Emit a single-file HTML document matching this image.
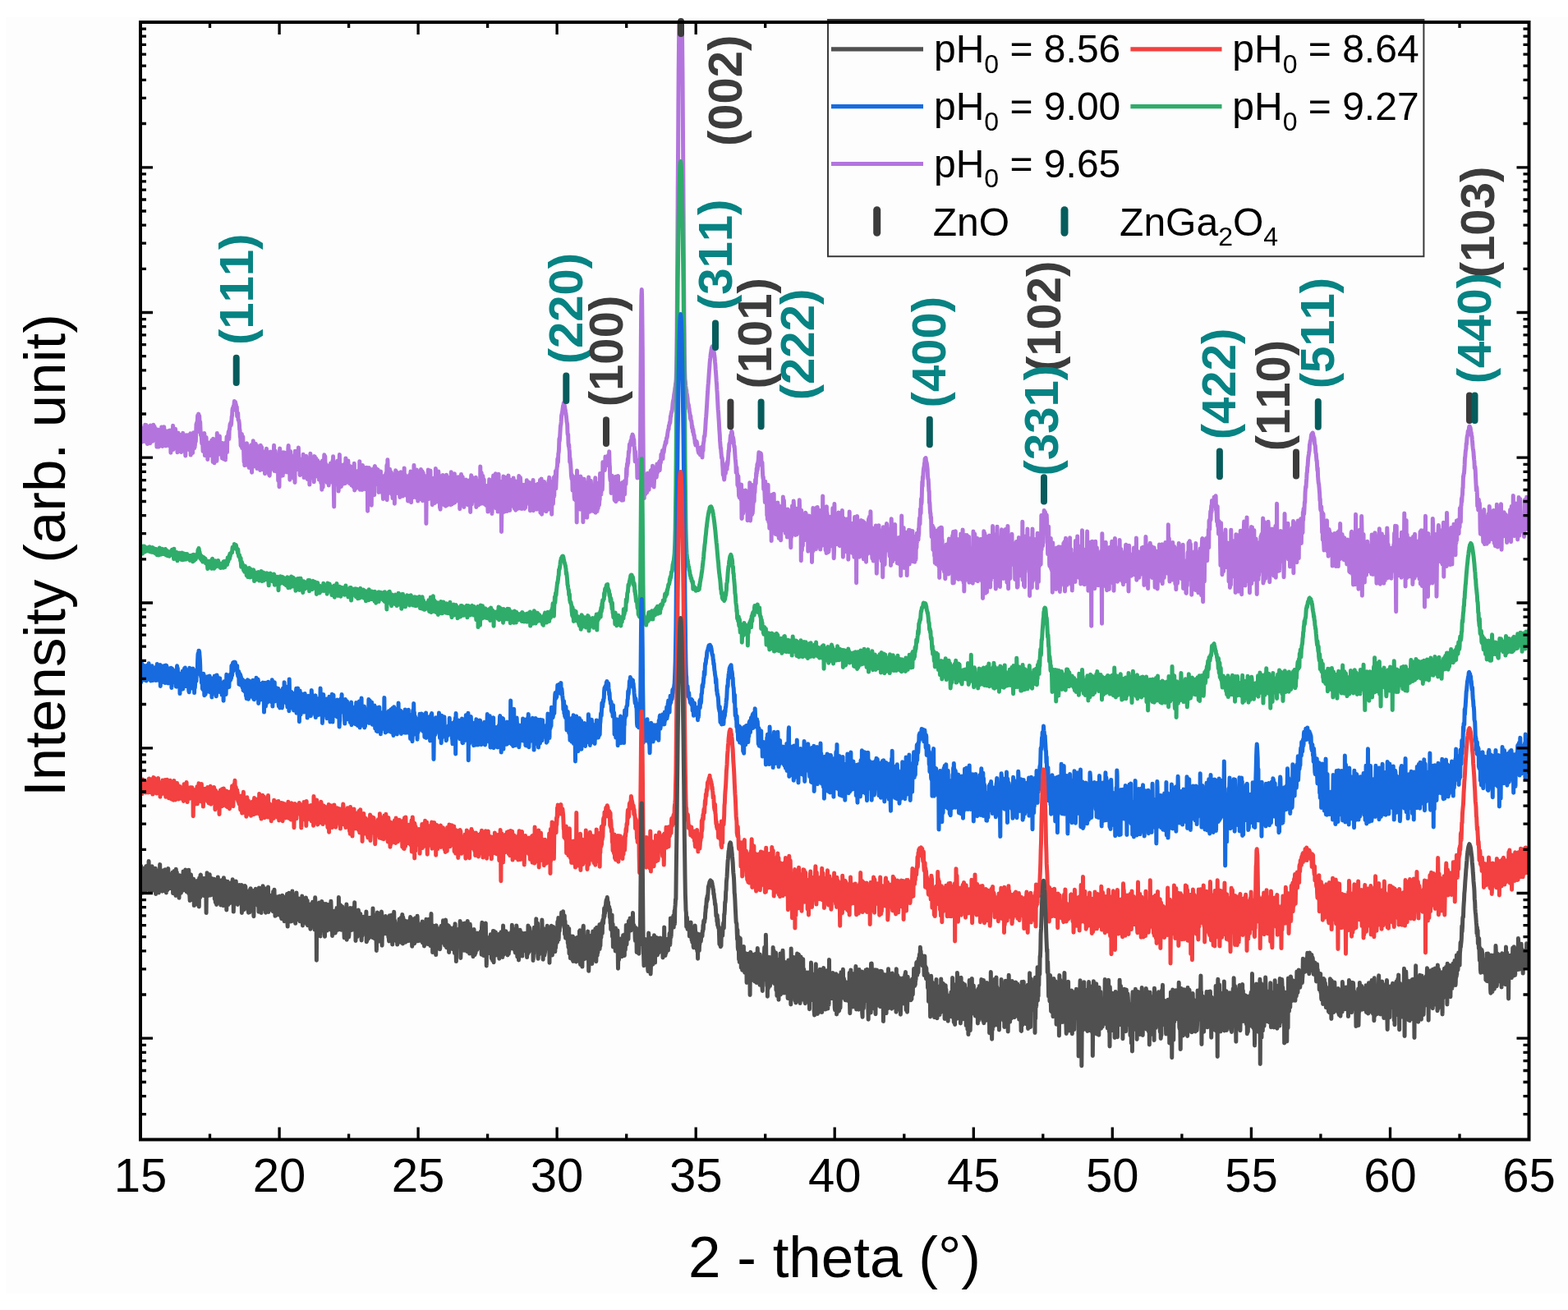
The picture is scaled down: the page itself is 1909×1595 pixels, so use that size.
<!DOCTYPE html><html><head><meta charset="utf-8"><title>XRD</title><style>html,body{margin:0;padding:0;background:#fff;width:1909px;height:1595px;overflow:hidden}svg{display:block}text{font-kerning:none}</style></head><body><svg xmlns="http://www.w3.org/2000/svg" width="1909" height="1595" viewBox="0 0 1909 1595"><rect width="1909" height="1595" fill="#fff"/><rect x="7" y="21" width="1902" height="1554" fill="#fdfdfd"/><defs><clipPath id="pc"><rect x="171.0" y="27.0" width="1690.5" height="1360.5"/></clipPath></defs><g clip-path="url(#pc)" fill="none" stroke-width="5" stroke-linejoin="round" stroke-linecap="round"><path stroke="#b375dd" d="M171.0 517.6l.3 21.9 .4 -16.8 .3 6.8 .4 4.7 .3 -1.7 .3 -6.6 .4 3.7 .3 3.4 .3 -5.8 .4 10.4 .3 -16.3 .4 11.9 .3 -4.6 .3 -.8 .4 5.2 .3 .5 .3 -16.3 .4 18.8 .3 -3 .4 -4.3 .3 -11.1 .3 21.1 .4 -5.3 .3 -10.2 .4 17.4 .3 -9.9 .3 .2 .4 3.2 .3 -14.7 .3 16.8 .4 -5.1 .3 -4.2 .4 1.5 .3 2.3 .3 9.1 .4 -21.7 .3 8 .3 7.8 .4 .4 .3 -15.7 .4 3.6 .3 2.3 .3 3.5 .4 9.2 .3 -11.5 .4 -1.8 .3 -6.6 .3 4.3 .4 13.8 .3 -2.9 .3 -13 .4 8.2 .3 -5.4 .4 -.4 .3 13.9 .3 -8.5 .4 9.3 .3 -10.4 .3 17.9 .4 -3.3 .3 -2.8 .4 -7.2 .3 -7.8 .3 10.5 .4 -2.2 .3 12.8 .4 -3.3 .3 -12.3 .3 7.3 .4 -1.5 .3 3 .3 -5.6 .4 -7.1 .3 2.9 .4 10.8 .3 -18.4 .3 .6 .4 2.1 .3 20.8 .3 -2.5 .4 -12.1 .3 9.2 .4 -2.2 .3 -2.7 .3 -13.4 .4 11.1 .3 8.3 .4 -4.2 .3 -9.9 .3 8.3 .4 9.6 .3 -4.8 .3 .3 .4 -13.4 .3 4.9 .4 -3.3 .3 4.1 .3 2.6 .4 7.1 .3 -5.3 .3 7.5 .4 -18 .3 7.3 .4 -4.6 .3 9.7 .3 -12.9 .4 19.6 .3 -18.8 .4 26.3 .3 -17.9 .3 -3 .4 -6.3 .3 7.5 .3 .2 .4 12.1 .3 -9.1 .4 -16.4 .3 29.1 .3 -14.3 .4 8 .3 -.4 .3 -6.7 .4 4.5 .3 -1.5 .4 .4 .3 -15.1 .3 13.5 .4 .3 .3 -2 .4 -6.1 .3 12.3 .3 1.4 .4 9.1 .3 -13 .3 9.7 .4 -20.5 .3 11.1 .4 1.2 .3 -2.4 .3 6.9 .4 1.5 .3 -1.6 .3 -9.5 .4 2.5 .3 -7.2 .4 20.9 .3 .1 .3 -21 .4 11.2 .3 -6.3 .4 7.9 .3 -6.3 .3 -8.7 .4 18.9 .3 -10.3 .3 -3.8 .4 .8 .3 8.2 .4 -7.2 .3 5.9 .3 4.6 .4 10.6 .3 -17.7 .3 -3.3 .4 -4.3 .3 6.9 .4 -.3 .3 -3 .3 8.8 .4 -5.5 .3 6.6 .4 2.5 .3 -10.5 .3 -5.6 .4 18.2 .3 -5.3 .3 -5.9 .4 2.6 .3 9.8 .4 -21.3 .3 26.4 .3 -9.7 .4 -8.7 .3 3.3 .3 -9.8 .4 7.9 .3 9 .4 5.3 .3 -15.5 .3 8.7 .4 -17.8 .3 2.9 .4 13.2 .3 2.8 .3 -9.9 .4 8.1 .3 -7.8 .3 -2.5 .4 4.1 .3 -8.1 .4 -13.2 .3 10 .3 -11.8 .4 .7 .3 -1.4 .3 -7.9 .4 4.3 .3 1.7 .4 -8.1 .3 8 .3 4 .4 -9.7 .3 6.7 .4 13.4 .3 -12.8 .3 8.1 .4 8.2 .3 -1.1 .3 .5 .4 4.5 .3 6.3 .4 -5.3 .3 -6.9 .3 11.9 .4 9.8 .3 -6.2 .3 3.1 .4 -2.5 .3 -11.5 .4 -4.8 .3 8 .3 19 .4 -7.1 .3 -5.5 .4 11.5 .3 -17.7 .3 -3.2 .4 15.6 .3 .5 .3 -1.5 .4 -8.7 .3 20.9 .4 -12.2 .3 7.7 .3 -9.8 .4 -4.1 .3 3.5 .3 .9 .4 -3.2 .3 .5 .4 11.7 .3 -15.9 .3 .2 .4 12.4 .3 2 .4 -3.9 .3 -13.3 .3 13.3 .4 -2.3 .3 -2.2 .3 17.7 .4 -28.2 .3 17 .4 .9 .3 -5.1 .3 16.8 .4 -11.7 .3 8.5 .3 -11.7 .4 5.9 .3 1.2 .4 -19.7 .3 2.3 .3 12.2 .4 10.4 .3 -33.7 .4 22.9 .3 3.3 .3 -20 .4 5.7 .3 8.8 .3 -13.5 .4 9.7 .3 2.3 .4 -15.6 .3 22 .3 -14.3 .4 6.9 .3 1.4 .3 -7 .4 -.9 .3 12.4 .4 -11.5 .3 17.9 .3 -6 .4 -12.5 .3 6.4 .4 .3 .3 9 .3 3.7 .4 -17.2 .3 2.1 .3 12.8 .4 -14.1 .3 7.6 .4 9.8 .3 -20.9 .3 3.9 .4 .9 .3 -4.2 .3 -7.7 .4 18.7 .3 -17.7 .4 3 .3 -4 .3 -2 .4 -4.1 .3 2.2 .4 6.5 .3 -11.7 .3 .4 .4 -5 .3 -2 .3 0 .4 -1.7 .3 3.3 .4 -1.6 .3 -4.6 .3 -4.4 .4 -1.1 .3 -6.3 .3 -2.5 .4 3 .3 -3 .4 -2.7 .3 -.4 .3 -.3 .4 -5.3 .3 .1 .4 2.2 .3 1.2 .3 -2.6 .4 4 .3 -1.2 .3 4.6 .4 -1.4 .3 .2 .4 11.1 .3 -2.7 .3 1.5 .4 -2.7 .3 7.8 .3 1 .4 -.1 .3 1.5 .4 3.4 .3 6.6 .3 -0 .4 9.3 .3 -2.1 .4 12.4 .3 -12.6 .3 7.4 .4 -5.7 .3 -3.2 .3 17 .4 -4.7 .3 -2.2 .4 -6.9 .3 14.8 .3 -6.8 .4 14.3 .3 8.6 .3 -17.8 .4 21.9 .3 -23 .4 21 .3 -14.8 .3 2.9 .4 -3.7 .3 6.1 .4 -10.5 .3 -5 .3 16.1 .4 10.5 .3 -19.4 .3 6.5 .4 8 .3 -0 .4 -6 .3 13.9 .3 -21.7 .4 -3.5 .3 14 .3 -7.3 .4 -.6 .3 4.2 .4 -12.6 .3 16.5 .3 5.7 .4 11.1 .3 -30.4 .4 23.4 .3 -10.2 .3 -15.2 .4 -6.1 .3 31.6 .3 -19 .4 -7.2 .3 22.3 .4 -11.4 .3 -10.9 .3 -1.3 .4 25 .3 -25.6 .3 26.2 .4 -5.2 .3 -13.4 .4 -5.4 .3 28.2 .3 -18.9 .4 7.1 .3 5.2 .4 -16.5 .3 -1.4 .3 -1.7 .4 19.5 .3 5.7 .3 -8.4 .4 -5.8 .3 17.1 .4 -10.2 .3 -20 .3 10.2 .4 14 .3 -6.2 .3 -15.8 .4 27.1 .3 -12 .4 3.6 .3 -6.6 .3 -7.1 .4 20.9 .3 1.6 .4 -3 .3 -14 .3 3.2 .4 18.6 .3 -2.7 .3 -11.7 .4 -9.8 .3 2.4 .4 10.9 .3 -19.6 .3 23.9 .4 -3.3 .3 4.5 .3 -5.5 .4 -12 .3 2 .4 3.7 .3 14.9 .3 2.7 .4 1.5 .3 .3 .4 -6.1 .3 -6.6 .3 -16.3 .4 19.8 .3 -19.1 .3 14.5 .4 4.9 .3 -18.3 .4 8.6 .3 .6 .3 1.6 .4 -9.3 .3 17.8 .3 -8.3 .4 -13 .3 -7.5 .4 31.2 .3 -24.1 .3 1.2 .4 5.2 .3 -6.8 .4 9.1 .3 3.3 .3 -8.5 .4 21.4 .3 -16.5 .3 11 .4 -5.9 .3 9.3 .4 -9 .3 21.9 .3 -.5 .4 -27.3 .3 4.9 .3 30.6 .4 -40.1 .3 -6.7 .4 31.8 .3 -19.8 .3 9.8 .4 -.3 .3 -3.9 .4 15.5 .3 .1 .3 -5.6 .4 -3.8 .3 -8.2 .3 17.3 .4 -28.2 .3 8.7 .4 15.3 .3 -19.3 .3 16.3 .4 -20.6 .3 18.3 .4 -4.3 .3 -10.3 .3 -2.5 .4 5 .3 15.9 .3 1.7 .4 -.8 .3 -2.2 .4 -6.9 .3 10 .3 -19 .4 -10.5 .3 -3.1 .3 14.6 .4 15.3 .3 -2.4 .4 -.7 .3 15 .3 -1.9 .4 -32.7 .3 6.7 .4 -2.7 .3 25.1 .3 -16.9 .4 -5 .3 2.5 .3 .6 .4 19.6 .3 -.2 .4 -20.7 .3 17.3 .3 5 .4 1.9 .3 -3.9 .3 -8.6 .4 17.2 .3 -38.3 .4 20.1 .3 -9 .3 8.8 .4 -.7 .3 3 .4 -9.7 .3 10.1 .3 -17.2 .4 9.4 .3 5.7 .3 -14.7 .4 -10 .3 20.4 .4 -6.4 .3 9.2 .3 -9.7 .4 20 .3 -4 .3 -3.2 .4 3.8 .3 -2.5 .4 .8 .3 -14.2 .3 11.5 .4 -9.5 .3 12.3 .4 -6.6 .3 11 .3 -24.6 .4 14.3 .3 3.7 .3 10.3 .4 -14 .3 1.3 .4 3.9 .3 -.2 .3 -5.3 .4 -11.7 .3 5.9 .3 -6.3 .4 24 .3 -16.2 .4 10.3 .3 10.1 .3 -19.2 .4 16.2 .3 -20.3 .4 .4 .3 16.2 .3 -6 .4 4 .3 15.4 .3 -16.5 .4 -0 .3 -21.3 .4 25.6 .3 -17.6 .3 15.3 .4 -8.7 .3 -1.8 .3 -0 .4 5.4 .3 8.3 .4 -20.3 .3 23.8 .3 -9.2 .4 6.6 .3 7.1 .4 -31.2 .3 20.1 .3 -19.8 .4 4.1 .3 3.7 .3 1.1 .4 11 .3 -17.2 .4 9.1 .3 12.3 .3 -.5 .4 -9.5 .3 -9.4 .3 18.7 .4 -9.9 .3 8.9 .4 -9 .3 14.8 .3 -4.2 .4 2.9 .3 -10.5 .4 -9 .3 4.9 .3 2.3 .4 17.4 .3 -13.7 .3 -3.9 .4 25.9 .3 -21.8 .4 -13.3 .3 17.7 .3 14.3 .4 -14.1 .3 -12.7 .3 2 .4 -7.4 .3 -7.1 .4 6.7 .3 10.5 .3 -15.4 .4 18.7 .3 -8 .4 -.9 .3 -.1 .3 7.6 .4 7.3 .3 7.4 .3 -5.9 .4 -1.1 .3 -6.7 .4 -6.5 .3 9.6 .3 14 .4 -16.8 .3 11.6 .3 -12 .4 6.5 .3 -9.6 .4 10 .3 -16.8 .3 14.4 .4 2.7 .3 2.7 .4 -14.8 .3 5.9 .3 12.6 .4 -26.6 .3 26 .3 -31 .4 16.4 .3 21.5 .4 23.2 .3 -53.7 .3 17.2 .4 -6.2 .3 2.5 .3 -2.9 .4 2.9 .3 -2.1 .4 9.6 .3 -11 .3 -4.2 .4 20.9 .3 -28.6 .4 17.5 .3 -6.5 .3 8.2 .4 17.6 .3 -3.4 .3 -24.1 .4 -7.7 .3 -9.3 .4 27.1 .3 -15.7 .3 8.1 .4 5 .3 6.8 .3 7.6 .4 -15.5 .3 -9.8 .4 9.3 .3 -10.2 .3 13.8 .4 -13.6 .3 12.4 .4 -10.4 .3 20.4 .3 -3.3 .4 -7.5 .3 -.1 .3 -13.2 .4 -.7 .3 24.4 .4 -30.6 .3 10 .3 14.2 .4 -.8 .3 .7 .3 -4 .4 1.8 .3 -2.3 .4 9.3 .3 -25.8 .3 10.7 .4 -.1 .3 8.3 .4 -6 .3 14.8 .3 .1 .4 -7 .3 -4.6 .3 -9.4 .4 15.7 .3 -5.3 .4 12.7 .3 -13.6 .3 -2.8 .4 6.3 .3 4.9 .3 2.4 .4 -13.4 .3 18.2 .4 -8.7 .3 3.2 .3 -23.1 .4 32.6 .3 -23 .4 9.5 .3 9.1 .3 -9.3 .4 6.1 .3 5.2 .3 -.6 .4 -19.8 .3 20 .4 -7.3 .3 3.1 .3 -6.1 .4 -7 .3 16.3 .3 -20 .4 13.5 .3 7 .4 -31.9 .3 29 .3 5.6 .4 -2.8 .3 -24.3 .4 23 .3 -6.2 .3 -1.7 .4 -1.7 .3 13.8 .3 -12.5 .4 -17.3 .3 8.1 .4 -1 .3 20.3 .3 -24.9 .4 14.3 .3 0 .3 -2.6 .4 -.4 .3 15.2 .4 -12.2 .3 -3.2 .3 6 .4 -5.8 .3 -5.2 .4 -5.9 .3 15 .3 -12.4 .4 50.4 .3 -49.9 .3 17 .4 15.8 .3 -22.3 .4 -13.5 .3 21.1 .3 -11.1 .4 12.3 .3 -6.8 .3 5.3 .4 1.2 .3 -16.8 .4 20.2 .3 20.4 .3 -26 .4 -1.6 .3 -16.2 .4 22.8 .3 -10.9 .3 -11 .4 .2 .3 10.8 .3 -10 .4 29.4 .3 -34 .4 -1.2 .3 7.8 .3 -3.2 .4 -2.3 .3 20 .3 -18.3 .4 12.6 .3 2.9 .4 -5.1 .3 -0 .3 -4.8 .4 -5.4 .3 19 .4 -15.9 .3 24.7 .3 -8.4 .4 3.4 .3 -14.2 .3 5.8 .4 5.9 .3 -13.3 .4 -4.8 .3 17.2 .3 -1.7 .4 -9.4 .3 5.2 .3 14.3 .4 -16.7 .3 18.1 .4 1 .3 5.6 .3 -26 .4 13.9 .3 -13.2 .4 -.4 .3 -2.5 .3 15.2 .4 3.6 .3 -15.2 .3 3.4 .4 -10 .3 15.5 .4 -6.7 .3 -18.5 .3 42.1 .4 -20.7 .3 -28.2 .3 10.1 .4 14.3 .3 5.7 .4 .5 .3 3.2 .3 6.6 .4 -15.4 .3 -13.5 .4 22.2 .3 4.1 .3 -3.6 .4 5.9 .3 -24.8 .3 7.2 .4 19.6 .3 -14.1 .4 4.5 .3 14.3 .3 -6.7 .4 -2.7 .3 -12.2 .3 7.3 .4 -11 .3 -3.9 .4 35.9 .3 -22.2 .3 -6.8 .4 11.2 .3 -22.8 .4 18 .3 3.9 .3 -1.6 .4 7.4 .3 -25.7 .3 24.5 .4 -5.8 .3 -11.2 .4 1.2 .3 -6.6 .3 15.7 .4 -7 .3 -5.3 .3 17 .4 8.2 .3 -13 .4 5.9 .3 -16.2 .3 -7.4 .4 20.6 .3 -9.7 .4 -8.2 .3 17.2 .3 -10.3 .4 18.7 .3 1 .3 -18.7 .4 -.1 .3 -2.2 .4 8 .3 -21.1 .3 23.1 .4 -15.5 .3 19.7 .3 -11.4 .4 2.3 .3 15 .4 -19.3 .3 12.7 .3 4.4 .4 -18.7 .3 -1.6 .4 -.6 .3 30 .3 -3.7 .4 -25.1 .3 -1.3 .3 5.5 .4 1.9 .3 13.4 .4 -1.4 .3 -21.9 .3 16.6 .4 -19.9 .3 9.4 .3 28.3 .4 -36.3 .3 10.6 .4 -8.3 .3 9.7 .3 -3.8 .4 6.1 .3 11.4 .4 -14.6 .3 18.9 .3 -39 .4 25.8 .3 -12.7 .3 17.6 .4 7.5 .3 -7 .4 1 .3 -4.2 .3 -15.8 .4 27.5 .3 -34.1 .3 25 .4 -.7 .3 -20.8 .4 34.5 .3 -7.6 .3 -19.1 .4 19.7 .3 -23 .4 24.5 .3 -15 .3 -15.1 .4 26.8 .3 6.2 .3 -10.2 .4 -25.7 .3 30.3 .4 -23.6 .3 23.5 .3 -3 .4 -25 .3 35.9 .3 -34.4 .4 .5 .3 6.3 .4 17.4 .3 -13 .3 6.9 .4 -1.7 .3 -1.9 .4 0 .3 -10 .3 29.7 .4 -26.7 .3 54.8 .3 -33.5 .4 -23.8 .3 10.4 .4 6.8 .3 -8.3 .3 16.9 .4 -34 .3 33.5 .3 1.9 .4 -3 .3 -12.5 .4 -2.3 .3 6.5 .3 -11.9 .4 -11.2 .3 26.4 .4 1.9 .3 .6 .3 -9.6 .4 -8.6 .3 15.4 .3 15.6 .4 -24.3 .3 10.2 .4 1.8 .3 -20.2 .3 6.8 .4 -7.2 .3 17.2 .3 1.6 .4 11.8 .3 -21.1 .4 12.6 .3 -33.5 .3 20.1 .4 5.7 .3 10.7 .4 -7.7 .3 -12.1 .3 17 .4 1.1 .3 3.8 .3 2 .4 -37 .3 5.5 .4 6.5 .3 7.8 .3 -15 .4 39.2 .3 -22.5 .3 24.6 .4 -26 .3 -7.7 .4 11.6 .3 -6.7 .3 1.7 .4 5.5 .3 -5.9 .4 17.2 .3 -31.3 .3 35.6 .4 -28.6 .3 18.7 .3 -14.3 .4 25 .3 -17.6 .4 -3.6 .3 -14 .3 16.2 .4 20.3 .3 -33.9 .3 20.6 .4 -24.7 .3 35.2 .4 -2 .3 3.4 .3 -10.7 .4 4.7 .3 -.4 .4 -5.1 .3 -7.6 .3 -14.3 .4 2 .3 14.4 .3 8.1 .4 7 .3 -14.4 .4 16.1 .3 -11.5 .3 -28.5 .4 26.8 .3 12.6 .3 -20.5 .4 5.2 .3 14.1 .4 -3.1 .3 -21.1 .3 7.7 .4 -3.7 .3 19.7 .4 -28.9 .3 -6.8 .3 35.2 .4 -10.2 .3 5.3 .3 -11.2 .4 -12.9 .3 26.9 .4 -23.7 .3 17.7 .3 -10.7 .4 7.6 .3 9.1 .3 -3.7 .4 -25.3 .3 9.1 .4 10.8 .3 6.2 .3 -21.4 .4 4.7 .3 29.6 .4 -21.2 .3 5.4 .3 5.5 .4 -7.1 .3 -24.8 .3 11.1 .4 -2.1 .3 20.7 .4 5.5 .3 -32.3 .3 33.6 .4 -15.9 .3 -3.6 .3 -9.9 .4 32.8 .3 -12.2 .4 4.2 .3 -.9 .3 -18.3 .4 2.4 .3 13.5 .4 -22.3 .3 22.1 .3 -19.9 .4 14.6 .3 -.9 .3 -5.6 .4 11.2 .3 9.3 .4 -13.8 .3 -.9 .3 9.1 .4 -24.1 .3 23 .3 -5.8 .4 -3.5 .3 5.4 .4 19.4 .3 -31 .3 4 .4 -17.7 .3 31 .4 4.2 .3 -33.2 .3 25.9 .4 -8.8 .3 -0 .3 -9 .4 -1 .3 -1.6 .4 19.6 .3 -1.3 .3 -7.2 .4 1.5 .3 3.8 .3 5.8 .4 2.5 .3 -29.8 .4 36.2 .3 -15.6 .3 -10.1 .4 -4.7 .3 -1.1 .4 17.8 .3 -13.2 .3 3.9 .4 20.7 .3 -11 .3 -13 .4 10.2 .3 -16.2 .4 28.6 .3 -.8 .3 -45 .4 41.4 .3 -16.8 .3 11.2 .4 -28.1 .3 12.6 .4 24.9 .3 -16.9 .3 -1.4 .4 -15.2 .3 3.7 .4 27.7 .3 -23.3 .3 -4 .4 25.2 .3 -8.8 .3 13.8 .4 -11.7 .3 1 .4 11.4 .3 -10.7 .3 11.5 .4 -13.1 .3 -9.2 .3 -1.5 .4 21.1 .3 -3.5 .4 13.9 .3 -18.8 .3 14.2 .4 -2.8 .3 -16.4 .4 -15.6 .3 23.7 .3 -15.7 .4 9.2 .3 5.4 .3 -3.6 .4 -6.7 .3 -10.9 .4 31.6 .3 -19.2 .3 27.9 .4 -9.3 .3 -23.9 .3 19.2 .4 -28.9 .3 -3.5 .4 26 .3 -2.3 .3 2.8 .4 11.2 .3 -4.3 .4 -11.3 .3 -9.1 .3 -15.2 .4 11.8 .3 30.5 .3 -13 .4 .9 .3 -8.6 .4 16.5 .3 -17 .3 25.2 .4 -21.1 .3 -.6 .3 -24.2 .4 30.4 .3 -15.2 .4 -1.1 .3 -3.3 .3 4 .4 -5.7 .3 1.5 .4 12.2 .3 13.7 .3 33.8 .4 -28.1 .3 -29.9 .3 16.9 .4 -20.2 .3 17.6 .4 20 .3 -43.7 .3 19.6 .4 -2.8 .3 -3 .3 -3 .4 32.1 .3 -34.5 .4 3.6 .3 21.9 .3 -5.8 .4 -12.5 .3 -7.8 .4 -7 .3 41.6 .3 -24.9 .4 -3.5 .3 13.3 .3 2.6 .4 -30.9 .3 21 .4 14.5 .3 -.1 .3 -18.2 .4 25.3 .3 -34.4 .3 29.7 .4 -32.7 .3 13.5 .4 16.2 .3 -17.6 .3 12.1 .4 -20 .3 27.7 .4 -9.2 .3 -6.1 .3 -3.4 .4 -15.4 .3 3.9 .3 21.3 .4 -11.8 .3 23.9 .4 -12.7 .3 -16.9 .3 -3.9 .4 35.4 .3 -21.2 .3 -7.7 .4 26.8 .3 -23.8 .4 12.9 .3 3.2 .3 8 .4 -33.5 .3 6.4 .4 11.6 .3 -7.8 .3 -16.5 .4 12.9 .3 -8.7 .3 29.3 .4 6 .3 -37.5 .4 6.7 .3 18.5 .3 .2 .4 -2.9 .3 15.5 .3 -15 .4 -9.2 .3 5.8 .4 14 .3 -23.1 .3 14.7 .4 -8.8 .3 -7.8 .4 10.8 .3 18.4 .3 -17 .4 -4.8 .3 20.5 .3 -16.3 .4 -6.7 .3 -4.3 .4 15.7 .3 -21.7 .3 4.7 .4 21.2 .3 -11 .3 6.7 .4 -3.6 .3 -16 .4 19.8 .3 -13.2 .3 -2 .4 23.3 .3 -24.6 .4 31.7 .3 -8.8 .3 -25 .4 26.8 .3 -.3 .3 -5.3 .4 5.9 .3 -3.4 .4 6.8 .3 -26.1 .3 1.6 .4 -9.5 .3 37.2 .3 -18.3 .4 -4.3 .3 13.4 .4 -16.5 .3 -5.9 .3 4.9 .4 -3.5 .3 21.7 .4 -15.5 .3 8.3 .3 4.1 .4 10.1 .3 -11.1 .3 -12.7 .4 -3.2 .3 -4 .4 15.9 .3 2.3 .3 .5 .4 -2.5 .3 6.4 .3 -20.7 .4 13.8 .3 -20.4 .4 39.8 .3 -13 .3 -14.9 .4 17.4 .3 -30.8 .4 43.2 .3 -27.1 .3 18 .4 5.6 .3 -35.6 .3 25.3 .4 -8.6 .3 4.7 .4 5.3 .3 -27.3 .3 28.1 .4 6.1 .3 -8.6 .3 -18.4 .4 -2.6 .3 1.1 .4 30.6 .3 -16.7 .3 .9 .4 12.6 .3 -30 .4 5.5 .3 -1.7 .3 27 .4 -17.1 .3 -18.2 .3 15.2 .4 -19 .3 13.6 .4 11.9 .3 2.5 .3 1.5 .4 .1 .3 -10.5 .3 7.8 .4 -5.5 .3 23.5 .4 -23.3 .3 .8 .3 -17.7 .4 19.9 .3 7.5 .4 -12.3 .3 -19.6 .3 12.3 .4 10.4 .3 -15.2 .3 -9.1 .4 4.5 .3 3.1 .4 -14 .3 21.3 .3 -7.5 .4 -7.2 .3 -8 .4 -3.6 .3 -.7 .3 -9.2 .4 4.9 .3 -1.7 .3 -9.5 .4 -1.6 .3 -3.7 .4 -12.8 .3 3.1 .3 -3.1 .4 -6.3 .3 -4.9 .3 -4.8 .4 -1.3 .3 -3.2 .4 -7.8 .3 -.9 .3 -1.8 .4 -1.8 .3 -2.2 .4 -3 .3 -2.4 .3 1.2 .4 -4.3 .3 2.1 .3 1.3 .4 -.6 .3 1.9 .4 2.9 .3 1 .3 2.1 .4 2.1 .3 3.2 .3 2.2 .4 4.6 .3 1.2 .4 2.4 .3 10.1 .3 2.1 .4 -.3 .3 10.8 .4 3.8 .3 -2.2 .3 5.1 .4 3.2 .3 13 .3 -5.1 .4 4 .3 3.4 .4 6.1 .3 7.1 .3 2.5 .4 2.6 .3 -5 .3 3.9 .4 15.1 .3 -8.4 .4 -.1 .3 5.1 .3 -13.5 .4 9.7 .3 14.1 .4 3.9 .3 -13.3 .3 11.5 .4 2.6 .3 -14.6 .3 7.2 .4 -13.7 .3 -6.3 .4 54.6 .3 -63.2 .3 32.4 .4 9 .3 4.6 .3 -22.4 .4 -6.4 .3 4.9 .4 -14.2 .3 29.9 .3 6.5 .4 -23.9 .3 27 .4 -24.7 .3 -15.5 .3 14.6 .4 -.4 .3 17 .3 -4.9 .4 -16.6 .3 4.8 .4 8.9 .3 -20.6 .3 52.9 .4 -19.3 .3 3.1 .3 -27.2 .4 -9.2 .3 10 .4 14.8 .3 -20 .3 7.5 .4 -3.5 .3 24.6 .4 -7.9 .3 10.7 .3 -31.9 .4 42.7 .3 -8 .3 -16.3 .4 -14.5 .3 7.4 .4 3.8 .3 -21.5 .3 26 .4 .5 .3 15.7 .3 -3.9 .4 -.9 .3 -22.7 .4 22.1 .3 -32.3 .3 10.5 .4 12.3 .3 13.6 .4 -6.4 .3 -19.7 .3 16.8 .4 5.7 .3 -24.4 .3 -1.7 .4 3.2 .3 27.3 .4 -18 .3 -9.5 .3 22 .4 -26.8 .3 -8.7 .3 42.4 .4 -18.2 .3 -9.3 .4 -3.7 .3 1.1 .3 13.7 .4 14.6 .3 -18.6 .4 .6 .3 14.3 .3 -8.1 .4 -22.5 .3 21.5 .3 5.3 .4 -6.8 .3 .2 .4 -31.9 .3 14.3 .3 8.4 .4 -13.2 .3 16 .3 -19.8 .4 7.9 .3 -10.7 .4 17.2 .3 -7.9 .3 -25.9 .4 8.3 .3 -2.4 .4 -1.7 .3 3.4 .3 -4.4 .4 -2.5 .3 9.2 .3 -2.9 .4 -13.7 .3 8 .4 0 .3 -2.4 .3 -4.5 .4 5.5 .3 -3.5 .3 3.6 .4 -4.3 .3 4.4 .4 -8.4 .3 .4 .3 12.2 .4 -2.9 .3 -14.4 .4 15.4 .3 2.8 .3 12.9 .4 4.1 .3 -6.7 .3 1 .4 21.3 .3 -17.1 .4 6 .3 -10.2 .3 3.4 .4 17.4 .3 -12 .3 8.7 .4 .4 .3 -3.6 .4 7.9 .3 -7.2 .3 14.3 .4 .8 .3 -5 .4 -23.8 .3 2.8 .3 27.4 .4 -1.3 .3 -15.5 .3 4.7 .4 -18.5 .3 15.8 .4 -.5 .3 -2.6 .3 -13.4 .4 28.5 .3 -13.6 .3 9.2 .4 -10.4 .3 13.2 .4 -9 .3 -1.7 .3 8.9 .4 -8.5 .3 .3 .4 -7.7 .3 5.6 .3 15.1 .4 -15.8 .3 5.8 .3 -11.8 .4 7.2 .3 14.4 .4 -16.8 .3 -.5 .3 -3.1 .4 3.6 .3 -6.5 .3 16.1 .4 -13.2 .3 -2.4 .4 2.3 .3 .9 .3 -8.1 .4 -11.2 .3 9.7 .4 -13.7 .3 -2 .3 3.3 .4 -9.1 .3 5.8 .3 -6.4 .4 -8.1 .3 1.5 .4 -2.8 .3 -7.3 .3 .4 .4 -1.2 .3 2.1 .3 -4.1 .4 -2.1 .3 1.1 .4 1.5 .3 -6.9 .3 -.8 .4 2.1 .3 -4.3 .4 9.3 .3 -7.6 .3 2.4 .4 6.2 .3 -4.2 .3 7.2 .4 3.6 .3 6.1 .4 10 .3 -12.3 .3 7 .4 5.3 .3 .8 .3 -2.8 .4 1.4 .3 .3 .4 20.3 .3 -17.3 .3 9.2 .4 -.8 .3 3.2 .4 3.9 .3 -3.8 .3 .2 .4 5.1 .3 -10 .3 -18.7 .4 -30.2 .3 -49.6 .4 -50 .3 -38.3 .3 -24.1 .4 -8.2 .3 8.1 .3 24.2 .4 39.2 .3 48.7 .4 54.6 .3 32.6 .3 39.2 .4 -17.8 .3 25.3 .4 -25.5 .3 11.9 .3 -5.1 .4 -8.7 .3 22.2 .3 -6.9 .4 4.4 .3 -1.9 .4 -2.1 .3 4.8 .3 -4.4 .4 -19 .3 12.5 .3 -1 .4 -4.9 .3 12.7 .4 .7 .3 -14.3 .3 -1.1 .4 1.7 .3 7 .4 -3 .3 -13.3 .3 3.7 .4 14 .3 -18.8 .3 10.4 .4 -1.1 .3 8.1 .4 -22.4 .3 6 .3 14 .4 -4.2 .3 -5.6 .3 15.6 .4 -7.4 .3 -13.5 .4 9.3 .3 -.7 .3 -5.9 .4 -5.9 .3 3.9 .4 8.4 .3 -.3 .3 -2.5 .4 -13.3 .3 2 .3 8.2 .4 -9.5 .3 7.3 .4 -8.4 .3 5.7 .3 -4.7 .4 -2.7 .3 -1.1 .3 10.8 .4 -6.7 .3 -5 .4 2.6 .3 -1.3 .3 -9 .4 4.1 .3 -2.3 .4 -1.1 .3 -3.3 .3 -2.3 .4 10.2 .3 -7.2 .3 -2.3 .4 1.9 .3 -1.9 .4 -3.7 .3 -1.5 .3 -1.5 .4 -.5 .3 -2 .3 -2.1 .4 -.1 .3 1.9 .4 -5.4 .3 -1.3 .3 .4 .4 -1.9 .3 -3.3 .4 -2.5 .3 -2 .3 -.8 .4 -.3 .3 -4.4 .3 -.4 .4 -1.3 .3 -2.3 .4 .8 .3 -3.7 .3 -4.5 .4 .3 .3 -3.2 .3 -1 .4 -2.4 .3 .4 .4 -2.6 .3 -3.8 .3 -3.6 .4 -2.6 .3 -1.2 .4 -1.2 .3 -3.7 .3 -2.1 .4 -2.4 .3 -1.7 .3 -3.3 .4 -1.7 .3 -3.4 .4 -2.2 .3 -4.5 .3 -10.6 .4 -19.7 .3 -35.3 .3 -49.6 .4 -56.4 .3 -56.8 .4 -53.7 .3 -49 .3 -43.6 .4 -38 .3 -32.3 .4 -26.4 .3 -20.5 .3 -14.7 .4 -8.8 .3 -2.9 .3 3 .4 8.8 .3 14.8 .4 20.6 .3 26.4 .3 32.3 .4 38.1 .3 43.7 .3 49 .4 53.8 .3 56.9 .4 56.5 .3 49.6 .3 35.7 .4 20.1 .3 9.7 .4 3.2 .3 4.5 .3 2.8 .4 2.2 .3 .8 .3 4.5 .4 .6 .3 2.2 .4 2.6 .3 4.8 .3 1.1 .4 1.7 .3 .5 .3 4.9 .4 -.3 .3 3.8 .4 1.4 .3 2.2 .3 4.7 .4 -3.3 .3 5.1 .4 .4 .3 .7 .3 2.5 .4 5.9 .3 -2.5 .3 2.8 .4 4.4 .3 -2.8 .4 2.5 .3 3.8 .3 1 .4 -.3 .3 4.1 .3 .5 .4 5 .3 -2.8 .4 5.3 .3 -5.2 .3 3.9 .4 -.3 .3 -2.6 .4 2.3 .3 2.3 .3 1 .4 1.9 .3 3.4 .3 .9 .4 1.9 .3 -5.1 .4 .1 .3 .4 .3 -1.2 .4 7.8 .3 -5.1 .3 -.1 .4 6 .3 -9.3 .4 4.9 .3 1 .3 -6.8 .4 12.8 .3 -9 .4 -3.5 .3 4.4 .3 -7.9 .4 -2.7 .3 -1.1 .3 -5.8 .4 .2 .3 -.4 .4 -5.7 .3 -2.8 .3 -5.8 .4 -6.8 .3 -2.5 .3 -4.1 .4 -6.5 .3 -4.7 .4 -7 .3 -5.1 .3 -3.8 .4 -7.1 .3 -2.7 .4 -5.4 .3 -4.6 .3 -4.6 .4 -4.6 .3 -4.9 .3 -3.5 .4 -2.9 .3 -3.5 .4 -2.6 .3 -2.1 .3 -2.3 .4 -1.8 .3 -.8 .3 -1 .4 .2 .3 -.2 .4 1.2 .3 1 .3 1.6 .4 3.1 .3 2.2 .4 2.5 .3 2.9 .3 4 .4 3.7 .3 5.3 .3 3.5 .4 5.6 .3 5.4 .4 4.2 .3 6.6 .3 3.4 .4 7.9 .3 6 .3 6.2 .4 3.7 .3 5.8 .4 5.6 .3 6 .3 5.1 .4 5.1 .3 7.2 .4 4.6 .3 4.6 .3 -.4 .4 5.6 .3 2.7 .3 3.9 .4 -.6 .3 1.6 .4 8.2 .3 3.9 .3 7.4 .4 -9.2 .3 6.7 .3 5.2 .4 3 .3 -2.6 .4 -9.4 .3 2.6 .3 -3.4 .4 5.4 .3 -7.2 .4 -3.6 .3 2.1 .3 -3.9 .4 7.4 .3 -9 .3 4.3 .4 -2.8 .3 -4.7 .4 -5.5 .3 -5.1 .3 1.4 .4 -8.7 .3 -1.5 .3 .3 .4 -1.5 .3 -4.6 .4 -3.8 .3 .6 .3 -.6 .4 -3.4 .3 -1.6 .4 .8 .3 1.4 .3 5.7 .4 .4 .3 -1.1 .3 1.8 .4 2.9 .3 3.8 .4 3.8 .3 -1.1 .3 4.5 .4 5.8 .3 4.4 .3 2.6 .4 4.6 .3 10 .4 -.5 .3 -5.9 .3 7.7 .4 -0 .3 13.9 .4 -7.1 .3 8.9 .3 -12.6 .4 15.3 .3 8.8 .3 0 .4 1.7 .3 -3 .4 3.3 .3 -1.3 .3 -4.6 .4 8.2 .3 -12.6 .3 -5.5 .4 41.3 .3 -.3 .4 -34.3 .3 4.6 .3 19.9 .4 3.8 .3 -4.3 .4 -13.3 .3 -5.6 .3 -2.1 .4 16.1 .3 5.7 .3 -16.1 .4 5.1 .3 -13.6 .4 2.3 .3 -1 .3 21 .4 2.2 .3 -1.8 .3 -20.2 .4 34.3 .3 -27.8 .4 13.7 .3 1 .3 -8.4 .4 -.1 .3 -3.1 .4 11.2 .3 -32.6 .3 32.5 .4 13.8 .3 -3.2 .3 -12.3 .4 -28 .3 10.4 .4 -10.7 .3 36.5 .3 -2 .4 .4 .3 -3.2 .3 -5.2 .4 -5.7 .3 -12.7 .4 -7.1 .3 19.3 .3 -17.5 .4 6.8 .3 -5.5 .4 -10.2 .3 -.3 .3 5.2 .4 -13.1 .3 3.9 .3 -9.5 .4 5.7 .3 -10.7 .4 6.7 .3 -3.7 .3 -6.1 .4 -2.1 .3 -5.5 .3 -3.9 .4 .2 .3 4.2 .4 -3.8 .3 7.1 .3 -6.3 .4 11 .3 -11.1 .4 2 .3 7.4 .3 5.4 .4 -.1 .3 -3.8 .3 8.7 .4 8.1 .3 2.9 .4 -1.6 .3 14.7 .3 -7.8 .4 .3 .3 4.6 .3 9.8 .4 9 .3 -25.4 .4 8.9 .3 16.6 .3 -14.7 .4 7.5 .3 -.6 .4 23.7 .3 -22.3 .3 27.1 .4 -9.8 .3 -32.4 .3 35.3 .4 10.2 .3 -25.9 .4 18.1 .3 15.4 .3 -23.2 .4 9.3 .3 9.2 .3 -8.3 .4 -3.2 .3 -8.4 .4 39.9 .3 -56.1 .3 19.8 .4 9.6 .3 -21.6 .4 34.1 .3 -27.5 .3 -9.6 .4 22.1 .3 -28.2 .3 30.2 .4 -20 .3 30 .4 -16.8 .3 7.5 .3 18.3 .4 -17.3 .3 -1.1 .3 -16.3 .4 13.9 .3 7 .4 -2.1 .3 13.1 .3 -35.5 .4 22.8 .3 17.7 .4 -34.5 .3 37.3 .3 -39.4 .4 19.3 .3 -18.8 .3 6.9 .4 10.7 .3 22.1 .4 1.6 .3 -27.1 .3 5.2 .4 10.5 .3 -11.3 .3 8.2 .4 -18.8 .3 12.3 .4 -31.8 .3 14.4 .3 -5.4 .4 -5 .3 7.3 .4 9.5 .3 19 .3 -4.8 .4 .5 .3 8.8 .3 -28.3 .4 14.6 .3 7 .4 -11.3 .3 16.7 .3 6.1 .4 -23.2 .3 -10.8 .3 22.9 .4 -20.4 .3 6.4 .4 -4.2 .3 -1.2 .3 27.8 .4 1.3 .3 -7.6 .4 -23.5 .3 28 .3 17.2 .4 -29.7 .3 17.2 .3 -24.6 .4 -.5 .3 -13.4 .4 -.1 .3 5.9 .3 7.4 .4 2.3 .3 -21.3 .3 5 .4 21.8 .3 -7.6 .4 8.4 .3 3.7 .3 10.2 .4 -25 .3 -7.5 .4 31.7 .3 -9.4 .3 9.7 .4 -1.4 .3 -15.7 .3 10.5 .4 3.5 .3 -5 .4 -14.4 .3 .1 .3 10.5 .4 -19.2 .3 -11.1 .3 11.1 .4 9.3 .3 -1.6 .4 5.7 .3 -6.1 .3 55.5 .4 -61.5 .3 37 .4 11.7 .3 -27.7 .3 -6.9 .4 29.3 .3 -38.3 .3 11.3 .4 -2.4 .3 9.7 .4 -16.7 .3 25.7 .3 .1 .4 3.4 .3 -24 .3 -9.2 .4 .9 .3 25.9 .4 4.7 .3 -17.3 .3 -1.9 .4 -0 .3 -.8 .4 -7.5 .3 43 .3 -21.7 .4 -14.3 .3 -2.2 .3 -4.9 .4 25.4 .3 -17 .4 26 .3 -12 .3 16.1 .4 -5.8 .3 -2.9 .3 -19.4 .4 -9.2 .3 55.1 .4 -20.2 .3 -14.9 .3 -7.2 .4 -23.5 .3 52.2 .4 -32.4 .3 -10.9 .3 -2.5 .4 38.5 .3 -33.4 .3 3.9 .4 -2.4 .3 15.6 .4 16.3 .3 4.9 .3 -9.2 .4 -41.3 .3 27.1 .3 11.7 .4 -39.1 .3 34.9 .4 5.2 .3 -13.8 .3 17.1 .4 -6.6 .3 -2.5 .4 -9 .3 -6.2 .3 -15.3 .4 47.7 .3 -24.1 .3 21 .4 -39.1 .3 27.1 .4 9.7 .3 .3 .3 -21.9 .4 10.3 .3 -48.4 .3 46.3 .4 -11.8 .3 16.3 .4 9.2 .3 -5.1 .3 -3.8 .4 -20.2 .3 -2.9 .4 -2.3 .3 40.3 .3 -51.4 .4 7.1 .3 47.8 .3 -56.7 .4 51.8 .3 -43.9 .4 27.1 .3 12.3 .3 8.4 .4 -24.3 .3 3.3 .3 19.9 .4 -22.7 .3 -2.4 .4 -17 .3 36.2 .3 -7.5 .4 -13.6 .3 2 .4 16.9 .3 -2.1 .3 -17.3 .4 3.3 .3 -8.4 .3 -2.6 .4 -17.5 .3 32.4 .4 11.9 .3 -6.6 .3 23.3 .4 -9.3 .3 -56.9 .4 24.3 .3 21.4 .3 -7.2 .4 6.6 .3 -24.9 .3 -4 .4 33 .3 -19.1 .4 11.1 .3 -1.1 .3 -11.7 .4 -.8 .3 3.3 .3 -2.4 .4 -18 .3 27.2 .4 .8 .3 12.2 .3 .4 .4 -18.7 .3 5 .4 -19.1 .3 25.6 .3 -11.3 .4 -7.1 .3 10.1 .3 -8.5 .4 -19.1 .3 37.7 .4 -6.1 .3 25.2 .3 -32.5 .4 -2.9 .3 -11.9 .3 6.9 .4 31.4 .3 -1.2 .4 -10.9 .3 -20.4 .3 25.8 .4 3.7 .3 5.5 .4 -10.8 .3 2.9 .3 -14.1 .4 -1.3 .3 -16.7 .3 24.2 .4 -19 .3 44.2 .4 -35.3 .3 13.7 .3 3.7 .4 -40.3 .3 39.9 .3 -26.8 .4 30.1 .3 -3.2 .4 4.3 .3 -14.9 .3 -2.3 .4 10.4 .3 -.2 .4 13 .3 -13 .3 6.7 .4 -15.8 .3 -14.2 .3 34 .4 2 .3 5.3 .4 -18.6 .3 -30.2 .3 42.9 .4 -24.4 .3 -.4 .3 22.6 .4 -39 .3 78.6 .4 -67.7 .3 14.3 .3 -27.9 .4 45 .3 -33.5 .4 23 .3 -3.9 .3 -4.3 .4 2.4 .3 -21.5 .3 42.6 .4 -28 .3 -8.9 .4 7.5 .3 19.2 .3 -3.1 .4 -31.6 .3 29.2 .3 -27.6 .4 16.5 .3 -11.8 .4 9.2 .3 19.4 .3 -33.8 .4 43.8 .3 2.4 .4 -31.9 .3 23.1 .3 -35.7 .4 23.8 .3 19.4 .3 -14.6 .4 5.1 .3 -19.9 .4 34.3 .3 -19.2 .3 3.9 .4 6.1 .3 -17.9 .3 -14.9 .4 26 .3 -26.7 .4 -1.4 .3 -8.2 .3 26.5 .4 8.5 .3 -37.7 .4 29.3 .3 .6 .3 14.2 .4 -50.6 .3 21 .3 1.9 .4 1.4 .3 6.6 .4 18.9 .3 7.2 .3 -5.9 .4 -27 .3 -3.6 .3 39.7 .4 -4.1 .3 -23.9 .4 -9.7 .3 8.1 .3 14.3 .4 -24.5 .3 9 .4 27.6 .3 -39.7 .3 15.4 .4 24.9 .3 17.9 .3 -17.1 .4 -13 .3 .4 .4 10.6 .3 -14.8 .3 -4.6 .4 -1.5 .3 -18.5 .3 28.4 .4 -4.6 .3 .6 .4 -14.1 .3 6.4 .3 -10.8 .4 33.6 .3 -13.9 .4 17.6 .3 -17.6 .3 -4.7 .4 22.4 .3 -13.7 .3 33.3 .4 -30.4 .3 -30.6 .4 6 .3 7.3 .3 29.5 .4 -12.7 .3 15.7 .3 -14.4 .4 -8.1 .3 -11.2 .4 12.6 .3 1.5 .3 -25.5 .4 -4.9 .3 2.5 .4 26.1 .3 -8.1 .3 12.3 .4 -25 .3 .5 .3 21.8 .4 -23.1 .3 13.5 .4 14.1 .3 4.9 .3 -28.9 .4 4.8 .3 -6.4 .3 42 .4 -44 .3 -12.8 .4 10.7 .3 26.8 .3 -5.5 .4 20.1 .3 -29.4 .4 5.1 .3 2.8 .3 -12.5 .4 16.6 .3 -19.9 .3 21.1 .4 5.5 .3 -34.6 .4 37.2 .3 -15.8 .3 -.2 .4 21.5 .3 -7.3 .3 1 .4 -18.2 .3 29 .4 -14 .3 -2.1 .3 -10.9 .4 -4 .3 23.2 .4 8.6 .3 -27.8 .3 -1.1 .4 -3.3 .3 1.5 .3 11 .4 -7.8 .3 41.9 .4 -48.5 .3 12.9 .3 -37.4 .4 39.5 .3 4.6 .3 -13 .4 -9.3 .3 -5.5 .4 14.5 .3 -16.3 .3 13.1 .4 36 .3 -30.8 .4 -0 .3 -3.3 .3 6 .4 -15.5 .3 33.8 .3 -18 .4 -7.1 .3 4.7 .4 39.3 .3 -17.6 .3 -29.7 .4 6.7 .3 8 .3 -9.1 .4 -4.6 .3 -9 .4 16.6 .3 25.1 .3 -39.5 .4 -1.9 .3 26.1 .4 .3 .3 -25.1 .3 8.6 .4 25.2 .3 -13 .3 3.4 .4 9.2 .3 -33.9 .4 37.3 .3 -16 .3 -1 .4 1.1 .3 -11 .3 -2.8 .4 -.5 .3 30.8 .4 -6.7 .3 -21.3 .3 20.1 .4 4.8 .3 -21.1 .4 7.5 .3 -1.7 .3 -16.7 .4 10.5 .3 -9.6 .3 1.4 .4 2.8 .3 2.8 .4 -13.3 .3 8.1 .3 -13.2 .4 -7.4 .3 -1.1 .3 7.8 .4 -18.1 .3 -.2 .4 5.2 .3 -17.3 .3 6.4 .4 -2.3 .3 -12.6 .4 -12.8 .3 5.8 .3 -11.7 .4 2.4 .3 -7.4 .3 -3.7 .4 -2.6 .3 -.6 .4 -4.6 .3 -.8 .3 -4.7 .4 2.6 .3 -1.5 .3 -2.1 .4 4.4 .3 .2 .4 2.1 .3 1.3 .3 3 .4 2.7 .3 8.4 .4 4.3 .3 -.5 .3 6.2 .4 8.7 .3 -.5 .3 14.7 .4 -.5 .3 6.9 .4 6.2 .3 -.3 .3 6.5 .4 -1.3 .3 15.1 .3 8.7 .4 -7 .3 7.1 .4 -13.9 .3 14.2 .3 15.4 .4 -6.1 .3 -20.9 .4 16.7 .3 -10.1 .3 27.8 .4 -1.2 .3 9.6 .3 -21.3 .4 13.3 .3 -11.1 .4 20.5 .3 -16 .3 -24.7 .4 2.5 .3 6.4 .3 14.1 .4 11.5 .3 -13.6 .4 14.2 .3 8.2 .3 -41.9 .4 -3.8 .3 59.9 .4 -31.8 .3 -14.2 .3 -5.4 .4 3.9 .3 -13.8 .3 50.3 .4 -23.9 .3 -26.4 .4 18.7 .3 -3.8 .3 14.5 .4 3.5 .3 -10.2 .3 20.6 .4 -11.3 .3 14.6 .4 7.2 .3 -16.7 .3 0 .4 13.6 .3 11.8 .4 -12.7 .3 -18.3 .3 6.5 .4 -17.1 .3 1.6 .3 16.1 .4 14.6 .3 -14.8 .4 5 .3 -10.8 .3 7.6 .4 16.7 .3 -39.5 .3 -3.7 .4 33.1 .3 -31.6 .4 35.7 .3 -33.7 .3 5 .4 13.5 .3 -.6 .4 -15.8 .3 11.7 .3 14.9 .4 -23.6 .3 -12.3 .3 57.7 .4 -59.2 .3 -3.1 .4 33.8 .3 28.4 .3 -29 .4 -21.2 .3 42.7 .3 -44.2 .4 46.3 .3 -57.7 .4 46.8 .3 .7 .3 -19.4 .4 -5.1 .3 -.6 .4 -12.8 .3 24.6 .3 -9.2 .4 10.5 .3 2.4 .3 20.9 .4 -38.2 .3 18.2 .4 -5.9 .3 15.8 .3 1.5 .4 3.9 .3 -3.5 .3 -47.2 .4 25 .3 15.2 .4 9.2 .3 -3.8 .3 10.1 .4 -47.8 .3 -13.1 .4 60.2 .3 -53 .3 57.4 .4 -44.6 .3 55.1 .3 -25 .4 2.6 .3 -9.2 .4 18.3 .3 -55.2 .3 13 .4 19.1 .3 -24.9 .3 37.2 .4 -44.3 .3 53.8 .4 -7.1 .3 -25.9 .3 14.1 .4 -7.4 .3 13.2 .4 -38.8 .3 55.7 .3 -42.5 .4 25.8 .3 1.5 .3 -1.4 .4 -12.5 .3 13.2 .4 -15.8 .3 24.5 .3 -21.5 .4 2.4 .3 -7.3 .3 -8.4 .4 43.1 .3 -37 .4 -26.2 .3 48.7 .3 -5.8 .4 -7 .3 18.1 .4 -51 .3 19.1 .3 20.3 .4 -8.6 .3 25.5 .3 -48.2 .4 33 .3 -5.3 .4 -19.3 .3 -11.3 .3 8.6 .4 43.8 .3 -37.6 .3 20.2 .4 -28.7 .3 1 .4 36.7 .3 -40.7 .3 16.1 .4 -11.5 .3 35 .4 -41.8 .3 3.4 .3 7.5 .4 -10.7 .3 5 .3 45.8 .4 -28.9 .3 -3 .4 53 .3 -72.4 .3 27.1 .4 26.5 .3 -62.9 .3 49 .4 3.6 .3 -50.2 .4 3.2 .3 40.3 .3 29.5 .4 -26.3 .3 12.4 .4 3 .3 -36.8 .3 46.5 .4 -40.7 .3 -26.7 .3 43.3 .4 -18 .3 9.5 .4 20.8 .3 -22.1 .3 -21 .4 -14.1 .3 9.7 .3 3.1 .4 50.1 .3 -32.9 .4 24.6 .3 -29.7 .3 14.2 .4 -25.3 .3 -7.4 .4 28.1 .3 -18.2 .3 -27.7 .4 28.4 .3 22 .3 -24.4 .4 36.2 .3 -38.8 .4 31.3 .3 -44.6 .3 10.6 .4 -5.1 .3 49.6 .3 11.1 .4 -17.8 .3 -26.9 .4 32.9 .3 -10 .3 -53.9 .4 28 .3 -7.7 .4 44.9 .3 -35.3 .3 26 .4 -30.8 .3 47.2 .3 -42.4 .4 1 .3 42.5 .4 -29.3 .3 -14 .3 32.5 .4 -27.7 .3 -19.8 .3 -11.6 .4 19.5 .3 25.5 .4 -36 .3 -7.9 .3 40.2 .4 18.5 .3 -34 .4 -22.1 .3 38.9 .3 -.4 .4 -27.6 .3 7.9 .3 19.8 .4 -42.6 .3 39.7 .4 -23.4 .3 27.1 .3 -34.9 .4 56.3 .3 -37 .3 -17.4 .4 -14.4 .3 14 .4 62.4 .3 -58.3 .3 47.8 .4 -45.2 .3 9.2 .4 18.9 .3 -29.1 .3 44.2 .4 -37.1 .3 -12.9 .3 5.2 .4 3.1 .3 17 .4 -29.3 .3 26.9 .3 8.9 .4 -19.4 .3 20.7 .3 -26.2 .4 8.7 .3 -4.7 .4 13.9 .3 -12.9 .3 9.8 .4 29.5 .3 -7.2 .4 -36.5 .3 33.9 .3 -20.8 .4 -15.4 .3 3.5 .3 32.4 .4 19.9 .3 -18.7 .4 17.8 .3 -30.7 .3 3.8 .4 -8.5 .3 -24.6 .3 20 .4 -3.2 .3 27.8 .4 1.8 .3 -19.3 .3 -22.6 .4 8.6 .3 5.8 .4 -6.8 .3 5.4 .3 2.8 .4 3.5 .3 -43 .3 71 .4 -24.1 .3 13.8 .4 -19.6 .3 37 .3 -6.4 .4 -18.6 .3 26.5 .3 -27.5 .4 -11.1 .3 -7.7 .4 6.1 .3 16.8 .3 -39 .4 36.7 .3 -27.5 .4 1 .3 -18.5 .3 29.1 .4 14.5 .3 -26.9 .3 22.1 .4 -.1 .3 14 .4 -1.7 .3 30.4 .3 -37.4 .4 12.8 .3 -14.3 .3 -31 .4 29.2 .3 27.7 .4 -8 .3 11 .3 -52.1 .4 -19.4 .3 63.8 .4 -32.7 .3 -15.1 .3 2.6 .4 42.4 .3 -32.4 .3 2.8 .4 -.9 .3 29.8 .4 -33.6 .3 -14.3 .3 40.5 .4 -9.5 .3 5.4 .3 13.2 .4 -38.3 .3 48.2 .4 -66.6 .3 24.5 .3 -4.2 .4 -10.5 .3 49.4 .4 -39 .3 -4.6 .3 -12.1 .4 35.9 .3 -7.7 .3 -13.6 .4 14.3 .3 5.4 .4 -26.5 .3 -33.2 .3 41.9 .4 -29.2 .3 -7 .3 20.5 .4 11 .3 -15 .4 -.2 .3 -4.6 .3 -16.4 .4 -7 .3 15.9 .4 -4.3 .3 2 .3 -11.5 .4 10.5 .3 4.2 .3 -3.3 .4 9.8 .3 -17.7 .4 7.8 .3 26.4 .3 -12.9 .4 26.4 .3 -21.7 .3 6.6 .4 -18.6 .3 20.8 .4 -2.1 .3 27.2 .3 2.3 .4 -14.3 .3 -6.5 .4 -11.1 .3 -1.9 .3 37.1 .4 -23.9 .3 11 .3 15.6 .4 -4.7 .3 30.8 .4 -60.6 .3 26 .3 30.3 .4 -8.6 .3 -27 .3 16.9 .4 -10.5 .3 8.2 .4 -3.9 .3 3 .3 -7.1 .4 -20.2 .3 49.6 .4 -40 .3 -10.5 .3 35.6 .4 -16 .3 .8 .3 15.8 .4 8.1 .3 -21.5 .4 .2 .3 -24.2 .3 29.6 .4 -16.1 .3 30.8 .3 10.4 .4 -35.1 .3 -19.3 .4 24.9 .3 -19.1 .3 29.8 .4 -15.8 .3 -4.2 .4 26.5 .3 -13.7 .3 -11.6 .4 -2.4 .3 22 .3 -41 .4 42.5 .3 8.9 .4 -53.1 .3 33.9 .3 26.3 .4 -14.2 .3 -8.6 .3 -41.8 .4 44.8 .3 -27.6 .4 -1.9 .3 17.6 .3 24 .4 -38.9 .3 12.1 .4 -3.9 .3 10.5 .3 -9.4 .4 -2.6 .3 -14.4 .3 9.2 .4 35.3 .3 -55.4 .4 50.3 .3 -23.7 .3 29.1 .4 -41.6 .3 43 .3 -10.1 .4 -3.1 .3 20.3 .4 -36.9 .3 15.4 .3 6.2 .4 -7.1 .3 -16 .4 26.2 .3 -13.2 .3 12.4 .4 -31.6 .3 .8 .3 33.4 .4 -49.9 .3 26.6 .4 -10.2 .3 -13 .3 40.6 .4 -33.9 .3 33.9 .3 -49.7 .4 26.5 .3 19 .4 -28.4 .3 6.4 .3 -4.1 .4 31.2 .3 -15.2 .4 15 .3 -24.5 .3 -10.2 .4 33 .3 9.5 .3 -46.4 .4 34.8 .3 8.6 .4 2.3 .3 -64.7 .3 32.7 .4 9.2 .3 11.4 .3 2.4 .4 -17.7 .3 24.7 .4 -29.8 .3 33.2 .3 -27.1 .4 -15.4 .3 25.9 .4 10.3 .3 -11.3 .3 -17 .4 8.6 .3 25.4 .3 -13.7 .4 -50.5 .3 43.4 .4 -21.6 .3 21.8 .3 28.6 .4 -14.4 .3 -9.9 .3 -1.6 .4 11.1 .3 -43.9 .4 55.7 .3 -16.3 .3 16.8 .4 -56.8 .3 21.8 .4 80.6 .3 -94.1 .3 21.2 .4 -10.8 .3 -19.4 .3 11.2 .4 20.8 .3 2 .4 -7.8 .3 -13.9 .3 -.8 .4 -6.6 .3 52.7 .3 -28.3 .4 25.2 .3 -54.4 .4 24.6 .3 6.7 .3 -3 .4 19.2 .3 -40 .4 36.8 .3 -29.7 .3 18.7 .4 -12.8 .3 32.9 .3 -25 .4 -3 .3 14 .4 5.1 .3 -26.3 .3 28.1 .4 -4.9 .3 -1.7 .3 -16.2 .4 -11.7 .3 42 .4 3.4 .3 42.7 .3 -109.5 .4 41.6 .3 19.8 .4 -49.4 .3 52 .3 -33.1 .4 25.4 .3 -.8 .3 4.3 .4 -46.2 .3 46.7 .4 -23.2 .3 -4.9 .3 -21.7 .4 44.2 .3 -11.9 .3 -4.3 .4 30.6 .3 -13.1 .4 -19.6 .3 -16.1 .3 45.6 .4 -37.1 .3 10.1 .4 -14.6 .3 43.6 .3 -51 .4 19.6 .3 -7.6 .3 .1 .4 9.3 .3 3.9 .4 5.1 .3 -16.4 .3 -10.4 .4 -10.9 .3 17.3 .4 15.1 .3 -7.5 .3 26.1 .4 -35.6 .3 13.6 .3 31 .4 -32.3 .3 6.7 .4 -33.6 .3 -4.7 .3 14.2 .4 2.1 .3 6.6 .3 18.9 .4 -19.4 .3 19.3 .4 -30 .3 39.1 .3 2 .4 -18.3 .3 -19 .4 28.8 .3 -16.3 .3 12.1 .4 10.7 .3 -23 .3 -25.6 .4 30.3 .3 17.8 .4 -30.3 .3 11.6 .3 -18.4 .4 3.9 .3 24.6 .3 .5 .4 -16.4 .3 26.7 .4 -31.8 .3 27.6 .3 8 .4 -33 .3 21.4 .4 -27.3 .3 28 .3 -1.1 .4 8.3 .3 -14.2 .3 -15.2 .4 -15.3 .3 -.1 .4 28.7 .3 1.2 .3 7.3 .4 -32.5 .3 14.6 .3 4.8 .4 -8.1 .3 21.5 .4 19.3 .3 -47.8 .3 -8 .4 26.8 .3 9.3 .4 .8 .3 -12.7 .3 -10.6 .4 19.9 .3 -20.9 .3 24.5 .4 -26 .3 3 .4 1.7 .3 7.3 .3 -7.3 .4 16 .3 -15.8 .3 4.3 .4 -17.4 .3 32.7 .4 -1.8 .3 -14.1 .3 13.5 .4 -14.1 .3 11.4 .4 -17.4 .3 7.9 .3 -30.2 .4 51.2 .3 -34 .3 23.6 .4 -16.1 .3 -7.3 .4 7.1 .3 20.5 .3 -28.3 .4 28.9 .3 2.6 .3 -27.9 .4 6.6 .3 -8.4 .4 24 .3 -22.2 .3 15.4 .4 -2.6 .3 -7.2 .4 11.7 .3 -25.6 .3 19.8 .4 -5.6 .3 18.4 .3 -33.4 .4 4.9 .3 12.4 .4 3.8 .3 25.2 .3 -34.9 .4 10.7 .3 1.1 .3 10.3 .4 -14.4 .3 -31.7 .4 24.6 .3 -8.4 .3 27.5 .4 -22.8 .3 14.4 .4 -24.6 .3 14.2 .3 38.1 .4 -28.5 .3 -9.4 .3 13 .4 -13.5 .3 15.4 .4 -26.6 .3 6.8 .3 -12.6 .4 15.2 .3 20.2 .3 -2.3 .4 1 .3 -13.5 .4 -16.4 .3 38.1 .3 -34.4 .4 9.7 .3 -3.4 .4 -4 .3 18.5 .3 -3.2 .4 -20 .3 27 .3 -.5 .4 22.1 .3 -18.8 .4 -2.9 .3 7.5 .3 -25.3 .4 -4.5 .3 7 .3 -2.5 .4 16 .3 25.1 .4 -17.5 .3 -20.6 .3 3.8 .4 23.3 .3 -33.6 .4 11.4 .3 -20.6 .3 32.9 .4 -18.3 .3 -4.6 .3 16.5 .4 15 .3 -26.3 .4 29.5 .3 -40.2 .3 21.7 .4 -26.6 .3 48 .3 -18.1 .4 8.2 .3 -13.9 .4 -.1 .3 11.1 .3 5.6 .4 -31.2 .3 15.9 .4 -20.9 .3 8.6 .3 -15.5 .4 26.5 .3 2.7 .3 2.5 .4 -1.5 .3 3.4 .4 3.3 .3 .7 .3 -23 .4 22.5 .3 -58.8 .3 30.7 .4 13.5 .3 -27.4 .4 44.1 .3 8.5 .3 -24.5 .4 9.2 .3 9.1 .4 -19.1 .3 -21.9 .3 26.1 .4 -24.5 .3 16.4 .3 6.4 .4 20.7 .3 -45.5 .4 9.5 .3 28.3 .3 -6.8 .4 -5 .3 10.9 .3 -31.9 .4 8.1 .3 -6.5 .4 44 .3 -28.1 .3 -10.2 .4 45 .3 -15.5 .4 -29.5 .3 38 .3 -28 .4 27.4 .3 -8 .3 -24.6 .4 6.5 .3 -14 .4 -8.7 .3 24.4 .3 .8 .4 9.3 .3 7.9 .3 -25.4 .4 4.4 .3 -14.2 .4 15.9 .3 10 .3 3.5 .4 7 .3 -32 .4 -2.3 .3 -.2 .3 -7.2 .4 53.1 .3 -24.7 .3 2 .4 2.1 .3 -3.7 .4 6.6 .3 -15.7 .3 9.1 .4 -6.9 .3 21.2 .3 15.6 .4 .3 .3 -32.3 .4 6.4 .3 16.5 .3 -25.6 .4 -14.5 .3 27.1 .4 -2.9 .3 -36.1 .3 17.9 .4 -18.2 .3 -.5 .3 -1.4 .4 8.4 .3 35.1 .4 -39.9 .3 43.5 .3 -12.1 .4 -16.4 .3 46.9 .3 -32.1 .4 16.5 .3 -32.6 .4 1.5 .3 34.9 .3 -18.6 .4 15.7 .3 -12.2 .4 8.3 .3 -33.8 .3 27.9 .4 -11.8 .3 18.4 .3 12.2 .4 -57 .3 42.6 .4 -9.5 .3 -3.5 .3 -19.4 .4 32.4 .3 12.4 .3 -19.7 .4 -9.9 .3 34.9 .4 -42.6 .3 37.6 .3 -44.4 .4 35.2 .3 -2 .4 -10.2 .3 -27.5 .3 10.7 .4 23 .3 -4.1 .3 27.2 .4 -52.8 .3 -7.8 .4 -8 .3 -.5 .3 55.9 .4 21.2 .3 -59.4 .3 35 .4 -19.7 .3 -24.1 .4 43.5 .3 -26.4 .3 -20.7 .4 21.8 .3 -25.7 .4 16.5 .3 -3 .3 -14.9 .4 5.9 .3 15.3 .3 5.9 .4 -14.7 .3 -.2 .4 -14.8 .3 4 .3 -12.3 .4 22 .3 -32.8 .3 4.4 .4 6.4 .3 -12.6 .4 -2.7 .3 -7 .3 10.6 .4 -11.7 .3 -5.6 .4 7.5 .3 -13.6 .3 3.2 .4 1.4 .3 .6 .3 -2.6 .4 -3.2 .3 2 .4 5.2 .3 -10.8 .3 -.2 .4 10.5 .3 -8.6 .3 -1.8 .4 1.3 .3 -2.8 .4 17.3 .3 -1 .3 6.2 .4 8.9 .3 -5.2 .4 -13.4 .3 23.2 .3 1.4 .4 -6.8 .3 15.8 .3 -6 .4 -9.7 .3 9.6 .4 -6.2 .3 7.2 .3 19.6 .4 23.7 .3 -10.5 .3 -41.1 .4 29.5 .3 5.7 .4 -5.4 .3 33.1 .3 -49 .4 30.3 .3 -20.8 .4 -4.9 .3 40.5 .3 -27.9 .4 1.5 .3 -19.8 .3 16 .4 5 .3 3.5 .4 -29 .3 36.3 .3 9.1 .4 -20.5 .3 -2.4 .3 8.5 .4 9.1 .3 -24.4 .4 22.6 .3 7.6 .3 -20.7 .4 2.7 .3 34.9 .4 -2.1 .3 -20.3 .3 -5.5 .4 35.5 .3 -21.7 .3 -8 .4 26.5 .3 -67.1 .4 28.2 .3 19.9 .3 -4.6 .4 -19 .3 4.9 .3 14.2 .4 -30.3 .3 43.3 .4 -4.6 .3 -17.5 .3 8.4 .4 -29.3 .3 6.2 .4 31.4 .3 -22 .3 47.1 .4 -25.4 .3 -45.3 .3 10.3 .4 10.4 .3 25.9 .4 -19.2 .3 -26.2 .3 5.5 .4 -3.1 .3 -2.7 .3 68.6 .4 -33.2 .3 17.4 .4 10.2 .3 -55.7 .3 35.6 .4 -.7 .3 -47.6 .4 29.1 .3 9.1 .3 7.3 .4 32 .3 -69.5 .3 2.2 .4 19.9 .3 -8.9 .4 -7.4 .3 -14.9 .3 33.4 .4 -35.4 .3 -8.1 .3 55.7 .4 -30.8 .3 35.2 .4 17.8 .3 -46.8 .3 12.9 .4 28.8 .3 -17.5 .4 9.8 .3 -70.3 .3 65.9 .4 -17.3 .3 -5 .3 26.2 .4 -21 .3 1.7 .4 -34.7 .3 21 .3 -9.5 .4 64.6 .3 -74.3 .3 24.2 .4 16.7 .3 4.8 .4 -21.1 .3 -30.6 .3 69 .4 -19.7 .3 -48.9 .4 15.7 .3 7.5 .3 41.2 .4 -48.7 .3 35.3 .3 -15.2 .4 -32.2 .3 41.8 .4 -27.1 .3 11.5 .3 -.9 .4 3.9 .3 11.5 .3 -30.2 .4 27.8 .3 13.7 .4 25.9 .3 -42.7 .3 16.7 .4 -36.7 .3 7.3 .4 37.6 .3 -21.6 .3 16.7 .4 -31.8 .3 -5.2 .3 14.2 .4 5.5 .3 12.2 .4 -18.8 .3 -23.6 .3 32.6 .4 -19.7 .3 -15.7 .3 17.1 .4 23.4 .3 -20.4 .4 -23.4 .3 -16.1 .3 79.1 .4 -51.3 .3 49.2 .4 -36.2 .3 -36.4 .3 11.3 .4 35.3 .3 -37.1 .3 59.5 .4 -52.8 .3 24.2 .4 -17 .3 38 .3 -47.8 .4 49.7 .3 -1.3 .3 -8.9 .4 -35.4 .3 -17.8 .4 8.3 .3 21.1 .3 30.8 .4 -47.8 .3 61 .4 -21.1 .3 -5 .3 -14.2 .4 -1.1 .3 8.7 .3 -14.4 .4 34.8 .3 -52.5 .4 4.9 .3 29.4 .3 9.8 .4 4 .3 -19.8 .3 23.6 .4 5.3 .3 -18.5 .4 -35.8 .3 19.9 .3 18.9 .4 -34.7 .3 -10.3 .4 62.7 .3 -56.7 .3 40 .4 -10.7 .3 -62.6 .3 49.6 .4 32.9 .3 -30.5 .4 12.3 .3 -2.2 .3 4.4 .4 12.5 .3 -19.3 .3 21.9 .4 -22.7 .3 -11.4 .4 9.5 .3 5.5 .3 -29.3 .4 33.5 .3 -13.7 .4 -2.9 .3 19.4 .3 -1.6 .4 -21.6 .3 10.8 .3 -23.2 .4 37.3 .3 -20.7 .4 38.9 .3 -13.1 .3 -28.8 .4 -35.2 .3 53.2 .3 -.5 .4 -31.3 .3 21.4 .4 .5 .3 -14.6 .3 .5 .4 17.6 .3 -13.5 .4 -6.2 .3 11.9 .3 -27.4 .4 43.7 .3 -34.6 .3 24.8 .4 1.4 .3 -16.8 .4 .2 .3 34.1 .3 -29.4 .4 3.1 .3 -7.3 .3 -1.2 .4 8.8 .3 24.7 .4 -6.8 .3 -39.1 .3 31.7 .4 -2 .3 -12.6 .4 -25.4 .3 63.3 .3 -62 .4 4.7 .3 1.8 .3 17.6 .4 -15.6 .3 34.7 .4 -13.6 .3 -21.6 .3 2 .4 36.5 .3 -11.9 .3 14.4 .4 -25 .3 3.6 .4 -25.9 .3 -3.6 .3 10.6 .4 26.9 .3 8.2 .4 -41.8 .3 10.4 .3 6.2 .4 5.2 .3 1.6 .3 -18.2 .4 -11.2 .3 8.4 .4 21.3 .3 -17.6 .3 5.2 .4 -17.4 .3 3.4 .3 13.7 .4 -25.3 .3 10 .4 -14.1 .3 5.6 .3 .9 .4 -6.8 .3 -8.1 .4 .6 .3 -11.5 .3 -4.3 .4 -4.1 .3 1.9 .3 -6.2 .4 -5.2 .3 -6.5 .4 -1 .3 -6.5 .3 -.4 .4 -6.6 .3 -4 .3 -1.8 .4 -2.6 .3 -2.5 .4 -1.7 .3 -7.5 .3 0 .4 -3.8 .3 -.7 .4 -1 .3 -3.4 .3 -2.6 .4 .4 .3 -1.8 .3 1 .4 -.8 .3 -1.4 .4 1 .3 3 .3 -.1 .4 2.5 .3 -.4 .3 1.8 .4 5.8 .3 1 .4 .8 .3 4.4 .3 4.7 .4 .8 .3 3.9 .4 5.2 .3 -.7 .3 6.4 .4 6.1 .3 -3.4 .3 10.3 .4 4.8 .3 3.1 .4 1.4 .3 3.4 .3 3.5 .4 5.1 .3 8.3 .3 -2.3 .4 12.1 .3 1.9 .4 -.4 .3 -4.3 .3 5.9 .4 13.7 .3 12.2 .4 -24.4 .3 33.1 .3 -4.1 .4 -27.3 .3 32.6 .3 3.7 .4 7.9 .3 -7 .4 -17.7 .3 -6 .3 23.4 .4 -16.9 .3 16.1 .3 -3.1 .4 -9 .3 5.1 .4 -21.2 .3 23.5 .3 13.9 .4 -2.6 .3 -12 .4 20.8 .3 -23.2 .3 -3.2 .4 -6.3 .3 4.3 .3 -1.9 .4 26.2 .3 -13.8 .4 12.7 .3 3.5 .3 -25.7 .4 24.3 .3 -20 .3 8.8 .4 -2.5 .3 28.6 .4 -15.9 .3 -12.9 .3 6 .4 -13 .3 4.6 .4 -.9 .3 -1.9 .3 -5.5 .4 22.2 .3 1 .3 8 .4 -12.6 .3 21.4 .4 -36.2 .3 26.7 .3 -.5 .4 -15.9 .3 21.6 .3 -37 .4 20.3 .3 21 .4 -17.9 .3 -13.7 .3 -11.4 .4 14.9 .3 .7 .4 18.5 .3 -43.2 .3 32.5 .4 -3.1 .3 7.9 .3 -23.9 .4 9.7 .3 4.1 .4 -14.3 .3 13.9 .3 4.2 .4 -14.8 .3 9.8 .3 16.4 .4 1.5 .3 -1 .4 -25.6 .3 14.7 .3 1.5 .4 -4.6 .3 -3.8 .4 17.3 .3 3.2 .3 -2.4 .4 -3.1 .3 9.3 .3 -14.6 .4 7.2 .3 -22.5 .4 .9 .3 28.1 .3 -26 .4 28 .3 -18.8 .3 26.8 .4 -34.8 .3 32.8 .4 3 .3 -31.2 .3 15.6 .4 -12.9 .3 -19.6 .4 -1.7 .3 19.6 .3 5.1 .4 27.4 .3 -43.4 .3 24.6 .4 31.5 .3 -21.5 .4 -31.2 .3 -8.9 .3 7 .4 11.5 .3 -15.7 .3 55 .4 3.4 .3 -85.4 .4 59.8 .3 -4.3 .3 11.9 .4 -2.2 .3 -15.9 .4 -28.6 .3 20.7 .3 26.6 .4 -12 .3 35 .3 -45.5 .4 1.3 .3 -25.2 .4 -2.6 .3 13.9 .3 31.5 .4 -13.7 .3 -28.7 .3 25.2 .4 -4.5 .3 -40.4 .4 17 .3 79.7 .3 -57.7 .4 34.2 .3 -4.3 .4 -26.1 .3 -20.8 .3 32.9 .4 -.3 .3 -4.7 .3 30.7 .4 -39.7 .3 22.6 .4 -23.1 .3 11.1 .3 -14.6 .4 34.9 .3 -13.7 .3 -15.4 .4 -5.2 .3 -6.7 .4 17 .3 -12.8 .3 5.7 .4 21.8 .3 -15.8 .4 20.4 .3 -8.6 .3 -.8 .4 -11.7 .3 -1.2 .3 16.3 .4 -20.6 .3 -3.1 .4 33.1 .3 -18.8 .3 -29.1 .4 19 .3 -15 .3 12.2 .4 32.2 .3 -10.7 .4 .7 .3 -13 .3 -22.7 .4 .3 .3 17.8 .4 -23.2 .3 19.8 .3 -13.5 .4 11.9 .3 32.2 .3 -11.2 .4 22.4 .3 -1.5 .4 -17.6 .3 -15.7 .3 -9.1 .4 12.6 .3 -26.4 .3 31 .4 -22.8 .3 -5.9 .4 -11.2 .3 39 .3 -27.9 .4 56.4 .3 -36.2 .4 10.2 .3 -30 .3 5.6 .4 25.6 .3 -36.5 .3 16.5 .4 17.1 .3 -21.1 .4 16.6 .3 14 .3 -31.4 .4 48.7 .3 -56.8 .3 38.5 .4 -25.9 .3 8.2 .4 32.1 .3 -49.9 .3 12.6 .4 -11.7 .3 7 .4 30.7 .3 -33.2 .3 -19 .4 9.8 .3 51 .3 -22.6 .4 -18.1 .3 16.5 .4 -5.5 .3 25.1 .3 -17.9 .4 1.9 .3 12.2 .4 -17.9 .3 -9.9 .3 35.9 .4 -8.5 .3 9.3 .3 -21.3 .4 -5.7 .3 -1 .4 -9.5 .3 16 .3 12.8 .4 -24.4 .3 -2.2 .3 -6.1 .4 11.2 .3 -24.8 .4 33.2 .3 -18 .3 -24.1 .4 50.8 .3 5 .4 48.6 .3 -71 .3 -33.1 .4 60.2 .3 -18.9 .3 -11.5 .4 11.5 .3 -6.3 .4 -2.9 .3 28 .3 -12.7 .4 6.8 .3 -34.5 .3 6.9 .4 25.9 .3 -36 .4 18 .3 23.7 .3 -22.1 .4 26.6 .3 -55.1 .4 34.9 .3 -32.6 .3 24.9 .4 -6 .3 6.4 .3 .5 .4 -17.3 .3 -8.4 .4 2.7 .3 -28.4 .3 65.4 .4 1 .3 -29.7 .3 52.3 .4 -67.2 .3 44 .4 -57.2 .3 70.4 .3 -47.9 .4 -5.1 .3 25.6 .4 -19.9 .3 13.3 .3 23.9 .4 -30.4 .3 12 .3 26.7 .4 -15.9 .3 -29.4 .4 -1 .3 11.4 .3 4 .4 3.1 .3 19.2 .3 -28.1 .4 29.8 .3 -31.5 .4 16.1 .3 6.4 .3 25.2 .4 -37.3 .3 -20.7 .4 40 .3 -35 .3 45.4 .4 .3 .3 -32.7 .3 -21.1 .4 40.3 .3 10.9 .4 -22.8 .3 18.2 .3 1.2 .4 -20.5 .3 10.1 .3 -19.9 .4 -1.5 .3 12.8 .4 -3.8 .3 4.4 .3 -21 .4 2.9 .3 17.1 .4 26.2 .3 -20.1 .3 -24.5 .4 -12.8 .3 63.5 .3 -51.5 .4 -.5 .3 -13.3 .4 9.6 .3 17.8 .3 40.3 .4 -54.6 .3 -10.3 .3 17.6 .4 34.6 .3 -19 .4 -32.9 .3 -3 .3 41.7 .4 51.6 .3 -36.7 .4 -14 .3 -60.1 .3 48.9 .4 9.7 .3 -8.9 .3 -1.4 .4 -4.3 .3 -10.8 .4 -7.1 .3 25.6 .3 46.6 .4 -77 .3 24.4 .3 37.8 .4 -38.5 .3 20.4 .4 -7.2 .3 -1.7 .3 -13.4 .4 -16.3 .3 6.8 .4 21.2 .3 15.8 .3 -23 .4 6.5 .3 -5.2 .3 32.8 .4 -78.6 .3 6.5 .4 39.6 .3 -5.3 .3 19 .4 -34 .3 34.7 .3 -16.5 .4 .3 .3 11.2 .4 -18.6 .3 -17.8 .3 15.9 .4 -5.3 .3 65.1 .4 -36.4 .3 -9.4 .3 -22.1 .4 19.4 .3 -.2 .3 -29.3 .4 -8.6 .3 44.2 .4 -20.9 .3 11.5 .3 -18.7 .4 22.6 .3 -20.7 .3 17.9 .4 -10.9 .3 -18.5 .4 28.6 .3 3.7 .3 6.9 .4 -4.1 .3 5.9 .4 -33.5 .3 3.9 .3 -13.8 .4 -7.5 .3 66.1 .3 -46.9 .4 31.3 .3 -40.3 .4 17.3 .3 -2 .3 -6.5 .4 -12.8 .3 12.7 .3 22.7 .4 11.7 .3 -65.1 .4 15.9 .3 31 .3 8.4 .4 -7.4 .3 -15.3 .4 16 .3 -15.7 .3 -1.3 .4 12.4 .3 11.4 .3 -9.1 .4 17.1 .3 -24.9 .4 16 .3 6.4 .3 -42.9 .4 15.5 .3 16.8 .3 12.4 .4 -42.6 .3 23.9 .4 5.2 .3 -6.6 .3 6.2 .4 -35 .3 15.2 .4 4 .3 7.2 .3 8.1 .4 -29.3 .3 32.4 .3 -25.5 .4 -4.2 .3 14.8 .4 -26.9 .3 23.8 .3 -15.2 .4 -5.5 .3 -.5 .3 8.7 .4 1.7 .3 -14.2 .4 17 .3 -17 .3 5.6 .4 3.3 .3 -23 .4 5.2 .3 -1.8 .3 13.6 .4 -20.4 .3 .2 .3 -8.4 .4 3.8 .3 -6.5 .4 -2.1 .3 -8 .3 -.2 .4 -14.4 .3 .6 .3 -3.2 .4 -.9 .3 -4 .4 -6.5 .3 -8.6 .3 -.2 .4 -5.8 .3 -3 .4 -1.5 .3 -7 .3 1.4 .4 -6.4 .3 -2.9 .3 -1.3 .4 -1.5 .3 -3.8 .4 -.3 .3 -.2 .3 -.7 .4 -4.2 .3 2 .3 -2.7 .4 .5 .3 .7 .4 1.3 .3 3.2 .3 1.9 .4 .2 .3 4.4 .4 -.1 .3 4.1 .3 2.5 .4 5.5 .3 2.9 .3 1.7 .4 2.8 .3 5.2 .4 3.9 .3 2.3 .3 8 .4 -2.3 .3 2.1 .3 4 .4 9.2 .3 6.3 .4 7.7 .3 -4.4 .3 1.8 .4 7.7 .3 14.1 .4 -3.5 .3 -3.6 .3 11.9 .4 -7.9 .3 -4.8 .3 11.7 .4 .2 .3 -7.7 .4 10.6 .3 20.8 .3 6.3 .4 -9.4 .3 -5.9 .3 5.9 .4 3.4 .3 -18 .4 10.6 .3 6.8 .3 -19.4 .4 27.1 .3 8.6 .4 -12.7 .3 -20.4 .3 -6.2 .4 17.2 .3 24.8 .3 -5.2 .4 -20.4 .3 -3.3 .4 26.5 .3 -26.4 .3 7.2 .4 6.8 .3 14.5 .3 -31.9 .4 8.5 .3 -9.2 .4 -1.4 .3 3.9 .3 -6.5 .4 34.3 .3 -24 .4 -19.4 .3 18.3 .3 -2.8 .4 -1.1 .3 13.2 .3 4 .4 -17.3 .3 1.4 .4 11.2 .3 -8.1 .3 21.4 .4 -22.2 .3 -4 .3 26.3 .4 -33.5 .3 -2 .4 19.5 .3 -3.3 .3 23.8 .4 -36 .3 24.3 .4 15.1 .3 -20.4 .3 -10.9 .4 21.7 .3 1.2 .3 -5.8 .4 -36.4 .3 35.9 .4 1.3 .3 14.7 .3 -33.5 .4 29 .3 -8.9 .3 -33.5 .4 34.1 .3 -12.8 .4 11 .3 -20.3 .3 -.7 .4 15.8 .3 -.6 .4 -32 .3 38.6 .3 17 .4 -23.8 .3 -17.8 .3 11.3 .4 2.6 .3 -12.4 .4 23.7 .3 -5.7 .3 -14 .4 -9.5 .3 7.4 .3 17.4 .4 -22.4 .3 18.5 .4 -12.6 .3 7.8 .3 -13.1 .4 7 .3 6.5 .4 20.4 .3 -30.6 .3 .1 .4 10.9 .3 .2 .3 16 .4 -9.6 .3 -16.7 .4 7.2 .3 5 .3 5.6 .4 -2.3 .3 -25.6 .3 5.7 .4 9.3 .3 23.9 .4 -28.4 .3 -14.9 .3 9.6 .4 -.3 .3 17.1 .4 -7.3 .3 8.3 .3 -40.4 .4 25.7 .3 4 .3 16.8 .4 2.6 .3 -12.1 .4 -9.5 .3 -18.2 .3 1.1 .4 25.9 .3 1 .3 -3.7 .4 -22 .3 19.2 .4 14.5 .3 -23.3 .3 31.6 .4 -10.2 .3 3 .4 -10.8 .3 -33.5 .3 19.6 .4 27.2 .3 -26.7 .3 10.5 .4 -28.5 .3 17.3 .4 19.9 .3 -.1 .3 -12.9 .4 -2.8 .3 6.3 .3 4.1 .4 -1.9 .3 -7 .4 8.8 .3 8.6 .3 -5.6 .4 -3.4 .3 14.6 .4 -8 .3 -22.3 .3 -14.6 .4 14 .3 19.3 .3 -18.2 .4 12.5 .3 -3.4 .4 -27.5 .3 22.6 .3 14.8 .4 -6.8 .3 8.4 .3 -35.5 .4 1.3 .3 15.2 .4 1.9 .3 -8.9"/><path stroke="#2fac6a" d="M171.0 663.9l.3 6.6 .4 -3.5 .3 -.3 .4 1 .3 .2 .3 1.5 .4 4.7 .3 -.6 .3 -4.2 .4 -4.3 .3 3.1 .4 1.2 .3 2.3 .3 -6.6 .4 7.1 .3 -5.2 .3 1 .4 1.9 .3 1.6 .4 -4.8 .3 4.1 .3 -3.8 .4 4 .3 -2.2 .4 1.9 .3 -3.8 .3 2.4 .4 .4 .3 -1.2 .3 1.9 .4 -2.4 .3 3.5 .4 -5.7 .3 4.1 .3 1.9 .4 -.6 .3 .9 .3 -1.7 .4 1.7 .3 .1 .4 -1.2 .3 -.6 .3 -2.8 .4 -.8 .3 5.9 .4 -4.5 .3 2.5 .3 -1.5 .4 3.6 .3 -.1 .3 -4.6 .4 1.3 .3 1.2 .4 3.4 .3 -4.5 .3 2.6 .4 -3.4 .3 5.1 .3 -2 .4 4.1 .3 -6.1 .4 2 .3 .5 .3 -2.9 .4 2.5 .3 4.1 .4 -5.7 .3 .1 .3 -3.2 .4 3.8 .3 .8 .3 1.5 .4 -4.2 .3 6.2 .4 -3.4 .3 1 .3 -2.8 .4 -1 .3 -.6 .3 6.1 .4 -4.7 .3 -.1 .4 2.9 .3 2 .3 -2.2 .4 -.2 .3 -.1 .4 -1.3 .3 .2 .3 -2.4 .4 1.2 .3 6.1 .3 -.8 .4 -2.2 .3 1.7 .4 -4.2 .3 6.3 .3 -5.5 .4 .3 .3 1.4 .3 .7 .4 1.4 .3 -.2 .4 2.5 .3 -1.7 .3 -.7 .4 -.6 .3 -2 .4 -1 .3 .2 .3 1.4 .4 2.5 .3 -5.5 .3 -.5 .4 5.7 .3 -1.5 .4 1.3 .3 -5.2 .3 3.3 .4 7.6 .3 -12.4 .3 4.8 .4 3.6 .3 .1 .4 -4.7 .3 4.6 .3 .1 .4 -4.1 .3 2.6 .4 .8 .3 -3.5 .3 2.8 .4 7.5 .3 -3.9 .3 -5 .4 2.2 .3 .9 .4 -.5 .3 -3.2 .3 .3 .4 -.2 .3 4.9 .3 -1.9 .4 -.7 .3 2.5 .4 -1.2 .3 4.4 .3 -5.2 .4 2.2 .3 -5.4 .4 4.4 .3 4.4 .3 -6.6 .4 -1 .3 .4 .3 5.1 .4 -5.8 .3 5.8 .4 .7 .3 .8 .3 -6.7 .4 .7 .3 .8 .3 -1.4 .4 6.3 .3 -.4 .4 -2.3 .3 -3.6 .3 4.7 .4 .3 .3 -1.9 .4 -1.2 .3 -.1 .3 3.3 .4 -2.8 .3 2.5 .3 .9 .4 2.1 .3 -5.8 .4 2.1 .3 -2.3 .3 1.2 .4 4.5 .3 -1.6 .3 .2 .4 -3.6 .3 3.5 .4 3.2 .3 -8.4 .3 2.1 .4 4.7 .3 -6.9 .4 3.5 .3 3.6 .3 -6.7 .4 2.6 .3 2.9 .3 -4.4 .4 4.1 .3 -1.6 .4 -.7 .3 -1.9 .3 1.7 .4 -3.8 .3 1.4 .3 .3 .4 -6.7 .3 4.2 .4 -2 .3 -4.2 .3 1.1 .4 5.9 .3 -2.8 .4 4.6 .3 3.3 .3 -4.4 .4 2.8 .3 -1.5 .3 5.1 .4 -4.8 .3 3.9 .4 -3.1 .3 4.9 .3 1.4 .4 -6.1 .3 5.5 .3 -1.9 .4 -1.6 .3 -1 .4 5.4 .3 -2.8 .3 2.7 .4 -.7 .3 -3.3 .4 5.6 .3 -1.8 .3 -1.2 .4 2.1 .3 1.1 .3 -2 .4 4.7 .3 3.8 .4 -4.5 .3 -2.8 .3 -.2 .4 -1.6 .3 2.5 .3 -1.5 .4 1.4 .3 -2.6 .4 2.9 .3 .5 .3 -.3 .4 1.7 .3 2.3 .4 1.9 .3 -2.5 .3 -8.4 .4 -1 .3 2.4 .3 3.6 .4 -.6 .3 3.4 .4 1.4 .3 1.8 .3 -3.8 .4 -.1 .3 2.6 .3 -2.3 .4 -5.9 .3 4.1 .4 3.2 .3 -4.3 .3 .2 .4 -2.2 .3 2.2 .4 -.4 .3 .6 .3 -.4 .4 -3.2 .3 4.9 .3 -1.3 .4 -.4 .3 1 .4 3.8 .3 -.4 .3 -4.2 .4 .9 .3 4.6 .3 -1.8 .4 -3 .3 2.2 .4 1.1 .3 -4.1 .3 2 .4 -1.3 .3 .4 .4 4.3 .3 -7.4 .3 -.2 .4 1.3 .3 .9 .3 .3 .4 4.3 .3 -5.5 .4 3.8 .3 -3.7 .3 -2 .4 1.4 .3 .6 .3 1.5 .4 .9 .3 -1.9 .4 -6.7 .3 5.2 .3 -.1 .4 -3.8 .3 -1 .4 -1.6 .3 -1.3 .3 4.1 .4 -6.2 .3 3.4 .3 -2.1 .4 -1.5 .3 0 .4 -1.4 .3 .1 .3 .4 .4 -.5 .3 -4.3 .3 -2.1 .4 1.5 .3 -1.4 .4 .8 .3 .8 .3 -.4 .4 -5 .3 5 .4 -.2 .3 -2.2 .3 .5 .4 -2.1 .3 -0 .3 1.2 .4 4 .3 -.6 .4 -.2 .3 .9 .3 4.2 .4 -4.2 .3 2.8 .3 3.6 .4 2.4 .3 -1 .4 -1.1 .3 1.5 .3 2 .4 1.4 .3 2.6 .4 -3.6 .3 7.1 .3 3.8 .4 -0 .3 -6.1 .3 1.7 .4 .7 .3 .7 .4 2.1 .3 -.7 .3 4.8 .4 1.3 .3 -3.4 .3 .6 .4 4.2 .3 -4 .4 -3 .3 2.6 .3 4 .4 -2.1 .3 1 .4 6 .3 -.3 .3 -8.6 .4 3.5 .3 3.2 .3 4.1 .4 -5.2 .3 -5.1 .4 5.5 .3 -1.2 .3 -5 .4 10.6 .3 -.3 .3 1 .4 -10.1 .3 9.5 .4 -5.6 .3 5.8 .3 -6 .4 -.8 .3 5.5 .4 -2.7 .3 3.2 .3 -3.7 .4 -.2 .3 -4.1 .3 6.5 .4 -4.6 .3 12 .4 -10.9 .3 6.3 .3 -4.8 .4 7 .3 -4.6 .3 -2.4 .4 6.2 .3 -7.1 .4 8.4 .3 -1.1 .3 -7.1 .4 .2 .3 7.2 .4 -3.8 .3 -4.5 .3 9 .4 -5.7 .3 7.2 .3 -6.6 .4 1.7 .3 -3.1 .4 -.8 .3 4 .3 2 .4 -8.9 .3 4.2 .3 6 .4 2 .3 -6.3 .4 -3.4 .3 -.7 .3 8.2 .4 -8.5 .3 10 .4 -3 .3 -2.7 .3 -.8 .4 1.1 .3 .2 .3 -1.5 .4 1.5 .3 3.8 .4 -5.3 .3 3.2 .3 -5.7 .4 2.1 .3 5.2 .3 -1.3 .4 1.4 .3 -5.3 .4 9.3 .3 3.7 .3 -8.6 .4 .5 .3 -6.2 .4 7.5 .3 -7.1 .3 -.9 .4 5.5 .3 -.7 .3 -2.5 .4 5 .3 .9 .4 .2 .3 -4.9 .3 6.4 .4 -3.9 .3 -.2 .3 -3 .4 6 .3 -7.7 .4 1.1 .3 12.1 .3 -9.6 .4 8.1 .3 -1.8 .4 -4.9 .3 3.1 .3 -2.2 .4 -2.1 .3 2.9 .3 -2.4 .4 2 .3 -3.2 .4 3.8 .3 -3.5 .3 16.3 .4 -13.9 .3 3.8 .3 -2.9 .4 -.9 .3 6 .4 -6.7 .3 -2.4 .3 2.8 .4 5.3 .3 -6.9 .4 1.5 .3 1.4 .3 -2.8 .4 -.6 .3 5.4 .3 -5.1 .4 2.1 .3 1 .4 4.3 .3 .6 .3 -6.4 .4 6.4 .3 -6.7 .4 7.2 .3 -.6 .3 1.3 .4 .4 .3 -6.5 .3 5 .4 -.4 .3 -3.8 .4 -3.9 .3 7 .3 4.7 .4 1.1 .3 -1.6 .3 -7.4 .4 -.2 .3 -1.1 .4 2.4 .3 -.1 .3 7.8 .4 -5.9 .3 -5.9 .4 .3 .3 -2 .3 9.7 .4 2 .3 -5.6 .3 -.9 .4 6.9 .3 -3.4 .4 -7.3 .3 .2 .3 4.4 .4 2.9 .3 -4.6 .3 .4 .4 .3 .3 -1.1 .4 5.4 .3 8.1 .3 -13.7 .4 -.2 .3 .8 .4 7 .3 -7.7 .3 .7 .4 -1.6 .3 7.4 .3 -.4 .4 -4.4 .3 9.4 .4 -5.4 .3 7.2 .3 -14.1 .4 10 .3 -3.2 .3 2.7 .4 -9.6 .3 3 .4 6.1 .3 -1.7 .3 .3 .4 2.6 .3 -4.2 .4 8.2 .3 3 .3 -7.8 .4 2.5 .3 -8.5 .3 1.3 .4 1.8 .3 -.8 .4 7.1 .3 -5.4 .3 3 .4 .4 .3 -6.1 .3 3.3 .4 -3.4 .3 3.5 .4 3.1 .3 .1 .3 -4.4 .4 1.9 .3 -6.7 .4 8.7 .3 -5.1 .3 -1.5 .4 11.3 .3 -13.2 .3 3.4 .4 .2 .3 -.7 .4 6.3 .3 -3.5 .3 1.5 .4 2.9 .3 -6.8 .3 7 .4 .6 .3 -9 .4 -1.1 .3 6.7 .3 1.5 .4 -2 .3 -3.5 .4 5.6 .3 -1.3 .3 -.8 .4 -5 .3 6 .3 -2.1 .4 -.5 .3 -2.2 .4 13.7 .3 -11.6 .3 -1.2 .4 7.4 .3 -8.7 .3 9.8 .4 -4.2 .3 5.3 .4 -4.9 .3 -1.3 .3 8 .4 -9.2 .3 8.8 .4 -3.2 .3 -2.9 .3 1.3 .4 -1.4 .3 .6 .3 3.4 .4 -5.6 .3 3.5 .4 .7 .3 -3.1 .3 1.3 .4 -.8 .3 -5.3 .3 9.3 .4 -6.3 .3 -.8 .4 4.5 .3 -3.2 .3 3.1 .4 1.1 .3 -4.7 .4 .7 .3 2.2 .3 -1.1 .4 -1.7 .3 9.9 .3 -1.9 .4 -11.2 .3 8.1 .4 -.5 .3 -1.1 .3 -.6 .4 -2 .3 5.4 .3 -8.4 .4 1.8 .3 1.3 .4 1.3 .3 4.9 .3 -6 .4 2.7 .3 2.3 .4 5.3 .3 -3.7 .3 -4.8 .4 -1.9 .3 8 .3 -7.1 .4 .6 .3 .9 .4 2.2 .3 -5.9 .3 14.4 .4 -11.4 .3 2.5 .3 -2.6 .4 -2.5 .3 2.9 .4 -2.8 .3 2.2 .3 -5.1 .4 10.7 .3 1.9 .4 -5.4 .3 6.9 .3 .7 .4 -9.2 .3 1.6 .3 -2.5 .4 .6 .3 -1.5 .4 2.8 .3 .3 .3 1.4 .4 7.4 .3 -8.7 .3 4.7 .4 -7 .3 8.1 .4 -5.8 .3 -.2 .3 1.8 .4 -3.4 .3 6.8 .4 -3.6 .3 -.8 .3 1.1 .4 -3 .3 8.1 .3 -5.1 .4 2.3 .3 -1.2 .4 -7.3 .3 2.5 .3 .1 .4 7.4 .3 .7 .3 -.1 .4 -2.5 .3 3.1 .4 -4.8 .3 7.5 .3 -3.4 .4 -4.6 .3 -.4 .4 4.5 .3 -4.2 .3 6.6 .4 -10 .3 4.9 .3 -.6 .4 -4.1 .3 15.5 .4 -4.3 .3 -3.7 .3 1.1 .4 .3 .3 -3.1 .3 -2.6 .4 5.2 .3 -5.3 .4 -1.4 .3 3.5 .3 0 .4 -1.8 .3 1.5 .4 4.3 .3 -8.1 .3 1.5 .4 8.5 .3 -5.5 .3 -1.7 .4 5.8 .3 -8.1 .4 4 .3 3.7 .3 3.9 .4 -6.6 .3 -.9 .3 -.4 .4 2.1 .3 3.1 .4 2.1 .3 -6.7 .3 -3.7 .4 -1.4 .3 6.9 .4 -3.6 .3 1.1 .3 6.5 .4 -4.9 .3 1.4 .3 1.6 .4 -2.4 .3 -3.7 .4 7 .3 -8.4 .3 6 .4 4.4 .3 -5.7 .3 -1.7 .4 3.7 .3 -4.3 .4 -.8 .3 5.7 .3 6.6 .4 -6.2 .3 1.6 .4 -6.1 .3 4.4 .3 -2.3 .4 6.5 .3 -1.5 .3 -2.6 .4 1.8 .3 3.3 .4 -13 .3 10.4 .3 -2.8 .4 2.1 .3 1 .3 -5.8 .4 .9 .3 6.1 .4 -8.2 .3 1.5 .3 -3 .4 2.3 .3 7.4 .4 -.8 .3 -4.4 .3 -.8 .4 2.2 .3 .5 .3 1.5 .4 1.5 .3 2.6 .4 -11.6 .3 6.5 .3 -1.8 .4 2.5 .3 6.7 .3 -4.8 .4 -1.3 .3 -5.5 .4 6.4 .3 -1.7 .3 -3.2 .4 2.6 .3 4.1 .4 -9.7 .3 11.5 .3 -11.9 .4 8.8 .3 -6.4 .3 -.1 .4 4.3 .3 .1 .4 -1 .3 -5.2 .3 8 .4 -1.8 .3 .8 .3 .8 .4 -6.6 .3 2.1 .4 2 .3 2.7 .3 1.7 .4 -5.1 .3 3.6 .4 -8.5 .3 11.6 .3 -11.8 .4 6 .3 .5 .3 -2.1 .4 5.4 .3 -3.9 .4 5.4 .3 9.9 .3 -16.9 .4 3.6 .3 -.5 .3 .5 .4 -6.7 .3 11.3 .4 -12.3 .3 1.4 .3 8.8 .4 -10.9 .3 1.9 .4 .5 .3 6.9 .3 5.3 .4 -8.7 .3 4.8 .3 6.8 .4 -14 .3 9.7 .4 -2.6 .3 -1.9 .3 5.9 .4 -.7 .3 -4 .3 -3.5 .4 1.2 .3 -.7 .4 8.1 .3 -3.6 .3 -.9 .4 -6.7 .3 12.1 .4 -9 .3 .5 .3 6.7 .4 3.2 .3 -.8 .3 -10.3 .4 5.2 .3 -7.6 .4 12.5 .3 -14.3 .3 4 .4 4.1 .3 -1.4 .3 5.1 .4 -.3 .3 2.3 .4 -3.4 .3 -1.1 .3 -4.6 .4 -3.2 .3 17.5 .4 -4.3 .3 2.5 .3 -6.3 .4 3 .3 -12.8 .3 12.3 .4 -5.4 .3 5.1 .4 -7.9 .3 8.9 .3 -2.3 .4 -2.6 .3 4.2 .3 3.2 .4 -7.5 .3 .3 .4 -3.3 .3 -2.1 .3 8.1 .4 -9.6 .3 9.5 .4 -6.3 .3 6.5 .3 -2.2 .4 1.4 .3 -2.7 .3 -1.1 .4 -4.3 .3 11.6 .4 -.8 .3 -6.6 .3 2.1 .4 -4.2 .3 -2.8 .3 2.8 .4 2.9 .3 -1.7 .4 3.9 .3 1.8 .3 -4.2 .4 5 .3 1.8 .4 -9.8 .3 -.1 .3 5.6 .4 -2.9 .3 -.2 .3 -2.9 .4 3.7 .3 7.2 .4 -.6 .3 -5.8 .3 5.5 .4 -9.5 .3 10.1 .3 -6.9 .4 .2 .3 .3 .4 -1.3 .3 3.8 .3 -3.7 .4 .5 .3 6.9 .4 -10.8 .3 4.2 .3 6.6 .4 3.3 .3 -1.4 .3 -8.5 .4 4.3 .3 -2.1 .4 8.2 .3 -5.5 .3 3 .4 -11.7 .3 5.6 .3 3.5 .4 1 .3 -5.8 .4 3.2 .3 7.9 .3 -5.1 .4 -3.3 .3 8.5 .4 -3.4 .3 1.1 .3 0 .4 -.5 .3 -.4 .3 -1.7 .4 3.5 .3 -1.2 .4 -4.6 .3 5.2 .3 -.9 .4 -7.1 .3 6.6 .3 -8.1 .4 5.1 .3 8.5 .4 -12.8 .3 4.6 .3 3.5 .4 .9 .3 -13.4 .4 17.1 .3 1.2 .3 -14.4 .4 .6 .3 9.9 .3 -3.2 .4 -6.4 .3 12.6 .4 -18.9 .3 14.9 .3 -6.7 .4 9.6 .3 -12.7 .3 9.9 .4 -5.6 .3 1.1 .4 -3.6 .3 3.4 .3 9.5 .4 -8.2 .3 2.1 .4 3.7 .3 .5 .3 -7.8 .4 5 .3 -7.1 .3 14.8 .4 -11 .3 -.9 .4 4.7 .3 -7.2 .3 10.6 .4 -10.3 .3 2 .3 2.2 .4 -2.5 .3 -3.7 .4 14.4 .3 -3.7 .3 -5.1 .4 -4.8 .3 13.5 .4 -5.6 .3 -5.3 .3 2.7 .4 -5.6 .3 9.9 .3 1.1 .4 -8.5 .3 6.2 .4 -2 .3 5.3 .3 -6.8 .4 -.1 .3 8.2 .3 -0 .4 -11.5 .3 6.9 .4 -.4 .3 3.3 .3 -4.7 .4 6.9 .3 -6.6 .4 -2.1 .3 -.2 .3 -2.2 .4 9.8 .3 -4.7 .3 4.8 .4 -12.3 .3 14 .4 -3.1 .3 4.3 .3 -10 .4 2.7 .3 10.6 .3 -7.5 .4 -.6 .3 2 .4 2.3 .3 -10.8 .3 -.2 .4 -.9 .3 13.1 .4 -7.2 .3 5.1 .3 -2.3 .4 -1.6 .3 -1.4 .3 -4.7 .4 -.3 .3 .8 .4 5.4 .3 -.2 .3 4.9 .4 -1.5 .3 6.7 .3 -11.8 .4 .2 .3 1.1 .4 -2.5 .3 4.1 .3 2.2 .4 5.1 .3 -11.4 .4 6.4 .3 4.2 .3 .2 .4 -13.1 .3 5.2 .3 -5.3 .4 .2 .3 6.6 .4 4.2 .3 -1.5 .3 -1 .4 -7.3 .3 10.6 .3 .1 .4 -2.3 .3 -1.2 .4 -0 .3 -3.4 .3 3.4 .4 2.4 .3 -8.7 .4 4.8 .3 -2.3 .3 -3.4 .4 -1.3 .3 11.2 .3 3.3 .4 -9.2 .3 3.9 .4 -.3 .3 -8.6 .3 9.7 .4 .6 .3 -3.9 .3 -.2 .4 5.2 .3 -5.9 .4 3.2 .3 -4 .3 -2.4 .4 1.2 .3 1.3 .4 -4.6 .3 -.3 .3 1.1 .4 7.3 .3 .9 .3 -3.9 .4 6.2 .3 -.5 .4 -10 .3 4.1 .3 3.6 .4 -5.3 .3 1.9 .3 -2.9 .4 1.7 .3 .2 .4 12.8 .3 -11.1 .3 -2 .4 .4 .3 6.5 .4 -2.9 .3 -7 .3 25 .4 -19.9 .3 -1.7 .3 9.6 .4 -.6 .3 -2.4 .4 -3.2 .3 15.7 .3 -12.3 .4 -11.8 .3 6.1 .3 9.3 .4 -8.3 .3 0 .4 4 .3 4.9 .3 -15.2 .4 7.3 .3 3.1 .4 -6.9 .3 10.7 .3 -5.4 .4 -2.2 .3 1.2 .3 .7 .4 5.2 .3 -10.7 .4 11.4 .3 -7.2 .3 5.9 .4 -8.5 .3 8 .3 -7.3 .4 7 .3 2.7 .4 -2.9 .3 -3 .3 -.8 .4 -3.1 .3 -1.3 .4 3 .3 2 .3 4 .4 4.7 .3 -9.7 .3 4 .4 -9.7 .3 8.1 .4 -1 .3 -4.8 .3 .7 .4 11.6 .3 -6.7 .3 -4.5 .4 2.2 .3 -.7 .4 17.3 .3 -13.6 .3 -3.3 .4 6.8 .3 -.4 .4 -3.5 .3 1.4 .3 -1.8 .4 -2.8 .3 6.3 .3 -2.3 .4 -1.1 .3 -2.3 .4 -.1 .3 3.6 .3 4.2 .4 -7.8 .3 -1.5 .3 -5 .4 15.8 .3 -7.2 .4 5.1 .3 -12.9 .3 13.5 .4 -2.2 .3 -.3 .4 2.8 .3 -7.1 .3 1.3 .4 -6.3 .3 3.5 .3 4 .4 -.8 .3 -0 .4 10 .3 -12.5 .3 -4.3 .4 13.4 .3 -9 .3 5.9 .4 .8 .3 -5.8 .4 5.7 .3 -9.4 .3 3.4 .4 -1.9 .3 7.6 .4 -1.1 .3 -6.6 .3 9.6 .4 -12.8 .3 10.3 .3 .2 .4 -1.9 .3 4 .4 -12.4 .3 4.5 .3 -3 .4 7 .3 -.9 .3 9.7 .4 -11.9 .3 -1.6 .4 3.3 .3 -3.7 .3 7.8 .4 -1.4 .3 4.6 .4 1.3 .3 -9.2 .3 0 .4 5.2 .3 -3 .3 8.2 .4 -6.3 .3 -8 .4 14 .3 -2.7 .3 -3 .4 -5.3 .3 3.7 .3 7.2 .4 -12.6 .3 7.1 .4 -.3 .3 -5 .3 2.8 .4 3.6 .3 1.6 .4 -3.7 .3 -3.4 .3 2 .4 -1.5 .3 4.5 .3 -5.3 .4 5.8 .3 .8 .4 -.1 .3 -1.9 .3 1.3 .4 -7.2 .3 10.1 .3 -1.6 .4 -9.5 .3 9.4 .4 -3.4 .3 -1.1 .3 3.5 .4 -5.7 .3 8.8 .4 -7.5 .3 .3 .3 -2 .4 9 .3 -.6 .3 -2.2 .4 1.1 .3 .8 .4 -4.5 .3 -2.3 .3 8.2 .4 -10.3 .3 3 .3 5.3 .4 -1 .3 -.8 .4 -6.8 .3 5.2 .3 -1 .4 2 .3 -2.1 .4 -5.8 .3 17.2 .3 -16.2 .4 9.4 .3 -2.1 .3 -3.4 .4 2.4 .3 2.8 .4 3 .3 1 .3 .2 .4 -4.4 .3 1.9 .3 -7.4 .4 -1.3 .3 -4.2 .4 4 .3 9.6 .3 -4.3 .4 .4 .3 5.6 .4 -3.4 .3 -9.7 .3 1.1 .4 -0 .3 8 .3 1.6 .4 -10.4 .3 4.6 .4 -1.6 .3 2.7 .3 -4.1 .4 7.4 .3 -4.3 .3 -2.2 .4 7.1 .3 -4.5 .4 -.2 .3 2.1 .3 1.5 .4 1.4 .3 -5.2 .4 1.9 .3 -.6 .3 .4 .4 7.5 .3 -5.6 .3 1 .4 5.7 .3 -11.1 .4 6.6 .3 -3.1 .3 -5.6 .4 5.2 .3 -7.2 .3 8.3 .4 -6.8 .3 1.7 .4 -.1 .3 5 .3 3.8 .4 -11.2 .3 .6 .4 6.6 .3 -8.8 .3 8.7 .4 1.9 .3 -2 .3 -7.1 .4 9.7 .3 -8.2 .4 -1 .3 2.1 .3 -.5 .4 3.4 .3 -7.4 .3 -1.3 .4 2.1 .3 -2.4 .4 4.6 .3 -7.5 .3 1.5 .4 -7 .3 6.8 .4 -3.9 .3 -1.8 .3 14.3 .4 -12.8 .3 -2.8 .3 -7.9 .4 7.1 .3 -3.2 .4 -8.4 .3 -.7 .3 3.1 .4 -6 .3 -2.6 .4 -3.5 .3 -3.2 .3 .8 .4 -3.1 .3 -1.7 .3 -3.6 .4 -1.2 .3 -6.4 .4 -1.2 .3 -.1 .3 -1.9 .4 -2.9 .3 -2.8 .3 -2.4 .4 -.4 .3 -2.6 .4 -.1 .3 .6 .3 -2 .4 -1 .3 -.2 .4 1.4 .3 -1.2 .3 1.3 .4 2 .3 1.1 .3 2.3 .4 .8 .3 1.3 .4 1.7 .3 .5 .3 2.1 .4 2.2 .3 6.2 .3 -2.3 .4 3 .3 3 .4 4.5 .3 5.3 .3 0 .4 3.3 .3 2 .4 .8 .3 6.1 .3 .2 .4 -1.3 .3 6.9 .3 1.6 .4 1.8 .3 .2 .4 -.4 .3 3 .3 -0 .4 8 .3 1.9 .3 3 .4 -9.8 .3 11.4 .4 -7.3 .3 3.6 .3 9.2 .4 -13.4 .3 10.2 .4 -5.3 .3 5.3 .3 .9 .4 -1.4 .3 -3.5 .3 -4.9 .4 11.4 .3 -4.6 .4 .5 .3 2.9 .3 -.8 .4 1 .3 -4.4 .3 5.4 .4 1.5 .3 .7 .4 2.3 .3 -5.6 .3 7.2 .4 -10.6 .3 6.3 .4 -3.2 .3 -1 .3 12.9 .4 -7.3 .3 -3.2 .3 -7.1 .4 15.1 .3 -1 .4 -12.3 .3 4.5 .3 7.4 .4 -1.2 .3 -4.5 .3 3.1 .4 -.6 .3 -3.4 .4 2.2 .3 -6.2 .3 7.1 .4 1.5 .3 3.5 .4 -9.1 .3 -1 .3 .4 .4 7.8 .3 -9.3 .3 6.1 .4 -9.2 .3 6 .4 -5.2 .3 2.1 .3 15.6 .4 -11.2 .3 -3.8 .3 10.6 .4 -3.8 .3 -1.4 .4 2.6 .3 .7 .3 -2.5 .4 -2.6 .3 3.4 .4 1.3 .3 -4.4 .3 -4.6 .4 2.5 .3 1.2 .3 3.8 .4 4.3 .3 -11.1 .4 2.1 .3 6.5 .3 -3.2 .4 1.4 .3 -2.6 .3 5.2 .4 -11.8 .3 6.8 .4 -9.5 .3 9.5 .3 9.6 .4 -13 .3 2.1 .4 -1.9 .3 -6.2 .3 4.4 .4 1.1 .3 -2.3 .3 -4.5 .4 .5 .3 3.9 .4 -3 .3 -3.9 .3 6.8 .4 -8.7 .3 -2.6 .3 5 .4 -2.6 .3 -7.4 .4 5.7 .3 -9.4 .3 .1 .4 .4 .3 -1.3 .4 -1.4 .3 .5 .3 -7.2 .4 3.2 .3 -4.3 .3 -3.7 .4 -1.2 .3 2 .4 -1.5 .3 .1 .3 -4.2 .4 2.1 .3 -2.9 .3 1.1 .4 -1.4 .3 6.9 .4 -2.1 .3 1.4 .3 .5 .4 1 .3 3.2 .4 3.2 .3 -2.4 .3 3 .4 5.9 .3 -4.3 .3 .8 .4 1.6 .3 5.1 .4 1.6 .3 4.4 .3 -7.6 .4 8.1 .3 4.8 .3 -1.3 .4 6.4 .3 -6.1 .4 6.4 .3 -4.2 .3 2 .4 .8 .3 9.2 .4 -13.8 .3 9.4 .3 -4.8 .4 -2 .3 10.3 .3 2.9 .4 -7.7 .3 3.9 .4 2.8 .3 -8.8 .3 .8 .4 -3.6 .3 7 .3 -1.9 .4 .5 .3 .3 .4 .6 .3 -2.2 .3 4.4 .4 -.5 .3 4.6 .4 -8.5 .3 -2 .3 2.7 .4 2.9 .3 -6.3 .3 2.6 .4 -.5 .3 -1.5 .4 1.6 .3 -11.3 .3 7.7 .4 -3.5 .3 1.4 .3 -3.4 .4 -1.4 .3 .3 .4 .6 .3 -5.9 .3 -7.6 .4 3.7 .3 -1.5 .4 -3.7 .3 -5.6 .3 -1.3 .4 -.6 .3 -4 .3 -4.7 .4 1.4 .3 -2.7 .4 .9 .3 -4.4 .3 .4 .4 -3.2 .3 .8 .3 -4.3 .4 1.4 .3 -2.4 .4 -.2 .3 .1 .3 3.7 .4 .8 .3 -2.5 .4 .9 .3 2.1 .3 4 .4 3.5 .3 -2.6 .3 .1 .4 3.3 .3 7.2 .4 -1.6 .3 4.5 .3 1.3 .4 3.8 .3 3.5 .3 -2.1 .4 3.1 .3 -1.7 .4 6.3 .3 2.8 .3 -4.8 .4 2.4 .3 10.2 .4 -4.5 .3 2.4 .3 4.1 .4 .6 .3 -3 .3 -14 .4 -25.5 .3 -40.3 .4 -42.9 .3 -35.8 .3 -22.9 .4 -7.9 .3 7.8 .3 23.1 .4 36.2 .3 43.5 .4 43 .3 26.5 .3 14.3 .4 -.8 .3 6.6 .4 -6.3 .3 5.4 .3 -5.9 .4 3.2 .3 -2.1 .3 1.9 .4 6.2 .3 -4.5 .4 1.6 .3 -6 .3 4.3 .4 -4.4 .3 -2 .3 6.2 .4 -4.6 .3 -5.9 .4 7.9 .3 -3.8 .3 1.6 .4 -6.3 .3 6.3 .4 2.6 .3 -5.9 .3 -1.4 .4 2 .3 3.4 .3 1.5 .4 -9.9 .3 5.1 .4 1.4 .3 3.8 .3 -5 .4 -3.3 .3 .6 .3 .7 .4 -.6 .3 -3.2 .4 4.1 .3 1.6 .3 -6.8 .4 5.3 .3 -.8 .4 -6.2 .3 6.7 .3 -3.4 .4 1.3 .3 .7 .3 -7.6 .4 9.1 .3 -7.7 .4 6 .3 .6 .3 -8 .4 -.1 .3 5.5 .3 -2.1 .4 4.8 .3 -5.3 .4 -4.6 .3 4.9 .3 -5.2 .4 1.8 .3 .4 .4 -1.5 .3 -1.9 .3 1.5 .4 -2.7 .3 -2.6 .3 1.5 .4 -2 .3 -.4 .4 -.4 .3 1.9 .3 -5.5 .4 -3 .3 2.5 .3 1 .4 -2.6 .3 -.2 .4 .3 .3 -3.9 .3 3 .4 -5.5 .3 .6 .4 -2.8 .3 -.3 .3 -3.1 .4 -.8 .3 .2 .3 -1.1 .4 -1.1 .3 -4.5 .4 1.3 .3 -3.8 .3 1.4 .4 -1.6 .3 -1.7 .3 -4 .4 -.3 .3 -.5 .4 -1.9 .3 -3.3 .3 -3.5 .4 -.5 .3 -2.7 .4 .3 .3 -3.9 .3 -2.5 .4 -3.6 .3 -6.9 .3 -8.8 .4 -15.7 .3 -23.7 .4 -29.7 .3 -35 .3 -37.7 .4 -38 .3 -37.1 .3 -35.3 .4 -32.9 .3 -30.4 .4 -27.7 .3 -24.9 .3 -21.9 .4 -19.1 .3 -16.1 .4 -13.3 .3 -10.2 .3 -7.4 .4 -4.4 .3 -1.4 .3 1.5 .4 4.5 .3 7.4 .4 10.3 .3 13.3 .3 16.2 .4 19.2 .3 22 .3 24.9 .4 27.7 .3 30.5 .4 33.1 .3 35.3 .3 37.1 .4 38.1 .3 37.6 .4 34.9 .3 30.1 .3 22.8 .4 15.7 .3 9.4 .3 5.6 .4 3.9 .3 3.3 .4 .7 .3 2.6 .3 2 .4 2.3 .3 1.3 .3 1 .4 3.3 .3 .4 .4 2.1 .3 2.8 .3 1.8 .4 -.3 .3 3.1 .4 -.4 .3 .3 .3 3.3 .4 .8 .3 -.7 .3 2.8 .4 -1.9 .3 9 .4 -4.3 .3 2.4 .3 .1 .4 -.8 .3 2.3 .3 -1 .4 -.2 .3 2 .4 -.9 .3 2.5 .3 -2.2 .4 1.6 .3 -.5 .4 -.5 .3 -1 .3 1.8 .4 -2 .3 1.1 .3 .8 .4 -2.8 .3 -.3 .4 2.3 .3 -5.9 .3 2.2 .4 -4.9 .3 -1.1 .3 -1.6 .4 -3 .3 -.3 .4 -3.2 .3 -2.4 .3 -1.3 .4 -3.3 .3 -3.1 .4 -3 .3 -3.1 .3 -2.4 .4 -4 .3 -4.5 .3 -2 .4 -4.4 .3 -3.2 .4 -2.3 .3 -3.7 .3 -3.6 .4 -2.8 .3 -3.2 .3 -3.8 .4 -2.5 .3 -3.2 .4 -2.9 .3 -2.4 .3 -2.4 .4 -2.1 .3 -2.3 .4 -1.8 .3 -2 .3 -1 .4 -1.5 .3 -1.3 .3 -.8 .4 -.5 .3 .1 .4 -.4 .3 .1 .3 .8 .4 .8 .3 .9 .3 1 .4 1.2 .3 2.3 .4 1.2 .3 2.6 .3 1.6 .4 3.1 .3 2.1 .4 3.2 .3 2.7 .3 2.9 .4 3 .3 3.6 .3 3.2 .4 4.2 .3 3.6 .4 2.4 .3 4.1 .3 3.5 .4 4.6 .3 3.7 .3 3.3 .4 2.6 .3 5.1 .4 4.1 .3 3.4 .3 1.3 .4 4 .3 1.5 .4 4.2 .3 3.7 .3 5.3 .4 -.1 .3 5.1 .3 .8 .4 -1.2 .3 5.8 .4 .1 .3 1.4 .3 -2.5 .4 1.5 .3 2 .3 -1 .4 2 .3 -2.9 .4 -1.9 .3 3 .3 -2.4 .4 -5.7 .3 3.3 .4 -4.6 .3 -1.5 .3 -7.9 .4 -1.5 .3 -1.1 .3 -3.8 .4 -6.4 .3 -3.3 .4 -3.7 .3 -1.5 .3 -1.8 .4 -4.8 .3 -.2 .3 -2.9 .4 -2.1 .3 -1 .4 .2 .3 -1.7 .3 1.4 .4 .2 .3 3.2 .4 .5 .3 2 .3 4.6 .4 3.5 .3 -.4 .3 7.6 .4 .5 .3 5 .4 4.4 .3 3.1 .3 3.7 .4 8 .3 .6 .3 3.4 .4 7.1 .3 2.3 .4 1.7 .3 7 .3 -1.9 .4 10.4 .3 0 .4 -2.3 .3 5.1 .3 -5.3 .4 .2 .3 9.2 .3 2 .4 -8.2 .3 1.8 .4 11 .3 3.4 .3 -3.5 .4 -6.1 .3 9.3 .3 -5 .4 -4.4 .3 21.8 .4 -8.8 .3 -3.8 .3 -1.6 .4 -1.7 .3 7.4 .4 -11.3 .3 8.2 .3 -12.2 .4 4.1 .3 -2.5 .3 11.7 .4 -11.1 .3 6.1 .4 1.2 .3 -6.5 .3 11.1 .4 -6.6 .3 5.7 .3 -8.9 .4 2 .3 21.3 .4 -17.5 .3 -2.4 .3 4.4 .4 -8.2 .3 -2.4 .4 -1.4 .3 4 .3 -5.3 .4 1.9 .3 -2.3 .3 -2.3 .4 9.3 .3 -5.2 .4 -8.4 .3 3.1 .3 2.8 .4 -9 .3 .5 .3 -2.1 .4 -.4 .3 2.6 .4 1.3 .3 -.1 .3 -9 .4 -2.5 .3 2.7 .4 .2 .3 -2 .3 2.5 .4 3 .3 -6 .3 3.8 .4 .4 .3 -1.2 .4 -4.8 .3 5.3 .3 4.2 .4 -4.6 .3 .1 .3 -0 .4 4.1 .3 -5.4 .4 6.7 .3 2.3 .3 1.4 .4 1.3 .3 -.4 .4 14.4 .3 -7.7 .3 -3.1 .4 6.1 .3 -2.6 .3 7.7 .4 .3 .3 -2.5 .4 7.2 .3 -.1 .3 1.6 .4 -.8 .3 -8 .3 6.7 .4 -2.6 .3 4 .4 1.5 .3 -7.7 .3 8.8 .4 10.9 .3 -5.3 .4 -6.2 .3 2.9 .3 7.2 .4 -10.8 .3 -1.3 .3 3.1 .4 -4 .3 16.7 .4 -6.1 .3 9.6 .3 -19.2 .4 8 .3 7 .3 -6.5 .4 1.4 .3 5.7 .4 -15.8 .3 8.7 .3 -9.3 .4 11 .3 8.1 .4 -7.6 .3 5.9 .3 -10.3 .4 1.3 .3 2.2 .3 11.6 .4 -.2 .3 -12.8 .4 5.5 .3 -13.4 .3 1.8 .4 18 .3 -3.7 .3 -16.1 .4 -.8 .3 8.6 .4 -1.7 .3 -3.4 .3 -1.8 .4 16.7 .3 -7.1 .4 1.9 .3 8 .3 -4 .4 -1.1 .3 -2.4 .3 1.2 .4 -2.8 .3 -6.1 .4 1.2 .3 -1.2 .3 13.8 .4 2.9 .3 1.2 .3 -11.7 .4 -.2 .3 8.2 .4 -13 .3 12.5 .3 -12.9 .4 12.9 .3 -16.2 .4 18.2 .3 -18.5 .3 15.7 .4 -.7 .3 -0 .3 3 .4 -7 .3 8.1 .4 -12.8 .3 6.7 .3 -8.3 .4 7.1 .3 3.5 .3 -10.7 .4 6.8 .3 7.5 .4 .2 .3 -10.8 .3 -2.5 .4 11.9 .3 -1.8 .4 -10.6 .3 11.6 .3 -4.9 .4 -6 .3 7.1 .3 -5.9 .4 16.3 .3 -17.5 .4 13.6 .3 -19.2 .3 5 .4 13.4 .3 -7.5 .3 -.2 .4 -2.5 .3 -1.4 .4 10.6 .3 .7 .3 -12.9 .4 6.6 .3 3 .4 -9.8 .3 11.6 .3 6.9 .4 -17.5 .3 1.6 .3 7.3 .4 2.1 .3 -3.2 .4 9.7 .3 -9.8 .3 11.3 .4 -9.7 .3 6.2 .3 -10.8 .4 7 .3 -1.9 .4 -6.2 .3 -4.8 .3 1.3 .4 12.3 .3 .8 .4 5.2 .3 -11.5 .3 3.1 .4 8.8 .3 -2.7 .3 -11.8 .4 2.5 .3 7.3 .4 -13.7 .3 14.6 .3 -5.3 .4 .1 .3 -3.6 .3 10 .4 -15.4 .3 12 .4 5.8 .3 -6.2 .3 6 .4 -.8 .3 -.4 .4 3.2 .3 -12.2 .3 1.9 .4 -5.1 .3 13 .3 -10.1 .4 8.4 .3 -13.9 .4 6.1 .3 -5.9 .3 16 .4 -16.9 .3 10.9 .3 -4.1 .4 8.2 .3 -11 .4 3.2 .3 5.2 .3 2.6 .4 -10.5 .3 2.6 .4 9.7 .3 -5.8 .3 -.8 .4 -5.5 .3 -2.5 .3 8.9 .4 1.9 .3 -11.2 .4 4.9 .3 -7.4 .3 16.1 .4 -2.8 .3 -.6 .3 -6.9 .4 .2 .3 11.1 .4 -7.2 .3 -1.1 .3 -2.3 .4 11.3 .3 -3 .4 4.3 .3 -4.6 .3 -6.9 .4 1 .3 10 .3 -3.9 .4 -2.8 .3 5.7 .4 -.1 .3 -1.5 .3 -11.1 .4 8 .3 6.8 .3 -.7 .4 -15.3 .3 .1 .4 28.4 .3 -19.7 .3 -.2 .4 9.2 .3 -2.2 .4 -3.5 .3 .6 .3 1.5 .4 -10.6 .3 13.7 .3 -10.4 .4 6.7 .3 4.9 .4 -7.6 .3 5.5 .3 -14.6 .4 12.1 .3 7.6 .3 -9.4 .4 -2.4 .3 -4.8 .4 9.7 .3 4.7 .3 -6.5 .4 -9.8 .3 7.2 .4 8.6 .3 -15.6 .3 -3.8 .4 9.7 .3 5.5 .3 -12.6 .4 5.4 .3 10.8 .4 4.1 .3 -15 .3 11.1 .4 -9 .3 .6 .4 2 .3 -3.9 .3 -2.6 .4 11.8 .3 -2.1 .3 -.5 .4 3.7 .3 -9 .4 3.1 .3 -5.6 .3 -5.8 .4 6.7 .3 1.1 .3 2 .4 -5.3 .3 12.5 .4 -1.4 .3 -5.6 .3 -6.5 .4 2.9 .3 3.7 .4 1.3 .3 -.5 .3 .1 .4 5.3 .3 -11.8 .3 12.1 .4 -8 .3 2.1 .4 -4.3 .3 19.3 .3 -12.2 .4 -8.8 .3 6 .3 7.4 .4 -4.5 .3 6.5 .4 -14.8 .3 6.8 .3 11.2 .4 -1.2 .3 -4.7 .4 -3 .3 -6.4 .3 -2.1 .4 5.8 .3 .4 .3 6 .4 -7.4 .3 -7.4 .4 11.6 .3 -9.3 .3 5.3 .4 6.5 .3 2.8 .3 -7 .4 -5.2 .3 8.1 .4 -1.1 .3 4.5 .3 -11.1 .4 9.7 .3 -2.1 .4 1.2 .3 -7.4 .3 3.8 .4 -2.9 .3 8.3 .3 -11.1 .4 16.5 .3 -.8 .4 -3.4 .3 4.6 .3 -5.5 .4 -2.1 .3 -10.2 .3 16.1 .4 -12.5 .3 .5 .4 12.9 .3 -4.4 .3 8.1 .4 -10.3 .3 -8 .4 -2.5 .3 18.8 .3 -7.9 .4 -2.9 .3 1.4 .3 -9 .4 6.1 .3 -1 .4 2.7 .3 7.4 .3 -17.3 .4 8.5 .3 8.5 .3 -1.2 .4 -3.2 .3 -3.1 .4 4.7 .3 2.1 .3 -2.2 .4 -1.2 .3 -6.9 .4 -.2 .3 -7.5 .3 3.7 .4 11.3 .3 -12.6 .3 15.7 .4 -8 .3 2.7 .4 4 .3 -4.7 .3 10 .4 -.8 .3 -13.5 .3 9.3 .4 1.5 .3 -18.1 .4 17 .3 10.3 .3 -20.3 .4 12.4 .3 -2.4 .4 -10.3 .3 -1.5 .3 5.4 .4 -5.2 .3 6.8 .3 .6 .4 5.5 .3 -13 .4 3.7 .3 -7 .3 8.3 .4 14.6 .3 -17.1 .3 9.6 .4 -2.8 .3 -1.2 .4 5.1 .3 -11.3 .3 4.9 .4 -6 .3 9.6 .4 8.9 .3 -12.2 .3 2.8 .4 2.3 .3 1.7 .3 -8.8 .4 12.7 .3 -9 .4 1.6 .3 -7.3 .3 14.4 .4 -13 .3 10.1 .3 -11.8 .4 3.8 .3 -6 .4 14.9 .3 -.6 .3 -3.3 .4 11.2 .3 -23.2 .4 -1.2 .3 17.5 .3 -5.7 .4 -4.9 .3 9.8 .3 -12.5 .4 -1.4 .3 1.6 .4 -1.8 .3 -1 .3 .7 .4 22.9 .3 -15.1 .3 5.9 .4 -13.6 .3 10 .4 -3.7 .3 -3.2 .3 17.4 .4 -11.3 .3 -2.2 .4 3.5 .3 1.1 .3 8.1 .4 -11.7 .3 4.9 .3 6.4 .4 -8.8 .3 3.1 .4 -9.8 .3 18.9 .3 -22.9 .4 17 .3 -8.6 .3 10.8 .4 .5 .3 -10.4 .4 4.7 .3 -8 .3 2.2 .4 8.7 .3 -1.1 .4 -14.7 .3 15.8 .3 -1.4 .4 4.2 .3 -15.4 .3 11.8 .4 -5.8 .3 4.4 .4 2.1 .3 -1 .3 -6.5 .4 10.6 .3 -10.6 .3 -5.5 .4 6 .3 3.6 .4 -8.6 .3 -3.2 .3 11.5 .4 -2.3 .3 2.3 .4 5.7 .3 -2.3 .3 -2.2 .4 -8.8 .3 9.7 .3 3.7 .4 1 .3 -10.4 .4 4.3 .3 1.5 .3 5.8 .4 -15.1 .3 6.6 .3 5.4 .4 -9.8 .3 3.9 .4 -3.9 .3 4.6 .3 6.1 .4 .7 .3 -11.3 .4 .8 .3 2.8 .3 6.9 .4 1.9 .3 -16.3 .3 5.8 .4 1.2 .3 3.2 .4 -5.6 .3 5.8 .3 -1.9 .4 5.7 .3 -4.3 .3 -6 .4 -3.3 .3 9 .4 -7.1 .3 -6.4 .3 10.3 .4 -3.8 .3 2 .4 3.9 .3 -4.8 .3 8.1 .4 -3.5 .3 -7.8 .3 -3 .4 -3.7 .3 17.7 .4 -19.1 .3 3.6 .3 -3.7 .4 1.9 .3 6.9 .3 -4.4 .4 2.5 .3 -1.6 .4 -10.2 .3 5.2 .3 -6.4 .4 3 .3 -3.7 .4 -7.6 .3 3.5 .3 -.7 .4 -2.1 .3 -3.5 .3 -2.9 .4 -5.3 .3 4.2 .4 -2.5 .3 -10.5 .3 .2 .4 -1.3 .3 -2.3 .3 -1.6 .4 .6 .3 -1.9 .4 -6.3 .3 -2.7 .3 .7 .4 -2.8 .3 -2 .4 -.3 .3 .3 .3 -1.1 .4 -1.7 .3 -2.3 .3 -.6 .4 2.4 .3 -1.8 .4 0 .3 1.6 .3 -1 .4 -.6 .3 3.2 .3 -2.5 .4 4.1 .3 -1.2 .4 4.1 .3 1.3 .3 .2 .4 2.7 .3 -.6 .4 3.7 .3 2.4 .3 4.4 .4 2.4 .3 -.6 .3 7.4 .4 1.6 .3 -1.6 .4 4.5 .3 -1.9 .3 7.3 .4 2.7 .3 -2.1 .3 1.2 .4 10.4 .3 3.3 .4 -4.6 .3 9.9 .3 -4 .4 1.2 .3 -.8 .4 6.2 .3 5.8 .3 -5.1 .4 1.5 .3 10.8 .3 -11.9 .4 4.5 .3 6.3 .4 -2.2 .3 -13.8 .3 10.7 .4 -4.9 .3 6.2 .3 2.1 .4 -12.4 .3 13 .4 5.9 .3 -5.3 .3 2.5 .4 -4.3 .3 1.2 .4 -.4 .3 12.6 .3 -14.6 .4 5.5 .3 3.5 .3 -9.3 .4 -2.3 .3 10.1 .4 12.2 .3 -4 .3 -8.3 .4 9.6 .3 -18.9 .3 16.8 .4 -.6 .3 -4.7 .4 -2.1 .3 7.7 .3 -6.5 .4 -1.6 .3 -5.7 .4 -6.8 .3 14 .3 -5.1 .4 16.9 .3 -5 .3 1.3 .4 -6.3 .3 -9.6 .4 -2.6 .3 11.9 .3 -2.5 .4 1.2 .3 -11.8 .3 20.2 .4 -6.8 .3 -5.8 .4 -4 .3 15.4 .3 14.7 .4 -7.4 .3 -4.8 .4 -14.7 .3 20.5 .3 -10.2 .4 -2.6 .3 1.1 .3 -8 .4 13.2 .3 -14.3 .4 1.9 .3 -2 .3 9.1 .4 1.8 .3 -13.1 .3 2.7 .4 15.3 .3 -14.9 .4 -7.2 .3 26.8 .3 -8.8 .4 8.6 .3 -9.2 .4 3.2 .3 -1.9 .3 1.7 .4 -6.7 .3 -3.2 .3 -6.7 .4 10.4 .3 4 .4 -13.4 .3 12.2 .3 7.7 .4 -2.8 .3 -1.4 .3 3.5 .4 2.6 .3 -7.8 .4 -4.7 .3 14.6 .3 -11 .4 2 .3 2.6 .4 -7.4 .3 -3.5 .3 6.1 .4 -2.1 .3 7 .3 -5.4 .4 -1.4 .3 1.8 .4 -6.8 .3 11.2 .3 -7.8 .4 2.1 .3 6.7 .3 -1.6 .4 -9.3 .3 11.4 .4 -12.6 .3 5.8 .3 -13.4 .4 16.2 .3 9.8 .4 -2.7 .3 .5 .3 -2.1 .4 -5.2 .3 3.5 .3 -7.4 .4 -10.6 .3 13.9 .4 -26 .3 23.6 .3 8.1 .4 -4.8 .3 -1.4 .3 -.6 .4 5.3 .3 2 .4 -.1 .3 -7.5 .3 14.9 .4 -19.1 .3 -5 .4 1.8 .3 9.5 .3 7.5 .4 -5.2 .3 -6.7 .3 3.7 .4 -3.3 .3 8.8 .4 -4.8 .3 6.8 .3 -10.1 .4 5.7 .3 11.6 .3 -14.4 .4 2.6 .3 -3 .4 -9.3 .3 13.2 .3 6.8 .4 -14.9 .3 7.9 .4 6.2 .3 -14.4 .3 5.7 .4 4.6 .3 -6.2 .3 -.4 .4 10.7 .3 -2.2 .4 -16.8 .3 6.1 .3 9.6 .4 -16.7 .3 7.2 .3 2.7 .4 11.4 .3 -7.2 .4 -5.3 .3 7.5 .3 2.8 .4 -4.1 .3 -8.7 .4 13.6 .3 1.7 .3 -22.7 .4 6.8 .3 -2.3 .3 -4.9 .4 20.5 .3 -6.6 .4 -2.1 .3 -15.5 .3 19.9 .4 8 .3 -21.8 .3 17 .4 -6 .3 -.7 .4 10.3 .3 -11.7 .3 9 .4 -12.4 .3 7.3 .4 -2.2 .3 -9.1 .3 -.9 .4 -2 .3 9.3 .3 15.7 .4 -30.3 .3 18.6 .4 12.3 .3 -26.4 .3 11.7 .4 -.1 .3 1.7 .3 12 .4 -14.8 .3 -6.8 .4 6.7 .3 5.6 .3 -1.5 .4 -8.9 .3 -3.6 .4 12.5 .3 10.7 .3 -13.2 .4 6.4 .3 12 .3 -8.8 .4 -9.4 .3 -10.5 .4 -2.4 .3 .3 .3 9.3 .4 -5 .3 12.3 .3 2.1 .4 2.2 .3 2 .4 -8.8 .3 -3.6 .3 15 .4 -23.2 .3 18 .4 5.5 .3 -17 .3 -5.6 .4 -4.7 .3 25 .3 .7 .4 -7.3 .3 -8.2 .4 1.8 .3 13.2 .3 -.1 .4 -14.4 .3 .7 .3 4.6 .4 8.8 .3 -15.9 .4 15.2 .3 -6.3 .3 -1.9 .4 5.9 .3 .3 .4 -16.7 .3 18.6 .3 .4 .4 -5.9 .3 -2.8 .3 5.2 .4 -8.7 .3 9.3 .4 -19 .3 4.9 .3 .1 .4 4.4 .3 5.3 .3 17.7 .4 -34.4 .3 18.8 .4 5.1 .3 -9.7 .3 11.2 .4 -9 .3 4.9 .4 4.7 .3 -14.8 .3 2.2 .4 9.9 .3 -32.4 .3 10.8 .4 24.5 .3 -17.4 .4 .9 .3 4.8 .3 -3.9 .4 5.7 .3 -14.9 .3 12.1 .4 -11.6 .3 6.8 .4 5 .3 10.1 .3 -17.4 .4 24.3 .3 -8.1 .4 -4.3 .3 12.3 .3 -16.6 .4 7.2 .3 1.1 .3 -23.2 .4 10.4 .3 9.2 .4 -6.6 .3 6.1 .3 -2.2 .4 -1.9 .3 15.1 .3 -24.8 .4 2.5 .3 19.8 .4 -7.2 .3 2.2 .3 -1.2 .4 1.5 .3 -5.9 .4 3.7 .3 8.6 .3 -9.3 .4 -8.3 .3 14.7 .3 -6.3 .4 -15 .3 4.4 .4 -8.4 .3 20 .3 -9.5 .4 14.4 .3 -16.2 .3 2.3 .4 1.6 .3 13.8 .4 .4 .3 -16.6 .3 17.4 .4 -10.9 .3 -6.3 .4 3.5 .3 1.1 .3 5.4 .4 -15.3 .3 1.6 .3 9 .4 5.2 .3 .9 .4 -.9 .3 -9.9 .3 3.1 .4 -10.5 .3 7.8 .3 6 .4 5.8 .3 -12.4 .4 5.1 .3 -16.9 .3 3 .4 -.9 .3 4.7 .4 -11.1 .3 15.3 .3 -10.8 .4 1.3 .3 -9.8 .3 -4.7 .4 -6.2 .3 1.6 .4 5.5 .3 -11.3 .3 -7.1 .4 -.3 .3 -4.7 .3 -6 .4 -5 .3 -3.9 .4 -6.4 .3 -.2 .3 -7.7 .4 .5 .3 -4.2 .4 -1 .3 2.3 .3 -2.2 .4 1.2 .3 3.6 .3 3.3 .4 4.8 .3 -1.1 .4 5.7 .3 4.3 .3 6.6 .4 7.2 .3 -3.2 .3 5.8 .4 8.8 .3 -.4 .4 11.4 .3 7 .3 -6.2 .4 4.8 .3 .9 .4 11.6 .3 -6.3 .3 7 .4 -3.3 .3 .7 .3 10.5 .4 17.4 .3 -18.1 .4 -2.7 .3 -2.3 .3 .2 .4 -4 .3 4.6 .3 5.8 .4 -1.2 .3 9.5 .4 -4.5 .3 -9.9 .3 -4.2 .4 4.9 .3 33.4 .4 -29.3 .3 6.6 .3 2.3 .4 -.1 .3 -17.4 .3 16.5 .4 -16.1 .3 4.8 .4 25.7 .3 -30.5 .3 5.7 .4 8 .3 .9 .3 -7.8 .4 10.4 .3 4.8 .4 -8.9 .3 -9.7 .3 8.9 .4 -11.2 .3 22 .4 -16.7 .3 -2.6 .3 7.8 .4 7.8 .3 -.7 .3 -12.9 .4 1.5 .3 10.7 .4 -1.5 .3 -7.5 .3 .8 .4 8.6 .3 5.4 .3 -5.3 .4 -4.2 .3 -7.7 .4 -8.1 .3 12.3 .3 6.7 .4 -19 .3 9.5 .4 -2.2 .3 -5.2 .3 10.6 .4 1.6 .3 6.6 .3 -16.8 .4 8.7 .3 5.3 .4 -1.1 .3 -6.4 .3 3.2 .4 1.2 .3 -5 .3 3.7 .4 1.3 .3 -7 .4 7.5 .3 4.9 .3 .2 .4 -10.2 .3 2 .4 10.1 .3 -11.9 .3 1.3 .4 13.9 .3 -6.2 .3 5.7 .4 -2.1 .3 -10 .4 14.3 .3 -7.4 .3 -1 .4 4.5 .3 2.9 .3 -7.6 .4 -1.4 .3 1 .4 5.2 .3 -.7 .3 8.4 .4 -26.1 .3 12.8 .4 -7.8 .3 -1 .3 5 .4 -5.9 .3 9 .3 7.4 .4 -1 .3 -18.6 .4 15.1 .3 -19.8 .3 7 .4 1.3 .3 8.3 .3 8.8 .4 3.5 .3 -14.5 .4 -1 .3 7.1 .3 -2.2 .4 -.3 .3 13.1 .4 -13.5 .3 -4.7 .3 8.7 .4 .2 .3 -.5 .3 -9.5 .4 -1.7 .3 -2.7 .4 12.9 .3 -12.4 .3 29.6 .4 -16.2 .3 2 .3 2.7 .4 1.4 .3 -13.9 .4 19.8 .3 -19.7 .3 -7.8 .4 14.5 .3 -3.4 .4 5.3 .3 5.1 .3 -18.4 .4 -1.2 .3 15.5 .3 -1 .4 8.1 .3 -22 .4 1 .3 18.9 .3 -3.6 .4 -10 .3 13.5 .3 -17.8 .4 14.3 .3 -8.7 .4 -.8 .3 -5.3 .3 -4.3 .4 7 .3 4.4 .4 -14.8 .3 19.1 .3 -10.2 .4 -3.9 .3 -1.9 .3 15.3 .4 5.6 .3 -17.9 .4 3.7 .3 -3.7 .3 -2 .4 13.4 .3 -8.6 .3 -4.8 .4 14.1 .3 1.6 .4 -5.4 .3 20.1 .3 -28 .4 16.1 .3 -7.4 .4 12.7 .3 .4 .3 -.1 .4 -4.5 .3 -5.4 .3 -3.1 .4 6.1 .3 1.8 .4 -11.5 .3 -4.2 .3 14.3 .4 4.3 .3 -15.4 .3 6.6 .4 6.6 .3 -7.5 .4 -3.8 .3 -7.6 .3 10.7 .4 2.2 .3 1.2 .4 -13.5 .3 5.5 .3 15.3 .4 -17.6 .3 18.9 .3 -6.4 .4 -10 .3 10.3 .4 5.1 .3 -2.7 .3 -12.7 .4 7 .3 -13.4 .4 21.1 .3 -10 .3 -6.3 .4 19.7 .3 -14.4 .3 6.9 .4 5.9 .3 -32.1 .4 12.1 .3 -1.6 .3 -1.1 .4 -.3 .3 26.7 .3 -4.3 .4 -16.1 .3 1.2 .4 -6.8 .3 18.4 .3 -16.1 .4 14.7 .3 6.6 .4 -10.2 .3 6.2 .3 -12.7 .4 14.5 .3 -2 .3 -12.9 .4 .4 .3 -7.1 .4 -2 .3 8.1 .3 11.6 .4 -10 .3 12.9 .3 8.8 .4 -25.8 .3 9.5 .4 5.7 .3 -5.1 .3 -3.1 .4 6.6 .3 1 .4 9.7 .3 -18.6 .3 -6 .4 14.3 .3 .2 .3 6.1 .4 -21.6 .3 25.8 .4 -14.5 .3 -8.8 .3 19.6 .4 -10 .3 -.8 .3 9 .4 -15.8 .3 9.2 .4 -19.3 .3 21.4 .3 -10.6 .4 7.8 .3 -14.6 .4 10.3 .3 -9 .3 3 .4 14.2 .3 -6 .3 11.7 .4 -3.2 .3 11.2 .4 -22.4 .3 7.7 .3 -10.6 .4 -13.1 .3 28.1 .3 -15.4 .4 7.5 .3 7.3 .4 -4.5 .3 -4.1 .3 -1.8 .4 -7.5 .3 -1.9 .4 16.2 .3 6.4 .3 -9.3 .4 -14.9 .3 24.8 .3 -26.3 .4 29 .3 -11.8 .4 -1.7 .3 -5.5 .3 9.2 .4 -15.5 .3 16.1 .3 -.8 .4 6.2 .3 -3.5 .4 .8 .3 -19.2 .3 12.4 .4 -12.8 .3 24.3 .4 -.7 .3 -16.1 .3 -.3 .4 2.3 .3 -10.1 .3 7 .4 -1.3 .3 4.8 .4 -1.6 .3 -6.2 .3 20 .4 -7.7 .3 -4.5 .3 9.3 .4 -13 .3 11 .4 -13.4 .3 -4.5 .3 30.8 .4 -5.4 .3 -1.3 .4 3.4 .3 -15.3 .3 28.8 .4 -22 .3 1.8 .3 3.2 .4 -4.3 .3 8.6 .4 -19 .3 -5.9 .3 .1 .4 20.2 .3 -2.1 .3 -.4 .4 -13.9 .3 -3.8 .4 4 .3 6.7 .3 16.3 .4 -27.4 .3 26.6 .4 -15.6 .3 -2 .3 5.3 .4 13.9 .3 -22.4 .3 14.7 .4 -10.2 .3 -4.8 .4 8.6 .3 7.8 .3 -23.5 .4 27.6 .3 -8.8 .3 3.4 .4 -13.9 .3 -6.2 .4 -4.5 .3 29.6 .3 -18.7 .4 9.2 .3 -7 .4 13.3 .3 -10 .3 -9.3 .4 15.7 .3 -3 .3 12.2 .4 -21.3 .3 18.4 .4 -8.9 .3 -4.1 .3 16.9 .4 -1.6 .3 -25.4 .3 21.2 .4 -16.1 .3 14.7 .4 -1.7 .3 2.3 .3 -13.6 .4 -5.1 .3 5.1 .4 10.9 .3 8.6 .3 -16.3 .4 -7.3 .3 6.9 .3 2.6 .4 7.8 .3 -19 .4 13.8 .3 -11.1 .3 4.7 .4 -1.9 .3 12.8 .3 12.3 .4 -37.3 .3 22.7 .4 -13.3 .3 12.3 .3 3.6 .4 5.2 .3 -3.7 .4 -23 .3 12 .3 12.8 .4 -12.5 .3 11.2 .3 -39.3 .4 22.3 .3 2.2 .4 3 .3 9.5 .3 -13 .4 11 .3 -4.3 .3 -19.4 .4 34.6 .3 5.4 .4 -26.9 .3 22.4 .3 -7.1 .4 -17.4 .3 39.8 .4 -32.5 .3 -11.2 .3 5.9 .4 7.6 .3 -9.5 .3 11.3 .4 11.1 .3 -8.9 .4 .6 .3 -7.6 .3 6.9 .4 -5.3 .3 3 .3 -4.4 .4 11.9 .3 -20.6 .4 -12.4 .3 7.9 .3 2.3 .4 6.4 .3 .4 .4 5.6 .3 -1.5 .3 3.2 .4 -3.9 .3 14.8 .3 -20.3 .4 10.1 .3 -9.2 .4 .3 .3 17.3 .3 -16.1 .4 -9.9 .3 17.6 .3 -9.1 .4 -6 .3 8.1 .4 16.9 .3 6.5 .3 -5.1 .4 -8.9 .3 2.5 .4 -10.8 .3 8.6 .3 -26.3 .4 20.5 .3 2.9 .3 6.3 .4 -15.8 .3 5.3 .4 10.1 .3 -7 .3 5 .4 -3.9 .3 1.8 .3 -3.5 .4 -17.6 .3 15.4 .4 -13.5 .3 11.2 .3 .6 .4 4 .3 -8.2 .4 -3.8 .3 9.5 .3 -12.8 .4 13.1 .3 5.4 .3 -14.6 .4 13.8 .3 -14.9 .4 11.5 .3 .7 .3 -16 .4 20 .3 -4.1 .3 -17.5 .4 14.3 .3 -10.3 .4 23.5 .3 -20.7 .3 -0 .4 -8.7 .3 30.8 .4 -8.4 .3 -6 .3 -3.5 .4 -3.5 .3 7.7 .3 -14.4 .4 17 .3 -20 .4 9.5 .3 10.5 .3 -12.7 .4 13.3 .3 4 .3 .1 .4 -5.8 .3 -12.4 .4 -6.6 .3 -4 .3 11 .4 -8 .3 10 .4 -14.9 .3 4.8 .3 1.4 .4 -3 .3 -8.1 .3 2.6 .4 9.9 .3 -15.2 .4 -4.1 .3 9.9 .3 .3 .4 -4.6 .3 -9.9 .3 4.4 .4 -1.3 .3 .6 .4 -3 .3 -3.4 .3 .7 .4 -.2 .3 -1.8 .4 -4.2 .3 -5.7 .3 1.8 .4 -0 .3 -2.4 .3 4 .4 -4.8 .3 4.4 .4 -5.6 .3 -.3 .3 4.6 .4 -1.6 .3 2.8 .3 .5 .4 2.6 .3 -.3 .4 3.7 .3 .4 .3 .1 .4 3.8 .3 1 .4 3.2 .3 -4 .3 4.9 .4 8.5 .3 -12.1 .3 5.7 .4 11.9 .3 -4.3 .4 -8.1 .3 17.7 .3 -11.1 .4 6.8 .3 -7.1 .3 14.1 .4 -.5 .3 -1.4 .4 4.7 .3 3.9 .3 3 .4 -14.3 .3 4.6 .4 -4.5 .3 12.2 .3 1.5 .4 -5.6 .3 -4 .3 -.7 .4 11.3 .3 -3.1 .4 -9.1 .3 8.3 .3 7.3 .4 1 .3 -16 .3 19.7 .4 -19.4 .3 5.1 .4 9.1 .3 -17.8 .3 25.9 .4 -23.3 .3 1.4 .4 17.7 .3 -18.7 .3 4.9 .4 14.9 .3 -4.8 .3 -.1 .4 -8.3 .3 4.1 .4 -.6 .3 -10.2 .3 14.2 .4 6 .3 -23.6 .3 1.6 .4 13.2 .3 7.3 .4 -10.1 .3 -2.7 .3 3.6 .4 .1 .3 -10.7 .4 29.8 .3 -16.8 .3 -14 .4 21.3 .3 -6.3 .3 -1.1 .4 4.9 .3 -9.9 .4 14.6 .3 -23.6 .3 3.2 .4 15 .3 -9.1 .3 9.9 .4 -11.5 .3 14.8 .4 -1.3 .3 -4.1 .3 5.9 .4 -12.4 .3 3.1 .4 10.2 .3 -15.4 .3 10.8 .4 -1.6 .3 -8.3 .3 4.8 .4 -15.2 .3 33.3 .4 -21.6 .3 2.8 .3 7.4 .4 3.6 .3 -3 .3 8.7 .4 -14.4 .3 -9.8 .4 16 .3 -2.9 .3 6.5 .4 -5.8 .3 1.5 .4 -3.6 .3 -4.1 .3 5.1 .4 -5.9 .3 -12.7 .3 26.1 .4 -17.9 .3 23.8 .4 -15.2 .3 -6.1 .3 14.7 .4 -.7 .3 4.3 .3 -8.4 .4 -6.3 .3 1.2 .4 -6.2 .3 8.1 .3 -16.5 .4 3.2 .3 17.6 .4 2.1 .3 -11.6 .3 .3 .4 4.4 .3 5.6 .3 5.5 .4 -9.2 .3 -0 .4 4.9 .3 -7.4 .3 -7.6 .4 8.1 .3 -1.7 .3 1.4 .4 1.3 .3 -1.6 .4 4.8 .3 -13.4 .3 8.8 .4 -4.4 .3 -12.6 .4 25.5 .3 -16.6 .3 9.5 .4 -9 .3 5.1 .3 6.5 .4 -24.7 .3 13.8 .4 -2 .3 1.1 .3 -.1 .4 5 .3 .5 .3 .2 .4 -15.4 .3 20.8 .4 -1.7 .3 -6.2 .3 21.1 .4 -21.1 .3 -10.7 .4 12.5 .3 7.2 .3 -16.9 .4 19.2 .3 -16.2 .3 -9.5 .4 23.4 .3 -15.5 .4 -14.7 .3 16.5 .3 -7.5 .4 10.1 .3 -7.3 .3 12.9 .4 -7.5 .3 11.2 .4 -2.5 .3 -19.4 .3 24.3 .4 -12.7 .3 -2.9 .4 -3.7 .3 11.8 .3 25.1 .4 -38.4 .3 2.8 .3 13.3 .4 -6.5 .3 7.6 .4 -15.1 .3 28.6 .3 -24.4 .4 -10.7 .3 12.4 .3 9.3 .4 2.4 .3 -11.8 .4 1.2 .3 -5.1 .3 .7 .4 1.2 .3 .7 .4 -4.6 .3 10.7 .3 -8 .4 9.1 .3 12.9 .3 -25.3 .4 16.5 .3 -20.5 .4 .1 .3 16.6 .3 -3.9 .4 2.8 .3 5.2 .3 -26 .4 12.4 .3 5.5 .4 2.9 .3 -4.8 .3 -.8 .4 -13.1 .3 22.4 .4 -7.6 .3 10.8 .3 1.1 .4 -14.4 .3 4.1 .3 19 .4 -10.1 .3 -16.7 .4 8.7 .3 4.2 .3 -6.4 .4 -.5 .3 -16 .3 12.1 .4 13.8 .3 -15.4 .4 5.5 .3 7.4 .3 -8.8 .4 .1 .3 3 .4 -10.6 .3 -1.1 .3 13.6 .4 -11.3 .3 -5.9 .3 23.1 .4 -24.3 .3 14.2 .4 1.1 .3 -6.1 .3 -6 .4 1.3 .3 17.1 .3 -.4 .4 -2.8 .3 -1.3 .4 -2.5 .3 -9.1 .3 1.4 .4 -.2 .3 -2.6 .4 -4.5 .3 5.2 .3 6.2 .4 -9 .3 9.7 .3 -14.1 .4 3.9 .3 18.4 .4 -22.5 .3 20.5 .3 -8.1 .4 -2.8 .3 .9 .3 -10.6 .4 1.6 .3 -5.6 .4 -5.1 .3 7.2 .3 -4.9 .4 5.6 .3 -11.2 .4 7.2 .3 2.3 .3 -16.1 .4 -1.1 .3 .7 .3 -4.8 .4 4 .3 4.9 .4 -8.8 .3 -1.7 .3 -3.7 .4 -1 .3 -2.3 .3 -5 .4 -2.2 .3 -5.6 .4 -.8 .3 -5.9 .3 -1.2 .4 -5.5 .3 4 .4 -3.3 .3 -3.9 .3 -.3 .4 -2.3 .3 -5.4 .3 -4.3 .4 -.3 .3 -2.6 .4 1.4 .3 -2.1 .3 -2.2 .4 -2.5 .3 .6 .3 -.9 .4 -1 .3 -2.3 .4 -.6 .3 -.3 .3 2.9 .4 1.5 .3 -2.6 .4 -.3 .3 1.9 .3 .6 .4 .7 .3 3.2 .3 -.5 .4 3.5 .3 2.9 .4 2.5 .3 1.3 .3 1.7 .4 4.4 .3 -1.5 .3 4.8 .4 .8 .3 5.4 .4 1.4 .3 3.2 .3 -.3 .4 6.1 .3 2.3 .4 5.8 .3 2.7 .3 3 .4 -4.7 .3 4 .3 4.4 .4 4.3 .3 -6.3 .4 12.6 .3 2.1 .3 2.6 .4 -8 .3 3.8 .3 14.7 .4 -9.6 .3 6.6 .4 3.5 .3 -11.3 .3 13.6 .4 -.3 .3 -6.1 .4 7.5 .3 -10.5 .3 16.7 .4 -.7 .3 5.5 .3 -11 .4 2.3 .3 -1.5 .4 6.1 .3 -7.4 .3 9.5 .4 4.7 .3 -4.5 .3 -10.5 .4 3.3 .3 9.5 .4 -.3 .3 -.7 .3 .6 .4 12 .3 -27.5 .4 16.6 .3 .6 .3 -2.7 .4 -9.3 .3 6.9 .3 6.6 .4 -10 .3 .6 .4 1.2 .3 -.4 .3 -10.2 .4 20.6 .3 5.1 .3 -26.3 .4 7 .3 -1.8 .4 3 .3 27.2 .3 -31.3 .4 .2 .3 13.7 .4 -.2 .3 -.5 .3 4 .4 6 .3 -20 .3 10.9 .4 .3 .3 4.6 .4 -14.2 .3 -1 .3 12.8 .4 16 .3 -20.3 .3 11 .4 -17.7 .3 -.8 .4 -5.2 .3 7.2 .3 1.3 .4 15.4 .3 -10.4 .4 10.7 .3 -10.2 .3 -13.3 .4 .5 .3 3.8 .3 11.6 .4 10.2 .3 -13 .4 11.6 .3 -16 .3 -16.6 .4 17.5 .3 -1.5 .3 -3 .4 11.3 .3 9.9 .4 -26.9 .3 12.8 .3 -4.7 .4 7.8 .3 3.6 .4 -17.1 .3 14.8 .3 -6.5 .4 7.8 .3 9.6 .3 2.1 .4 -7.5 .3 -9.9 .4 -1.3 .3 9.5 .3 -13.9 .4 11.2 .3 6.6 .3 2.6 .4 -15.7 .3 8.3 .4 -14.4 .3 15.6 .3 -22.3 .4 10.1 .3 15.2 .4 -16.5 .3 13.7 .3 2.9 .4 -20.1 .3 21.1 .3 -9.8 .4 10.9 .3 -24.6 .4 -1.1 .3 18.5 .3 -17.2 .4 -3.8 .3 6.3 .3 6 .4 -2.1 .3 -6.8 .4 -.3 .3 14.7 .3 9.6 .4 -9.4 .3 11.7 .4 -5.1 .3 -8 .3 12.1 .4 -17.6 .3 -6.1 .3 23.1 .4 -9.8 .3 -10.2 .4 6.4 .3 -10.4 .3 25.1 .4 -29.3 .3 7.2 .3 1.1 .4 -3.9 .3 19.4 .4 -14.5 .3 6.1 .3 -9.4 .4 12.5 .3 4.1 .4 -8.2 .3 -20.7 .3 27.2 .4 2.6 .3 -18.9 .3 19.2 .4 25.2 .3 -24.2 .4 -16.2 .3 13.9 .3 1.7 .4 -16.7 .3 -3.9 .3 -1.4 .4 .6 .3 16 .4 4.8 .3 -15.1 .3 22 .4 -21.7 .3 -5.8 .4 34.6 .3 -30.6 .3 -4 .4 -.8 .3 7.4 .3 13 .4 -15.8 .3 -3.4 .4 20.2 .3 3 .3 -6.7 .4 13.4 .3 -27.4 .3 15.5 .4 -15 .3 14.6 .4 -12.7 .3 -12.1 .3 10.3 .4 21 .3 -42.4 .4 10.3 .3 11.4 .3 -1.1 .4 -8.4 .3 29.2 .3 -19.2 .4 8.3 .3 -18.3 .4 19.8 .3 2.2 .3 -5.2 .4 .2 .3 -18.2 .3 -4.6 .4 32.8 .3 -15.7 .4 -18.7 .3 39.8 .3 -8.7 .4 -22 .3 18.6 .4 26.9 .3 -34 .3 7.1 .4 -4.1 .3 7.9 .3 -13.3 .4 -1.6 .3 1.7 .4 9.5 .3 1.4 .3 -.8 .4 -11.5 .3 -9.5 .3 17.4 .4 4.1 .3 -17.2 .4 20.6 .3 -18.9 .3 11.9 .4 7.1 .3 9.8 .4 -5.3 .3 -5.1 .3 -6.3 .4 -13.9 .3 .5 .3 -1.6 .4 21.8 .3 -22.2 .4 19.8 .3 -9.8 .3 8.6 .4 6.8 .3 -11 .4 -18.1 .3 21.8 .3 -19.3 .4 5 .3 19.2 .3 .2 .4 -11.9 .3 -6.8 .4 44.4 .3 -37.3 .3 .1 .4 14.8 .3 -25.8 .3 7.2 .4 -18.7 .3 21.5 .4 3.9 .3 10.3 .3 -.7 .4 -10.8 .3 -11.4 .4 4.9 .3 20.1 .3 -6.9 .4 -20.8 .3 5.9 .3 7.2 .4 9.4 .3 5 .4 -7.4 .3 -14 .3 1 .4 1.2 .3 4.7 .3 -4.3 .4 -5 .3 -2.4 .4 13.3 .3 -8.9 .3 -3.2 .4 5.7 .3 -10.7 .4 22.5 .3 -7.4 .3 -8.1 .4 19.4 .3 -8.5 .3 -7.6 .4 -11.2 .3 21.7 .4 -19.4 .3 15.3 .3 -8.2 .4 1 .3 18.9 .3 -17.5 .4 -11.9 .3 9 .4 10.4 .3 -14.7 .3 -.2 .4 25.4 .3 -25.9 .4 .6 .3 3.1 .3 13.1 .4 -.4 .3 -5.6 .3 -.8 .4 1.1 .3 -8.1 .4 12.9 .3 -15.3 .3 6.1 .4 -11.9 .3 -6.8 .3 3 .4 .7 .3 9.8 .4 -1.1 .3 5.6 .3 8 .4 -9.9 .3 8.5 .4 -22.1 .3 9 .3 -4.8 .4 16.5 .3 -2 .3 3.4 .4 -3.8 .3 -13.5 .4 7.5 .3 -15.7 .3 19 .4 -10.2 .3 14.4 .3 -13.7 .4 -1.4 .3 8.9 .4 3.1 .3 -17.7 .3 6.9 .4 2.6 .3 -6.5 .4 15.2 .3 -11 .3 -4.1 .4 4.3 .3 -2.1 .3 15.9 .4 -9.5 .3 -3.4 .4 -5 .3 -2.8 .3 19.6 .4 -3 .3 -4.4 .3 14.8 .4 -25.3 .3 4.9 .4 5.1 .3 -12.8 .3 9.6 .4 2.8 .3 6.2 .4 -6.3 .3 8 .3 1.7 .4 .8 .3 -16.3 .3 9.1 .4 -14.5 .3 -2.3 .4 19.7 .3 -11.5 .3 3.6 .4 -.1 .3 -2 .3 15.5 .4 -21.7 .3 6.8 .4 9.5 .3 -1.1 .3 -4.2 .4 -5.6 .3 -10.9 .4 8.4 .3 4.9 .3 -5.4 .4 -1.5 .3 3.2 .3 -6 .4 12.3 .3 -4 .4 9.3 .3 -7.6 .3 -6.7 .4 9.6 .3 -1.1 .3 .3 .4 -17.4 .3 18.7 .4 -16.9 .3 4.1 .3 11.4 .4 -4 .3 -4 .4 -7 .3 19.5 .3 -5.9 .4 -1.3 .3 10 .3 -9.1 .4 -4.6 .3 -4 .4 -6 .3 11.5 .3 2.6 .4 -.2 .3 -4.3 .3 -.8 .4 4.8 .3 -.6 .4 7.2 .3 5.8 .3 -7.6 .4 -4.8 .3 -1.3 .4 -4.2 .3 5.2 .3 -8.8 .4 -2.8 .3 8.3 .3 4.7 .4 -5 .3 -9.4 .4 5 .3 9.2 .3 -16.3 .4 4.8 .3 2.6 .3 -2.4 .4 -1.5 .3 -7.1 .4 6.3 .3 .7 .3 1.6 .4 -8.5 .3 20.2 .4 -6.5 .3 -1.9 .3 5.2 .4 -1 .3 -9 .3 -.9 .4 -1 .3 -3.9 .4 6.2 .3 -11.9 .3 4.9 .4 7 .3 -8 .3 10.6 .4 1.4 .3 -11.7 .4 5.2 .3 6.8 .3 -2.1 .4 -1.3 .3 -10.3 .4 2.8 .3 8.5 .3 -9.5 .4 2 .3 2.8 .3 -8.3 .4 12.2 .3 -8.2 .4 2.8 .3 -10.6 .3 6.5 .4 -4.3 .3 -1.6 .3 7.9 .4 -4.8 .3 -9.1 .4 1.8 .3 1.5 .3 5.1 .4 -3.8 .3 -8.3 .4 -3.3 .3 2.3 .3 2.2 .4 -1.8 .3 -2.6 .3 -6 .4 -.3 .3 -10 .4 -4 .3 2.3 .3 -6.1 .4 -5.1 .3 -1.6 .3 -6.1 .4 -.7 .3 -8.3 .4 -1 .3 -7.2 .3 -2.5 .4 -6.3 .3 -1.6 .4 -5.8 .3 -4.1 .3 -3.8 .4 -4.4 .3 -3.6 .3 -2.3 .4 -4.3 .3 -3.1 .4 -2.8 .3 -2.3 .3 -2.9 .4 -2.4 .3 -2.2 .3 -.8 .4 -2.4 .3 -.4 .4 -.7 .3 -1 .3 .5 .4 .5 .3 .4 .4 1.6 .3 1.2 .3 1.7 .4 3 .3 1.7 .3 2.1 .4 2.9 .3 2.7 .4 4.2 .3 2.5 .3 4.2 .4 4.7 .3 1.9 .3 7 .4 1.2 .3 6.7 .4 3.8 .3 2.6 .3 3.6 .4 3.1 .3 6.7 .4 1.3 .3 4.4 .3 8.3 .4 -0 .3 9.7 .3 1.5 .4 4.9 .3 -8.7 .4 11.5 .3 6.7 .3 -3.4 .4 4.6 .3 -1.6 .3 -2.8 .4 12.6 .3 1.7 .4 -8.1 .3 -.1 .3 4.7 .4 1.5 .3 5.5 .4 4.8 .3 -14.2 .3 8.2 .4 -3.3 .3 4.6 .3 -7.4 .4 12 .3 5.8 .4 -3 .3 -13.7 .3 9.5 .4 -6.1 .3 19.7 .3 -17.1 .4 0 .3 9.5 .4 -5.5 .3 .8 .3 -10.6 .4 17.6 .3 -13.2 .4 -.4 .3 1 .3 19.2 .4 -20.3 .3 8.5 .3 5.8 .4 -1.1 .3 7.1 .4 -14.4 .3 -2 .3 -15.2 .4 24.4 .3 -16.9 .3 5.9 .4 -3.5 .3 5.8 .4 -2.5 .3 3.5 .3 -1.7 .4 .8 .3 7.2 .4 .8 .3 -13.7 .3 -.7 .4 12.8 .3 -8.2 .3 3.8 .4 -6.7 .3 6.4 .4 -6.5 .3 7.8 .3 9 .4 -6.7 .3 7.5 .3 -15.9 .4 6.5 .3 -1.3 .4 -13.1 .3 8.5 .3 -5.8 .4 1.7 .3 6 .4 -10.2 .3 9.9 .3 -5.3 .4 3.3 .3 1.6 .3 4.9 .4 -9.1 .3 10.6 .4 -6.2 .3 -3.8 .3 -2.7 .4 6.5 .3 -3.1 .3 7.2 .4 -5.4 .3 6.1 .4 5.9 .3 -15.8 .3 -7.9 .4 21.1 .3 -15.8 .4 12.3 .3 -5 .3 5.8 .4 -15 .3 16.1 .3 -4.8 .4 -1.7 .3 -10 .4 6 .3 -.1 .3 2.7 .4 -6.5 .3 .3 .3 3.5 .4 -3.4 .3 8.5 .4 5.4 .3 -13.2 .3 1.6 .4 10.8 .3 .4 .4 -16.4 .3 2.5 .3 11 .4 1.7 .3 -8.2 .3 -8.7 .4 15 .3 -13.4 .4 .5 .3 4.4 .3 -1.9 .4 -1.9 .3 1.1 .3 10.6 .4 -13.9 .3 4.3 .4 7 .3 2.2 .3 -17.5 .4 12.3 .3 -1.3 .4 .6 .3 2.9 .3 -14.6 .4 6.9 .3 5.6 .3 -11.2 .4 10.1 .3 -12.9 .4 8.8 .3 -1.9 .3 6.7 .4 -10.8 .3 11.3 .3 9 .4 -6.9 .3 -12.3 .4 -2.4 .3 -.7 .3 3.6 .4 14.7 .3 -16.9 .4 2.4 .3 6.7 .3 1.9 .4 6.5 .3 -14.5 .3 .4 .4 -6.8 .3 4.2 .4 4.6 .3 -3.9 .3 1.4 .4 10.4 .3 -5.5 .3 -5.9 .4 5.5 .3 3.3 .4 -15 .3 1.6"/><path stroke="#176bdf" d="M171.0 818.0l.3 13.1 .4 -10.7 .3 9.8 .4 -3.9 .3 -18.6 .3 1.9 .4 6.5 .3 2.3 .3 4 .4 -11 .3 -1.3 .4 7.7 .3 -6.5 .3 14.1 .4 2.5 .3 -10.1 .3 -.1 .4 3.3 .3 5.7 .4 -8.3 .3 10.5 .3 -18.5 .4 11.6 .3 5.6 .4 -14.7 .3 4.5 .3 -2 .4 1.2 .3 3.6 .3 -12.4 .4 5.9 .3 10.1 .4 -3.1 .3 1.4 .3 -8.4 .4 1.6 .3 13.7 .3 -1.2 .4 -11.5 .3 -1.8 .4 -1.3 .3 -2.4 .3 5 .4 12.8 .3 -1.3 .4 -7.6 .3 3.8 .3 -5.8 .4 5.3 .3 -4.9 .3 -4.5 .4 11.3 .3 -8.6 .4 .2 .3 -0 .3 12.1 .4 -16.7 .3 8.5 .3 6 .4 -18 .3 1.4 .4 3.4 .3 5.5 .3 -.8 .4 3 .3 7.6 .4 -10.3 .3 -1.5 .3 11 .4 .5 .3 -18.8 .3 26.1 .4 -8.4 .3 -11.2 .4 4.7 .3 1.3 .3 1.1 .4 7.1 .3 -5.2 .3 -13.8 .4 2.5 .3 16.9 .4 -4.9 .3 -.5 .3 -5.5 .4 -7.2 .3 -1.8 .4 13.1 .3 7.9 .3 -2.8 .4 .6 .3 -19.3 .3 15 .4 -14.5 .3 12.8 .4 -4.8 .3 1.1 .3 3 .4 -5.9 .3 15.2 .3 -12.8 .4 5.1 .3 -10.4 .4 2.8 .3 8.3 .3 .1 .4 -8.2 .3 .8 .4 4.9 .3 -9.3 .3 1 .4 23.1 .3 -13.6 .3 -9.9 .4 2.1 .3 3.6 .4 -3.8 .3 13.1 .3 -6.1 .4 7.6 .3 -4.5 .3 -3.4 .4 7.7 .3 -6.8 .4 2.8 .3 -0 .3 1 .4 8.7 .3 -19.7 .4 20 .3 -22.4 .3 -3 .4 6.6 .3 -4 .3 7.2 .4 11.5 .3 -10.9 .4 14.3 .3 -11.2 .3 -.3 .4 3.3 .3 17.3 .3 -24 .4 7.4 .3 6.6 .4 -8.8 .3 5.8 .3 7.8 .4 -11.4 .3 3.4 .4 -14.1 .3 3.2 .3 18.5 .4 -10.8 .3 -11.4 .3 1 .4 2.6 .3 -6.2 .4 13.1 .3 5.7 .3 -19.9 .4 12.3 .3 7.9 .3 2.3 .4 -2.7 .3 -11.2 .4 12.3 .3 -.8 .3 -16.9 .4 9.4 .3 2.4 .4 7.2 .3 .4 .3 5.4 .4 1.7 .3 -5.8 .3 -23.8 .4 20.3 .3 -12.4 .4 -1.8 .3 9.4 .3 -7.5 .4 5.6 .3 11.1 .3 -10.8 .4 1.1 .3 8.2 .4 -4.8 .3 -17.6 .3 12.3 .4 7.2 .3 -13.7 .4 13.3 .3 10.5 .3 -15.6 .4 9.7 .3 -4.5 .3 -10.7 .4 5.3 .3 -11.5 .4 13 .3 -13.5 .3 .2 .4 4.7 .3 -5.4 .3 -10.9 .4 -8.4 .3 3.6 .4 -2.4 .3 -5 .3 .2 .4 1.5 .3 4 .4 5.1 .3 6.7 .3 12.2 .4 -3.1 .3 5.5 .3 -4.5 .4 11.6 .3 -8.5 .4 .5 .3 14.9 .3 .6 .4 .6 .3 -8.5 .3 -10.7 .4 1.8 .3 12.5 .4 12.1 .3 -5.7 .3 5.3 .4 -3.4 .3 2.5 .4 -19.3 .3 9 .3 -6.4 .4 .4 .3 -5.1 .3 1.8 .4 -0 .3 16.2 .4 -13.9 .3 2.7 .3 -7.2 .4 7.6 .3 9.9 .3 -2.3 .4 -15.8 .3 9.5 .4 -3.2 .3 13.8 .3 -3.9 .4 2.3 .3 -15.7 .4 2.8 .3 20.3 .3 -19.4 .4 1.2 .3 -4.7 .3 8.4 .4 9.4 .3 -15.4 .4 2.3 .3 -2.6 .3 6.7 .4 -11.9 .3 12 .3 8.3 .4 -18.6 .3 4.1 .4 17.4 .3 1.7 .3 -4.3 .4 -21.5 .3 5.8 .4 -3.7 .3 13.1 .3 -10.6 .4 16 .3 -4.6 .3 3.2 .4 -4.8 .3 -9.2 .4 15.3 .3 -16.7 .3 15.5 .4 -3.8 .3 -5 .3 -1.2 .4 6.9 .3 2.3 .4 5.6 .3 -13.3 .3 4.3 .4 7 .3 -.9 .4 -6.8 .3 16.9 .3 -21.2 .4 -2.3 .3 .2 .3 7.8 .4 5 .3 -6.4 .4 1.3 .3 3.3 .3 4.4 .4 -12.6 .3 -11.5 .3 6.5 .4 -5.1 .3 7.9 .4 .4 .3 1.3 .3 -.5 .4 4.9 .3 -6.2 .4 6 .3 -10.1 .3 3.3 .4 -1.8 .3 -.2 .3 -6.8 .4 6.7 .3 -6.9 .4 5.1 .3 -15.3 .3 6.1 .4 5.7 .3 -5.5 .3 -5.5 .4 -4.2 .3 10 .4 -3.1 .3 -7.7 .3 2.1 .4 -2.2 .3 4.9 .4 -2.4 .3 -2.5 .3 2.1 .4 4.4 .3 2.1 .3 -4.4 .4 3.1 .3 -1.7 .4 -1.2 .3 9.8 .3 -2.8 .4 5.3 .3 .9 .3 -.7 .4 -5.7 .3 15.9 .4 -12 .3 9.3 .3 -10.2 .4 6.5 .3 -5.4 .4 12.6 .3 -10.3 .3 6.4 .4 -2.9 .3 8.2 .3 -3.5 .4 5.1 .3 -9.7 .4 3.9 .3 9.1 .3 .4 .4 -2.5 .3 1.9 .3 -1.3 .4 -9.7 .3 13 .4 -2.9 .3 2.5 .3 -.9 .4 6.4 .3 -6.9 .4 10.2 .3 -3.3 .3 -2.2 .4 -3.6 .3 -13.7 .3 17.4 .4 2.6 .3 3.5 .4 -22.6 .3 7.9 .3 5.8 .4 -13.2 .3 10.5 .3 -5.7 .4 8.5 .3 -4.2 .4 1.1 .3 8.8 .3 -17.2 .4 5.2 .3 6.6 .4 -4 .3 5.9 .3 -16.4 .4 4.3 .3 17.1 .3 1.7 .4 -2.5 .3 2.8 .4 -3.8 .3 -10.8 .3 5.6 .4 2.7 .3 -13.1 .3 12.1 .4 -19.1 .3 23 .4 -9.3 .3 -5.2 .3 -2.5 .4 10.9 .3 -15.3 .4 1.9 .3 27.7 .3 -7.9 .4 -9 .3 -5 .3 5.2 .4 4.6 .3 -3.6 .4 6.2 .3 4.9 .3 -6.7 .4 -10.8 .3 -2.1 .3 3.2 .4 8 .3 5.7 .4 -1.3 .3 -17 .3 20.3 .4 -11 .3 -7.1 .4 34 .3 -11.1 .3 2.8 .4 -16.9 .3 -10.7 .3 19.6 .4 9.1 .3 -10.1 .4 -3.7 .3 3.6 .3 -6.7 .4 1.9 .3 10.6 .3 -16.6 .4 -3 .3 -5.7 .4 4.1 .3 19.7 .3 -19 .4 13.6 .3 -12.1 .4 4.4 .3 -6.8 .3 16.4 .4 -1.4 .3 -8.3 .3 -5.1 .4 19.3 .3 -16.9 .4 -10.3 .3 8.7 .3 23.6 .4 -17.4 .3 4.5 .3 4.4 .4 -2.7 .3 -10.9 .4 2.9 .3 -10.1 .3 23.2 .4 -9.2 .3 -8.1 .4 15.2 .3 -3.8 .3 -10.7 .4 6 .3 8 .3 -12.2 .4 13.3 .3 .3 .4 -6.7 .3 -7.9 .3 18.8 .4 2.8 .3 .6 .3 -14.7 .4 7.3 .3 9 .4 -20 .3 .5 .3 6.3 .4 -4 .3 10.4 .4 -9.5 .3 -5.3 .3 21.5 .4 -5.2 .3 -11.1 .3 -7.4 .4 4.6 .3 10.7 .4 -9.6 .3 10 .3 -23.1 .4 18 .3 4.8 .4 -6.9 .3 -7 .3 -3.9 .4 19.7 .3 -6.7 .3 7.7 .4 -10.7 .3 .5 .4 14.7 .3 -17.8 .3 9.3 .4 -5.3 .3 11 .3 -14.3 .4 21.8 .3 -38.8 .4 19.4 .3 13.2 .3 -11.3 .4 -3.6 .3 13 .4 4 .3 -16.6 .3 -2.6 .4 5.4 .3 13.6 .3 .7 .4 -6.9 .3 -.3 .4 2.7 .3 2.1 .3 5.2 .4 -10.4 .3 -6.4 .3 -1.3 .4 17.2 .3 -20.2 .4 19.2 .3 -13.6 .3 -5.2 .4 -5.9 .3 29.9 .4 -21.4 .3 15.2 .3 -17.3 .4 13.4 .3 -20 .3 19.1 .4 8.4 .3 -15.7 .4 -2.7 .3 31.6 .3 -19.2 .4 -18.7 .3 6.5 .3 3.3 .4 19.3 .3 -15.3 .4 3.5 .3 4.6 .3 4.7 .4 -22.4 .3 14.6 .4 -1.6 .3 .9 .3 6.6 .4 -5.2 .3 -7.9 .3 14.6 .4 -17.3 .3 10.5 .4 -15.9 .3 4.2 .3 10.9 .4 .9 .3 -1.8 .3 4 .4 2.8 .3 -4 .4 -5.7 .3 18.4 .3 -21.7 .4 -2.7 .3 19.4 .4 -21.8 .3 15.1 .3 1.4 .4 -12.5 .3 .2 .3 -3.2 .4 8.4 .3 13.7 .4 1.2 .3 -2.6 .3 -14.2 .4 -14.4 .3 6.6 .3 19.9 .4 -16 .3 -3.5 .4 12.7 .3 4.3 .3 .9 .4 -3.3 .3 -11.7 .4 7.4 .3 8.4 .3 1.7 .4 3.1 .3 -24.2 .3 26.9 .4 -21.4 .3 .6 .4 -2.5 .3 12.4 .3 -3.7 .4 3.7 .3 -.8 .3 8.7 .4 -0 .3 -5.8 .4 -2.9 .3 -2.1 .3 -5.2 .4 15.5 .3 -20.7 .4 7.8 .3 -19.1 .3 13.2 .4 -1.5 .3 6.7 .3 10.8 .4 -15.9 .3 .8 .4 28.2 .3 -17.4 .3 -2.9 .4 3.7 .3 -18.3 .3 18.8 .4 -4 .3 5.1 .4 -4.1 .3 9.3 .3 -10.1 .4 6.4 .3 -7.9 .4 -6.4 .3 2.1 .3 -3.8 .4 23.9 .3 -16.9 .3 -5.7 .4 13.3 .3 3.4 .4 1.4 .3 -9.2 .3 -1.3 .4 -3.8 .3 -7.7 .3 8.9 .4 4.9 .3 16.8 .4 -9.1 .3 -18.9 .3 2.3 .4 12 .3 0 .4 -.1 .3 -19.8 .3 20.5 .4 13.3 .3 -14.1 .3 -8.4 .4 -10.4 .3 19.2 .4 6.4 .3 -5.3 .3 -.4 .4 -1 .3 6.3 .3 -4.4 .4 -8.6 .3 11.8 .4 -11.9 .3 3.9 .3 -.8 .4 11.6 .3 -21 .4 19.2 .3 -14.6 .3 10.6 .4 -13.8 .3 18.9 .3 -12.6 .4 25.3 .3 -5.8 .4 -2.3 .3 -11.1 .3 3 .4 -17.7 .3 5.7 .3 -6.2 .4 7.1 .3 -12.2 .4 21.3 .3 -1.3 .3 -.4 .4 -3.6 .3 4 .4 -2.5 .3 -7.9 .3 4.4 .4 -6 .3 18.3 .3 9.3 .4 -27.1 .3 -2.4 .4 5.5 .3 5.1 .3 12.9 .4 -.3 .3 -14.6 .3 -6.5 .4 22 .3 -16.9 .4 0 .3 -.9 .3 6.4 .4 10.6 .3 -1.6 .4 .9 .3 -12.8 .3 9 .4 9.2 .3 -5.3 .3 -1.5 .4 -15 .3 -2.7 .4 27.6 .3 -5.7 .3 -11.6 .4 13.7 .3 -15.8 .3 11.8 .4 2.8 .3 -8.2 .4 9.8 .3 -15 .3 12 .4 -8.5 .3 7.7 .4 -15.3 .3 21.4 .3 -20.3 .4 13.5 .3 -19.6 .3 17.7 .4 6.4 .3 -16.7 .4 -2.5 .3 23.2 .3 -27.3 .4 1.6 .3 -1.1 .3 18.4 .4 1.4 .3 -22.4 .4 13.3 .3 18.6 .3 -15.6 .4 -1.3 .3 .1 .4 -13.2 .3 22.5 .3 -28.5 .4 33.2 .3 -21.9 .3 1.1 .4 5.6 .3 7.8 .4 -14.7 .3 22.2 .3 -17.4 .4 -4.6 .3 -1.2 .3 25.8 .4 -8.5 .3 7.1 .4 -13.2 .3 -8.1 .3 6.2 .4 -2.4 .3 -2.7 .4 6.9 .3 -2.6 .3 6.2 .4 -3.6 .3 6.6 .3 -12.9 .4 7.3 .3 -20.6 .4 28.9 .3 -20.1 .3 17.2 .4 -24.6 .3 14.6 .3 -5.4 .4 10.7 .3 4.8 .4 -16.2 .3 9 .3 -15.5 .4 26.6 .3 .6 .4 -6.2 .3 -7.3 .3 -2.4 .4 7.4 .3 -12.8 .3 19.3 .4 -14.4 .3 -6.7 .4 2.4 .3 25.5 .3 -25.3 .4 7 .3 -2.6 .3 12.3 .4 11.7 .3 -15.7 .4 -4.7 .3 21 .3 -9.9 .4 -19.3 .3 20.1 .4 6 .3 -7.6 .3 -11 .4 -8 .3 14.3 .3 5.1 .4 -2.3 .3 10.2 .4 5.5 .3 -22.7 .3 -3.6 .4 16.8 .3 -15.6 .3 18.9 .4 -18.9 .3 18.8 .4 -11.5 .3 5 .3 -12.6 .4 8.1 .3 .3 .4 -27.4 .3 32.8 .3 -16.3 .4 19.8 .3 6.3 .3 -11.9 .4 -4.8 .3 12.2 .4 3.5 .3 -6 .3 -6.1 .4 -.6 .3 3.2 .3 -13.5 .4 1.3 .3 8.3 .4 -11.8 .3 24.3 .3 -7.1 .4 -4.7 .3 6.5 .4 -13.6 .3 -2.2 .3 22.2 .4 -27.3 .3 18.6 .3 -19.1 .4 2.3 .3 -1.6 .4 13.9 .3 -15.7 .3 21 .4 10 .3 2.2 .3 -10.9 .4 -23.8 .3 2.2 .4 23.6 .3 -17 .3 15.5 .4 -8.8 .3 -6.6 .4 16.1 .3 1 .3 -22.3 .4 17.7 .3 11.8 .3 -25.7 .4 -5.4 .3 4.9 .4 21.2 .3 -33.1 .3 33.3 .4 -12.5 .3 -6 .3 .1 .4 9.9 .3 -3.8 .4 .9 .3 -12.6 .3 16 .4 12.2 .3 -17.1 .4 .1 .3 -9.4 .3 4 .4 18.4 .3 -11.4 .3 -1 .4 -6.2 .3 -1.4 .4 7.2 .3 12.2 .3 -21 .4 24.4 .3 -28.2 .3 9 .4 -.3 .3 5.5 .4 14 .3 -6 .3 1.2 .4 -13.4 .3 -2.3 .4 -4.6 .3 3.6 .3 -6.2 .4 -.2 .3 24.8 .3 -13.3 .4 8.3 .3 9 .4 -2.2 .3 -8.3 .3 16.9 .4 -5.7 .3 -18.3 .3 9.6 .4 -13.4 .3 -1.7 .4 17.5 .3 15.2 .3 -8.9 .4 -28.7 .3 17 .4 3.5 .3 -29.1 .3 16.9 .4 -6.1 .3 26.7 .3 -14.2 .4 -7.6 .3 9.9 .4 -7.2 .3 4.7 .3 -4.5 .4 11.3 .3 -8.2 .3 9.3 .4 12.7 .3 -23.6 .4 15.7 .3 -1.4 .3 -15.9 .4 7.6 .3 -3.7 .4 7.4 .3 -5.8 .3 -11.2 .4 19 .3 -5.6 .3 4.5 .4 -1.8 .3 -9.9 .4 -6.6 .3 14.7 .3 -14.4 .4 15.9 .3 -4.4 .3 9.6 .4 -12.7 .3 8.3 .4 -0 .3 -12.8 .3 7.4 .4 16.9 .3 -6.8 .4 .8 .3 -1.6 .3 -18.3 .4 -3.6 .3 30.5 .3 -5.8 .4 -12.5 .3 -1.5 .4 18.4 .3 -16 .3 -3.3 .4 18.7 .3 -6.8 .3 -12.2 .4 13.8 .3 -4.2 .4 5.1 .3 -19.5 .3 29.4 .4 -24.4 .3 10.1 .4 -8.5 .3 -9.2 .3 17.4 .4 -18.9 .3 8.6 .3 7.2 .4 -6.1 .3 4.7 .4 1.1 .3 10.4 .3 30.1 .4 -31.5 .3 -13.8 .3 16.7 .4 -12.5 .3 11.3 .4 -1.3 .3 -2.8 .3 -16.9 .4 8.3 .3 -6.3 .4 9.9 .3 5.7 .3 -12.9 .4 -2.5 .3 7 .3 3.7 .4 -1.9 .3 -3.4 .4 -13.3 .3 8.8 .3 4.1 .4 17.6 .3 -20.9 .3 10.5 .4 7.4 .3 -9.5 .4 18.7 .3 -8 .3 -25.4 .4 26.8 .3 -22.7 .4 8.3 .3 -10.1 .3 5.5 .4 5.8 .3 4.2 .3 -.6 .4 -15.8 .3 9.1 .4 14.6 .3 -4.5 .3 1.1 .4 -4.3 .3 4.3 .3 8.7 .4 -.9 .3 -5.6 .4 -1.4 .3 2.3 .3 -11.2 .4 8.9 .3 -3.8 .4 -6.3 .3 .7 .3 -.4 .4 9.1 .3 -18.9 .3 20.1 .4 -8.9 .3 3.7 .4 -7 .3 5.4 .3 4.2 .4 -11.4 .3 11.1 .3 7.4 .4 1.1 .3 5.9 .4 -16.7 .3 -4.6 .3 11.1 .4 -6.9 .3 -2.1 .4 -4.7 .3 -3.3 .3 18.3 .4 -13.5 .3 -9.4 .3 44.1 .4 -49.6 .3 22.3 .4 2.9 .3 -5.4 .3 -2 .4 -3.8 .3 3.7 .3 3 .4 2 .3 -6.8 .4 -7.4 .3 15.2 .3 -14.2 .4 5.4 .3 16.3 .4 -6.4 .3 -6.6 .3 -3.8 .4 0 .3 -3.3 .3 4.1 .4 3.3 .3 -12 .4 29 .3 .6 .3 -20.9 .4 20.7 .3 -28.4 .3 9 .4 -1.7 .3 3.6 .4 -2 .3 8.7 .3 7 .4 .6 .3 -9.5 .4 -20.9 .3 17.1 .3 9 .4 -19.7 .3 14.7 .3 -4.6 .4 10 .3 -13.1 .4 -15.9 .3 57.4 .3 -47 .4 19.8 .3 -15.1 .3 22.1 .4 -10.7 .3 3.2 .4 4.7 .3 -17.1 .3 -13.2 .4 10.5 .3 17.2 .4 -17.2 .3 5.5 .3 -2.7 .4 -3.1 .3 16.4 .3 -12.2 .4 1.1 .3 19.8 .4 -24.6 .3 8.4 .3 -11.6 .4 16.1 .3 6.8 .3 -22.5 .4 15.7 .3 11.1 .4 -31.4 .3 27 .3 -7.9 .4 7.3 .3 -11.9 .4 -5.7 .3 22.5 .3 -5.9 .4 -16.6 .3 2.7 .3 -9.7 .4 22.9 .3 -16.1 .4 -7.3 .3 15.8 .3 -15.2 .4 4.6 .3 -.1 .3 24.7 .4 -13.8 .3 11.2 .4 -2.6 .3 -7.1 .3 -10.2 .4 19.3 .3 -15.2 .4 10.1 .3 -4.7 .3 12.3 .4 -13.2 .3 -13.6 .3 8.1 .4 19.6 .3 -14.2 .4 .2 .3 6.7 .3 1.1 .4 -6.8 .3 -.5 .3 -9.4 .4 -14.6 .3 24.1 .4 -5.3 .3 -5.7 .3 12.7 .4 4.7 .3 3.2 .4 -1.6 .3 -7.2 .3 -22.6 .4 8.5 .3 29.7 .3 -23.3 .4 23.3 .3 -31.1 .4 1.2 .3 17.1 .3 3 .4 -16.6 .3 6.8 .3 -12.8 .4 7.7 .3 -11.6 .4 37 .3 -.6 .3 -20 .4 14.5 .3 -2.2 .4 -6.7 .3 -5.3 .3 6.6 .4 -7.5 .3 -4 .3 15.8 .4 4.7 .3 -16.8 .4 2.1 .3 18.6 .3 -18.1 .4 -4.5 .3 11.7 .3 -9 .4 -7 .3 23.1 .4 -23.5 .3 -9.8 .3 -1.2 .4 28.8 .3 -21.2 .4 6 .3 30.9 .3 -16.5 .4 6.8 .3 -22 .3 -4.8 .4 -5 .3 21 .4 -20.7 .3 37.2 .3 -22.8 .4 -6.2 .3 .6 .3 -.3 .4 23.3 .3 -19.2 .4 -3.8 .3 13.4 .3 1 .4 6.2 .3 -23.2 .4 25.1 .3 -27.3 .3 4.1 .4 3.9 .3 1.4 .3 10.4 .4 1.8 .3 1.4 .4 2.8 .3 -1.8 .3 -14.5 .4 -4.1 .3 -.7 .3 18 .4 -48.5 .3 23.6 .4 1 .3 13.6 .3 14.9 .4 -12.7 .3 -8.4 .4 20.4 .3 -4.9 .3 7.9 .4 -17.7 .3 5.4 .3 -33 .4 40.9 .3 -14.5 .4 -1.5 .3 7.8 .3 11.7 .4 -12.8 .3 2.3 .3 -13.4 .4 9.7 .3 -19.4 .4 7.5 .3 21.5 .3 -15.4 .4 11.9 .3 -14.9 .4 5.9 .3 8.9 .3 10.4 .4 -4.6 .3 -10.2 .3 -12 .4 18.7 .3 -3.5 .4 -11.1 .3 11.8 .3 2.1 .4 -6.2 .3 -4.9 .3 -3.7 .4 8 .3 7.7 .4 -26.8 .3 8.7 .3 6.3 .4 10.1 .3 -13.8 .4 -4.1 .3 2.7 .3 11.4 .4 6.9 .3 -8.2 .3 12.5 .4 -31.7 .3 26 .4 6.2 .3 -32.3 .3 8.6 .4 10.3 .3 -11.2 .3 -9.5 .4 11.9 .3 -16.4 .4 12.3 .3 28 .3 -18.3 .4 3.6 .3 5.9 .4 -5 .3 -9.3 .3 -3.1 .4 17.2 .3 1.3 .3 -24.8 .4 18.6 .3 -11.3 .4 .8 .3 -11.2 .3 15.3 .4 4.8 .3 -9.1 .3 -1.9 .4 29.8 .3 -26.7 .4 -7.4 .3 27.3 .3 -29.8 .4 14 .3 -16 .4 1 .3 7.5 .3 -2.3 .4 4.1 .3 14.8 .3 3.1 .4 -24.6 .3 11.7 .4 -13.5 .3 33.8 .3 -13.1 .4 -12.1 .3 5.2 .3 10.7 .4 3.5 .3 .7 .4 -28.8 .3 8.6 .3 -5 .4 -2.8 .3 22.2 .4 -19.6 .3 22.1 .3 -16 .4 -8.9 .3 21 .3 -2.9 .4 .6 .3 -9.5 .4 -.8 .3 -.7 .3 2.6 .4 6 .3 -1 .3 -.2 .4 -4.1 .3 3.4 .4 -7.1 .3 20.1 .3 -21.4 .4 7.2 .3 13 .4 -20.5 .3 -13.6 .3 26.9 .4 -15 .3 -2.4 .3 .2 .4 -3.7 .3 23.5 .4 -25.4 .3 6.3 .3 7.5 .4 -12.1 .3 4.6 .3 4.6 .4 -22.7 .3 9 .4 -2.9 .3 .5 .3 -4.9 .4 10.8 .3 -2 .4 -6.2 .3 -2.1 .3 3.2 .4 2.1 .3 -8.5 .3 -7.7 .4 -7 .3 -1.9 .4 .3 .3 6.4 .3 -5.8 .4 .2 .3 3.8 .4 -7.7 .3 2.1 .3 -8.7 .4 1.9 .3 3.8 .3 -.8 .4 -2.7 .3 .2 .4 -3.3 .3 3.3 .3 3.1 .4 -2.7 .3 .4 .3 7.1 .4 -13.1 .3 12.5 .4 -4.5 .3 -.8 .3 2.7 .4 5 .3 2.1 .4 4 .3 1.8 .3 9.6 .4 -7.4 .3 -2.6 .3 14.8 .4 -10 .3 13.4 .4 -8 .3 9.6 .3 -8.6 .4 -4.5 .3 11.2 .3 -6.4 .4 23.6 .3 -2.7 .4 -15.2 .3 2.4 .3 -6.8 .4 18.3 .3 -10.6 .4 8.4 .3 9.6 .3 -10.9 .4 -2.3 .3 13 .3 9.2 .4 -20.7 .3 3.1 .4 11.6 .3 -20.5 .3 .1 .4 28.3 .3 -.8 .3 -9.9 .4 -5.9 .3 -6.2 .4 14.5 .3 -24.2 .3 34.9 .4 -26 .3 24.7 .4 -5.9 .3 -4.2 .3 -2.6 .4 35.3 .3 -46.7 .3 7.1 .4 -3.4 .3 -11.8 .4 16.1 .3 17.9 .3 -23.3 .4 8.8 .3 -13 .3 36.1 .4 -8.9 .3 -10.2 .4 -9.5 .3 -5 .3 -6.5 .4 11.7 .3 -10 .4 19.3 .3 4 .3 -9 .4 -13.1 .3 34.8 .3 -16.9 .4 -11.1 .3 5.9 .4 -5.1 .3 11.4 .3 -8.3 .4 -.7 .3 -5.6 .3 12 .4 -1 .3 -12.4 .4 24.2 .3 1.7 .3 2.1 .4 -13.5 .3 1.4 .4 -1.6 .3 9.3 .3 -7.8 .4 2.5 .3 -14.1 .3 14.8 .4 -11 .3 5.2 .4 -24 .3 7 .3 25.4 .4 0 .3 -26.7 .3 9.1 .4 22.9 .3 -12.1 .4 -10.1 .3 19.4 .3 -9.7 .4 3.2 .3 -21.8 .4 18.3 .3 -2.6 .3 -10.6 .4 17.5 .3 -10.7 .3 3.3 .4 -2.8 .3 11.5 .4 -2.4 .3 -.1 .3 7.7 .4 -10.7 .3 -4 .3 7.4 .4 -11.4 .3 9.6 .4 -19.2 .3 5.9 .3 15.2 .4 -9.2 .3 -11.6 .4 12.1 .3 4.2 .3 4.2 .4 -14.1 .3 12.1 .3 -1.3 .4 -3.3 .3 3.1 .4 -13.3 .3 -1.8 .3 -4.7 .4 -6.2 .3 2.4 .3 .6 .4 -8.5 .3 -7 .4 4.2 .3 .5 .3 -2.6 .4 -5.5 .3 2 .4 -3.2 .3 -1.4 .3 -8.3 .4 -4.1 .3 2.1 .3 -1 .4 -3 .3 3.4 .4 -2.1 .3 -.6 .3 -5.5 .4 5 .3 -6.4 .3 6.5 .4 -3.9 .3 5.1 .4 -2.5 .3 -2.5 .3 5.6 .4 3.2 .3 4.9 .4 -2.3 .3 7 .3 1.9 .4 .8 .3 3.5 .3 .1 .4 -2.3 .3 10.5 .4 1.6 .3 -3.9 .3 -4.1 .4 7.2 .3 6.5 .3 -13.9 .4 13.8 .3 -3.3 .4 -1.5 .3 3 .3 23.7 .4 -7.1 .3 -10.7 .4 12.3 .3 5.7 .3 3.8 .4 -13.9 .3 11.8 .3 -2.5 .4 -17.7 .3 21.1 .4 -7 .3 17.8 .3 -10.8 .4 -8.8 .3 12.6 .3 -3.5 .4 -3.3 .3 -4.4 .4 -.4 .3 8 .3 -7.7 .4 -17.3 .3 32.6 .4 -27.7 .3 14.2 .3 6.4 .4 -23.1 .3 5.6 .3 -1.6 .4 6.1 .3 -1 .4 -7.9 .3 5.1 .3 23.8 .4 -29.9 .3 8.3 .3 -17.9 .4 9.1 .3 -6.2 .4 -4.1 .3 3.7 .3 3.6 .4 -10.3 .3 -1.1 .4 -.4 .3 -.7 .3 -6.6 .4 -1.1 .3 -9.4 .3 4.2 .4 -2.1 .3 -4.8 .4 -2 .3 -7.6 .3 7.2 .4 -5.2 .3 -6.7 .3 7.7 .4 -3.8 .3 -1.8 .4 1 .3 4.4 .3 -2.6 .4 -.4 .3 -1.2 .4 .3 .3 7.1 .3 -3.3 .4 5.4 .3 1.3 .3 5.3 .4 3.4 .3 4.1 .4 4.6 .3 -4 .3 -1.9 .4 2.3 .3 8.3 .3 -5.3 .4 11.6 .3 13.9 .4 3 .3 -15.3 .3 7.6 .4 7.6 .3 -.1 .4 1.9 .3 -5 .3 -3.5 .4 2.9 .3 2.1 .3 -1.2 .4 -20 .3 -33.2 .4 -38.2 .3 -31.9 .3 -21.6 .4 -6.5 .3 6.3 .3 22.6 .4 31 .3 41.3 .4 28.4 .3 45.1 .3 -14 .4 4.7 .3 -13.5 .4 -4 .3 2.8 .3 -2.2 .4 5.2 .3 10.9 .3 2.5 .4 -4 .3 9.2 .4 -3.5 .3 -2.3 .3 -20.4 .4 13.5 .3 5.5 .3 -6 .4 5.4 .3 1.5 .4 -9.3 .3 19.3 .3 -1.8 .4 13 .3 -14 .4 -14.3 .3 4.5 .3 7.3 .4 -20 .3 8.5 .3 11.2 .4 -9.1 .3 2.3 .4 5.2 .3 -13 .3 17.6 .4 -4 .3 -3.9 .3 -7.9 .4 -4.5 .3 2.2 .4 3.9 .3 -5.2 .3 2.4 .4 8.1 .3 -3.7 .4 7.5 .3 -4.9 .3 6.3 .4 -16.8 .3 6.4 .3 2.1 .4 6.3 .3 -10.9 .4 10.8 .3 4 .3 -24 .4 5.5 .3 1.6 .3 -11.9 .4 -1.4 .3 16.3 .4 -2.5 .3 -12.2 .3 .8 .4 5.8 .3 -4.5 .4 -.9 .3 -2.3 .3 4.8 .4 -6.5 .3 11.1 .3 -1.1 .4 -2 .3 4.2 .4 -9.6 .3 9.3 .3 -14.6 .4 10.1 .3 -3.8 .3 -4.5 .4 5.2 .3 -7.1 .4 2.3 .3 -8.4 .3 13.8 .4 -3.6 .3 .4 .4 -14.7 .3 .1 .3 -3.8 .4 7.2 .3 2.1 .3 -9.4 .4 14.3 .3 -14.8 .4 5.5 .3 -10.7 .3 5.6 .4 2.4 .3 -4 .3 -3.3 .4 1.1 .3 2.1 .4 -3.3 .3 -7.9 .3 4.4 .4 -4.5 .3 -1.4 .4 -.8 .3 1.2 .3 -4.3 .4 -2.4 .3 -7.1 .3 -7.4 .4 -12.1 .3 -17.4 .4 -24.3 .3 -31.1 .3 -35.1 .4 -36 .3 -35.9 .3 -34.6 .4 -32.6 .3 -30.1 .4 -27.6 .3 -24.7 .3 -21.9 .4 -19 .3 -16.2 .4 -13.2 .3 -10.2 .3 -7.4 .4 -4.4 .3 -1.4 .3 1.5 .4 4.4 .3 7.4 .4 10.4 .3 13.2 .3 16.2 .4 19.1 .3 22 .3 24.8 .4 27.5 .3 30.2 .4 32.6 .3 34.7 .3 36 .4 36.1 .3 34.3 .4 30.9 .3 26 .3 17.9 .4 14.1 .3 2.2 .3 9.3 .4 1.9 .3 2 .4 -1.5 .3 5 .3 6.9 .4 -1.2 .3 1.9 .3 -4.8 .4 4.8 .3 2.2 .4 1.3 .3 1.3 .3 2.4 .4 -1.8 .3 -2.6 .4 3.4 .3 3.4 .3 -6.3 .4 1.4 .3 -.6 .3 12.7 .4 -1.8 .3 -2.7 .4 6.2 .3 4.5 .3 -7.5 .4 1.1 .3 -8.8 .3 7.5 .4 4.5 .3 -3.7 .4 1.3 .3 3.7 .3 -5.1 .4 6.4 .3 -6.5 .4 .5 .3 -1.3 .3 5.2 .4 8.1 .3 -6.8 .3 -8.8 .4 11.6 .3 -9.2 .4 -3.6 .3 1.8 .3 -8.5 .4 8.6 .3 -10 .3 3.2 .4 1 .3 -1.8 .4 -9.2 .3 -.2 .3 -1.2 .4 -8.9 .3 -.8 .4 2.6 .3 -4.9 .3 .4 .4 -7 .3 .1 .3 -7.1 .4 -.6 .3 3.9 .4 -10.8 .3 -2.9 .3 1.3 .4 -2.5 .3 -4.7 .3 .5 .4 -2.9 .3 -4.8 .4 -1.8 .3 -.7 .3 .2 .4 -3.2 .3 -.2 .4 -2.1 .3 -.8 .3 1.3 .4 -.9 .3 .8 .3 -1.9 .4 1.3 .3 .1 .4 .3 .3 1.7 .3 1.8 .4 1.8 .3 3.5 .3 1 .4 1.6 .3 -1 .4 6.2 .3 -.2 .3 5.6 .4 -1.3 .3 4.3 .4 4.5 .3 1 .3 3.6 .4 2.4 .3 1.3 .3 6.9 .4 -4.9 .3 6.4 .4 8.4 .3 -1.8 .3 6 .4 -.6 .3 2.9 .3 .1 .4 5.6 .3 5.7 .4 3.8 .3 .2 .3 2.6 .4 -5.6 .3 9.6 .4 9.4 .3 -13 .3 13.3 .4 -9.4 .3 5.1 .3 6.5 .4 -1.3 .3 -.6 .4 -11.1 .3 7.9 .3 4.5 .4 -8.2 .3 8.3 .3 -10.9 .4 3.7 .3 -8.4 .4 5.9 .3 -5.5 .3 .9 .4 -6.4 .3 .3 .4 -5 .3 -5.2 .3 .9 .4 -9 .3 -6.3 .3 -2 .4 1.6 .3 -8.8 .4 -.8 .3 -5.1 .3 -1.7 .4 -2.7 .3 -2.5 .3 -1.4 .4 -.4 .3 -1.4 .4 .4 .3 -1.2 .3 -.6 .4 4.8 .3 1.6 .4 1.9 .3 2.5 .3 5.8 .4 -1 .3 8.4 .3 1.9 .4 2 .3 6.2 .4 11 .3 -1.2 .3 -7.8 .4 18 .3 7.6 .3 -8.8 .4 6.6 .3 6.8 .4 -1.7 .3 10.9 .3 -13.2 .4 13.4 .3 6.1 .4 -2.5 .3 11.6 .3 -16.7 .4 16.6 .3 -9 .3 -7.5 .4 17.3 .3 2.6 .4 -15.4 .3 5.4 .3 -8.5 .4 13.2 .3 -3.1 .3 -5.2 .4 -1.5 .3 16.7 .4 -8.2 .3 -1.5 .3 -8.8 .4 27.7 .3 -12.4 .4 1.5 .3 13.3 .3 -19.9 .4 -12.2 .3 11.6 .3 -8.8 .4 .3 .3 18.6 .4 -8.4 .3 -6.3 .3 -8.5 .4 1.7 .3 17.9 .3 -8.7 .4 6.4 .3 -1 .4 3.7 .3 -5.2 .3 -15 .4 13.1 .3 -17 .4 4.8 .3 -6.4 .3 10 .4 3.8 .3 -5.8 .3 -6.5 .4 -5.5 .3 5.4 .4 -.8 .3 5.6 .3 -12.5 .4 11.9 .3 -14 .3 17 .4 -17 .3 7.3 .4 -8.9 .3 7.7 .3 -1.7 .4 -.2 .3 -11 .4 9.2 .3 11.3 .3 1.9 .4 -4 .3 2.1 .3 -4.4 .4 -3 .3 9.7 .4 -7.3 .3 6.3 .3 6 .4 15.4 .3 -4.6 .3 -14.9 .4 21.8 .3 -18.9 .4 19 .3 -4.7 .3 -4 .4 6.9 .3 -14.2 .4 -2.4 .3 19.9 .3 -7.8 .4 2 .3 6.1 .3 11 .4 -7.9 .3 -8.5 .4 10.8 .3 -12 .3 3.9 .4 3.3 .3 2.8 .3 -3.9 .4 .9 .3 7 .4 -3.3 .3 16.8 .3 -17.5 .4 -9 .3 19 .4 -25.5 .3 22.3 .3 -26 .4 14.1 .3 -6.1 .3 15.9 .4 -18 .3 10.6 .4 19.8 .3 -2.2 .3 -43.4 .4 12.2 .3 5.4 .3 19.1 .4 6.2 .3 -28.2 .4 8.5 .3 1.9 .3 -7.9 .4 21.8 .3 -9 .4 -8.4 .3 28 .3 -18.9 .4 6.5 .3 -18.4 .3 -12.6 .4 24.6 .3 -6.3 .4 3 .3 17.1 .3 -7.9 .4 -9.9 .3 1.2 .3 -12.6 .4 16.1 .3 -7.5 .4 -10.6 .3 23.4 .3 -30.5 .4 12.7 .3 12.8 .4 16.8 .3 -21.4 .3 18.6 .4 -.2 .3 -10.1 .3 -18.9 .4 27.1 .3 -10.1 .4 -1 .3 -2 .3 .3 .4 3.8 .3 -2.5 .3 .6 .4 8 .3 -2.1 .4 -14.7 .3 14.7 .3 6.6 .4 -8.6 .3 -9.1 .4 19.7 .3 -19.5 .3 17.9 .4 -11.6 .3 16.2 .3 -23.3 .4 15.2 .3 -4.2 .4 -17.6 .3 33.2 .3 -28.6 .4 25.1 .3 -19.8 .3 5.3 .4 -12.9 .3 -16.9 .4 -5.1 .3 59.7 .3 -12.8 .4 4 .3 -14.5 .4 -12.8 .3 24.6 .3 -11.6 .4 16.9 .3 -28.8 .3 6.2 .4 15.3 .3 -22.8 .4 34.8 .3 -34.6 .3 21.1 .4 6 .3 13.9 .3 -4.8 .4 -37.4 .3 39.1 .4 -18.3 .3 -4.5 .3 14.7 .4 3.5 .3 -15.5 .4 .6 .3 10.2 .3 -6.6 .4 -30.3 .3 19.7 .3 -4.6 .4 24.2 .3 -20.4 .4 33.1 .3 -20.7 .3 -11.8 .4 -5.1 .3 24 .3 -.8 .4 -12.9 .3 3.7 .4 -18 .3 22.6 .3 -4.9 .4 13.5 .3 -19.1 .4 -3.3 .3 .1 .3 14.8 .4 -14.3 .3 22.7 .3 -19.2 .4 9.2 .3 -14.6 .4 -16.5 .3 37.9 .3 11.1 .4 -11.5 .3 -3.8 .3 -12.2 .4 -7.6 .3 22 .4 -8.5 .3 1.3 .3 -17.6 .4 23.1 .3 -2.5 .4 -9.6 .3 -18.8 .3 10.5 .4 7.5 .3 -8.6 .3 12.4 .4 10 .3 8.1 .4 -2.2 .3 -12.6 .3 12 .4 -19.6 .3 29 .3 -25.9 .4 -5.2 .3 -10.5 .4 42.4 .3 -18.9 .3 7.1 .4 -26.7 .3 14.6 .4 22 .3 -42.9 .3 55.3 .4 -18.9 .3 -16.1 .3 11.9 .4 -15.3 .3 -6 .4 22.3 .3 -10.4 .3 23.1 .4 -36.8 .3 12.8 .3 -20.6 .4 45.3 .3 -27.8 .4 25.9 .3 -39.2 .3 24.9 .4 -11.6 .3 -4.3 .4 8.4 .3 9.2 .3 6.4 .4 -16.4 .3 -25.3 .3 26.9 .4 -15 .3 3.4 .4 34 .3 -1.8 .3 -.9 .4 -6.8 .3 -11.8 .3 10 .4 15.3 .3 -16.7 .4 -2.9 .3 33.5 .3 -31.6 .4 .8 .3 -20.1 .4 30.9 .3 -6.6 .3 9.5 .4 -19.3 .3 4.6 .3 7.3 .4 10.7 .3 -40.4 .4 1.7 .3 34.5 .3 9.3 .4 -44.5 .3 2.4 .3 27.5 .4 8 .3 -1.8 .4 -23 .3 32.9 .3 -3.5 .4 -19.4 .3 -22.5 .4 2.3 .3 4 .3 15.3 .4 -5.3 .3 11.1 .3 10.2 .4 -7.8 .3 3.1 .4 -21.6 .3 39.3 .3 -46.5 .4 0 .3 14.5 .4 18.5 .3 -6.1 .3 0 .4 -18.5 .3 -2.4 .3 -14.1 .4 27.2 .3 -9.7 .4 -26.7 .3 53.8 .3 -24.7 .4 5.8 .3 -9.6 .3 -3.5 .4 .1 .3 18.9 .4 15.1 .3 -41.8 .3 47.4 .4 .2 .3 -6.8 .4 -15.8 .3 -5.8 .3 -4.6 .4 28.9 .3 -8.6 .3 -26.8 .4 40.7 .3 -30.4 .4 -17.5 .3 29.1 .3 -13.9 .4 8.2 .3 -15 .3 26 .4 11.1 .3 -19.8 .4 27.1 .3 -23.1 .3 5 .4 -7.1 .3 5.1 .4 -12.5 .3 18 .3 -26.6 .4 24.1 .3 -39 .3 16.1 .4 8.9 .3 3.5 .4 19.2 .3 -24.4 .3 -4.7 .4 13.4 .3 .9 .3 12.8 .4 -19.6 .3 15.7 .4 -44 .3 45.3 .3 -34.2 .4 15.4 .3 -4.4 .4 23.3 .3 -22.9 .3 -.8 .4 5.4 .3 -15.9 .3 12.8 .4 10.2 .3 -16.5 .4 23.5 .3 -1.3 .3 .9 .4 -15 .3 20.1 .3 -26.1 .4 32.9 .3 -27.3 .4 10.7 .3 -20.7 .3 31.8 .4 14.2 .3 -39.9 .4 14.5 .3 -17.4 .3 25.1 .4 -29 .3 24.7 .3 -19.2 .4 28.7 .3 -28.5 .4 33.7 .3 -20.7 .3 -23.5 .4 27.8 .3 3.9 .3 -11.7 .4 -32.1 .3 51.4 .4 -.3 .3 -29.1 .3 -16.5 .4 11.6 .3 14.8 .4 12.9 .3 -26.2 .3 .2 .4 -16.7 .3 34.5 .3 -6.9 .4 22.8 .3 -15.2 .4 -7.3 .3 9.9 .3 -.7 .4 21.8 .3 -16.8 .3 -27.9 .4 31.1 .3 -44.9 .4 25.4 .3 -16.5 .3 2.3 .4 7.2 .3 19.2 .4 -25.9 .3 18.6 .3 -18.9 .4 10.8 .3 -2.7 .3 20.5 .4 -5.4 .3 23.5 .4 -38.2 .3 24.5 .3 -2.5 .4 -26 .3 15.9 .3 -17.6 .4 -2.5 .3 31.5 .4 8.7 .3 -1.4 .3 -5.6 .4 -31.7 .3 24.5 .4 -12.1 .3 -15.7 .3 20.8 .4 -23.6 .3 26 .3 -22.5 .4 30.8 .3 -33 .4 10.6 .3 9 .3 8.3 .4 -3 .3 19.1 .3 -39.9 .4 29.5 .3 4.1 .4 -31.5 .3 19.9 .3 -16.7 .4 37.3 .3 -5.2 .4 -19.4 .3 2 .3 13.5 .4 -28 .3 -7.6 .3 33.8 .4 -4.7 .3 9.9 .4 -39.9 .3 27.2 .3 3.7 .4 19.4 .3 -35.5 .3 12.6 .4 -21.3 .3 12.5 .4 4.9 .3 -20.6 .3 27 .4 -13.6 .3 -.9 .4 12.7 .3 -23.5 .3 40.2 .4 -4.9 .3 -11.4 .3 -9.4 .4 28.5 .3 -43.2 .4 23.5 .3 15.4 .3 -16.3 .4 -19 .3 45.1 .3 8.5 .4 -26.8 .3 7.4 .4 -44.3 .3 12 .3 -21.4 .4 38.2 .3 -9.8 .4 .7 .3 15.1 .3 6.7 .4 -17.2 .3 8.1 .3 -12.2 .4 -9.3 .3 37 .4 -7.3 .3 -11.4 .3 15.8 .4 -35.9 .3 6.7 .3 33.1 .4 -7.7 .3 -34.1 .4 16 .3 -4.1 .3 11.3 .4 -15.5 .3 3.3 .4 23.1 .3 .3 .3 13.1 .4 -10.1 .3 -13.8 .3 -13.3 .4 20.5 .3 11 .4 -7 .3 -7.6 .3 .3 .4 -8.8 .3 -3.6 .3 -18 .4 25.1 .3 -3.4 .4 -5.3 .3 27.2 .3 -17.9 .4 15.3 .3 -8.9 .4 3.1 .3 9.7 .3 -17.4 .4 -5.2 .3 5.7 .3 -33.7 .4 38.5 .3 3.6 .4 2.9 .3 -12.7 .3 -2.9 .4 -2.7 .3 -20.2 .3 25.5 .4 -9.2 .3 21.4 .4 -47.2 .3 25.2 .3 23.6 .4 -30.3 .3 36.9 .4 -12.9 .3 -22.8 .3 17.9 .4 -4 .3 -22.7 .3 10.3 .4 24 .3 -15.1 .4 -8.8 .3 -.8 .3 -1.1 .4 1.2 .3 -24 .3 6.9 .4 23.8 .3 -9.5 .4 -4.9 .3 11.4 .3 -22.6 .4 9 .3 -1.7 .4 2.2 .3 -15.3 .3 -7.9 .4 18.6 .3 -18.2 .3 -1.8 .4 10.8 .3 -4.5 .4 -8.6 .3 .6 .3 -9.2 .4 6.5 .3 -8.5 .3 4.3 .4 -2.4 .3 4.3 .4 -6.7 .3 6.9 .3 -8.1 .4 -3.5 .3 9.1 .4 -5.1 .3 -2.7 .3 9.9 .4 .2 .3 -10.7 .3 9.2 .4 5.3 .3 -12.5 .4 7.4 .3 -8.8 .3 3 .4 8.1 .3 2.7 .3 7.7 .4 -15.3 .3 2.1 .4 22.2 .3 -6 .3 .4 .4 -4.7 .3 7.1 .4 -2.9 .3 -5.3 .3 10.5 .4 -.7 .3 13 .3 -15.6 .4 24.5 .3 -2.4 .4 2.2 .3 -14.6 .3 7.6 .4 14.4 .3 2.1 .3 -16.2 .4 -8.2 .3 44.7 .4 -2.3 .3 -6.3 .3 6.1 .4 -29.2 .3 -26.1 .4 39.2 .3 18.6 .3 -31.6 .4 22.5 .3 -25.4 .3 24.9 .4 -24 .3 12.7 .4 -12.7 .3 28 .3 3.4 .4 -20.6 .3 13.7 .3 -17.9 .4 19.8 .3 6.5 .4 -6.8 .3 -18.6 .3 66.9 .4 -26.5 .3 -28.6 .4 17.9 .3 1.7 .3 -36.1 .4 11 .3 15.2 .3 4.6 .4 1.9 .3 -5.7 .4 35.2 .3 -20.5 .3 -18.2 .4 -8 .3 35.8 .3 -35.7 .4 -7.9 .3 -10.8 .4 42.1 .3 -2 .3 -43.1 .4 48.4 .3 1.7 .4 -21.2 .3 -20.5 .3 -10.1 .4 23.4 .3 24.6 .3 -27.8 .4 -.1 .3 29.9 .4 3.6 .3 -46 .3 26.5 .4 6.5 .3 -15.3 .3 -2.2 .4 -1.6 .3 38.6 .4 -9.8 .3 -15.1 .3 26.8 .4 -14.9 .3 4.8 .4 -26.5 .3 -5.9 .3 16.6 .4 17.1 .3 -9.1 .3 -31.8 .4 15.9 .3 -24 .4 31.4 .3 -36.9 .3 11.1 .4 31.6 .3 -35 .3 43.3 .4 2.8 .3 -44.5 .4 10.5 .3 11.9 .3 8.1 .4 -26.3 .3 .9 .4 9.6 .3 23.7 .3 -29.6 .4 7.7 .3 -12.1 .3 21.2 .4 25.4 .3 -28.4 .4 16.4 .3 -10.1 .3 3.9 .4 -25.8 .3 28.5 .3 11.6 .4 5.1 .3 -20.8 .4 -2.6 .3 -22.5 .3 29.6 .4 -22.9 .3 22 .4 22.6 .3 -23.2 .3 15.2 .4 -42.8 .3 8.6 .3 28.3 .4 -46.1 .3 39.1 .4 -19 .3 28.8 .3 -20.8 .4 5.5 .3 15.3 .3 -50.2 .4 10.9 .3 6.2 .4 -1 .3 24.9 .3 9.4 .4 -13 .3 -22.9 .4 7.3 .3 24 .3 -48.9 .4 27.2 .3 -18.2 .3 31.4 .4 13.1 .3 -25.9 .4 3.1 .3 16.9 .3 -17.3 .4 6.7 .3 15.4 .3 -.6 .4 -27.2 .3 -13.7 .4 18.7 .3 38.6 .3 -41.4 .4 10.8 .3 -20.9 .4 .6 .3 20.2 .3 -14.9 .4 25.1 .3 -37 .3 19 .4 .5 .3 3.4 .4 13.4 .3 14.8 .3 -5.8 .4 -6.7 .3 2.9 .3 -33.5 .4 40.1 .3 -23.7 .4 11 .3 -3.1 .3 5.4 .4 -36.7 .3 8.4 .4 40.5 .3 -8.2 .3 -38.9 .4 -9.6 .3 32.6 .3 13.3 .4 -11.6 .3 -21.4 .4 37.9 .3 -45.7 .3 52.6 .4 -45.9 .3 11.4 .3 16.5 .4 -20.5 .3 28.3 .4 -2.6 .3 .1 .3 1.7 .4 1.3 .3 -2.6 .4 17.9 .3 -14 .3 14.2 .4 -7.9 .3 -9.7 .3 -16.8 .4 30.2 .3 -24 .4 8.7 .3 -22.7 .3 21 .4 -5.5 .3 4.3 .3 -22.1 .4 15.3 .3 16.5 .4 -15.7 .3 -19.3 .3 25.4 .4 -13.3 .3 .4 .4 3.2 .3 23.3 .3 -31.8 .4 1.8 .3 13.6 .3 14.3 .4 -23.7 .3 14 .4 4.5 .3 5.5 .3 -4 .4 -4.5 .3 11.2 .3 3.3 .4 -35.2 .3 -4.8 .4 -2.2 .3 -5.2 .3 18.3 .4 16.1 .3 -7.8 .4 -2.4 .3 -12 .3 32.7 .4 -21.9 .3 7.1 .3 -13.2 .4 12 .3 12.9 .4 29.4 .3 -52.6 .3 -1.5 .4 -13 .3 -9.8 .3 3.8 .4 23.3 .3 3.4 .4 -14.9 .3 12.7 .3 4.9 .4 -6.5 .3 14.9 .4 -3.1 .3 -32 .3 36.7 .4 -24.5 .3 7.1 .3 3.6 .4 -10 .3 -.7 .4 17.7 .3 .9 .3 -39 .4 47.6 .3 -.6 .3 14.6 .4 -53.3 .3 34.6 .4 -11.4 .3 -1.3 .3 -16.9 .4 13.9 .3 -.5 .4 10.9 .3 -1.8 .3 -9.6 .4 -9 .3 26.6 .3 -1 .4 -5.2 .3 -3.5 .4 -11.5 .3 23.3 .3 -2.5 .4 12.9 .3 -38 .3 -12 .4 27.4 .3 3.6 .4 -27.2 .3 29.7 .3 -8.4 .4 -15.1 .3 11 .4 10.3 .3 1.1 .3 15 .4 -8.8 .3 -23.3 .3 34.1 .4 -31 .3 7.1 .4 -3 .3 -7.3 .3 -22.2 .4 8.7 .3 30.1 .3 -5.4 .4 -2.7 .3 17.5 .4 -33 .3 17.9 .3 -9.1 .4 4.9 .3 -19.5 .4 21 .3 9.3 .3 -15.5 .4 -.9 .3 -5 .3 40.6 .4 -25.7 .3 23.6 .4 -46.7 .3 31 .3 9.8 .4 -31.6 .3 32.5 .3 -23.7 .4 19.7 .3 -9.7 .4 -15.9 .3 26.8 .3 -24.4 .4 .6 .3 -7.8 .4 -3.8 .3 26.2 .3 -6.5 .4 9.4 .3 -10 .3 -8.4 .4 -16.6 .3 46.3 .4 -13.7 .3 -22.5 .3 22.2 .4 -31.4 .3 38.5 .3 -31.2 .4 10.4 .3 -19.4 .4 32.9 .3 3.2 .3 -13.7 .4 41.1 .3 -34.8 .4 -6 .3 -14.2 .3 6 .4 29.1 .3 -27.3 .3 19.2 .4 -32.2 .3 10.8 .4 -13.2 .3 26.1 .3 -18.9 .4 21.6 .3 -12.2 .3 -25.1 .4 21.9 .3 -19 .4 36.1 .3 -29.1 .3 9.6 .4 -4.6 .3 10.2 .4 -17.2 .3 14.8 .3 -18.3 .4 -8.9 .3 -2.1 .3 3.8 .4 -13.1 .3 -11.6 .4 1.5 .3 -.7 .3 -5.3 .4 -8.8 .3 7.1 .3 -13.2 .4 .8 .3 2.4 .4 -4.1 .3 -6.7 .3 5.4 .4 1.6 .3 4.8 .4 -.1 .3 -.1 .3 6.8 .4 5.7 .3 5.8 .3 .3 .4 14.3 .3 -7.2 .4 16.2 .3 8.5 .3 -5.9 .4 8.5 .3 -14.3 .3 12.5 .4 28 .3 -17.1 .4 5.8 .3 -10.5 .3 1.3 .4 19.7 .3 -20.3 .4 26.2 .3 -21.4 .3 32.6 .4 -19.9 .3 1.6 .3 17.7 .4 -46.8 .3 45.2 .4 -36.4 .3 14.1 .3 11.8 .4 -16.1 .3 17.2 .3 -32.5 .4 42.7 .3 -10.1 .4 -12.2 .3 32.6 .3 -17.1 .4 2.4 .3 -37.7 .4 17.9 .3 -1.7 .3 -17.3 .4 6.9 .3 60.2 .3 -33.4 .4 11.7 .3 -25.3 .4 -7.3 .3 -13.9 .3 35 .4 -22.3 .3 2.5 .3 6.8 .4 8.3 .3 13.2 .4 -33.6 .3 8.4 .3 -33.5 .4 20.7 .3 38.7 .4 1 .3 -8.4 .3 -5.3 .4 -12.1 .3 23.5 .3 -33 .4 -22.8 .3 39 .4 19.6 .3 -5 .3 -19.6 .4 6.3 .3 -15.1 .3 18.3 .4 8.7 .3 -31.2 .4 16.5 .3 -25.5 .3 42.8 .4 -3.1 .3 30.6 .4 -48.4 .3 10.2 .3 -17.5 .4 25.4 .3 2.3 .3 -11.2 .4 -21.5 .3 -11.7 .4 15.6 .3 29.2 .3 -24.9 .4 14.2 .3 8.5 .3 -27.1 .4 43.8 .3 -37.9 .4 -4.8 .3 33.9 .3 -42.5 .4 39.5 .3 -17.4 .4 -6.5 .3 1.1 .3 -28.5 .4 59.7 .3 -49 .3 12 .4 40.9 .3 -11.9 .4 -19.4 .3 6.1 .3 5.3 .4 -3.7 .3 -4.4 .3 -2.9 .4 -30.7 .3 41.9 .4 1.8 .3 -19.6 .3 23.9 .4 1.6 .3 -27.9 .4 -6.1 .3 9 .3 11 .4 -39.2 .3 69.6 .3 -12.5 .4 -35.2 .3 28 .4 -21.3 .3 41.2 .3 -55.1 .4 41.4 .3 15.2 .3 -25.3 .4 23.6 .3 -17.9 .4 -26.2 .3 2.6 .3 23.9 .4 11.5 .3 -20.9 .4 -.5 .3 -26.3 .3 38.5 .4 -12 .3 14.1 .3 -1.5 .4 10.8 .3 -41.8 .4 -4.7 .3 11.7 .3 9.6 .4 20.6 .3 -1.7 .3 -39 .4 38.7 .3 -30.6 .4 -24.9 .3 3.1 .3 7.4 .4 13.2 .3 -11.6 .4 42.7 .3 -12.5 .3 -6.5 .4 .1 .3 4 .3 -2.8 .4 -22.4 .3 8.6 .4 -10.3 .3 8.9 .3 6.1 .4 -16.2 .3 26.2 .3 -7.4 .4 4 .3 -4.1 .4 14.2 .3 -6.2 .3 -12.4 .4 27.8 .3 -21.7 .4 -.5 .3 -19.2 .3 36.5 .4 -14.2 .3 20 .3 -4.9 .4 .5 .3 -27.2 .4 -19.3 .3 17.5 .3 -8 .4 18.8 .3 .9 .3 -21.1 .4 12.8 .3 15.7 .4 24.7 .3 -45.5 .3 -3.1 .4 1.5 .3 -5.8 .4 12.3 .3 -5.9 .3 -2.6 .4 42.5 .3 -45.2 .3 31.3 .4 -17.3 .3 7.1 .4 -17.3 .3 -17.1 .3 33.9 .4 24 .3 -51.6 .3 23.6 .4 -15.9 .3 24.2 .4 17.1 .3 -14.3 .3 -9.4 .4 9 .3 -6.1 .4 8.3 .3 -13.8 .3 23.8 .4 13.4 .3 -33.8 .3 -21.9 .4 58.3 .3 -33.2 .4 -27 .3 9.1 .3 12.5 .4 7.1 .3 12.2 .4 14.2 .3 -28.7 .3 24.8 .4 -6.8 .3 -24.4 .3 11.3 .4 8 .3 -23.3 .4 4 .3 15.4 .3 33 .4 -43.7 .3 30.4 .3 -26.7 .4 -18.9 .3 39.5 .4 -60.3 .3 6.6 .3 43 .4 7.4 .3 -21.5 .4 27.4 .3 -22.8 .3 20.8 .4 17.8 .3 -27.4 .3 5.2 .4 3.4 .3 -20.2 .4 38.5 .3 -46.9 .3 -7.8 .4 21 .3 -12.9 .3 25 .4 -4.9 .3 -17.3 .4 18.5 .3 -29.8 .3 35.3 .4 -25.9 .3 -1.4 .4 27.9 .3 -6.2 .3 -27.2 .4 26.8 .3 -26.3 .3 -7.8 .4 26.5 .3 10.9 .4 -19 .3 10.7 .3 31.1 .4 -54.6 .3 25.5 .3 5.5 .4 -4.7 .3 2.9 .4 5.2 .3 1.1 .3 -12.8 .4 -29.5 .3 35.5 .4 -34.8 .3 3.9 .3 11.2 .4 -17 .3 48.8 .3 -23.7 .4 19.7 .3 -22 .4 1.1 .3 38.4 .3 -33.4 .4 22.6 .3 -4.9 .3 -15.6 .4 33.9 .3 -41.4 .4 17.2 .3 -19.2 .3 30.9 .4 -55.8 .3 51 .4 -36.1 .3 33.3 .3 -32.8 .4 51.1 .3 -17.3 .3 -20.1 .4 11.9 .3 -3.9 .4 9.9 .3 -14.5 .3 29.5 .4 -52 .3 34.2 .3 -32 .4 38.1 .3 14.9 .4 -21.8 .3 -7.2 .3 15.8 .4 2.6 .3 7.2 .4 -52.3 .3 43.4 .3 -22.7 .4 -2.3 .3 13.3 .3 -36 .4 46.5 .3 10 .4 -1.5 .3 .8 .3 6.5 .4 -38.8 .3 23.1 .3 -10.3 .4 -10.2 .3 -19.2 .4 24.7 .3 -6.4 .3 3.5 .4 -14.5 .3 1.3 .4 19.3 .3 6.3 .3 -10.8 .4 -23.9 .3 52.6 .3 -48.8 .4 21 .3 13.2 .4 6.2 .3 -25.1 .3 4.5 .4 12.4 .3 -2.4 .3 15.5 .4 -35.5 .3 37.8 .4 -45.7 .3 21.7 .3 -35.3 .4 24.7 .3 15.2 .4 1.1 .3 -10.7 .3 3.3 .4 -8.7 .3 22.3 .3 -18.6 .4 11.8 .3 13.1 .4 -34.4 .3 20 .3 -8.9 .4 42.4 .3 -47.4 .3 28.7 .4 -56.7 .3 8.2 .4 31.8 .3 -3 .3 -6.6 .4 -13 .3 29.2 .4 -13.4 .3 -.1 .3 -1.1 .4 16.9 .3 5.1 .3 -37.1 .4 0 .3 39.4 .4 -14.5 .3 -.2 .3 -20.6 .4 20.1 .3 -6.8 .3 -10 .4 34.5 .3 -19.5 .4 -18.7 .3 4.8 .3 1.1 .4 -11.9 .3 40.9 .4 1.3 .3 2.6 .3 -44.5 .4 5.5 .3 30.4 .3 -49.7 .4 64.3 .3 -21.9 .4 -29.8 .3 38.2 .3 -7 .4 23.7 .3 -8.6 .3 -29.3 .4 4.6 .3 -20 .4 41.8 .3 -21.8 .3 -5.3 .4 -11.4 .3 -3.2 .4 15.8 .3 18.8 .3 4.7 .4 -51.3 .3 51.9 .3 -14 .4 -16 .3 32.2 .4 -17.9 .3 -26 .3 -1.4 .4 16.1 .3 9.1 .3 18.8 .4 -18.3 .3 -10.8 .4 -3.9 .3 -14.5 .3 -2.3 .4 54.4 .3 -22.8 .4 -.8 .3 3.9 .3 -29 .4 18.9 .3 -20.1 .3 -17.2 .4 18.1 .3 9.6 .4 16.3 .3 -6.5 .3 13.4 .4 6 .3 -35.7 .3 11.8 .4 15 .3 -15.6 .4 -14.2 .3 34.7 .3 4 .4 -22.7 .3 13.4 .4 11.3 .3 -23.9 .3 1.1 .4 -13.6 .3 -6.6 .3 14.7 .4 14.7 .3 8.4 .4 -5.4 .3 -4.9 .3 -2.7 .4 14.5 .3 -2.4 .3 -5.8 .4 -14.2 .3 -5 .4 -27.2 .3 21.8 .3 41 .4 -40.6 .3 -2.9 .4 18.7 .3 5.7 .3 -8.1 .4 -32.7 .3 52.1 .3 -30.6 .4 -.8 .3 8.1 .4 32.9 .3 -48.2 .3 15.8 .4 9.8 .3 -11.9 .3 14 .4 -25 .3 31.7 .4 -17.8 .3 -21.7 .3 2.7 .4 20.8 .3 8.4 .4 -5.4 .3 -20.1 .3 21.9 .4 13.3 .3 -8 .3 -30 .4 3.5 .3 -7.1 .4 37.1 .3 -7.5 .3 16.9 .4 -19 .3 4.5 .3 5.3 .4 -11.8 .3 -10.7 .4 -2.4 .3 10.3 .3 6.6 .4 -28.3 .3 33.1 .4 -20.5 .3 -29 .3 38.7 .4 -3.4 .3 -20.5 .3 5.8 .4 45 .3 -32.9 .4 2.1 .3 -19.9 .3 18.7 .4 8.3 .3 9.3 .3 -5.8 .4 -14.5 .3 -5.5 .4 14.3 .3 -3 .3 31.7 .4 -6.6 .3 -15.3 .4 6 .3 -3.7 .3 -9.4 .4 -27.9 .3 23.7 .3 .8 .4 33.4 .3 -7.8 .4 -30.1 .3 4.7 .3 -4.4 .4 -24.7 .3 2.5 .3 47.9 .4 15.7 .3 -62.3 .4 14.1 .3 6.2 .3 -29.3 .4 41.5 .3 -26 .4 38.7 .3 -9.8 .3 -23.4 .4 45 .3 -12.1 .3 -47.5 .4 63.4 .3 -19.5 .4 -13.4 .3 -19.4 .3 15.9 .4 -28 .3 15.5 .3 -11.5 .4 -3.2 .3 55.9 .4 5.7 .3 -17.6 .3 -35.4 .4 10.1 .3 4.8 .4 14.7 .3 7.6 .3 -4.5 .4 9.4 .3 -30.4 .3 9.4 .4 -31.5 .3 50.8 .4 -25 .3 1.8 .3 21.2 .4 -9.8 .3 -13 .3 7.8 .4 -15.4 .3 -15.9 .4 43.8 .3 -3.7 .3 -18.1 .4 -14.2 .3 11.3 .4 .1 .3 -4.6 .3 -1.5 .4 -36.7 .3 40.9 .3 -2.4 .4 7.8 .3 80.9 .4 -54.3 .3 -25 .3 27.1 .4 10.3 .3 -39.4 .3 52.2 .4 -50.9 .3 2.9 .4 30 .3 -25.5 .3 15 .4 -36.3 .3 9.3 .4 14.5 .3 -25.7 .3 -11.4 .4 16 .3 45.9 .3 -3.9 .4 -21.4 .3 24.4 .4 -6.8 .3 -44.8 .3 4.9 .4 20.7 .3 7.4 .3 -20.7 .4 17 .3 -12.2 .4 4.5 .3 -29.1 .3 27.1 .4 -20 .3 56.3 .4 -63 .3 14.9 .3 24.8 .4 -1.1 .3 -12.4 .3 3.7 .4 12.2 .3 -27.9 .4 -.9 .3 5.6 .3 29.7 .4 6.9 .3 -26.2 .3 1.7 .4 1.5 .3 -14.5 .4 -20.4 .3 65.3 .3 -52.8 .4 29.5 .3 -25.4 .4 44.7 .3 -29.2 .3 1.5 .4 -33.3 .3 52.1 .3 -47.9 .4 66.2 .3 -30.5 .4 -14.8 .3 44 .3 -57.3 .4 16.7 .3 -9.6 .3 -5 .4 26.8 .3 -21.4 .4 2.4 .3 2.6 .3 24.6 .4 -10.3 .3 -30.3 .4 43.5 .3 -8.2 .3 -36.5 .4 34.3 .3 -12.2 .3 -.1 .4 34.4 .3 -43.3 .4 40.9 .3 -40.3 .3 5.3 .4 27.2 .3 -13.6 .3 -19.5 .4 8.7 .3 2.4 .4 14 .3 -19.6 .3 19.5 .4 -.1 .3 -.8 .4 10.4 .3 -49 .3 8.7 .4 28 .3 -28.4 .3 45.4 .4 -51.3 .3 9.5 .4 21.4 .3 21.4 .3 -48.1 .4 16.4 .3 -28.1 .3 -10.2 .4 -17.1 .3 -8 .4 -6.4 .3 4.2 .3 4.9 .4 8.4 .3 40.4 .4 -27.6 .3 62.8 .3 -22 .4 -.3 .3 17.4 .3 -30.9 .4 3.6 .3 9.4 .4 -2.8 .3 24.9 .3 -30.4 .4 7.2 .3 43 .3 -66 .4 39.1 .3 -10.3 .4 12.7 .3 -2.9 .3 -19.8 .4 4.5 .3 -11.5 .4 14.6 .3 -17.2 .3 1.1 .4 12.1 .3 29.2 .3 -41.3 .4 43.4 .3 -51.6 .4 1.9 .3 24.5 .3 15.4 .4 -20.7 .3 7.9 .3 -.4 .4 -2.2 .3 -4.5 .4 7.3 .3 -30.1 .3 31.6 .4 19.7 .3 -32.6 .4 22.2 .3 -34.3 .3 29.5 .4 5.1 .3 7.2 .3 -34.3 .4 -15.2 .3 15 .4 10 .3 11.5 .3 0 .4 -41.1 .3 29.4 .3 -28.2 .4 43.4 .3 1.8 .4 -4.4 .3 -27.3 .3 -8.8 .4 20.5 .3 6.4 .4 -3.5 .3 10.7 .3 -19.3 .4 21.1 .3 14.5 .3 -43.4 .4 24.8 .3 -25.6 .4 41.7 .3 -35.6 .3 6 .4 41.8 .3 -20.3 .3 19.4 .4 -45.5 .3 -13.6 .4 -7.7 .3 2.5 .3 29.3 .4 -7.7 .3 -.4 .4 -1 .3 14.8 .3 18.7 .4 -2.2 .3 -26.7 .3 28.1 .4 -20.8 .3 -13 .4 -1.9 .3 21 .3 -27.9 .4 24 .3 -23.4 .3 17 .4 3 .3 -3.1 .4 8.4 .3 .7 .3 -28.6 .4 2 .3 6.4 .4 -29.5 .3 9.6 .3 29.4 .4 .9 .3 -28.3 .3 38 .4 -28.4 .3 11.3 .4 12.9 .3 -22.4 .3 31.7 .4 -37.8 .3 -3.2 .3 23.8 .4 1.7 .3 -10 .4 18.8 .3 -1.1 .3 -7.4 .4 -44.4 .3 14.6 .4 16.9 .3 -11.3 .3 -4.7 .4 22 .3 -5.2 .3 5.8 .4 -17.2 .3 1.7 .4 -3.5 .3 -7 .3 -2.4 .4 18.8 .3 -3.8 .3 -24.4 .4 15.5 .3 -.8 .4 -14.2 .3 -10.8 .3 29.1 .4 -8.1 .3 -6.7 .4 1.3 .3 -.1 .3 -2.1 .4 -10.1 .3 7.9 .3 -14.2 .4 -7.1 .3 6.1 .4 3.2 .3 -16.4 .3 6.7 .4 5.1 .3 -.6 .3 -4.4 .4 -9.9 .3 .7 .4 6.2 .3 -13.1 .3 -3.1 .4 4.7 .3 2.9 .4 -5.3 .3 -1.9 .3 1.1 .4 -5.5 .3 11.4 .3 -8.8 .4 10.6 .3 -11.6 .4 2.9 .3 -5.7 .3 2.5 .4 11.4 .3 -5.2 .3 1.3 .4 -.8 .3 1.9 .4 -6.6 .3 5.8 .3 1.5 .4 -4.9 .3 11.7 .4 -9.3 .3 2.3 .3 10.1 .4 4.7 .3 -.6 .3 2.2 .4 -7.5 .3 7.8 .4 5.9 .3 -5.5 .3 12.8 .4 -16 .3 5.6 .3 1.8 .4 14.6 .3 6.6 .4 2.6 .3 -11.1 .3 -3.9 .4 9.3 .3 5.5 .4 -11.7 .3 -7 .3 19.4 .4 10.7 .3 -12.9 .3 9.2 .4 -9.4 .3 -.1 .4 12.1 .3 -24 .3 2.1 .4 34.7 .3 -29.3 .3 35.3 .4 -9.4 .3 .1 .4 -26.4 .3 47.6 .3 -27.6 .4 -5.8 .3 -20 .4 4.9 .3 15.9 .3 29.8 .4 -31.6 .3 -12.8 .3 1.9 .4 5.5 .3 43.5 .4 -4.7 .3 -25.6 .3 4.1 .4 3.2 .3 -40.2 .3 67.8 .4 -6.3 .3 -32.7 .4 39.5 .3 -20.8 .3 -29 .4 28.3 .3 10.2 .4 -16.1 .3 2.4 .3 -3.3 .4 7.8 .3 3.2 .3 16.6 .4 -5.3 .3 -16.9 .4 4.2 .3 7.8 .3 -7.8 .4 -9.6 .3 17.3 .3 -16.7 .4 12.4 .3 -1.2 .4 22.3 .3 -34.3 .3 -20.3 .4 44.8 .3 -33.8 .4 22.7 .3 6.5 .3 -37.5 .4 -1.2 .3 9.3 .3 49.3 .4 -24.4 .3 -1.5 .4 -6.8 .3 -32.5 .3 37.5 .4 4 .3 4.3 .3 -24.3 .4 40.5 .3 -17.8 .4 -44.7 .3 34.1 .3 2.2 .4 -.8 .3 -27.1 .4 23.9 .3 -6.1 .3 -25.2 .4 47 .3 5.9 .3 -27.5 .4 -10.2 .3 -15.5 .4 47.8 .3 -5.1 .3 17.7 .4 -9.7 .3 -47.1 .3 51.5 .4 -20 .3 4.7 .4 -23.8 .3 27.8 .3 -62.4 .4 81.1 .3 -61.4 .4 -8.8 .3 23.9 .3 -2.4 .4 21 .3 -34.2 .3 18.2 .4 -10.5 .3 .8 .4 8.7 .3 -15.8 .3 15.2 .4 48.2 .3 -43 .3 -25.9 .4 34.5 .3 13.5 .4 -12.1 .3 26.3 .3 -42.6 .4 -3.8 .3 5.1 .4 12.5 .3 -22.4 .3 16.7 .4 21.2 .3 -29.9 .3 29.4 .4 -9.2 .3 4.5 .4 -14 .3 42.9 .3 -69.5 .4 33.3 .3 -22.2 .3 34.5 .4 -31.8 .3 46.5 .4 -47.9 .3 19.2 .3 -27.4 .4 1.1 .3 24.7 .4 -16.9 .3 8.1 .3 31.5 .4 1.5 .3 5.7 .3 -21.6 .4 2 .3 -15.6 .4 16.8 .3 14.6 .3 -28.4 .4 -20.1 .3 -.1 .3 17.7 .4 -1.9 .3 10 .4 -0 .3 -10.3 .3 -3.8 .4 2.3 .3 16.7 .4 -2.1 .3 -32.8 .3 15.2 .4 35.4 .3 -42.8 .3 9.3 .4 -13.2 .3 53.2 .4 -39.1 .3 -2.7 .3 -24.5 .4 49.1 .3 21.5 .3 -56.9 .4 31.8 .3 -25.1 .4 1.4 .3 -42.4 .3 37.1 .4 33.8 .3 -15.7 .4 33.7 .3 -22.7 .3 -39.4 .4 27.8 .3 14.6 .3 -48.4 .4 23.4 .3 16.7 .4 -9 .3 35.9 .3 -3.2 .4 -12.2 .3 -9.5 .3 .7 .4 6.3 .3 -27.8 .4 27.6 .3 -16.4 .3 16.3 .4 -33 .3 19.3 .4 -15.2 .3 42 .3 -28.4 .4 -33.8 .3 29.3 .3 2.7 .4 22.7 .3 -18.8 .4 -5.1 .3 9.5 .3 -19.3 .4 36.2 .3 -47.6 .3 32.2 .4 -38.7 .3 62.4 .4 -39.6 .3 -23.2 .3 17.5 .4 1.7 .3 -2 .4 41.8 .3 .2 .3 -30.7 .4 2.7 .3 4.4 .3 -7.5 .4 -32.7 .3 39.3 .4 8.5 .3 -6.6 .3 -31.2 .4 6 .3 45.3 .3 -30.1 .4 9.7 .3 -23.2 .4 12.5 .3 17 .3 14.7 .4 -8.2 .3 -44 .4 22.2 .3 18.1 .3 2 .4 -54.8 .3 45.6 .3 -10.4 .4 8.2 .3 -13.5 .4 33.7 .3 -52.4 .3 24.2 .4 -33 .3 53.4 .4 -13 .3 -2.5 .3 -3.5 .4 -22.7 .3 13.6 .3 10.9 .4 -13.5 .3 -14.1 .4 2.6 .3 19.3 .3 23.5 .4 -51 .3 16.2 .3 24.2 .4 24.8 .3 -53.1 .4 25 .3 -12.4 .3 -19.4 .4 2.3 .3 23.6 .4 25.3 .3 -44.8 .3 12.7 .4 -4.4 .3 31.1 .3 -29 .4 .3 .3 7.7 .4 -17.1 .3 9.5 .3 15.1 .4 -.8 .3 -20.2 .3 21.5 .4 28.8 .3 -5.2 .4 -16.6 .3 -31 .3 -12.6 .4 28.8 .3 -30.8 .4 2.1 .3 35.8 .3 -6.3 .4 -8.6 .3 -18.9 .3 38.5 .4 -26 .3 17.8 .4 -4.2 .3 21.6 .3 -49.1 .4 27.5 .3 -15.7 .3 -23.5 .4 56.2 .3 -21.2 .4 30.4 .3 -3.2 .3 -34.7 .4 17.8 .3 1.7 .4 5.7 .3 20.5 .3 -46.7 .4 9.1 .3 -16.2 .3 19.5 .4 -3.6 .3 22.1 .4 -26.3 .3 18.5 .3 -13.9 .4 -17.3 .3 35.1 .3 -37.6 .4 27.4 .3 18.2 .4 -29.8 .3 35.5 .3 -10.1 .4 -36 .3 16 .4 -18.9 .3 56.3 .3 -58 .4 8.8 .3 6.6 .3 -2.9 .4 25.7 .3 -21 .4 -11.1 .3 37.5 .3 -34.6 .4 -3 .3 37.9 .3 -50.4 .4 1.3 .3 9.1 .4 13.5 .3 12.5 .3 -28 .4 -11.2 .3 37.7 .4 9.4 .3 -14.3 .3 20.9 .4 -56 .3 14.9 .3 2.7 .4 26.3 .3 -34.1 .4 31.2 .3 -13.6 .3 -3.5 .4 8.4 .3 17.5 .3 -16.3 .4 -3.5 .3 2.3 .4 1.1 .3 -37 .3 48.4 .4 13.7 .3 -45 .4 -11.7 .3 25 .3 21.1 .4 -12.2 .3 6.8 .3 -2.7 .4 -28.2 .3 29.2 .4 -8.9 .3 14.6 .3 -25.8 .4 -.9 .3 18.3 .3 -.6 .4 -3.7 .3 1.2 .4 -7 .3 -39.3 .3 60.6 .4 8.6 .3 -19.6 .4 -13.3 .3 0 .3 7.9 .4 3.6 .3 -10.4 .3 -7.9 .4 29.6 .3 -38 .4 -5.9 .3 74.9 .3 -64.2 .4 -3.6 .3 45.9 .3 -40.9 .4 -12.6 .3 9.7 .4 5.4 .3 25.4 .3 -11.1 .4 7 .3 6.3 .4 -18 .3 -7.6 .3 12.4 .4 4.8 .3 -6.5 .3 -30.2 .4 21.6 .3 -2.6 .4 11.2 .3 -14.5 .3 2.6 .4 -4.3 .3 16.8 .3 -4.7 .4 -3.5 .3 13.9 .4 -11.3 .3 .4 .3 -3.6 .4 -27.1 .3 22.8 .4 4.2 .3 -12.9 .3 33.4 .4 1 .3 -12.2 .3 -20.5 .4 24 .3 8.2 .4 -13.8 .3 -21.3 .3 -10.2 .4 11.2 .3 -13.1 .3 26.4 .4 -2.4 .3 -1.7 .4 -16.9 .3 30.2 .3 -9.9 .4 6.3 .3 13 .4 -14.9 .3 -22.2 .3 33.3 .4 -18.3 .3 -11.9 .3 3.8 .4 -7.9 .3 13.9 .4 2.3 .3 -5.6 .3 -2.9 .4 1.1 .3 -13.8 .3 33.6 .4 -11.5 .3 -8.3 .4 22.8 .3 5.6 .3 -26.9 .4 1.4 .3 15.8 .4 -9.4 .3 -10 .3 -10.9 .4 18.1 .3 -23.3 .3 10.1 .4 -22 .3 30.5 .4 6.7 .3 -22.9 .3 -.9 .4 -.2 .3 6 .3 -7 .4 25.3 .3 -24.2 .4 30.2 .3 -17.5 .3 10.9 .4 -14 .3 -15.2 .4 26.5 .3 -33.1 .3 13.8 .4 -3.1 .3 6.1 .3 -11.7 .4 -16.7 .3 16.1 .4 -11.6 .3 2.7 .3 -8.8 .4 -15 .3 5.5 .3 -9.4 .4 -.2 .3 1.5 .4 -18.7 .3 6.4 .3 -7.1 .4 -3.5 .3 -5 .4 -6.2 .3 -6 .3 -1.1 .4 -4.9 .3 -3 .3 -3.7 .4 -1.2 .3 -2.3 .4 -2.3 .3 -.1 .3 -4.4 .4 -.9 .3 3.9 .3 -1.1 .4 -.9 .3 1.9 .4 .9 .3 .8 .3 4.6 .4 1 .3 4.8 .4 4.9 .3 .5 .3 -2.5 .4 10.2 .3 4.3 .3 1.5 .4 6.9 .3 .4 .4 5.6 .3 9.8 .3 1.5 .4 1.6 .3 7.2 .3 10.4 .4 6.9 .3 -4.9 .4 14.9 .3 -8.6 .3 12.8 .4 -14.1 .3 15 .4 -7.4 .3 -1.4 .3 8.1 .4 -6.4 .3 22 .3 .7 .4 1.7 .3 -10.2 .4 -8.6 .3 -.6 .3 34 .4 -25.6 .3 16.7 .3 14.4 .4 -13.7 .3 -13.8 .4 17 .3 -3.9 .3 -25.8 .4 23.1 .3 21 .4 -24.8 .3 17 .3 -7.7 .4 -17.1 .3 .8 .3 -.3 .4 -6.4 .3 .6 .4 .9 .3 18.5 .3 -7.1 .4 14.6 .3 -10.3 .3 13.3 .4 -3.2 .3 13.1 .4 -17.3 .3 18.1 .3 -47.1 .4 3.2 .3 -5.3 .4 11 .3 -2 .3 2.6 .4 18.8 .3 12.5 .3 2.5 .4 -25.3 .3 -14.1 .4 2 .3 4.5 .3 27.3 .4 4.6 .3 13.1 .3 -30.6 .4 -19.6 .3 12.1 .4 7.8 .3 14.4 .3 -5.2 .4 -4.6 .3 -6.3 .4 -9.9 .3 -5.5 .3 -10 .4 39.5 .3 -21.3 .3 24.6 .4 .2 .3 -5.5 .4 5.4 .3 -9.5 .3 10.8 .4 -15 .3 -23 .3 18.8 .4 8.3 .3 35.4 .4 -59.2 .3 11.3 .3 11.8 .4 -8.8 .3 35 .4 -34.4 .3 -4.6 .3 .9 .4 18.8 .3 -28.6 .3 -14.8 .4 12.8 .3 12 .4 17 .3 -36.9 .3 39.3 .4 -33.7 .3 -6.5 .3 18.7 .4 -6.8 .3 23.6 .4 3.7 .3 -14 .3 -0 .4 -11 .3 -8.5 .4 21.8 .3 15.3 .3 -38.3 .4 31.1 .3 -5.4 .3 -23.1 .4 -3.5 .3 30.2 .4 4.9 .3 -2.3 .3 -27.1 .4 10.5 .3 -18.6 .3 19.2 .4 -5.3 .3 0 .4 -15 .3 3.9 .3 19 .4 .5 .3 5.7 .4 -18 .3 1.1 .3 -2.4 .4 41.9 .3 -45.7 .3 3 .4 -3.8 .3 9 .4 13.7 .3 -2.2 .3 18.1 .4 -27.3 .3 -8.1 .3 -1.6 .4 12 .3 -14.1 .4 -2 .3 4.2 .3 -12.7 .4 29.8 .3 -30.9 .4 11.3 .3 13.8 .3 -27.2 .4 16.7 .3 22.8 .3 -26.9 .4 -19 .3 8.7 .4 2.4 .3 18.6 .3 -12.6 .4 26.6 .3 -1.1 .3 -19.1 .4 .8 .3 8.9 .4 -.5 .3 -1.2 .3 -3 .4 2.4 .3 -6.7 .4 -15.5 .3 25.6 .3 -27.8 .4 42 .3 -52.7 .3 41.6 .4 -26.2 .3 -6.9 .4 22.2 .3 2.8 .3 -3.6 .4 -22.1 .3 30.5 .3 -14.6 .4 -7.1 .3 21.4 .4 8.1 .3 -39.3"/><path stroke="#f34040" d="M171.0 952.3l.3 .1 .4 .4 .3 1.9 .4 .5 .3 5.3 .3 6.1 .4 -5.3 .3 -12.2 .3 4.7 .4 4 .3 5 .4 -2.5 .3 1.3 .3 -4.8 .4 4.5 .3 -9.7 .3 3.9 .4 4.8 .3 4.8 .4 -7.8 .3 -4.7 .3 3.6 .4 -.6 .3 -.7 .4 6.2 .3 -6.1 .3 2.1 .4 7.9 .3 -2.6 .3 -13.9 .4 11.8 .3 -12.4 .4 14.2 .3 -1.8 .3 3.9 .4 .3 .3 -7.9 .3 7.7 .4 -5.5 .3 -1.6 .4 -1.2 .3 3.9 .3 4.1 .4 3.1 .3 -19 .4 7.7 .3 -9.2 .3 14.1 .4 -4.3 .3 -9.1 .3 12.1 .4 -10.6 .3 7.4 .4 4.2 .3 -8.3 .3 -.4 .4 -.3 .3 14.7 .3 -5.8 .4 -4.5 .3 8.9 .4 -16.5 .3 7.5 .3 -8.3 .4 11.6 .3 2.4 .4 -2.5 .3 5.2 .3 -11.6 .4 1.9 .3 15.9 .3 -14.1 .4 -3.3 .3 8 .4 5.7 .3 -3.7 .3 -5 .4 -2.3 .3 10.8 .3 -16.3 .4 13.1 .3 -.3 .4 -7.8 .3 -.2 .3 1.2 .4 5.6 .3 1.8 .4 -.3 .3 -13.7 .3 16.5 .4 4.3 .3 -6.7 .3 -7.7 .4 11.7 .3 -7.5 .4 -10.9 .3 11.2 .3 8.1 .4 -12.8 .3 .4 .3 12.6 .4 3 .3 -15.4 .4 7.4 .3 -1.8 .3 -4.2 .4 -7.5 .3 3.3 .4 5.5 .3 3.5 .3 10.4 .4 -12.5 .3 5.1 .3 4.8 .4 -9.9 .3 -3.7 .4 4.8 .3 -9.9 .3 22.7 .4 -17.1 .3 -6.8 .3 13 .4 -10.4 .3 14.4 .4 -11.2 .3 17.7 .3 -2.1 .4 -16.1 .3 4.5 .4 2.2 .3 6.8 .3 -15.6 .4 8.5 .3 7.6 .3 .9 .4 -1.6 .3 4.1 .4 -16.1 .3 7.2 .3 1.9 .4 -8.9 .3 14.7 .3 -9.8 .4 -1.6 .3 -.3 .4 12 .3 -12.1 .3 10.8 .4 -4.9 .3 5.2 .4 -12.4 .3 8.6 .3 3.6 .4 -10.3 .3 14.7 .3 -12.8 .4 -7.8 .3 6.1 .4 2 .3 -.8 .3 6.4 .4 -5.2 .3 -1.8 .3 4.2 .4 -7.9 .3 -5.2 .4 14.7 .3 4.8 .3 4.5 .4 -16.3 .3 9.3 .4 2.2 .3 -10 .3 3 .4 5.7 .3 -.4 .3 2.1 .4 -.8 .3 -12.7 .4 9.4 .3 2.2 .3 -11.6 .4 6.9 .3 3.2 .3 3.5 .4 -13.6 .3 13.1 .4 -5.1 .3 -4.4 .3 31.4 .4 -24.3 .3 6 .4 -13.8 .3 4.6 .3 3.6 .4 1.3 .3 -9.6 .3 13.1 .4 -10.9 .3 15.3 .4 -8.8 .3 -2.4 .3 -3 .4 -7.1 .3 21.1 .3 -4.9 .4 -12.3 .3 10.2 .4 3.7 .3 -21.7 .3 11.3 .4 1.2 .3 5.5 .4 3.3 .3 -5.8 .3 1.7 .4 -12.3 .3 -1.4 .3 18.7 .4 -21.5 .3 21.4 .4 -16.3 .3 17.3 .3 -.2 .4 -11.9 .3 17.3 .3 -17.1 .4 2.4 .3 -6.8 .4 5.5 .3 7 .3 -12.9 .4 6.1 .3 4.6 .4 -.4 .3 3.3 .3 -4.9 .4 1.3 .3 -5.5 .3 -4.2 .4 15.2 .3 -17.2 .4 13.7 .3 -.4 .3 -9.2 .4 15.3 .3 -4.7 .3 -12 .4 1.3 .3 10.6 .4 -3.5 .3 -12.4 .3 12 .4 10 .3 -5 .4 -13 .3 9.2 .3 5.2 .4 -3.7 .3 -9 .3 8.5 .4 1.1 .3 .6 .4 -6.4 .3 -8.1 .3 6.8 .4 -4.3 .3 3.4 .3 21.3 .4 -22.6 .3 -.6 .4 4.1 .3 4.6 .3 6.9 .4 -.4 .3 -4.8 .4 -2.3 .3 -5.8 .3 13.9 .4 .5 .3 -5.3 .3 2.7 .4 1.7 .3 13.1 .4 -16.5 .3 -0 .3 7.3 .4 -20.2 .3 8.4 .3 3.7 .4 4.4 .3 2.8 .4 .3 .3 -20.9 .3 10.5 .4 9.8 .3 -7.4 .4 -2.3 .3 -0 .3 -11.4 .4 17.2 .3 -14.3 .3 2.7 .4 5.4 .3 8.9 .4 -4.2 .3 -3.6 .3 7.3 .4 2.2 .3 -18.5 .3 18.3 .4 1 .3 -3.2 .4 -9.1 .3 -5.5 .3 14.9 .4 -11.3 .3 -2.7 .4 5.1 .3 12.8 .3 1.3 .4 -20.7 .3 9.1 .3 2.2 .4 -4.5 .3 8.7 .4 -11.2 .3 9.1 .3 -.1 .4 -20.4 .3 5.8 .3 3.5 .4 .4 .3 15.2 .4 -18.9 .3 -3.2 .3 5.9 .4 -11.6 .3 4 .4 -7.7 .3 12.4 .3 -5.4 .4 6.4 .3 -5.1 .3 13.7 .4 -2.5 .3 -6.3 .4 -1.6 .3 11.4 .3 -8.4 .4 10.5 .3 -2.4 .3 -3 .4 6.1 .3 2.7 .4 -7.2 .3 7.5 .3 .6 .4 -2.9 .3 9.1 .4 -15.9 .3 -.8 .3 5.3 .4 .4 .3 11.8 .3 3.4 .4 -12.3 .3 3.2 .4 5.8 .3 -7.8 .3 -14.7 .4 24.9 .3 -12.2 .3 -2.6 .4 -1.7 .3 10.4 .4 .8 .3 4.2 .3 -15.1 .4 4.3 .3 16.9 .4 -2.1 .3 -3.5 .3 -17.8 .4 7.5 .3 7.1 .3 -1.7 .4 7.6 .3 -16.2 .4 9.1 .3 -2.7 .3 3.9 .4 -1.5 .3 .6 .3 -.9 .4 -3.2 .3 5.2 .4 7.7 .3 -12.1 .3 -1.4 .4 -2.1 .3 7.9 .4 -9.7 .3 .3 .3 5.3 .4 -4 .3 -1.2 .3 15.4 .4 -11.5 .3 -8.7 .4 17.6 .3 -6.6 .3 2.8 .4 5.5 .3 -7.1 .3 -2.1 .4 -5.6 .3 4.1 .4 -1.2 .3 7.4 .3 -13.3 .4 6.4 .3 5.4 .4 -1.7 .3 2.5 .3 -5.7 .4 11.3 .3 -24.8 .3 19.7 .4 -3.5 .3 9.3 .4 -4.1 .3 7 .3 -4.9 .4 7.2 .3 -18.5 .3 -1.4 .4 12.7 .3 -6.5 .4 -15.2 .3 10.5 .3 .4 .4 8.3 .3 -.8 .4 -16.6 .3 25.8 .3 -4.4 .4 -13.6 .3 1.3 .3 10.9 .4 -15.3 .3 16.2 .4 1.3 .3 -10.1 .3 5 .4 -13.5 .3 11.1 .3 10.3 .4 -1.8 .3 -24.6 .4 15.2 .3 -5.2 .3 8.6 .4 2.3 .3 1.1 .4 -11.9 .3 7.8 .3 9.4 .4 -8.3 .3 1.7 .3 10.5 .4 -10.6 .3 7 .4 -4 .3 -2.2 .3 -6.7 .4 -.4 .3 3.9 .3 8.1 .4 1.5 .3 -22.1 .4 11.8 .3 5.4 .3 -9.7 .4 -6.2 .3 10.8 .4 7.5 .3 -5.8 .3 -8 .4 9 .3 -4.2 .3 -3.5 .4 11.5 .3 2.4 .4 -16.3 .3 8.6 .3 -12 .4 5.2 .3 18.1 .3 -18.4 .4 4 .3 3.1 .4 -7.2 .3 7.4 .3 -4.5 .4 2.7 .3 -2.7 .4 -5.8 .3 3.2 .3 14.2 .4 -6.5 .3 11.4 .3 -10.1 .4 -11.7 .3 8.7 .4 -5.8 .3 13.1 .3 -15.2 .4 5.4 .3 11.6 .4 -13 .3 13.1 .3 -9.1 .4 4.6 .3 -10.4 .3 10.6 .4 -8.6 .3 -2.1 .4 8 .3 4.3 .3 -13.5 .4 -3.5 .3 18 .3 2.1 .4 -.7 .3 -15.6 .4 3.3 .3 11 .3 -14.3 .4 3.9 .3 9.3 .4 4.9 .3 -15.1 .3 -5.2 .4 5.7 .3 -1.3 .3 -1.1 .4 14.9 .3 -2 .4 -4 .3 -5.4 .3 3.7 .4 19.4 .3 -21.4 .3 .3 .4 -8.2 .3 10.4 .4 -.6 .3 -4 .3 1.7 .4 -5.4 .3 16.2 .4 -16.6 .3 6 .3 5.4 .4 -6.6 .3 -3.3 .3 9.7 .4 -.9 .3 -7.8 .4 .3 .3 -5.4 .3 12.1 .4 -6.2 .3 -3 .3 2.3 .4 5.7 .3 -4.3 .4 23.8 .3 -10.4 .3 -14 .4 2.9 .3 -6.7 .4 10.3 .3 -3.1 .3 -6 .4 3.7 .3 -1.7 .3 -6.4 .4 6.1 .3 -.7 .4 -2.5 .3 18.7 .3 -12.1 .4 13.3 .3 -16.1 .3 22.3 .4 -29.9 .3 19.6 .4 -4 .3 4 .3 -9.9 .4 -1.5 .3 7.2 .4 -4.3 .3 4.2 .3 6.4 .4 -12.8 .3 7.8 .3 -11.4 .4 8.3 .3 -7.8 .4 12.7 .3 -13.7 .3 8 .4 11.4 .3 -19.4 .3 6.4 .4 9.7 .3 3.4 .4 -12.6 .3 11.9 .3 6.1 .4 -35.7 .3 19.4 .4 2.8 .3 -5.7 .3 -.5 .4 10 .3 -11.4 .3 11.7 .4 -1.5 .3 6.2 .4 -7.4 .3 -19.2 .3 17.1 .4 10.2 .3 2.8 .3 -3.5 .4 -6.5 .3 .2 .4 -7.9 .3 3.1 .3 12.5 .4 -5.7 .3 -15.7 .4 1.6 .3 1 .3 -.4 .4 -6.6 .3 1 .3 12.6 .4 7.4 .3 -17.2 .4 14.1 .3 -3.1 .3 12.6 .4 -3 .3 -17.8 .3 -1.8 .4 6.8 .3 -.1 .4 -.6 .3 1.8 .3 -6.6 .4 6 .3 9.4 .4 1.5 .3 .5 .3 -15 .4 10.4 .3 8.1 .3 -12 .4 16.2 .3 -9.1 .4 -2.9 .3 -8.9 .3 -7 .4 33.8 .3 -28.6 .3 16.8 .4 -1.4 .3 -19.5 .4 10 .3 3.5 .3 -.5 .4 -9.9 .3 -.3 .4 9.9 .3 14.3 .3 -23.8 .4 12.4 .3 -12.9 .3 11 .4 -1.6 .3 -12.4 .4 21.4 .3 -21.7 .3 13.3 .4 -9.8 .3 1.9 .3 1.3 .4 20.5 .3 -1.4 .4 -2.6 .3 -.6 .3 -11 .4 -.9 .3 -7 .4 17.1 .3 -4.7 .3 4.5 .4 -16.1 .3 4.3 .3 -2.1 .4 8.6 .3 -3.3 .4 5.4 .3 -12.5 .3 24.2 .4 -10.7 .3 -8.7 .3 14.7 .4 -1.9 .3 -14.2 .4 .4 .3 11.8 .3 -10.6 .4 -5.4 .3 -5.5 .4 5.4 .3 4.5 .3 7.4 .4 7.9 .3 -17.2 .3 15.3 .4 -4.8 .3 4.2 .4 5.9 .3 -15.6 .3 11.2 .4 -5.6 .3 7.4 .3 -10 .4 -4.1 .3 -7.1 .4 20.1 .3 -1.4 .3 -11 .4 -.7 .3 6.2 .4 7.2 .3 7.9 .3 -2.6 .4 5.8 .3 -32.7 .3 12.2 .4 4.4 .3 -2.2 .4 -5 .3 -1.4 .3 11.8 .4 15.7 .3 -20.8 .3 10.2 .4 -5.8 .3 6.3 .4 -16 .3 -7.1 .3 13.3 .4 -1.4 .3 -5.8 .4 17.9 .3 -18.9 .3 4.8 .4 8.5 .3 1.3 .3 -8 .4 2.7 .3 -5.2 .4 -2.7 .3 2.6 .3 -4.3 .4 6.1 .3 14.6 .3 .2 .4 -23.2 .3 20.9 .4 5.5 .3 -3.2 .3 -14.8 .4 -10 .3 13.6 .4 -.5 .3 13 .3 -8.5 .4 11.8 .3 -19.3 .3 28.6 .4 -27.7 .3 -2.6 .4 5.5 .3 -6.6 .3 -2.7 .4 7.9 .3 -2.1 .3 1.1 .4 -1.6 .3 16.6 .4 -14.2 .3 16.9 .3 -18.8 .4 13.6 .3 -1.3 .4 6.6 .3 -9.5 .3 -3.5 .4 16 .3 1.8 .3 -18.2 .4 10.2 .3 -3.6 .4 7.3 .3 -5.1 .3 -5.9 .4 5.7 .3 -18.4 .3 31.7 .4 -5.8 .3 -7 .4 -1.2 .3 -14.3 .3 -.8 .4 12.2 .3 -2 .4 7.3 .3 -1.3 .3 2.9 .4 -18 .3 .4 .3 2.3 .4 15.9 .3 -7.8 .4 -3.1 .3 24.5 .3 -11.1 .4 1.2 .3 -11 .3 7.3 .4 -10.5 .3 12.3 .4 -8.9 .3 5.8 .3 .3 .4 -8.7 .3 -6.7 .4 11 .3 -8.1 .3 -2.6 .4 7.3 .3 14.8 .3 -29.5 .4 14.7 .3 9.8 .4 -7.6 .3 -9.9 .3 20.2 .4 -6.2 .3 9.3 .3 -24.6 .4 20.9 .3 1.5 .4 -3.2 .3 -20.3 .3 14.5 .4 12 .3 -11.4 .4 -17.5 .3 16.4 .3 -9.6 .4 -2.2 .3 8.2 .3 -9 .4 -5.5 .3 26.3 .4 -9.9 .3 -6.2 .3 15.9 .4 1 .3 -1.2 .3 7.9 .4 -7.3 .3 -22.2 .4 22.5 .3 -9.9 .3 -3.5 .4 4.3 .3 -3.5 .4 25.9 .3 -16.3 .3 -14.1 .4 26.8 .3 -14.7 .3 7.2 .4 -.9 .3 -17 .4 5.9 .3 8.7 .3 5.7 .4 -8.2 .3 -5 .3 -5.4 .4 21.4 .3 -21.5 .4 -4.9 .3 16.4 .3 .6 .4 -1.8 .3 12.2 .4 -30.4 .3 3 .3 20.4 .4 -1.7 .3 3.5 .3 -1.7 .4 -3.7 .3 9 .4 -13.6 .3 10 .3 -10 .4 -7.8 .3 -5.2 .3 2.1 .4 -.7 .3 8.9 .4 13.9 .3 -14.6 .3 -5.8 .4 4.5 .3 14.8 .4 -7.6 .3 3.9 .3 13.5 .4 -31.7 .3 19.3 .3 9.2 .4 -19.2 .3 24.4 .4 -4.6 .3 5.1 .3 -37.8 .4 7.3 .3 7.6 .3 19.9 .4 -35.7 .3 9.8 .4 14.6 .3 6.7 .3 -7 .4 -6.3 .3 -2.8 .4 16.8 .3 -13.6 .3 11.9 .4 -15.2 .3 5.1 .3 -9.9 .4 13.5 .3 -14.4 .4 5 .3 14.6 .3 4.7 .4 -21.4 .3 -2.5 .3 6.2 .4 -11.6 .3 38 .4 -14.7 .3 -15.7 .3 -11.8 .4 8.2 .3 8.8 .4 -1.7 .3 3.2 .3 -6 .4 -5.5 .3 43.1 .3 -42 .4 22.3 .3 10.8 .4 -29.4 .3 5.9 .3 15.9 .4 -7.1 .3 -3.4 .3 10.9 .4 -14.6 .3 -.7 .4 -2.6 .3 3.8 .3 8 .4 -2.8 .3 -10.5 .4 11.9 .3 -3.9 .3 21.8 .4 -15.4 .3 -9.5 .3 9.7 .4 -14.9 .3 12.5 .4 -6.4 .3 10.1 .3 -21.8 .4 29 .3 -21.7 .3 7.1 .4 12.6 .3 -27.6 .4 25.9 .3 1.5 .3 -10.7 .4 5.7 .3 -.4 .4 -25.7 .3 25.6 .3 -13.7 .4 -4 .3 -1.9 .3 14 .4 -18.4 .3 24.8 .4 14.6 .3 -34.1 .3 14.4 .4 -3.7 .3 -1.1 .3 2.3 .4 1.2 .3 -11 .4 10 .3 -12.8 .3 11.1 .4 12.8 .3 -7.1 .4 7.3 .3 -.8 .3 -.8 .4 -27.1 .3 32.4 .3 -24.6 .4 .2 .3 1.5 .4 13.1 .3 5.4 .3 -1.8 .4 -13.6 .3 -12.1 .3 12.2 .4 -3.5 .3 .5 .4 3.3 .3 -3.3 .3 30.7 .4 -24 .3 -8 .4 -4.9 .3 10.5 .3 15.9 .4 2.8 .3 -22.2 .3 11 .4 -4.8 .3 6.5 .4 6 .3 -9.6 .3 -.8 .4 -2.4 .3 -9.6 .3 18.3 .4 -20.9 .3 26.3 .4 -23.9 .3 .1 .3 22.9 .4 -20 .3 -.5 .4 18.2 .3 -.2 .3 -20.2 .4 18.2 .3 .2 .3 -9.4 .4 3.6 .3 13.8 .4 -10.2 .3 2.6 .3 10.9 .4 -10.6 .3 7 .3 -13.7 .4 15.3 .3 -6 .4 6.8 .3 -28.8 .3 12.7 .4 -0 .3 11.2 .4 -7.4 .3 1.1 .3 -13.7 .4 -7.4 .3 11 .3 -7.5 .4 23.2 .3 -2.1 .4 -9 .3 4.6 .3 -1.2 .4 -2.6 .3 -15.7 .3 13.1 .4 4.9 .3 -6.7 .4 -3.1 .3 -.4 .3 13.5 .4 -6.8 .3 -13.3 .4 30.8 .3 -6.2 .3 3.4 .4 -12.8 .3 -3.6 .3 21.6 .4 -11.9 .3 -16.5 .4 22.3 .3 -16.8 .3 14.9 .4 -4.9 .3 -9.5 .3 3.7 .4 24 .3 -23.1 .4 12.1 .3 -21.9 .3 14.9 .4 2.2 .3 -5 .4 -13.1 .3 21.4 .3 -19.9 .4 7.3 .3 11 .3 9 .4 -5.6 .3 -8.9 .4 2.2 .3 -7.9 .3 17.9 .4 -16.7 .3 16.7 .3 .6 .4 -8.6 .3 -7.6 .4 7.9 .3 6.5 .3 -19.9 .4 4.6 .3 24.7 .4 -18 .3 4.2 .3 -1 .4 -19.5 .3 17.4 .3 5.1 .4 -8.4 .3 -11.3 .4 4.9 .3 -3.6 .3 8.8 .4 11.1 .3 4.9 .3 5 .4 -27.7 .3 -4.4 .4 18 .3 -4.1 .3 -4.4 .4 10.9 .3 -23.6 .4 13.1 .3 .3 .3 -11 .4 2.7 .3 17.2 .3 -8.6 .4 5.8 .3 -0 .4 -4.1 .3 -3.7 .3 14.5 .4 -17.3 .3 5.4 .3 17.8 .4 -25.7 .3 -1.9 .4 4.9 .3 13 .3 -5.5 .4 10.5 .3 -14.5 .4 6 .3 -12.1 .3 22.3 .4 4.4 .3 -9.9 .3 1.2 .4 -16.3 .3 .4 .4 10.9 .3 9.8 .3 -5.3 .4 -19 .3 13.6 .3 .2 .4 1 .3 -18.3 .4 3.4 .3 13 .3 -11.2 .4 27.5 .3 -3.2 .4 -18.1 .3 -2.3 .3 17.2 .4 -7.7 .3 -11.9 .3 12.2 .4 -9 .3 15.5 .4 -24.9 .3 11.7 .3 18.9 .4 -16.4 .3 19.2 .3 -15.6 .4 -9.4 .3 20.8 .4 -13.7 .3 -15.4 .3 14.9 .4 9.3 .3 -13.1 .4 -5.2 .3 4.7 .3 13.1 .4 .2 .3 -6.1 .3 -5.7 .4 -4.9 .3 14.5 .4 12.2 .3 -20.9 .3 -5.6 .4 9.1 .3 6.8 .3 1.7 .4 2.1 .3 -8.5 .4 2.2 .3 1 .3 -2.9 .4 .8 .3 -17.7 .4 24.9 .3 -6.7 .3 -15.9 .4 .6 .3 -.3 .3 23.2 .4 -1.9 .3 -14.8 .4 12.9 .3 -1.8 .3 -3.1 .4 -14.4 .3 1.9 .3 6.2 .4 2.6 .3 20.5 .4 -29.8 .3 26.3 .3 -11.2 .4 -22.6 .3 10.2 .4 52.1 .3 -42.9 .3 .9 .4 -7.5 .3 -8 .3 4.2 .4 2.6 .3 -1.6 .4 29.4 .3 -32 .3 14.2 .4 -.9 .3 -10.9 .3 5.1 .4 12.7 .3 -2.2 .4 -12.5 .3 9.7 .3 -17 .4 1.4 .3 1.9 .4 17.3 .3 -23.4 .3 23.3 .4 -11.1 .3 -9.4 .3 1.8 .4 -5.3 .3 27 .4 -2.3 .3 -14.4 .3 -10.4 .4 29.3 .3 -15.2 .3 13.8 .4 -28.9 .3 18.4 .4 -9.7 .3 7 .3 4.2 .4 -.5 .3 -18.6 .4 34.8 .3 -9.4 .3 -10 .4 -11.1 .3 22.4 .3 -6.2 .4 -2.5 .3 -13.1 .4 21 .3 -10.3 .3 -9.1 .4 12.2 .3 -4.5 .3 18.2 .4 -18.5 .3 15.7 .4 -10.6 .3 2.3 .3 .5 .4 -12.7 .3 25.6 .4 -10.1 .3 -20 .3 .3 .4 -5.5 .3 2.1 .3 16.5 .4 16.3 .3 -19.6 .4 -11.3 .3 26.3 .3 -13.5 .4 1.9 .3 3.5 .3 -21.3 .4 29.4 .3 -19.4 .4 18.6 .3 5.2 .3 -15.6 .4 -4.7 .3 12.5 .4 14.3 .3 -18.4 .3 -3.8 .4 8.4 .3 -21.5 .3 8.2 .4 -3.7 .3 2.8 .4 10.9 .3 -8.3 .3 8.6 .4 -3.1 .3 3.2 .3 -1.4 .4 -11 .3 11.9 .4 3.8 .3 -19.4 .3 18.7 .4 -10.6 .3 10 .4 8.1 .3 -11.5 .3 -9.3 .4 18.1 .3 -12.2 .3 7.3 .4 -15.4 .3 -5.4 .4 32.3 .3 -32.7 .3 20.9 .4 3.8 .3 -23.8 .3 -1.7 .4 13.6 .3 13.4 .4 7.4 .3 -44.2 .3 23 .4 5.1 .3 10.3 .4 3.7 .3 -36.6 .3 17.7 .4 2.3 .3 -15.1 .3 22.5 .4 -21.7 .3 6.2 .4 .3 .3 2.2 .3 -15.8 .4 45.1 .3 -30.9 .3 2.1 .4 8.9 .3 12 .4 -21.6 .3 -12.6 .3 .1 .4 10.9 .3 0 .4 -3.7 .3 2.1 .3 11.5 .4 11.9 .3 -10.7 .3 -6.8 .4 8.6 .3 -.6 .4 16.5 .3 -20.3 .3 1.4 .4 9 .3 -21.6 .3 1.1 .4 3.5 .3 1.6 .4 22.8 .3 -10.4 .3 3.5 .4 1.3 .3 -9.7 .4 -3.1 .3 .4 .3 -6.1 .4 14.3 .3 8.6 .3 -21.1 .4 -14.1 .3 29.4 .4 -7.1 .3 -6.9 .3 33.1 .4 -54 .3 38.9 .3 -34.9 .4 19.9 .3 -17.8 .4 -14.4 .3 39.6 .3 -22.4 .4 5.9 .3 1.1 .4 -18.4 .3 19 .3 19.7 .4 -32.4 .3 -4.6 .3 1.8 .4 -2.1 .3 -2.5 .4 -4.3 .3 7.1 .3 5.2 .4 -18 .3 8.5 .4 -8.2 .3 -12.5 .3 11.1 .4 -14.7 .3 6.7 .3 -3.1 .4 -.5 .3 .8 .4 1.1 .3 1.7 .3 -2.4 .4 -.6 .3 1.5 .3 5.8 .4 -11.4 .3 4.9 .4 2.4 .3 -2.3 .3 1.6 .4 5.2 .3 -6.4 .4 4.1 .3 2.6 .3 6.8 .4 11.2 .3 -1 .3 11 .4 -4.4 .3 -3.2 .4 -1.1 .3 3.6 .3 7.3 .4 -2.1 .3 -13.8 .3 32.7 .4 -28.3 .3 13.4 .4 3.1 .3 11.2 .3 -12.7 .4 -9.4 .3 25.6 .4 -3.7 .3 -8.8 .3 2.7 .4 -23 .3 26.5 .3 -4.9 .4 14.1 .3 -16 .4 -.1 .3 6.5 .3 15.5 .4 -14 .3 5.6 .3 -9.9 .4 4.6 .3 2.7 .4 -7.5 .3 -7.9 .3 27 .4 -10.4 .3 -10.5 .4 10.7 .3 4.9 .3 -18.3 .4 28.7 .3 -26 .3 9.2 .4 -6.7 .3 -43 .4 57 .3 -22.8 .3 -7.4 .4 33.1 .3 -.2 .3 -18.9 .4 9.1 .3 -11.2 .4 14.3 .3 12 .3 -32.4 .4 3.6 .3 14 .4 -24.6 .3 44.3 .3 -23.2 .4 13.7 .3 -7.7 .3 -17.6 .4 -2.1 .3 -.6 .4 29.7 .3 .7 .3 -6.6 .4 1 .3 .4 .3 -5.4 .4 -5.8 .3 13.7 .4 -5.9 .3 -1.4 .3 -8.2 .4 8.1 .3 -31.3 .4 31.6 .3 -2.7 .3 8.8 .4 -2.7 .3 12.5 .3 -42.4 .4 16.5 .3 -4.7 .4 25.6 .3 -12.5 .3 11.1 .4 -26.8 .3 -9.5 .3 23.4 .4 -25.9 .3 12.1 .4 3.6 .3 -2.6 .3 -1 .4 8.7 .3 7.8 .4 -24.5 .3 18 .3 12.1 .4 -24.1 .3 19.8 .3 -2.2 .4 -14.7 .3 24.5 .4 -20.4 .3 1.5 .3 3.1 .4 -17.3 .3 35.5 .3 -16.2 .4 -19 .3 29.5 .4 -37.6 .3 19 .3 20 .4 -15.3 .3 -11.7 .4 11.4 .3 6 .3 1.3 .4 -10.8 .3 -10.6 .3 -4.8 .4 4.7 .3 36.1 .4 -30.9 .3 13.9 .3 -17 .4 4.5 .3 4.9 .3 -23.6 .4 21.2 .3 -22.3 .4 16.2 .3 -9.5 .3 6.5 .4 -14.3 .3 -7.6 .4 -1.7 .3 8.9 .3 -.9 .4 -14.6 .3 5.7 .3 -4.9 .4 -1.7 .3 3.2 .4 -7.2 .3 -.8 .3 3.4 .4 7.2 .3 -9.2 .3 -3.9 .4 2.1 .3 -.1 .4 9.2 .3 -1.5 .3 .4 .4 -1.6 .3 -1.8 .4 8.2 .3 -6.8 .3 16.5 .4 -15.6 .3 17.5 .3 -9 .4 5.8 .3 8.7 .4 -.9 .3 -2.2 .3 16.2 .4 -2.4 .3 12.4 .3 -19 .4 13.2 .3 5.7 .4 3.2 .3 -5.7 .3 -17.1 .4 28.7 .3 -8.3 .4 -9.6 .3 19.7 .3 -11 .4 11.5 .3 -14.5 .3 -5.3 .4 -2.7 .3 12.2 .4 -12.6 .3 -6.6 .3 13.7 .4 18 .3 -23.6 .3 5.1 .4 12.6 .3 -14.5 .4 -11.2 .3 18.1 .3 -17.8 .4 10.2 .3 -2 .4 1.7 .3 -2.8 .3 14.5 .4 -13.3 .3 14.8 .3 4.5 .4 -10.3 .3 2.9 .4 1.9 .3 -13.7 .3 .4 .4 -1.1 .3 -7.1 .3 16.4 .4 -7.9 .3 -11.7 .4 2.6 .3 -8.7 .3 4.2 .4 -2.7 .3 -7.8 .4 1.3 .3 -1.3 .3 -10.6 .4 -6.1 .3 9.6 .3 -6.2 .4 -1.5 .3 6 .4 -10.3 .3 -5.6 .3 6.7 .4 -6.5 .3 2.6 .3 -5.5 .4 .1 .3 -6.3 .4 3.1 .3 1.5 .3 1.6 .4 1.2 .3 2.6 .4 .7 .3 2.1 .3 -1.6 .4 3.5 .3 7.2 .3 -5.8 .4 6.8 .3 -.8 .4 4.7 .3 12.5 .3 -1.4 .4 -10 .3 5.9 .3 -3.9 .4 13.1 .3 8.5 .4 -5.8 .3 10.3 .3 -12 .4 -5.6 .3 17.6 .4 -10.1 .3 2.3 .3 26.7 .4 18.5 .3 -50.2 .3 14.9 .4 -31.5 .3 -30.5 .4 -36.6 .3 -33.4 .3 -22.4 .4 -6.8 .3 7.7 .3 20.9 .4 34.1 .3 38.2 .4 40.3 .3 24.2 .3 -6.9 .4 24.6 .3 -20.2 .4 1.2 .3 -2.9 .3 10.2 .4 -16.4 .3 4.7 .3 28 .4 2.1 .3 -36.6 .4 19.5 .3 -5.9 .3 -2.7 .4 14.8 .3 -20.3 .3 2.9 .4 24.9 .3 -21 .4 12.7 .3 -16.3 .3 .7 .4 28.4 .3 -20.2 .4 -25.1 .3 13.7 .3 35.5 .4 -29.5 .3 -4 .3 16.8 .4 -2.9 .3 -16.9 .4 30.7 .3 -27.5 .3 23.5 .4 -25.7 .3 21.2 .3 8 .4 -13.9 .3 -6.6 .4 11.8 .3 -1.4 .3 -6.5 .4 9.3 .3 -30.2 .4 31.5 .3 -18.1 .3 -.6 .4 -11.8 .3 15.1 .3 -7.1 .4 4.3 .3 16.8 .4 -17.2 .3 1.1 .3 -3 .4 -14.9 .3 21.5 .3 -6 .4 1.2 .3 -5.3 .4 8.4 .3 -6.8 .3 -3.9 .4 9.5 .3 4.3 .4 -13.4 .3 10.2 .3 9.4 .4 -12.9 .3 -3.6 .3 -9.5 .4 22 .3 14.6 .4 -26.8 .3 -11.4 .3 12.8 .4 -.7 .3 5.3 .3 -16.5 .4 8.7 .3 -17.3 .4 24.9 .3 -19.6 .3 -.4 .4 -4.1 .3 -.1 .4 .8 .3 .8 .3 1.5 .4 19.7 .3 -24 .3 .3 .4 11.2 .3 -.4 .4 -10.3 .3 8 .3 -7.4 .4 3.8 .3 2.2 .3 -14.2 .4 -3.5 .3 2.8 .4 6.2 .3 -8.8 .3 .9 .4 -2.3 .3 -1.4 .4 -1.9 .3 5.5 .3 5 .4 -18.6 .3 -3.6 .3 -2.2 .4 -5 .3 -16.2 .4 -16.4 .3 -26.6 .3 -31.5 .4 -33.6 .3 -34.2 .3 -33.3 .4 -32 .3 -29.7 .4 -27.2 .3 -24.5 .3 -21.8 .4 -18.9 .3 -16.1 .4 -13.2 .3 -10.2 .3 -7.3 .4 -4.4 .3 -1.4 .3 1.5 .4 4.5 .3 7.3 .4 10.4 .3 13.2 .3 16.1 .4 19 .3 21.9 .3 24.6 .4 27.3 .3 29.8 .4 31.8 .3 33.8 .3 34.1 .4 33.8 .3 29.9 .4 28.5 .3 14.9 .3 16.4 .4 12.7 .3 -2.2 .3 13.1 .4 -1 .3 2.4 .4 -6.7 .3 .5 .3 4.9 .4 5.3 .3 6 .3 -3.8 .4 3.7 .3 -2.2 .4 1.5 .3 2 .3 -2.4 .4 9.9 .3 -3.1 .4 -3.3 .3 -3.5 .3 9.8 .4 -2.6 .3 -2.9 .3 1.1 .4 6.6 .3 -6.6 .4 .4 .3 6.9 .3 -5.2 .4 4.4 .3 5.2 .3 -12.1 .4 16.6 .3 2.3 .4 -16.1 .3 5.1 .3 8.4 .4 -11.2 .3 -.5 .4 -6.3 .3 18.4 .3 -10.4 .4 1.7 .3 16.8 .3 -14.2 .4 2.5 .3 8.3 .4 -16.4 .3 3 .3 12.9 .4 -4.8 .3 -6.1 .3 1.9 .4 -8.6 .3 -1.2 .4 5.3 .3 -20.2 .3 12.7 .4 -3.5 .3 -11.7 .4 -2.2 .3 -2.9 .3 5.7 .4 -8.4 .3 -3.8 .3 2.9 .4 1.2 .3 -7.1 .4 -7.5 .3 5 .3 -5.1 .4 -7.6 .3 2.4 .3 -.2 .4 -8 .3 1.6 .4 -2.1 .3 -7.4 .3 -1 .4 -.5 .3 -.8 .4 -.6 .3 -2.9 .3 3.4 .4 -.5 .3 -6.1 .3 7.6 .4 -3.1 .3 0 .4 2.8 .3 -.1 .3 2.5 .4 .8 .3 5.7 .3 -2.4 .4 4.2 .3 2.2 .4 7.1 .3 -.7 .3 -1.8 .4 8.9 .3 4.9 .4 2.4 .3 1.6 .3 -7.7 .4 10.9 .3 1 .3 6.4 .4 5.8 .3 -3.2 .4 6.7 .3 1.1 .3 1.3 .4 -1.2 .3 -3.6 .3 4.7 .4 10.8 .3 -2.9 .4 -2.5 .3 -1.7 .3 -2 .4 4.6 .3 -1.9 .4 8.2 .3 -5.3 .3 -6.6 .4 19.8 .3 -29.5 .3 31.6 .4 -15.9 .3 2.1 .4 8.4 .3 -22.3 .3 -.5 .4 .7 .3 -.2 .3 -4.5 .4 -6.9 .3 -12.2 .4 -2.7 .3 -9 .3 -5 .4 -4.1 .3 -5 .4 -8.5 .3 -7.3 .3 -3 .4 -5.1 .3 -8.4 .3 -4.9 .4 -3.9 .3 -5.8 .4 -3.2 .3 -5.4 .3 -2.6 .4 -3.6 .3 -2.6 .3 -.1 .4 -1.9 .3 .1 .4 .2 .3 1.5 .3 2.1 .4 2 .3 2.9 .4 2.6 .3 5 .3 3.7 .4 4.2 .3 6.7 .3 7.2 .4 5 .3 5.1 .4 7.4 .3 7.6 .3 6.3 .4 8.3 .3 4 .3 5.7 .4 9.9 .3 7.9 .4 3.7 .3 2.6 .3 14.3 .4 1.8 .3 2 .4 -11.6 .3 10.6 .3 0 .4 12.9 .3 3.6 .3 -1.9 .4 -3 .3 1.1 .4 1.8 .3 -6.1 .3 4.8 .4 24.7 .3 -24 .3 16.5 .4 1.6 .3 -14 .4 32 .3 -33.2 .3 -.4 .4 -7.9 .3 12.4 .4 1 .3 -.5 .3 -13.8 .4 -2.1 .3 23.6 .3 -3.9 .4 12.3 .3 -16.3 .4 15.5 .3 -17.8 .3 22.8 .4 7.8 .3 -15.1 .3 19.4 .4 -31.4 .3 18.6 .4 15.9 .3 -31.5 .3 20.6 .4 7.3 .3 4.5 .4 -27.5 .3 18.3 .3 -21.5 .4 -4.5 .3 26.7 .3 -30 .4 11.2 .3 -12.4 .4 -13.4 .3 19.1 .3 39.5 .4 -30.8 .3 11.2 .3 -20.3 .4 17.2 .3 9.9 .4 -37.7 .3 48.5 .3 -27.9 .4 23.1 .3 -34.3 .4 .6 .3 38.9 .3 1.9 .4 4.2 .3 -45 .3 23.5 .4 -18.5 .3 2 .4 1.4 .3 10.2 .3 .9 .4 20 .3 -39.4 .3 5.4 .4 13.7 .3 23 .4 -33.7 .3 35.4 .3 -8.9 .4 -26.4 .3 -11.5 .4 5.6 .3 2.9 .3 25 .4 -16.1 .3 23.2 .3 -39.9 .4 9.2 .3 -2.1 .4 26.7 .3 -.6 .3 -20.5 .4 12.6 .3 5.4 .3 -11.2 .4 29.2 .3 -16.9 .4 -26.4 .3 42.8 .3 -53.7 .4 38.5 .3 6.2 .4 -32.9 .3 35.5 .3 -21.4 .4 -5.8 .3 -4.7 .3 33.3 .4 -5.3 .3 -26.4 .4 25.1 .3 -34.9 .3 24.3 .4 -14.4 .3 25.2 .3 -13.4 .4 7.8 .3 -1.3 .4 13.7 .3 -34.6 .3 -15.1 .4 43.1 .3 -31.1 .4 -1.3 .3 -6.8 .3 37.4 .4 -26.6 .3 44.8 .3 -29.2 .4 20.7 .3 -25 .4 7.6 .3 11.9 .3 9.2 .4 -11.7 .3 -12.8 .3 4.9 .4 -14.7 .3 .7 .4 -10 .3 21 .3 -24.7 .4 28.6 .3 14.2 .4 -37.3 .3 44.9 .3 -19.8 .4 16.6 .3 -25.2 .3 30.7 .4 -41.3 .3 18.2 .4 4.6 .3 13.7 .3 3.4 .4 -25 .3 3.3 .3 -16 .4 29.2 .3 8.9 .4 -27 .3 10.1 .3 -22.6 .4 1.8 .3 5.4 .4 9.8 .3 16.3 .3 -35 .4 39.5 .3 -44.5 .3 36.4 .4 -1.5 .3 8.8 .4 -16.6 .3 -6.1 .3 11.5 .4 -29.4 .3 28.7 .3 31.5 .4 -15.7 .3 -40.3 .4 5.5 .3 -15.1 .3 55.9 .4 -4.3 .3 -1.4 .4 -44.7 .3 15.1 .3 36.5 .4 -33.7 .3 9.4 .3 .5 .4 1.1 .3 41.1 .4 -39.2 .3 -2.6 .3 14.8 .4 -11.3 .3 -13.3 .3 21.2 .4 -9.3 .3 -.2 .4 -19.2 .3 71.4 .3 -45.2 .4 -13.5 .3 43.3 .4 -20.1 .3 -18.5 .3 -4.5 .4 3.5 .3 -11.2 .3 18 .4 -12.3 .3 1.5 .4 34.8 .3 -42 .3 -7.6 .4 36.3 .3 -13.2 .3 -10.8 .4 -4.3 .3 3.3 .4 -.6 .3 26.2 .3 3 .4 11 .3 2.1 .4 -20.8 .3 -15.8 .3 .1 .4 -3 .3 13.1 .3 -24.1 .4 15.4 .3 15.4 .4 -30.2 .3 39 .3 -32 .4 19.4 .3 -11.7 .3 -11.8 .4 34.6 .3 -.3 .4 -4.7 .3 -15.5 .3 1.1 .4 -6.2 .3 35.7 .4 -27.1 .3 -5.9 .3 .4 .4 39.8 .3 -32.1 .3 2.4 .4 -8.3 .3 2 .4 -4.8 .3 -9.4 .3 -3 .4 41.7 .3 -34 .3 5.9 .4 15.6 .3 14.4 .4 -35.8 .3 14.2 .3 12.5 .4 -26.8 .3 20.4 .4 -15.8 .3 14.1 .3 -4.6 .4 11.6 .3 -12 .3 2.5 .4 -23.7 .3 -6.4 .4 38.1 .3 4.1 .3 4.2 .4 -38.9 .3 8.7 .3 24.3 .4 -25.1 .3 20.8 .4 -12.4 .3 -8.7 .3 24.2 .4 -.1 .3 -5.2 .4 6 .3 -23.9 .3 5.8 .4 6.6 .3 -1.8 .3 -13.7 .4 6.1 .3 16.4 .4 .9 .3 -33.8 .3 38.5 .4 -22.2 .3 -2.3 .3 -8.3 .4 25.4 .3 -11.2 .4 -4.4 .3 32.7 .3 -36.3 .4 23.7 .3 -14.9 .4 5.2 .3 -1.3 .3 -5 .4 5.5 .3 3.2 .3 -10.5 .4 22.5 .3 -11.5 .4 -26.4 .3 27.9 .3 -4.7 .4 19.1 .3 -17.8 .3 -3.3 .4 4 .3 -18.2 .4 6.5 .3 15.3 .3 10 .4 -16.2 .3 7.1 .4 17.9 .3 -2.7 .3 -30.7 .4 23.1 .3 -11.9 .3 -14.1 .4 25.4 .3 -11 .4 -5.5 .3 -2.9 .3 -.8 .4 -13.1 .3 26.6 .4 .1 .3 -17.6 .3 11.2 .4 3.8 .3 13.6 .3 -12.5 .4 1.8 .3 14.3 .4 -36.1 .3 27.9 .3 -1.1 .4 3.1 .3 -25.7 .3 12.9 .4 -.9 .3 5.1 .4 4.2 .3 -1.5 .3 4.3 .4 30.7 .3 -34 .4 -18.7 .3 3 .3 26 .4 2 .3 -14 .3 1.4 .4 18.8 .3 -45.5 .4 20.4 .3 4.7 .3 -6.8 .4 -4.8 .3 8.3 .3 18.2 .4 -26.8 .3 .1 .4 -7.4 .3 21.7 .3 6.4 .4 -26.5 .3 12.4 .4 10.1 .3 -7.5 .3 -2.1 .4 21.2 .3 -22.5 .3 8.9 .4 -8.4 .3 3.3 .4 20.6 .3 -10.3 .3 -12.5 .4 27 .3 -38.1 .3 12.1 .4 10.7 .3 -30.7 .4 19.8 .3 -3.4 .3 -.8 .4 16.6 .3 -4.3 .4 -7.8 .3 -5.4 .3 3 .4 1.7 .3 6.9 .3 -8.2 .4 -9.4 .3 7 .4 11.2 .3 -16.2 .3 21.6 .4 -24.3 .3 5.1 .3 2.1 .4 10.9 .3 19.7 .4 -9.7 .3 -14.8 .3 17.6 .4 -19 .3 23 .4 -23.6 .3 6.3 .3 18.4 .4 -6.9 .3 -22.9 .3 -5.2 .4 21.8 .3 -23.7 .4 23.5 .3 -36.1 .3 23.2 .4 18.2 .3 -15.3 .3 1.7 .4 -6.1 .3 -11.6 .4 38 .3 -23.3 .3 16 .4 -29.2 .3 14 .4 6.7 .3 6.5 .3 -1.6 .4 2 .3 -15.1 .3 10.3 .4 11.9 .3 -11.1 .4 11.3 .3 -19 .3 -15.1 .4 35.6 .3 -26.5 .3 15.3 .4 -7.4 .3 8.7 .4 -20.5 .3 8.7 .3 .6 .4 -8.8 .3 21.2 .4 -15.2 .3 38.8 .3 -27.8 .4 -1.2 .3 -22.1 .3 34.4 .4 -33.4 .3 30.2 .4 -11 .3 -6.4 .3 9.8 .4 -.8 .3 -.6 .3 -17.4 .4 -11.2 .3 11.7 .4 1.4 .3 30.2 .3 -40.5 .4 26.2 .3 -10.6 .4 14.4 .3 -8.2 .3 -6.4 .4 -3.5 .3 6.8 .3 .1 .4 -13.4 .3 -.3 .4 13 .3 5.7 .3 -7.6 .4 -8 .3 5.4 .3 16.8 .4 13.1 .3 -32.1 .4 11.1 .3 -25.1 .3 34.3 .4 -5.9 .3 16.2 .4 -25.9 .3 22.8 .3 -14.5 .4 8.6 .3 -14.9 .3 -10.1 .4 21.4 .3 -18.1 .4 -.4 .3 11.3 .3 .6 .4 -6.8 .3 6.4 .3 .4 .4 9.6 .3 -31.2 .4 -3 .3 21.2 .3 .7 .4 -15.4 .3 20.8 .4 2.2 .3 -24.4 .3 45.9 .4 -7.6 .3 -20.1 .3 -6.3 .4 6.2 .3 -11.1 .4 -1.7 .3 11.5 .3 13.1 .4 -26.9 .3 4.2 .3 -2.4 .4 1.2 .3 4 .4 20 .3 -11.5 .3 -10.4 .4 26.6 .3 -7 .4 -34.4 .3 41.8 .3 -18.8 .4 -7.5 .3 -13.4 .3 24.5 .4 -12.4 .3 19.5 .4 -20.7 .3 2.1 .3 30.6 .4 -23.8 .3 -13.9 .3 -.8 .4 7.5 .3 .4 .4 -10.5 .3 19.6 .3 -7.3 .4 26.7 .3 -23.3 .4 10.7 .3 -15 .3 20.9 .4 -7.2 .3 -19.6 .3 1.4 .4 6.8 .3 -4 .4 .7 .3 -10.2 .3 17.8 .4 -10.9 .3 18.6 .3 -2 .4 9.1 .3 -32.2 .4 14.1 .3 32.8 .3 -34.8 .4 10.9 .3 3.9 .4 -9.4 .3 7.3 .3 -4.8 .4 -12.5 .3 2.3 .3 -.8 .4 27.6 .3 -37.5 .4 20.2 .3 -3.3 .3 3.9 .4 -20.8 .3 6.2 .3 12.4 .4 3.1 .3 -20.1 .4 14.1 .3 6 .3 -.9 .4 7.1 .3 -1.9 .4 -17.6 .3 -1.8 .3 11.8 .4 -.2 .3 2.3 .3 -10.9 .4 -14 .3 -9.6 .4 13.9 .3 5.2 .3 14.6 .4 -24.8 .3 5.6 .3 2.5 .4 -6.2 .3 8 .4 -16.2 .3 11.3 .3 -12.6 .4 .7 .3 6 .4 -.9 .3 -5.2 .3 -3.6 .4 -2.2 .3 -10.3 .3 12.1 .4 -7.1 .3 -10.4 .4 3.1 .3 -6.7 .3 .7 .4 4.5 .3 -6.9 .3 1.2 .4 4.2 .3 -5.5 .4 -.3 .3 -.5 .3 10.2 .4 -8.6 .3 -.1 .4 .1 .3 5.4 .3 5.2 .4 4.8 .3 -2.8 .3 -9 .4 18.2 .3 4.7 .4 -4.1 .3 2 .3 -7.2 .4 29.7 .3 -23.3 .3 2.6 .4 1.1 .3 5.3 .4 1.2 .3 1.1 .3 4.7 .4 8.9 .3 -5.8 .4 -1.7 .3 13.2 .3 1.7 .4 -18.3 .3 .7 .3 15.4 .4 -15.1 .3 10 .4 6.4 .3 -1.4 .3 8.1 .4 -13.3 .3 -15.6 .3 2.6 .4 1.8 .3 34.7 .4 -14.5 .3 -8.5 .3 15.8 .4 6.9 .3 -6.8 .4 -4.7 .3 20.5 .3 -30 .4 11.9 .3 19.7 .3 -32.2 .4 2.1 .3 4.8 .4 -11.1 .3 13.3 .3 -12.3 .4 3.6 .3 16.8 .3 -3 .4 -36.1 .3 12.3 .4 -4 .3 25 .3 -16.1 .4 -5.8 .3 22.1 .4 5.5 .3 7.1 .3 -18.7 .4 12.9 .3 13.2 .3 -12.4 .4 -14.8 .3 -9 .4 44 .3 -33.8 .3 14.4 .4 1.6 .3 -7.4 .3 11.9 .4 -2 .3 -10.1 .4 -1 .3 -15.3 .3 5.2 .4 7.1 .3 -1.9 .4 -8.4 .3 17.2 .3 -22 .4 12.3 .3 -3.7 .3 9.1 .4 19.8 .3 -7.6 .4 -2 .3 -14 .3 2.2 .4 -18.7 .3 13.1 .3 -9.8 .4 36.4 .3 -15.2 .4 -10.5 .3 -14.5 .3 21.1 .4 -10.5 .3 23 .4 7 .3 -21.8 .3 11.5 .4 -10.9 .3 -15 .3 14.5 .4 -8.3 .3 1.8 .4 18.7 .3 -8.5 .3 14.5 .4 -20.7 .3 -15.8 .3 70.3 .4 -60.4 .3 18.7 .4 9.5 .3 -56.2 .3 32.1 .4 -5.1 .3 -18.6 .4 24.7 .3 -4.6 .3 17.9 .4 18.1 .3 -25.3 .3 5.6 .4 -.6 .3 -20.9 .4 23.8 .3 -17.7 .3 10.7 .4 -5.4 .3 -10.7 .3 9.7 .4 7.8 .3 15.1 .4 -30.2 .3 23.3 .3 -27.5 .4 28.2 .3 -30.6 .4 15.8 .3 .6 .3 -12.2 .4 -7.3 .3 28.4 .3 -13.6 .4 -3.2 .3 .5 .4 -3.8 .3 34.5 .3 -23.2 .4 -16.3 .3 31.4 .3 -6.5 .4 -9.5 .3 .2 .4 -10.4 .3 29.1 .3 -2.9 .4 -15.1 .3 15.9 .4 1.9 .3 -29 .3 17.1 .4 -17.5 .3 13.5 .3 -7.3 .4 21.2 .3 -10.8 .4 5.8 .3 1.3 .3 -34.9 .4 34.2 .3 18.3 .3 -14.1 .4 -33.3 .3 34.3 .4 -14.7 .3 16.1 .3 -17.6 .4 -14 .3 8.1 .4 18.5 .3 -42 .3 16.6 .4 2.7 .3 18.2 .3 -1.5 .4 9.5 .3 3.5 .4 -12 .3 -25.5 .3 8.8 .4 -1 .3 7.3 .3 13.8 .4 -18.1 .3 12.7 .4 3.7 .3 1.8 .3 -18.7 .4 11.9 .3 24.1 .4 -43.9 .3 25.8 .3 14.2 .4 -33 .3 -3.6 .3 9.4 .4 4.1 .3 -17.2 .4 20.2 .3 -1.9 .3 19.4 .4 .8 .3 -1.5 .3 -8.3 .4 16.4 .3 -29.4 .4 1.4 .3 3.8 .3 -12.3 .4 -4.7 .3 8.8 .4 24.8 .3 2 .3 -24.2 .4 26.9 .3 -30.5 .3 -6.3 .4 7.2 .3 14.6 .4 -11.6 .3 -2.2 .3 13.3 .4 -2.6 .3 11.1 .3 13.5 .4 -8.8 .3 -19.5 .4 10 .3 -16.5 .3 -9.9 .4 6.3 .3 12.4 .4 3.7 .3 -.3 .3 -25.3 .4 21.5 .3 -6.8 .3 4.5 .4 -11.3 .3 2.6 .4 16.1 .3 10.8 .3 -23.9 .4 6.1 .3 .3 .3 4.1 .4 -6.6 .3 12.4 .4 -0 .3 6.9 .3 -22.7 .4 -.7 .3 -.4 .4 22 .3 7.4 .3 -24.8 .4 -9 .3 10.6 .3 18.1 .4 -10 .3 4.9 .4 -7.8 .3 -4.6 .3 -6.3 .4 -11.6 .3 21 .3 2 .4 14.2 .3 -24.5 .4 7.4 .3 -6.4 .3 1.3 .4 11.1 .3 2.1 .4 -18.2 .3 44.4 .3 -55.3 .4 45.7 .3 -3.8 .3 -16.6 .4 -12 .3 8.3 .4 -3.1 .3 2.3 .3 7.9 .4 -2.5 .3 14.6 .3 -37.3 .4 20.2 .3 -11.2 .4 24 .3 -38.1 .3 12.6 .4 -6.7 .3 23.6 .4 1.5 .3 -8.4 .3 2.8 .4 9.9 .3 -16 .3 -9.1 .4 27 .3 -7.7 .4 16.5 .3 -1.6 .3 -18.8 .4 14.3 .3 -11.4 .3 -6.9 .4 6.5 .3 -11.3 .4 -1.5 .3 13.1 .3 -19.3 .4 1.1 .3 15.2 .4 4.4 .3 -22.5 .3 23.2 .4 6.1 .3 -24.7 .3 6.2 .4 -0 .3 15.6 .4 5.9 .3 -12.4 .3 7.4 .4 2.3 .3 -28 .3 12.3 .4 20.5 .3 -24.7 .4 2.6 .3 6.5 .3 -1.6 .4 -5 .3 13.6 .4 -19.6 .3 14.1 .3 -5.8 .4 13.5 .3 -12.6 .3 5.5 .4 -6.2 .3 13.3 .4 2.2 .3 -9.5 .3 23.9 .4 -13 .3 -24 .3 10.6 .4 11 .3 -13.6 .4 9.6 .3 .6 .3 -18.9 .4 -6.8 .3 13.9 .4 -4.4 .3 12.7 .3 27.3 .4 -37.5 .3 -4.4 .3 3.5 .4 8.1 .3 7.2 .4 -21.9 .3 5.5 .3 -3.9 .4 -3.6 .3 22.7 .3 -24.1 .4 35.7 .3 -24.9 .4 6.5 .3 -13.3 .3 6.2 .4 -4.2 .3 15.3 .4 9.1 .3 -13.5 .3 -6.6 .4 7 .3 6.8 .3 -10.7 .4 -1.9 .3 22.2 .4 -11.2 .3 -23.7 .3 42.1 .4 -51.2 .3 26.8 .3 -18.3 .4 -8.2 .3 16.5 .4 6.8 .3 -19 .3 -1.3 .4 7 .3 -6.8 .4 3.1 .3 -3.3 .3 10.4 .4 -15.8 .3 -7.6 .3 -6.1 .4 -12.3 .3 -13.1 .4 -10.2 .3 -15.6 .3 -16 .4 -11.6 .3 -13.3 .3 -9.5 .4 -10.1 .3 -7 .4 -4 .3 -1.5 .3 1.6 .4 3.9 .3 6.8 .4 9.3 .3 11.5 .3 13.4 .4 11.8 .3 15.1 .3 16.4 .4 11 .3 13.7 .4 6.9 .3 6 .3 9.4 .4 17 .3 3.3 .3 -15 .4 18.3 .3 13 .4 11.8 .3 -41.5 .3 28.1 .4 -25.4 .3 7.3 .4 -2.2 .3 8.5 .3 8.9 .4 10.3 .3 -28.5 .3 27.8 .4 -32.2 .3 31.3 .4 -26.9 .3 18.6 .3 -4.9 .4 -.8 .3 -10 .3 15.3 .4 -23.6 .3 17.6 .4 15.8 .3 -10.9 .3 5.2 .4 -10.5 .3 1.3 .4 -2.7 .3 -2.6 .3 -3.2 .4 13.5 .3 4.1 .3 19.9 .4 -41.8 .3 17.6 .4 -2.6 .3 -1.1 .3 -11.9 .4 13.4 .3 -13.4 .3 7.7 .4 5 .3 9.1 .4 2 .3 -9.5 .3 13.5 .4 -9 .3 -8.7 .4 14.4 .3 -.1 .3 -.9 .4 .3 .3 7.4 .3 1.5 .4 -18.3 .3 -15 .4 11.6 .3 -1.7 .3 11.5 .4 -27.8 .3 21.4 .3 -.8 .4 16.6 .3 1.8 .4 -21.8 .3 15.3 .3 4.5 .4 -9.2 .3 2.7 .4 -8.6 .3 13.8 .3 .1 .4 -10.5 .3 1 .3 -7.5 .4 7.1 .3 -1.4 .4 -5 .3 5.6 .3 -18.7 .4 -.4 .3 25.9 .3 -4.7 .4 -11 .3 13.8 .4 -10.3 .3 19.3 .3 -19.1 .4 4.7 .3 27.8 .4 -14.3 .3 .9 .3 -10 .4 -28.6 .3 16.9 .3 16.1 .4 -18.4 .3 5.1 .4 3.1 .3 21.2 .3 -33.1 .4 21.4 .3 10.2 .3 -5.1 .4 -26.5 .3 3.7 .4 .6 .3 -6 .3 35.9 .4 -32.5 .3 37.2 .4 -20.9 .3 9.2 .3 -4.1 .4 -27.1 .3 22.5 .3 -35.3 .4 21.1 .3 15.6 .4 8 .3 -26.6 .3 19.5 .4 -15.5 .3 -32 .3 48.1 .4 -3 .3 -5.3 .4 -18.4 .3 31.3 .3 -24.9 .4 -10.1 .3 38.3 .4 -7.9 .3 -8.3 .3 23.9 .4 -2.4 .3 -35.9 .3 19.1 .4 1.1 .3 -7.4 .4 5.5 .3 -10.4 .3 25.2 .4 .9 .3 -4.6 .3 -16.6 .4 -6.7 .3 -12.1 .4 17.6 .3 13.8 .3 -18.9 .4 -1.9 .3 25.7 .4 -6 .3 7.9 .3 11.3 .4 -9.2 .3 -33 .3 26.8 .4 13.5 .3 -30.8 .4 28.5 .3 -25.3 .3 -.7 .4 14.1 .3 5.7 .3 -40 .4 8.4 .3 33.7 .4 -32.2 .3 5.3 .3 -8.2 .4 29.7 .3 8.1 .4 -9 .3 -24.4 .3 -8.8 .4 11.6 .3 13.8 .3 -20.6 .4 1.7 .3 32.3 .4 -18 .3 16.1 .3 -10 .4 7.3 .3 .8 .3 -9 .4 3.2 .3 -38.5 .4 29.4 .3 23.4 .3 -17.3 .4 6 .3 -34.2 .4 3.6 .3 21 .3 10.5 .4 -8.8 .3 10.8 .3 -3.2 .4 10.8 .3 4.4 .4 -9.9 .3 -3.2 .3 -31.2 .4 42.6 .3 -34.4 .3 22.8 .4 -8.1 .3 14.5 .4 -27.1 .3 32.3 .3 -11.3 .4 -7.9 .3 -31.2 .4 31.2 .3 6.7 .3 -18.1 .4 -12 .3 13.1 .3 35.3 .4 -41.4 .3 4 .4 -4.6 .3 63.9 .3 -53.8 .4 24 .3 -29.7 .4 -2.8 .3 -7.2 .3 5.6 .4 -13 .3 38.4 .3 -17.3 .4 6.7 .3 -20.8 .4 12.4 .3 52.4 .3 -42.9 .4 -17.2 .3 29.3 .3 -.6 .4 -28.9 .3 35.6 .4 -32.3 .3 14.3 .3 -30.5 .4 33.3 .3 20.2 .4 .1 .3 -23.4 .3 -18.5 .4 2.8 .3 3.3 .3 12.9 .4 2.6 .3 19.5 .4 -13.1 .3 13.1 .3 -41.3 .4 22.2 .3 1 .3 -7.4 .4 11.3 .3 18.8 .4 -8.8 .3 -23.4 .3 -32.8 .4 8.4 .3 -.8 .4 9.7 .3 3.7 .3 29.5 .4 -18.9 .3 31.8 .3 -23.2 .4 3.2 .3 -28.9 .4 32.3 .3 7.6 .3 -24.4 .4 25.3 .3 -41 .3 46.8 .4 -44.4 .3 44.1 .4 .7 .3 -21.4 .3 -10.2 .4 -11.1 .3 33.3 .4 -30.2 .3 -9.3 .3 5.4 .4 32.2 .3 -12.1 .3 17.7 .4 -31 .3 -15.7 .4 23.4 .3 4.8 .3 -17.4 .4 23 .3 -5.3 .3 -14.7 .4 -7.1 .3 12.6 .4 21.6 .3 -11.1 .3 -1.8 .4 12.4 .3 -1.4 .4 -5.4 .3 5.7 .3 -17.2 .4 -1.4 .3 1.6 .3 20.8 .4 7.7 .3 -19 .4 -42.6 .3 58.8 .3 -33.1 .4 13.6 .3 -9.4 .3 17.9 .4 8.4 .3 -41.7 .4 28.4 .3 -6.8 .3 -10.1 .4 41.1 .3 -39.9 .4 -9.2 .3 40 .3 -19.6 .4 -1 .3 19.6 .3 -2.3 .4 12.2 .3 -35 .4 5.8 .3 10.3 .3 -3.3 .4 9.4 .3 -3 .3 -9.7 .4 23.9 .3 -54.1 .4 35 .3 -13.2 .3 14.6 .4 -9.9 .3 1.8 .4 -15.3 .3 19.4 .3 -4.9 .4 13.1 .3 9.4 .3 -10.3 .4 -7.8 .3 -14.5 .4 5.7 .3 -4.8 .3 -31.8 .4 53.3 .3 -10.6 .3 -7.6 .4 9.9 .3 -24.9 .4 7.8 .3 24.5 .3 -20 .4 25.5 .3 -13.2 .4 7.2 .3 12.5 .3 -9.8 .4 3.9 .3 9 .3 -48 .4 45.4 .3 -20.3 .4 5.8 .3 -32.1 .3 52.6 .4 -11 .3 16.8 .3 -48.3 .4 7.9 .3 9.6 .4 -32.3 .3 23.8 .3 24.7 .4 -30.4 .3 32.4 .4 -35.3 .3 36.3 .3 -8.6 .4 -33.6 .3 18.5 .3 41.4 .4 -44.6 .3 -11.1 .4 33.6 .3 -25 .3 -2.2 .4 12.1 .3 -5.3 .3 14.4 .4 3.9 .3 -27.2 .4 26.1 .3 -2.7 .3 -4.4 .4 19.4 .3 -29 .4 -4.5 .3 -1.7 .3 23.2 .4 -18 .3 -6.7 .3 29.1 .4 -2.3 .3 -4.8 .4 -2.8 .3 14.5 .3 -57.7 .4 18.9 .3 4.6 .3 27.3 .4 -3.1 .3 -14.5 .4 4.5 .3 4.2 .3 -27.5 .4 23.1 .3 54.5 .4 -41.2 .3 -16.9 .3 -8.2 .4 13 .3 2.9 .3 -.5 .4 5.6 .3 -16.9 .4 8.2 .3 -8.9 .3 7.6 .4 16.2 .3 -55.8 .3 59.3 .4 -16.9 .3 -15 .4 37 .3 -.1 .3 -6.7 .4 -54 .3 44.4 .4 3.4 .3 -29 .3 -13.1 .4 28.1 .3 4.4 .3 -32.8 .4 39.9 .3 24.5 .4 -14.8 .3 -44.9 .3 41.5 .4 -25.6 .3 -7.5 .3 32 .4 -44.3 .3 18.1 .4 14.7 .3 -31.2 .3 30.1 .4 24.2 .3 -8.3 .4 6.7 .3 -46.5 .3 31.5 .4 -1.9 .3 12 .3 -36.5 .4 42.7 .3 -34.4 .4 12.7 .3 -12.1 .3 -2.9 .4 -28.7 .3 11.5 .3 1.2 .4 27.1 .3 -38.7 .4 12.5 .3 5.8 .3 -14 .4 61.9 .3 -3.8 .4 -5.2 .3 -2.6 .3 -26.1 .4 14.1 .3 -21.9 .3 3.4 .4 -9.2 .3 35.1 .4 -35.1 .3 67.4 .3 -72.1 .4 10.3 .3 9 .3 -19.6 .4 79.8 .3 -48.9 .4 -10.5 .3 -26.3 .3 16.2 .4 21.2 .3 -8.7 .4 -10 .3 -12.4 .3 39.6 .4 -25 .3 -7.9 .3 -3.2 .4 3.5 .3 -3.2 .4 44.1 .3 -27.4 .3 -9.5 .4 -6.5 .3 22.9 .3 -25.3 .4 45.2 .3 7.3 .4 -60.9 .3 32.7 .3 12.5 .4 -24.6 .3 -2.5 .4 18.5 .3 -9.1 .3 -15.4 .4 -12.5 .3 37.2 .3 -17.8 .4 10.3 .3 -26.7 .4 38.1 .3 -7.1 .3 -31 .4 7.6 .3 11.6 .3 -26.9 .4 23.8 .3 25.6 .4 -32.8 .3 52.5 .3 -39.2 .4 -.7 .3 15.6 .4 -.2 .3 -31.1 .3 -6.2 .4 3 .3 6.4 .3 38.8 .4 -22.2 .3 5.4 .4 8.7 .3 -18 .3 -17.3 .4 46 .3 -29.3 .3 6.7 .4 25.3 .3 -49.7 .4 -15.5 .3 16.8 .3 11.9 .4 42.5 .3 -22 .4 -33.2 .3 37.3 .3 -29 .4 5.2 .3 17.5 .3 -.8 .4 31.2 .3 -20.8 .4 -4.6 .3 -21.4 .3 -4.1 .4 51.9 .3 -67.5 .3 54.3 .4 -41.1 .3 35.5 .4 2.7 .3 -24.8 .3 -3.5 .4 -10.7 .3 43.8 .4 -68.9 .3 40.2 .3 -29.5 .4 28.7 .3 -16.2 .3 22 .4 -26.9 .3 24.4 .4 37.6 .3 -15.7 .3 -52.2 .4 19.1 .3 -18.2 .3 48.4 .4 .2 .3 -16.7 .4 24.3 .3 -44 .3 -12.1 .4 30.3 .3 -23.9 .4 38.5 .3 -25.1 .3 -1.7 .4 34.1 .3 -41.1 .3 -21.3 .4 54.4 .3 -.1 .4 -38.1 .3 16.4 .3 -2.7 .4 -2.7 .3 41.3 .3 -54.7 .4 46.2 .3 .8 .4 -23.5 .3 25.5 .3 -17.4 .4 -27 .3 36.5 .4 -28.7 .3 44.3 .3 -38.3 .4 21.2 .3 11.3 .3 19.1 .4 -30.1 .3 -8 .4 -39.4 .3 9.7 .3 41 .4 -13.4 .3 -35.2 .3 51.4 .4 -37.9 .3 15.3 .4 3.9 .3 -8.4 .3 12.4 .4 -14.8 .3 5.3 .4 39.8 .3 -59.9 .3 50.2 .4 -33.2 .3 24.7 .3 -38.2 .4 12.4 .3 2.4 .4 41.9 .3 -52.3 .3 -6.3 .4 32.3 .3 -29.2 .3 12.1 .4 39.6 .3 -18 .4 -7.4 .3 -29.8 .3 .6 .4 -3.7 .3 26.3 .4 -1 .3 -8.1 .3 20.5 .4 -17.9 .3 -4.2 .3 9 .4 -14.1 .3 39.4 .4 -5.9 .3 -12.1 .3 -26.3 .4 31.1 .3 -5.2 .3 13.4 .4 -31.3 .3 -9.5 .4 18.4 .3 11.1 .3 -33 .4 9.8 .3 26 .4 -5.2 .3 37.8 .3 -40.7 .4 15.9 .3 -35.7 .3 25.8 .4 20 .3 -23.5 .4 15.5 .3 -17.1 .3 1.5 .4 17.2 .3 -28 .3 7.9 .4 -23.1 .3 19.3 .4 -26.6 .3 12.9 .3 31.5 .4 -26.9 .3 1.7 .4 3.9 .3 9.1 .3 -22.2 .4 13.5 .3 8.1 .3 .7 .4 -16.3 .3 37 .4 1.5 .3 -26.3 .3 15.9 .4 -35.8 .3 -22.2 .3 -17.1 .4 -4 .3 -15.6 .4 -1.6 .3 5.1 .3 2.3 .4 22.6 .3 22.3 .4 36 .3 -30.6 .3 8.8 .4 11.5 .3 7.8 .3 -10.8 .4 -13.6 .3 59.5 .4 -53 .3 16.4 .3 11.7 .4 -12 .3 -23.2 .3 17.7 .4 -9 .3 7.6 .4 16.3 .3 -35 .3 26.8 .4 16.3 .3 -48.3 .4 50.8 .3 -23.5 .3 6 .4 -17.8 .3 -4.2 .3 -3.5 .4 23.3 .3 -13.3 .4 -1.9 .3 -19.2 .3 40.6 .4 -9.2 .3 9.6 .3 12 .4 -8.8 .3 -31.9 .4 11.7 .3 -14.4 .3 33.8 .4 1.9 .3 -5.3 .4 -23.7 .3 9.4 .3 37.2 .4 -46.8 .3 -14.8 .3 38.5 .4 5.7 .3 17.3 .4 7.3 .3 -24.4 .3 -17.4 .4 14.3 .3 -31.5 .3 6.2 .4 2.3 .3 14 .4 -17.2 .3 -7.2 .3 8.3 .4 -.9 .3 14.9 .4 -22.1 .3 4.4 .3 31 .4 -13.3 .3 2.8 .3 -28.6 .4 48.9 .3 -26.9 .4 -8.3 .3 22.5 .3 8.2 .4 -21.4 .3 21 .3 -7.1 .4 -16.9 .3 .3 .4 23.2 .3 -11.8 .3 -16.1 .4 1.2 .3 48.4 .4 -35.4 .3 -16.4 .3 29.3 .4 -12.8 .3 -13.4 .3 -15 .4 10.9 .3 9.9 .4 -16.2 .3 9.4 .3 12.2 .4 -6.2 .3 -1.5 .3 14.9 .4 -20.4 .3 -23.6 .4 17.2 .3 26.2 .3 -29.1 .4 23.1 .3 -16.4 .4 6 .3 -19.8 .3 7.5 .4 14.3 .3 .5 .3 26.7 .4 -15.9 .3 -8.5 .4 4.7 .3 -17.7 .3 13.8 .4 -20 .3 19.1 .3 9.4 .4 -42.9 .3 18.8 .4 -8.8 .3 -10.6 .3 1.9 .4 -4.8 .3 34.7 .4 -11.6 .3 -2.9 .3 7.4 .4 -32.4 .3 24.8 .3 -21.9 .4 -8.5 .3 16.1 .4 19.5 .3 -15.5 .3 -8.6 .4 3.3 .3 -6.5 .3 -3.7 .4 -7.1 .3 18.9 .4 -11.2 .3 -5.5 .3 -.5 .4 8.5 .3 -4.5 .4 6.8 .3 -20 .3 -1.7 .4 8.3 .3 -6.4 .3 -7.2 .4 .1 .3 1.1 .4 4.6 .3 -10 .3 1.8 .4 -3.3 .3 0 .3 -2.5 .4 10.2 .3 -11 .4 1 .3 2.8 .3 5.1 .4 -6.6 .3 -1.1 .4 -1.1 .3 -5 .3 9.2 .4 -4.7 .3 -2.5 .3 1.2 .4 -4.9 .3 15.6 .4 -13.3 .3 9 .3 -1.2 .4 -4.5 .3 2.5 .3 -4 .4 6.1 .3 -7.2 .4 7 .3 -5.7 .3 8 .4 -4.8 .3 .7 .4 5.7 .3 -5.1 .3 2.8 .4 -1.9 .3 13.7 .3 -15.7 .4 4.2 .3 10.3 .4 -13.1 .3 13.4 .3 -1.5 .4 2.6 .3 5.6 .3 3.6 .4 -10 .3 17.1 .4 -.7 .3 -2.3 .3 -.8 .4 -1.5 .3 11.2 .4 2.3 .3 -6.3 .3 12.7 .4 6.7 .3 -9.4 .3 1.5 .4 -14.1 .3 2.9 .4 21.2 .3 -29.6 .3 44.1 .4 -35.7 .3 19.9 .3 -3.4 .4 -3.2 .3 -12 .4 -1.8 .3 34.6 .3 -30.8 .4 0 .3 25.9 .4 -20.1 .3 37.1 .3 -41.5 .4 38.5 .3 -13.5 .3 -6.9 .4 7.3 .3 13.3 .4 -22.8 .3 6.5 .3 -7.8 .4 23.1 .3 -32.7 .3 10.8 .4 -17.9 .3 32.2 .4 -17.8 .3 4.8 .3 -2.8 .4 -8.4 .3 4.4 .4 31.2 .3 -1.9 .3 5.3 .4 -.6 .3 -48.5 .3 48.3 .4 -36 .3 13 .4 -6.9 .3 13.2 .3 -15.8 .4 19.3 .3 21.9 .3 -26.6 .4 -11.4 .3 26.3 .4 -50.7 .3 13.9 .3 32.7 .4 1.4 .3 -5.7 .4 -1.2 .3 -32.2 .3 23.9 .4 15.2 .3 -6.1 .3 -29.5 .4 -10.7 .3 53.9 .4 -25.3 .3 -4.3 .3 -20.5 .4 41.2 .3 10.1 .3 -15 .4 44.5 .3 -46.9 .4 9 .3 9.3 .3 -19.1 .4 -31.8 .3 20 .4 33.4 .3 -22.9 .3 5.1 .4 7.4 .3 -8.6 .3 19.3 .4 -16.4 .3 -21 .4 -3.7 .3 5.9 .3 34.7 .4 -9 .3 7.8 .3 -26.7 .4 18.7 .3 -6.9 .4 -18 .3 12 .3 -17.7 .4 33.1 .3 -19 .4 57.7 .3 -29.7 .3 -2.5 .4 -13.5 .3 -19.7 .3 -2.1 .4 1 .3 -5 .4 43 .3 -32.4 .3 -14.4 .4 44.7 .3 -58.1 .3 8.1 .4 13.4 .3 25.1 .4 -30.7 .3 20.3 .3 .3 .4 -21.2 .3 18.2 .4 34.2 .3 -5.7 .3 -37.8 .4 -7.8 .3 46.4 .3 -47.6 .4 11.8 .3 21.8 .4 10 .3 -40.2 .3 -14.4 .4 24.6 .3 -3 .3 16.8 .4 -33.6 .3 4.5 .4 43.5 .3 -27.3 .3 3.9 .4 -16.7 .3 9.1 .4 -5.5 .3 -16.2 .3 10 .4 -13.9 .3 41.8 .3 -18.2 .4 18.3 .3 1.3 .4 3.6 .3 -5.6 .3 -23.3 .4 14 .3 7.5 .3 5.2 .4 -12.8 .3 -21.1 .4 43.8 .3 -36.4 .3 9.6 .4 .5 .3 23.3 .4 -24.4 .3 42 .3 -25 .4 21.1 .3 -19.1 .3 -29.6 .4 -11.8 .3 26.5 .4 3 .3 3.7 .3 -11.6 .4 35 .3 -34.3 .3 17.8 .4 4.8 .3 -24.3 .4 29.3 .3 -45.6 .3 26.1 .4 -18.6 .3 31.1 .4 -18.2 .3 15 .3 -18 .4 -12.3 .3 31.4 .3 -25.8 .4 -14.1 .3 59.4 .4 -40.1 .3 -11.5 .3 10.9 .4 -13.8 .3 33.2 .3 -35.2 .4 16.5 .3 -6.6 .4 20 .3 -10.8 .3 40.3 .4 -30.1 .3 7 .4 -23.1 .3 15 .3 -42.9 .4 47.9 .3 18.5 .3 -38.9 .4 39 .3 -52.2 .4 40.9 .3 -33.6 .3 5.7 .4 4.8 .3 -20.5 .3 48 .4 -50.7 .3 24.8 .4 7.2 .3 -.6 .3 -.6 .4 3.5 .3 1 .4 -26.3 .3 40.4 .3 -34.4 .4 40.6 .3 -47.3 .3 5.4 .4 26.1 .3 -11.9 .4 2.8 .3 20.4 .3 -4.5 .4 -31.1 .3 -.7 .3 -17.4 .4 32.5 .3 16.3 .4 -16.6 .3 -17.8 .3 3.1 .4 21.7 .3 .1 .4 -7.3 .3 -13 .3 17.5 .4 19.6 .3 -33.1 .3 -6.4 .4 32.1 .3 8.6 .4 -34.1 .3 -1.3 .3 4.4 .4 -20.7 .3 17.1 .4 22.3 .3 -8.1 .3 -31.2 .4 16.9 .3 4.8 .3 22.1 .4 -17.3 .3 -4.7 .4 -12.9 .3 19.3 .3 -26.3 .4 37.4 .3 -35.6 .3 41.8 .4 4.4 .3 -41 .4 -5.5 .3 16.5 .3 1.2 .4 17.8 .3 -19.3 .4 9.5 .3 -6.6 .3 -8.3 .4 -8.7 .3 4 .3 -1.1 .4 21.4 .3 1.2 .4 -4.8 .3 -3.4 .3 24.4 .4 -15.4 .3 -27.9 .3 37.5 .4 4.4 .3 -23.5 .4 -8.7 .3 13.5 .3 -3.6 .4 8.5 .3 -2.2 .4 17.8 .3 -5.8 .3 -26.8 .4 1 .3 -4.2 .3 -3.8 .4 7.8 .3 26.6 .4 4.4 .3 -27.9 .3 7.7 .4 21.8 .3 -26.6 .3 -29 .4 33.4 .3 13.2 .4 4.7 .3 -32.4 .3 18.4 .4 13.9 .3 -34.1 .4 -14.1 .3 -.7 .3 36.8 .4 -31.2 .3 28.1 .3 -21.5 .4 21.4 .3 .5 .4 -37.4 .3 43.7 .3 -30.1 .4 34.3 .3 -10.6 .3 -14.1 .4 -14.2 .3 35.8 .4 -24.1 .3 15.7 .3 -28.4 .4 35.2 .3 -28.8 .4 -4.5 .3 -10.5 .3 49.1 .4 -10.3 .3 -1 .3 -27.2 .4 27.8 .3 -14.8 .4 14.4 .3 -33.7 .3 15.9 .4 -5.4 .3 -23.2 .3 20.8 .4 4.8 .3 16.1 .4 -29.7 .3 8.3 .3 36.3 .4 -38 .3 -2 .4 2.8 .3 8.6 .3 14.7 .4 -10.1 .3 2.4 .3 -12.1 .4 9.9 .3 -1.6 .4 3.7 .3 12.3 .3 -6.7 .4 -3.1 .3 11.3 .3 -24.8 .4 6.9 .3 -9.1 .4 13.8 .3 8.6 .3 -26.9 .4 -6.7 .3 32.1 .4 -24.3 .3 80.2 .3 -55.7 .4 -18.4 .3 30.8 .3 -27.2 .4 -16.8 .3 10.9 .4 -8 .3 20.2 .3 25.1 .4 -13.5 .3 -22.7 .3 15.3 .4 17.5 .3 -18.7 .4 -10.1 .3 -23 .3 43.5 .4 .4 .3 -10.9 .4 5 .3 -41.5 .3 31.3 .4 -12.7 .3 -5.5 .3 -.7 .4 24 .3 -22.2 .4 15.2 .3 1.2 .3 -29.2 .4 31.3 .3 2.1 .3 -22.5 .4 13.1 .3 18.8 .4 -22.3 .3 1.9 .3 8.5 .4 .6 .3 -27.4 .4 15.4 .3 15 .3 -16.8 .4 -5.3 .3 -31.5 .3 17.6 .4 51.7 .3 -2.8 .4 -47.2 .3 42.7 .3 -7.4 .4 -18.2 .3 -12 .3 17.7 .4 -4 .3 -12.9 .4 .6 .3 38.6 .3 -28.4 .4 23.2 .3 -19.2 .4 -3.8 .3 18.9 .3 6.4 .4 -17.1 .3 -.4 .3 -21.7 .4 36.9 .3 10.2 .4 -21.3 .3 -17.1 .3 10.2 .4 1 .3 -27.9 .3 -7.7 .4 13.6 .3 9 .4 8.5 .3 -8.2 .3 -15.1 .4 31 .3 -26.4 .4 4.6 .3 6.4 .3 -9.3 .4 19.8 .3 -5.9 .3 5.4 .4 -21.7 .3 16.4 .4 8.8 .3 -2.5 .3 -1.5 .4 5.5 .3 -14.5 .3 .2 .4 10.8 .3 -10.1 .4 2.2 .3 -28.4 .3 17.3 .4 4.6 .3 -21.6 .4 35.3 .3 -28.3 .3 40.9 .4 -30.9 .3 -1.5 .3 -16.4 .4 9.3 .3 10.4 .4 -27.6 .3 20.1 .3 -6.7 .4 13.8 .3 -12.8 .3 4.1 .4 -17.2 .3 15.8 .4 -15.4 .3 .5 .3 -10.3 .4 7.2 .3 -10.1 .4 4.7 .3 -5.9 .3 -13.7 .4 -1.7 .3 9.3 .3 -8.8 .4 -12.7 .3 .5 .4 -11.7 .3 -3.8 .3 -3.4 .4 -4 .3 -7 .3 -7.5 .4 -6.1 .3 -6.6 .4 -4.3 .3 -5 .3 -7.1 .4 -6.3 .3 -4.2 .4 -5.8 .3 -4.9 .3 -3.7 .4 -4.7 .3 -3.3 .3 -3.7 .4 -2.8 .3 -2.5 .4 -2.3 .3 -2.1 .3 -1 .4 -.8 .3 -.7 .3 .4 .4 .7 .3 1.4 .4 1.6 .3 1.7 .3 3 .4 3.1 .3 2.9 .4 3.5 .3 4.7 .3 4.5 .4 3.9 .3 3.9 .3 7.5 .4 4.2 .3 4.7 .4 5.5 .3 5.6 .3 6.4 .4 6.4 .3 7.2 .3 6.3 .4 3.2 .3 3.7 .4 11 .3 1.8 .3 7.4 .4 7.3 .3 -3.1 .4 7.9 .3 4.9 .3 8.3 .4 -3.6 .3 4.6 .3 5.2 .4 13 .3 -10 .4 -1.7 .3 4.4 .3 12.2 .4 -8.4 .3 2.4 .3 8.1 .4 -5.1 .3 11.2 .4 -16.2 .3 4.3 .3 10.5 .4 -2.3 .3 5.2 .4 .3 .3 18.3 .3 -11.1 .4 -9.7 .3 -8.3 .3 22.8 .4 -6 .3 -10.5 .4 5.7 .3 14.4 .3 -14.2 .4 -11.5 .3 3.6 .3 -3.1 .4 23.5 .3 -8.9 .4 -15.2 .3 22 .3 -15.2 .4 -14.9 .3 8.3 .4 -.9 .3 20.9 .3 7.4 .4 1.8 .3 -9.2 .3 -4.2 .4 -5.3 .3 14.5 .4 -11.6 .3 22.8 .3 -12.1 .4 -17.7 .3 -7.7 .3 22.2 .4 -15.8 .3 -1.5 .4 15 .3 7.2 .3 -7.8 .4 -10.6 .3 15.6 .4 -16.8 .3 9.2 .3 -4 .4 -12.3 .3 29.4 .3 -14.6 .4 -20.7 .3 11.2 .4 17.7 .3 -4.1 .3 -9.1 .4 -1 .3 17 .3 5.2 .4 -25.1 .3 32.7 .4 -40.8 .3 27.6 .3 -22.4 .4 -6.1 .3 8.9 .4 5.3 .3 -1.3 .3 17.9 .4 -10.5 .3 -20.3 .3 18.1 .4 -20.4 .3 12 .4 16 .3 -29.7 .3 20.5 .4 -12.9 .3 21.7 .3 3.4 .4 -26 .3 13.3 .4 -10.2 .3 -2.9 .3 23 .4 -21.3 .3 20.2 .4 -5 .3 -20.5 .3 18.3 .4 -11.3 .3 6.2 .3 11 .4 -24.5 .3 -9.8 .4 15.1 .3 -.1 .3 -17.4 .4 40.2 .3 -30.5 .3 4.6 .4 24 .3 -5.1 .4 -27.4 .3 10.8 .3 31.7 .4 -20.7 .3 -10.9 .4 -.4 .3 -9.1 .3 15.5 .4 -2.2 .3 1.7 .3 -3 .4 4.1 .3 14.2 .4 -27.4 .3 -7.4 .3 11.7 .4 6.5 .3 6.5 .3 -10.6 .4 13.2 .3 -21.1 .4 27.7 .3 -21.6 .3 16.8 .4 4.1 .3 -22.2 .4 -11 .3 6 .3 5.4 .4 -3 .3 7.9 .3 2.8 .4 10.9 .3 -19.9 .4 -14.6 .3 23.2 .3 8.1 .4 -21 .3 -4.9 .3 -2.2 .4 4.3 .3 -6.7 .4 33.8 .3 -22.4 .3 -6.6 .4 25.2 .3 -7.4 .4 -6.5 .3 -3.4 .3 -5 .4 -9.1 .3 30.5 .3 -31.2 .4 .5 .3 14.4 .4 10.2 .3 2 .3 -11.8 .4 -5 .3 14.4 .3 .9 .4 5.3 .3 -4 .4 -16.9 .3 -1.2"/><path stroke="#505050" d="M171.0 1070.2l.3 -8.6 .4 -7.1 .3 2.5 .4 16.1 .3 -9.2 .3 9.8 .4 6.4 .3 7 .3 -27.1 .4 11.4 .3 -7.7 .4 -6.3 .3 14.2 .3 -13.7 .4 19.2 .3 3.2 .3 5.9 .4 -17.6 .3 -11.7 .4 -2.1 .3 9.6 .3 -6.2 .4 24.4 .3 -28.3 .4 8.5 .3 17.3 .3 -4.8 .4 -1.3 .3 -.5 .3 -24.9 .4 24.3 .3 11.9 .4 -11.6 .3 -6.2 .3 10.4 .4 -8.9 .3 8.2 .3 3.8 .4 1.1 .3 -23.3 .4 26.4 .3 -29.9 .3 18.6 .4 -12.5 .3 10.7 .4 5.4 .3 -12.4 .3 -1.6 .4 14.2 .3 2.4 .3 -14 .4 1.5 .3 5.2 .4 -15 .3 31.3 .3 -17.7 .4 6 .3 -16.5 .3 20.3 .4 -16.6 .3 19.4 .4 -7.3 .3 -16 .3 20.6 .4 -9.4 .3 15.6 .4 -26.6 .3 17.9 .3 -7.8 .4 -18.1 .3 22.2 .3 -6 .4 13.4 .3 -4.8 .4 -3.3 .3 -4.3 .3 -1.6 .4 -4.7 .3 21.9 .3 -13.1 .4 -3.3 .3 5.1 .4 -14.1 .3 12.8 .3 12 .4 -3.5 .3 -15 .4 13.9 .3 -21.2 .3 9.9 .4 14.2 .3 -10.6 .3 14.6 .4 -15.7 .3 -5.7 .4 -1.2 .3 15.4 .3 3.7 .4 -16.1 .3 -9.7 .3 18.9 .4 -11.4 .3 15.8 .4 -12.2 .3 -5 .3 7.9 .4 10 .3 -10.6 .4 8.4 .3 .6 .3 -6.2 .4 4.5 .3 -2.1 .3 -3.5 .4 .9 .3 -11.5 .4 25.5 .3 -6.6 .3 -.8 .4 5.6 .3 -8.8 .3 -16.6 .4 .9 .3 14.6 .4 -8.8 .3 6.9 .3 16.4 .4 -32.1 .3 16.7 .4 4.2 .3 -17.3 .3 27.2 .4 -12.3 .3 -5.5 .3 15.4 .4 1 .3 -20.2 .4 .8 .3 25 .3 -9.5 .4 -18.1 .3 11.9 .3 6.4 .4 -6.4 .3 -3.5 .4 13.1 .3 -12 .3 -6.5 .4 6.7 .3 4.2 .4 -3.9 .3 3.7 .3 2.8 .4 -21.2 .3 23 .3 -12.2 .4 6.2 .3 -6.9 .4 5.8 .3 -10.6 .3 4.2 .4 -11.4 .3 11.6 .3 -3.6 .4 7.4 .3 11.3 .4 -12.5 .3 -4.7 .3 16.9 .4 -1.4 .3 -18 .4 13.9 .3 7.7 .3 -28.5 .4 17.1 .3 -5.8 .3 18.8 .4 7.2 .3 -20.9 .4 14 .3 -14.5 .3 -10 .4 5.1 .3 14.6 .3 -5.5 .4 7.4 .3 -2.5 .4 7.2 .3 -6.7 .3 10.9 .4 -25.4 .3 5.8 .4 26.6 .3 -28.3 .3 15.6 .4 -12.7 .3 -4.8 .3 12.1 .4 5.4 .3 -1.2 .4 12.2 .3 -27.4 .3 3.8 .4 12 .3 6.4 .3 -15.1 .4 -6.3 .3 -2.6 .4 1 .3 13.8 .3 17.5 .4 -35 .3 2.6 .4 10.5 .3 10.7 .3 -27.2 .4 -.5 .3 10.6 .3 -5.1 .4 13 .3 2.7 .4 -.8 .3 -1.6 .3 -14.7 .4 8.3 .3 1.5 .3 -1.1 .4 12.7 .3 -8.3 .4 -6.4 .3 9.3 .3 2.4 .4 -18.4 .3 5.6 .4 2 .3 -2.4 .3 37.2 .4 -35.1 .3 6.6 .3 -20.4 .4 14.7 .3 1.6 .4 9 .3 -4.8 .3 7.2 .4 -6.5 .3 -16.3 .3 12.2 .4 -15.1 .3 4.6 .4 16.7 .3 4.1 .3 -.1 .4 -1.5 .3 -2.5 .4 -8.9 .3 -7.7 .3 19.8 .4 -6.2 .3 5.9 .3 -13.4 .4 7.5 .3 .3 .4 1 .3 -14.1 .3 6.7 .4 17.7 .3 -8.9 .3 -11.4 .4 24.3 .3 -21.1 .4 2.6 .3 -2.7 .3 24.1 .4 -23.7 .3 1.1 .4 12.3 .3 8 .3 -31.3 .4 6.6 .3 -2.1 .3 10.9 .4 10.4 .3 -5.1 .4 6.3 .3 -14 .3 9 .4 -5.6 .3 17.7 .3 -9.3 .4 -5.2 .3 -15.8 .4 14 .3 6.4 .3 -2.6 .4 -.4 .3 2.4 .4 11.2 .3 -5.4 .3 -28.6 .4 9.6 .3 3.8 .3 12 .4 -22.2 .3 22.1 .4 5.9 .3 -6.1 .3 -7.2 .4 -8.3 .3 29.7 .3 -32.5 .4 12.8 .3 11.1 .4 -26.2 .3 19.3 .3 9.1 .4 -10 .3 -10.3 .4 1.2 .3 -5.9 .3 1.9 .4 11.4 .3 9.5 .3 -21.2 .4 13.8 .3 -12.2 .4 12.7 .3 -17.9 .3 19 .4 -16.1 .3 5.1 .3 -11.8 .4 11.5 .3 -8.9 .4 36.7 .3 -11.1 .3 -22 .4 8.1 .3 -.1 .4 .7 .3 -1.1 .3 7.9 .4 -14.2 .3 -5.2 .3 19.2 .4 -3.4 .3 8.8 .4 -5 .3 -7 .3 15.7 .4 -21.5 .3 17.7 .3 -17.6 .4 10.7 .3 4.5 .4 -17.6 .3 1.8 .3 12.4 .4 5.3 .3 2.1 .4 -13.6 .3 7 .3 -2.2 .4 -12.9 .3 34 .3 -16.3 .4 -13.9 .3 22.9 .4 2.7 .3 -7 .3 -17.8 .4 14.1 .3 -14.5 .3 25.7 .4 -13 .3 -15.8 .4 3.1 .3 -2.5 .3 5.7 .4 12.2 .3 -9.5 .4 .6 .3 -1.5 .3 2.1 .4 10.2 .3 -5.3 .3 -.2 .4 13.3 .3 4.4 .4 -26.3 .3 18.9 .3 -6 .4 13 .3 -20.8 .3 -7 .4 22.3 .3 -23.6 .4 25.1 .3 -22.6 .3 6 .4 -2.3 .3 -3.7 .4 18.7 .3 -11.6 .3 -6.1 .4 -.3 .3 15.9 .3 15 .4 -26.4 .3 3 .4 -.6 .3 -7.1 .3 9.8 .4 -1.2 .3 -11.1 .3 19.1 .4 -12.6 .3 9.3 .4 -6 .3 -5.6 .3 9.1 .4 -3 .3 10.2 .4 -3.5 .3 -16.6 .3 27.6 .4 -29.1 .3 11.7 .3 -5.1 .4 6.5 .3 13.8 .4 -23.3 .3 16.9 .3 -6 .4 15.8 .3 -28.7 .3 23.7 .4 -6.5 .3 -19.4 .4 14.5 .3 -16.3 .3 18.2 .4 5.8 .3 -16.2 .4 20.5 .3 -9.1 .3 -16.3 .4 15.2 .3 10.6 .3 -10.5 .4 14.3 .3 -20.6 .4 17.8 .3 -25.4 .3 25 .4 -9.2 .3 -1.3 .3 8.3 .4 1.5 .3 -27.4 .4 30.6 .3 -18.1 .3 3.2 .4 5.6 .3 -2.9 .4 -5.9 .3 11.6 .3 3.6 .4 -17.3 .3 10.4 .3 -6.9 .4 .5 .3 -3.7 .4 .6 .3 15.8 .3 -15.4 .4 18.1 .3 -24.2 .3 21.6 .4 -19 .3 1.7 .4 -6.6 .3 19.1 .3 -.3 .4 13.3 .3 -13.2 .4 12.8 .3 -2.2 .3 -13.6 .4 -7.2 .3 8.1 .3 -3 .4 5.7 .3 -8.3 .4 13.3 .3 -1.1 .3 -0 .4 -15.2 .3 16.8 .3 5.9 .4 -21.7 .3 -1.3 .4 15.4 .3 .7 .3 -5.6 .4 14.9 .3 -.7 .4 2.8 .3 -15.4 .3 -7.1 .4 -5.8 .3 13.6 .3 3 .4 -.8 .3 -13.9 .4 10.1 .3 -4.2 .3 23.7 .4 -27.8 .3 5.5 .4 10.3 .3 -5.9 .3 -12 .4 20.4 .3 -11.9 .3 4 .4 -2.4 .3 -13.4 .4 35 .3 4.5 .3 -28.9 .4 -6.1 .3 27.2 .3 -19 .4 -14.1 .3 33.8 .4 -26 .3 20.9 .3 4.1 .4 -3.7 .3 5.8 .4 -27.7 .3 20.9 .3 -12.3 .4 -3.4 .3 21.9 .3 -36.5 .4 19.6 .3 -14.4 .4 27.7 .3 -9.6 .3 -10.6 .4 -4.4 .3 16.3 .3 1 .4 .3 .3 1.4 .4 12 .3 -9.5 .3 4.2 .4 -24.5 .3 -7.4 .4 31.7 .3 -6.5 .3 -9.4 .4 -8.3 .3 24.8 .3 -.3 .4 -25.4 .3 13.6 .4 -2 .3 5.2 .3 9.2 .4 2 .3 -26.2 .3 6.8 .4 -2.8 .3 20.3 .4 -11.2 .3 -13.6 .3 10 .4 -14 .3 11.2 .4 24.7 .3 -11 .3 -15.8 .4 15.1 .3 -19.8 .3 23 .4 -4.4 .3 8.8 .4 -3.4 .3 -1.9 .3 -7.7 .4 -9.8 .3 -6.9 .3 19.2 .4 7.2 .3 5.6 .4 -27.2 .3 -1.5 .3 30.3 .4 -12.7 .3 6.6 .4 -8.1 .3 -3 .3 -6.2 .4 13.9 .3 -7 .3 17 .4 -.4 .3 4.4 .4 -6.9 .3 -23.6 .3 24.9 .4 -1.1 .3 -5.1 .3 -4.3 .4 8.3 .3 -25.1 .4 14.5 .3 -9.4 .3 4.2 .4 20 .3 -.2 .4 -26.3 .3 30.9 .3 -7.3 .4 -31.9 .3 9 .3 22.8 .4 -6.3 .3 -18.6 .4 69.5 .3 -50.3 .3 -16.9 .4 6.5 .3 21.7 .3 -12.1 .4 -11.8 .3 -0 .4 24.1 .3 -13.4 .3 -17.9 .4 23.2 .3 -4.3 .4 -6.5 .3 28.4 .3 -31.6 .4 -5.3 .3 8.4 .3 -5.7 .4 -8.3 .3 26.3 .4 6.8 .3 -21.1 .3 18.7 .4 -19.5 .3 24.4 .3 -11.5 .4 -21.1 .3 20 .4 14.4 .3 5.5 .3 -18.7 .4 -4.3 .3 -6.7 .4 -10.2 .3 25.4 .3 -13.6 .4 -.9 .3 21.8 .3 -28.2 .4 -1.8 .3 16.2 .4 8.7 .3 -21.2 .3 13.9 .4 -4.5 .3 -15 .3 5.7 .4 21.5 .3 .4 .4 1.6 .3 1.8 .3 -35 .4 11.5 .3 7.7 .4 1.4 .3 -6.2 .3 27.8 .4 -14.2 .3 1.6 .3 -.4 .4 -14 .3 10.5 .4 -5.6 .3 -8 .3 26.7 .4 -18.8 .3 -3.8 .3 22.5 .4 -4.5 .3 .1 .4 -16 .3 -1.7 .3 -8.3 .4 18.6 .3 8.3 .4 -9.5 .3 6.1 .3 -15.4 .4 18.3 .3 -39.3 .3 19.7 .4 5.6 .3 1 .4 -.4 .3 -3.2 .3 -13.5 .4 27.6 .3 -16 .3 18.9 .4 -.9 .3 -22.4 .4 8.9 .3 -14.2 .3 15.9 .4 5.1 .3 -16.7 .4 11.5 .3 13 .3 -1 .4 10.3 .3 -32 .3 19.5 .4 -12.6 .3 -4.8 .4 27.2 .3 -13.9 .3 -1.2 .4 -23 .3 43.3 .3 -21.2 .4 13.4 .3 -26.8 .4 14.6 .3 -4.7 .3 10.2 .4 11.1 .3 -2.6 .4 -17.2 .3 -6.1 .3 14.5 .4 1.2 .3 -25.2 .3 17.8 .4 -10.6 .3 19.9 .4 -8.2 .3 -1.8 .3 -9 .4 16.7 .3 1.7 .3 -26.6 .4 6 .3 15.8 .4 -13 .3 -8 .3 13.9 .4 -21.4 .3 25.5 .4 3.6 .3 -12.9 .3 30.5 .4 -20 .3 -8.4 .3 8.5 .4 .4 .3 -5.2 .4 19.7 .3 -24.5 .3 6.7 .4 -8.4 .3 -6.1 .3 4 .4 5.9 .3 -.7 .4 9.2 .3 -2.4 .3 -10.3 .4 -1.2 .3 7.9 .4 8.6 .3 5.5 .3 10.4 .4 -12.6 .3 -3.9 .3 10.8 .4 -21.3 .3 5.3 .4 -.2 .3 -6.9 .3 5.7 .4 -3.5 .3 9.6 .3 -2.3 .4 -4.8 .3 -1.2 .4 7.4 .3 -9.8 .3 5.5 .4 -12.7 .3 36.6 .4 -.7 .3 -22.4 .3 13.3 .4 -18.6 .3 5.1 .3 19.8 .4 -11.6 .3 10.6 .4 -13.9 .3 -10.8 .3 6.8 .4 -3.6 .3 .7 .3 -2.3 .4 4.1 .3 -3.1 .4 7.7 .3 -10.9 .3 14 .4 6.7 .3 3.8 .4 -9.3 .3 -26.1 .3 11.1 .4 6.2 .3 -9.6 .3 20.1 .4 8 .3 -3.3 .4 4.4 .3 -27.1 .3 24.7 .4 -12.7 .3 8.5 .3 3.6 .4 17.5 .3 -15.9 .4 3.4 .3 -33.8 .3 33.8 .4 -27.1 .3 -6.1 .4 8.3 .3 4.2 .3 7.9 .4 14 .3 -8 .3 -7.7 .4 -8.1 .3 8.4 .4 -12.7 .3 27.7 .3 -27.9 .4 -7.7 .3 3.7 .3 37.4 .4 -20.4 .3 -2.1 .4 -10.4 .3 19.3 .3 -6 .4 -0 .3 3.5 .4 -18.1 .3 5.8 .3 9.7 .4 -11 .3 -2.6 .3 -3.4 .4 17.3 .3 -10 .4 14.3 .3 -11.4 .3 3.9 .4 5 .3 -2.1 .3 -2.5 .4 -4.5 .3 15.7 .4 .3 .3 4.4 .3 -5.6 .4 -25.6 .3 8.7 .4 19.6 .3 -23.5 .3 21.3 .4 1.9 .3 -22.4 .3 19.7 .4 -2.9 .3 -23 .4 35.9 .3 -5.4 .3 -3.9 .4 -4 .3 -22.4 .3 14.5 .4 -18.5 .3 11 .4 15.6 .3 -16 .3 6.5 .4 4.5 .3 2 .4 3 .3 7.3 .3 1.8 .4 -12.8 .3 1.4 .3 15.5 .4 -8.3 .3 -13.5 .4 -.3 .3 -3.6 .3 16.7 .4 -7 .3 -15.1 .3 14.2 .4 -7.1 .3 7.7 .4 13.5 .3 -25.4 .3 -4.4 .4 14.2 .3 -8 .4 .4 .3 -5.1 .3 -5.6 .4 11.8 .3 23.9 .3 -32.2 .4 9.2 .3 18.7 .4 -16.2 .3 -5 .3 -1.1 .4 -1.6 .3 15 .3 11.4 .4 -6 .3 5.3 .4 -23.1 .3 10.3 .3 10.9 .4 -5 .3 -.8 .4 -17.2 .3 9.2 .3 4.4 .4 10.3 .3 -18.2 .3 15.9 .4 -4.1 .3 -15.1 .4 2.5 .3 -5.7 .3 -4.3 .4 22.5 .3 -17.1 .3 22.6 .4 -1.3 .3 -11.6 .4 20.6 .3 -3.9 .3 .4 .4 -29.9 .3 26.1 .4 .3 .3 -3 .3 -15.3 .4 20.9 .3 .7 .3 -16.8 .4 1.9 .3 -16 .4 7.1 .3 -.3 .3 -1.4 .4 4.6 .3 8.6 .3 9.4 .4 -30.4 .3 6.9 .4 23.6 .3 -3.5 .3 -10 .4 13.2 .3 -12.9 .4 -1.2 .3 5.5 .3 8.3 .4 -4.3 .3 -3.8 .3 -3.9 .4 8.3 .3 -6 .4 -10.9 .3 5.9 .3 7.5 .4 -16 .3 25.9 .3 -23.7 .4 16.7 .3 -6.1 .4 12.9 .3 -8.1 .3 12.3 .4 -4.5 .3 -19.7 .4 -.7 .3 22.2 .3 -18 .4 -.9 .3 -11.1 .3 21.3 .4 -20.2 .3 27.7 .4 -12.5 .3 10.1 .3 3.9 .4 -7.2 .3 -10.9 .3 .6 .4 -12.7 .3 10.6 .4 -1.9 .3 20.4 .3 -3.5 .4 6.7 .3 -27 .4 -2 .3 -10.1 .3 35.1 .4 -5.8 .3 -10.9 .3 -1.3 .4 30 .3 -17.2 .4 7.6 .3 -22.7 .3 17.8 .4 -17.7 .3 6.8 .3 15.7 .4 -3.7 .3 -6.1 .4 .9 .3 7.9 .3 13.7 .4 -35.8 .3 23.5 .4 -4.1 .3 9.2 .3 -.6 .4 -17.9 .3 15.1 .3 -15.5 .4 18.1 .3 -23.4 .4 4.2 .3 -4.7 .3 4.9 .4 20.2 .3 -1.6 .3 -15.5 .4 7.3 .3 -17.4 .4 -1.2 .3 17.4 .3 -16.3 .4 6.4 .3 12.9 .4 -5 .3 -10.3 .3 -11.8 .4 27.5 .3 -10 .3 -15 .4 16 .3 -2.1 .4 14.1 .3 -4.2 .3 -17 .4 -10 .3 4.2 .3 23.7 .4 5.8 .3 -11.3 .4 7.7 .3 -.8 .3 -23 .4 15.6 .3 -12 .4 4.2 .3 -6.8 .3 32.3 .4 -26.2 .3 -3.5 .3 19.9 .4 -15.4 .3 .4 .4 -5 .3 3.3 .3 5.3 .4 15.9 .3 -.9 .3 -16.8 .4 16.9 .3 2.1 .4 -25.2 .3 21.8 .3 -8.4 .4 6.7 .3 -5.3 .4 -16.4 .3 31.7 .3 -.7 .4 -35 .3 20.2 .3 -10.5 .4 23.5 .3 12.6 .4 -25.3 .3 1.5 .3 3.1 .4 -1.7 .3 -16.4 .3 8 .4 3.1 .3 8.6 .4 .6 .3 -21.2 .3 19.4 .4 -1.3 .3 -7.6 .4 -19.8 .3 18.9 .3 26 .4 -10.9 .3 -21 .3 12.9 .4 -21.4 .3 13 .4 5.5 .3 -9.4 .3 -10.5 .4 20.7 .3 -20.8 .3 2.8 .4 22.9 .3 7 .4 -6.3 .3 -10.8 .3 -16.1 .4 26 .3 -9.9 .4 -3.2 .3 2 .3 -5.1 .4 11.7 .3 12.8 .3 -25.2 .4 -11.6 .3 16.3 .4 3.5 .3 -4.2 .3 -8.3 .4 9.9 .3 18.1 .3 4.2 .4 -13.1 .3 -22.7 .4 6.8 .3 5.3 .3 -2.4 .4 -.5 .3 .9 .4 8.6 .3 3 .3 12.1 .4 2.5 .3 -12.1 .3 15.2 .4 -23.1 .3 12 .4 -22 .3 15.2 .3 13.4 .4 2.3 .3 -5 .3 -12.1 .4 14.9 .3 -13.2 .4 1.2 .3 -9.9 .3 10.2 .4 7.9 .3 -20.6 .4 1.2 .3 13 .3 -.8 .4 -12.8 .3 0 .3 1.8 .4 14.7 .3 -8.9 .4 -7.2 .3 17.9 .3 -2.7 .4 -17.8 .3 11.9 .3 -2.1 .4 18.2 .3 -32.6 .4 -6.4 .3 33.2 .3 .3 .4 -11.2 .3 -.9 .4 12.2 .3 6.7 .3 -18.8 .4 4.2 .3 -15.9 .3 11 .4 -3.9 .3 1.4 .4 -17.7 .3 17.4 .3 7.1 .4 27.5 .3 -27.9 .3 13.2 .4 -10.3 .3 8.6 .4 -17.9 .3 12.7 .3 -8.6 .4 -3.2 .3 7 .4 4.1 .3 4.8 .3 -7.8 .4 -.1 .3 10.7 .3 -23.4 .4 22.2 .3 -3.8 .4 10.6 .3 -22.9 .3 3 .4 13 .3 9.5 .3 -30.6 .4 -5.2 .3 11.2 .4 26.9 .3 -38 .3 16.4 .4 11.3 .3 -25.5 .4 4.6 .3 -2.8 .3 -2.7 .4 9.6 .3 18.4 .3 -14 .4 12.1 .3 -16.5 .4 14.6 .3 2.3 .3 -13.6 .4 13.7 .3 -4.6 .3 -10 .4 2.7 .3 17.5 .4 -30.2 .3 19.3 .3 -.5 .4 -3 .3 10.4 .4 -16 .3 -12.5 .3 17.9 .4 -7.8 .3 14 .3 -12 .4 18.6 .3 -10.7 .4 -27.6 .3 31.7 .3 3.4 .4 -.5 .3 -2.5 .3 -17.1 .4 -3.5 .3 -4.8 .4 5.8 .3 -1.1 .3 -4.8 .4 10.7 .3 5 .4 -13.4 .3 18.8 .3 -18.8 .4 27 .3 -12.1 .3 10.7 .4 -3.7 .3 3.4 .4 -8.9 .3 5.2 .3 -14.5 .4 .9 .3 10 .3 -17.5 .4 12.3 .3 6 .4 -19.8 .3 16.5 .3 -1.2 .4 -24.1 .3 15 .4 5.2 .3 2.6 .3 5.6 .4 .8 .3 -9.9 .3 9 .4 -22.8 .3 7.3 .4 12.4 .3 7.2 .3 1.4 .4 -25.3 .3 13.9 .3 5.8 .4 -27.3 .3 2.7 .4 12.4 .3 22.8 .3 -17.5 .4 -.9 .3 10.5 .4 -24.4 .3 36.2 .3 -30 .4 14.5 .3 -.5 .3 -3.4 .4 -17.2 .3 16.1 .4 -9.4 .3 -1.2 .3 1.9 .4 1.2 .3 -4.4 .3 -.6 .4 28.2 .3 -23.5 .4 11.8 .3 -11.6 .3 13.5 .4 -1.4 .3 5.1 .4 -21.6 .3 3.6 .3 2.1 .4 3.7 .3 -9 .3 -.3 .4 6.9 .3 14.2 .4 -8 .3 -2.6 .3 18.6 .4 -15 .3 11.3 .3 -.8 .4 -34.2 .3 21.7 .4 -3 .3 13.2 .3 -7 .4 -22.3 .3 3.5 .4 9.4 .3 5.4 .3 7.7 .4 -12.8 .3 -5.9 .3 4 .4 -5.2 .3 16.6 .4 4.1 .3 1.6 .3 -19.1 .4 30.6 .3 -8.3 .3 .2 .4 -27.2 .3 -4.9 .4 15.5 .3 8 .3 -22.7 .4 6.7 .3 12.6 .4 -4.3 .3 -26.3 .3 14.4 .4 10.7 .3 2 .3 5.4 .4 -27.1 .3 40.2 .4 2.9 .3 -14.2 .3 -5.4 .4 14.5 .3 -17.5 .3 -10.5 .4 9.3 .3 7.3 .4 -9.9 .3 11.6 .3 3.7 .4 -19 .3 19.8 .4 -25.3 .3 -11.5 .3 12.1 .4 18.4 .3 -4 .3 21.7 .4 -37.8 .3 18.9 .4 2.2 .3 -16.2 .3 27.8 .4 -26.9 .3 24.1 .3 -17.8 .4 9.2 .3 3.7 .4 -18.8 .3 -2.9 .3 -3.7 .4 2.1 .3 -5 .4 16.9 .3 -14.4 .3 5.9 .4 15.4 .3 -17.7 .3 3.9 .4 -1.2 .3 36.2 .4 -42.6 .3 17.6 .3 8.5 .4 7.7 .3 -35 .3 6.7 .4 -7.8 .3 5.8 .4 10.7 .3 19.2 .3 -18.6 .4 -2.8 .3 11.8 .4 -24.8 .3 27.9 .3 -16.2 .4 16.2 .3 -19.8 .3 15.3 .4 6.7 .3 -19.4 .4 15 .3 -3.9 .3 -1.3 .4 -10.5 .3 -.2 .4 8.2 .3 .5 .3 -24.9 .4 18.9 .3 -15.3 .3 -8.3 .4 26.4 .3 -12.8 .4 -1.2 .3 3.7 .3 -6.3 .4 -6.3 .3 .8 .3 -3.7 .4 4 .3 3.4 .4 -14.4 .3 12 .3 -6.6 .4 2.8 .3 4.5 .4 -11.7 .3 -2.3 .3 10.4 .4 -1.7 .3 7.1 .3 3.6 .4 -14.5 .3 22.9 .4 -16.4 .3 10.9 .3 10.1 .4 -13.8 .3 -.7 .3 8.7 .4 -7.9 .3 -0 .4 6.7 .3 -7.3 .3 20.5 .4 -5.9 .3 10.9 .4 -4.8 .3 -18.2 .3 30.6 .4 -16.7 .3 8.3 .3 -6.7 .4 20.8 .3 -27 .4 8.1 .3 1.9 .3 7 .4 8.2 .3 -16.9 .3 7.9 .4 13.1 .3 -29.1 .4 30.6 .3 -25.7 .3 5.4 .4 7.5 .3 -10 .4 8.7 .3 4.6 .3 -18 .4 25.2 .3 -25.9 .3 9.1 .4 19.7 .3 -21 .4 5.6 .3 -12.9 .3 20.6 .4 -22.2 .3 22.5 .3 1.4 .4 -2.1 .3 -15.2 .4 .7 .3 11.4 .3 -26.1 .4 -.9 .3 37.1 .4 4.4 .3 -10 .3 7.3 .4 -19.7 .3 8.1 .3 8.6 .4 -10.3 .3 18.7 .4 -35.7 .3 25.2 .3 -36.2 .4 -3.1 .3 21.5 .3 19.2 .4 -28.4 .3 12.6 .4 .5 .3 6.3 .3 2.7 .4 5.3 .3 -1.8 .4 -16.1 .3 12.2 .3 -2 .4 6 .3 .4 .3 -19.4 .4 -12.4 .3 24.2 .4 -7.9 .3 32.1 .3 -8.1 .4 -31 .3 19.4 .3 -6.3 .4 -3.5 .3 10.9 .4 -10.2 .3 -9.6 .3 15.9 .4 -20.8 .3 1.1 .4 33.5 .3 -31.9 .3 14.7 .4 -22.3 .3 29.5 .3 -11.1 .4 3.6 .3 -1.5 .4 -8 .3 -1.9 .3 23.7 .4 -20.2 .3 -17.2 .3 20.7 .4 .5 .3 18.5 .4 -12.7 .3 -28.8 .3 28 .4 5.9 .3 -26.8 .4 23.7 .3 -15.6 .3 11.4 .4 -2.6 .3 2.2 .3 -9.3 .4 -20.4 .3 29.7 .4 -21 .3 17.3 .3 -9.2 .4 -2.9 .3 1.9 .3 -13 .4 -4.8 .3 .5 .4 12.3 .3 -14.2 .3 -2.2 .4 1.2 .3 2.9 .4 -10.3 .3 4.2 .3 -12 .4 9.9 .3 -9.9 .3 6.1 .4 -9 .3 4.3 .4 -8.1 .3 -2.3 .3 -1.6 .4 3.8 .3 -4.5 .3 -2.2 .4 3.9 .3 10.1 .4 -8.4 .3 5.7 .3 4 .4 1 .3 -5 .4 5.1 .3 8.2 .3 -9.6 .4 16.5 .3 -10.1 .3 17.7 .4 -11.1 .3 9.7 .4 -.4 .3 -16 .3 26.4 .4 -14.6 .3 -.7 .3 28 .4 -11.2 .3 3.5 .4 -7.8 .3 15.1 .3 -8.3 .4 -12.3 .3 8.7 .4 17.3 .3 -27.9 .3 14.7 .4 8.1 .3 -7.4 .3 1.7 .4 10.7 .3 -4.7 .4 -20.4 .3 23.2 .3 23.2 .4 -22.8 .3 .3 .3 12.1 .4 -22.8 .3 .5 .4 -1.2 .3 7.9 .3 -10.1 .4 7.7 .3 10.3 .4 -1.2 .3 -5.9 .3 10.8 .4 -6.7 .3 -5.3 .3 11.3 .4 -4.3 .3 -21.1 .4 21 .3 1.8 .3 -3.7 .4 -2.7 .3 8.3 .3 -25.6 .4 9.6 .3 9.1 .4 -9.5 .3 -2.4 .3 -18.2 .4 11.3 .3 12.3 .4 -14.7 .3 -8.2 .3 9.5 .4 2 .3 -3.8 .3 8.7 .4 -22 .3 10 .4 -10 .3 9.6 .3 -4.3 .4 -8.9 .3 12.8 .3 -7.5 .4 9.7 .3 -13 .4 4.2 .3 7.6 .3 -12.7 .4 -.2 .3 9.6 .4 -16.9 .3 16.9 .3 -1 .4 3.3 .3 -4.5 .3 2.8 .4 -.5 .3 .8 .4 13.7 .3 2.5 .3 -4.4 .4 -3 .3 -8.3 .3 4.9 .4 24.7 .3 -9.6 .4 2.2 .3 3.6 .3 -11.7 .4 -10 .3 15.4 .4 -3.3 .3 15.2 .3 -20.2 .4 3.1 .3 6 .3 -.2 .4 -33.6 .3 -34 .4 -39.7 .3 -35.2 .3 -22.2 .4 -7.1 .3 7.7 .3 22.2 .4 38.1 .3 39.3 .4 46.1 .3 23.3 .3 8.9 .4 12.1 .3 -11.2 .4 -12.7 .3 6.3 .3 .1 .4 -14.7 .3 7.2 .3 16.9 .4 -13.3 .3 8.4 .4 -16.5 .3 -1.3 .3 13.9 .4 3 .3 17.5 .3 3.2 .4 -4.4 .3 -42.3 .4 45.2 .3 -21.6 .3 13.1 .4 -11.5 .3 6 .4 -20.5 .3 39.4 .3 -7.9 .4 -7.4 .3 -28.4 .3 18.3 .4 5.7 .3 4.7 .4 -11.1 .3 14.3 .3 -29.2 .4 6.7 .3 -2.7 .3 14.4 .4 -24.7 .3 10.5 .4 7.4 .3 15.5 .3 -26.9 .4 6 .3 -8.9 .4 14.8 .3 -2.8 .3 -12.8 .4 21.4 .3 -16.1 .3 16 .4 -20.6 .3 7.7 .4 -6 .3 16 .3 -8.5 .4 6.8 .3 -8 .3 -.1 .4 1.2 .3 -9.4 .4 16.3 .3 -4.2 .3 3.7 .4 -2.3 .3 .7 .4 -10.7 .3 13.6 .3 -8.3 .4 15.3 .3 -16.8 .3 -6.6 .4 1.1 .3 15.5 .4 -30.3 .3 30.7 .3 -6.2 .4 3.9 .3 6.2 .3 -12.1 .4 5.1 .3 3.7 .4 -16 .3 10.4 .3 -11.1 .4 9.8 .3 -10 .4 8.8 .3 5 .3 -11 .4 .1 .3 -4 .3 7.1 .4 -12.8 .3 2.1 .4 11.8 .3 -7.2 .3 -25.3 .4 13.6 .3 9.2 .3 -8 .4 -12.2 .3 7.8 .4 -7.2 .3 2.6 .3 -6.5 .4 8.2 .3 -10.4 .4 14.1 .3 -7.8 .3 -5.5 .4 -7.2 .3 16.3 .3 -18.7 .4 -4.8 .3 -6.8 .4 .2 .3 -28.3 .3 -23.3 .4 -27.9 .3 -30.1 .3 -31.2 .4 -30.1 .3 -28.5 .4 -26.5 .3 -24 .3 -21.5 .4 -18.7 .3 -15.9 .4 -13.1 .3 -10.2 .3 -7.2 .4 -4.4 .3 -1.4 .3 1.5 .4 4.4 .3 7.4 .4 10.2 .3 13.2 .3 16 .4 18.8 .3 21.5 .3 24.2 .4 26.6 .3 28.7 .4 30.3 .3 30.7 .3 31.1 .4 27 .3 22.1 .4 23.3 .3 7.9 .3 10.9 .4 3.1 .3 17.1 .3 -12.3 .4 .7 .3 6.4 .4 8 .3 -2.4 .3 -5.5 .4 7.3 .3 1.3 .3 -3.6 .4 -3.6 .3 15.2 .4 -16.2 .3 14.1 .3 -5.1 .4 -5.2 .3 -4.7 .4 16.3 .3 -8.7 .3 14.1 .4 -3.3 .3 5.7 .3 -10.5 .4 5.4 .3 -2.1 .4 12.6 .3 1.4 .3 -7.3 .4 -10.6 .3 -.2 .3 -2.9 .4 -5.9 .3 5.5 .4 6.7 .3 -4.2 .3 4.4 .4 .7 .3 15.7 .4 -4.2 .3 7 .3 -20.2 .4 29 .3 -20.3 .3 -9.7 .4 20.3 .3 -6.6 .4 6.3 .3 -8.8 .3 1.1 .4 -10.7 .3 -.4 .3 -.5 .4 8.1 .3 -3.6 .4 -5 .3 2.5 .3 -2.1 .4 2 .3 -6.7 .4 1 .3 -8 .3 5.5 .4 -10.4 .3 .2 .3 -.3 .4 1.5 .3 -3.4 .4 -1 .3 -6.5 .3 -2 .4 -6.5 .3 2 .3 -5.8 .4 -5.5 .3 3.7 .4 -6.7 .3 4.4 .3 -4.7 .4 -5.1 .3 -6.1 .4 -.8 .3 -1.6 .3 .1 .4 -3.2 .3 .7 .3 -1.9 .4 .3 .3 -1.2 .4 2.1 .3 -1.2 .3 .2 .4 .3 .3 1.7 .3 .4 .4 4.9 .3 -1.3 .4 4.3 .3 -.5 .3 6.2 .4 -.8 .3 4.2 .4 2.3 .3 1.6 .3 5.1 .4 -1.1 .3 3 .3 4.4 .4 7.6 .3 -1.2 .4 -.2 .3 8.2 .3 -7.9 .4 12.5 .3 -7.6 .3 6 .4 4.8 .3 -1.8 .4 1.4 .3 10.4 .3 9.8 .4 -8.2 .3 6.6 .4 -1.1 .3 5.7 .3 -12 .4 10.9 .3 -15.4 .3 -5 .4 5 .3 -2.1 .4 5.1 .3 -8.6 .3 -3.3 .4 -3.7 .3 5.4 .3 1 .4 -17.3 .3 .5 .4 -5.4 .3 -9.5 .3 .8 .4 -4 .3 -9.2 .4 -2.4 .3 -10 .3 -2.6 .4 -3.7 .3 -6.3 .3 -5.2 .4 -7.7 .3 -2 .4 -5.2 .3 -4.5 .3 -1.3 .4 -2.5 .3 -3.4 .3 -1.5 .4 -.7 .3 -1.1 .4 .5 .3 1.5 .3 3.3 .4 .8 .3 4 .4 3.1 .3 4 .3 2.8 .4 4.6 .3 6.7 .3 5.1 .4 3.4 .3 3.4 .4 8.8 .3 9.3 .3 2.1 .4 6.7 .3 7.4 .3 5.8 .4 8.2 .3 5.7 .4 .7 .3 1.2 .3 9.9 .4 9.1 .3 -11.8 .4 21.6 .3 2.1 .3 1.1 .4 -16.1 .3 27.4 .3 -17.4 .4 20.7 .3 -29.4 .4 24.7 .3 -24.3 .3 29.9 .4 -17.2 .3 22.9 .3 -4 .4 -1.6 .3 -6.6 .4 15.4 .3 -17.4 .3 4.3 .4 -5.3 .3 -6.7 .4 -3.8 .3 26.9 .3 -2.8 .4 -2.2 .3 10 .3 -22.7 .4 5.7 .3 16.1 .4 -22.6 .3 10.8 .3 -6.5 .4 31.3 .3 -9.2 .3 -9 .4 12.4 .3 -14.1 .4 -1.4 .3 6.4 .3 -20.2 .4 13 .3 .4 .4 8.1 .3 -5.1 .3 33.8 .4 -50.9 .3 -1.2 .3 9.1 .4 -3.9 .3 20.6 .4 -1.1 .3 -22.1 .3 2.4 .4 28.8 .3 -3.3 .3 -23.5 .4 13.2 .3 -8.7 .4 16.5 .3 -13.1 .3 8.7 .4 12.1 .3 -13.2 .4 -20.5 .3 26.1 .3 .7 .4 -1.5 .3 -9.4 .3 19.3 .4 -25.9 .3 -.6 .4 -15.5 .3 12.3 .3 -4.1 .4 15.9 .3 8 .3 -24.8 .4 21.6 .3 -15.6 .4 31.4 .3 -37.2 .3 36.2 .4 -27.3 .3 -5.8 .4 33.4 .3 -14 .3 9.1 .4 3.5 .3 5.1 .3 4.1 .4 -31.6 .3 -.4 .4 16.6 .3 -10.2 .3 1.3 .4 -19.3 .3 -9.2 .3 20.6 .4 -10 .3 27.9 .4 -5.3 .3 -48.6 .3 17.7 .4 37.9 .3 -3.9 .4 10.8 .3 -17.3 .3 29.8 .4 -48.3 .3 38.8 .3 -.4 .4 -17.5 .3 -9.9 .4 16.4 .3 -17.3 .3 -9.6 .4 35.2 .3 -32.5 .3 12.7 .4 -8.3 .3 9.5 .4 -12.1 .3 -1.2 .3 -1.3 .4 4.7 .3 4.2 .4 -9.5 .3 -13.3 .3 36.3 .4 -21.2 .3 -11 .3 40 .4 -3.4 .3 -20.7 .4 -3.4 .3 -2.5 .3 21 .4 -28.7 .3 45.7 .3 -36.7 .4 2.1 .3 41.6 .4 -17.6 .3 -5.4 .3 14.6 .4 -3 .3 -32.9 .4 49 .3 -42.7 .3 15.2 .4 2.5 .3 2.6 .3 -4.9 .4 -29 .3 49.9 .4 -20.3 .3 2.1 .3 -11.1 .4 27.8 .3 -28.2 .3 4.7 .4 -7.4 .3 -21.3 .4 12.1 .3 15.3 .3 14.5 .4 -22.3 .3 32.3 .4 -28.4 .3 -9.5 .3 10.4 .4 -5.9 .3 1.3 .3 17.2 .4 -2.2 .3 -5.7 .4 -7.5 .3 26.1 .3 -5.1 .4 -5.6 .3 21.3 .3 -19.4 .4 -26.8 .3 26.9 .4 -5.9 .3 -21.4 .3 3.6 .4 8.2 .3 -1.4 .4 20.3 .3 -26.7 .3 50 .4 -67.9 .3 16 .3 36.5 .4 -5.2 .3 -19 .4 -3.6 .3 22.6 .3 -29.8 .4 9.4 .3 25.8 .3 -42.1 .4 24.3 .3 -11.7 .4 28.3 .3 11.7 .3 -47 .4 9.7 .3 40.1 .4 -27.3 .3 -7 .3 13.1 .4 -14.8 .3 -24 .3 57.6 .4 -12.8 .3 -38.5 .4 20.1 .3 -25.5 .3 17.5 .4 -7.5 .3 1.2 .3 26.1 .4 22.3 .3 -5.3 .4 -29.4 .3 -21.7 .3 4.7 .4 35.3 .3 12 .4 -7.3 .3 -14.6 .3 -3.4 .4 19.9 .3 -43.9 .3 30.9 .4 12.5 .3 -31.3 .4 29.2 .3 -8.9 .3 6.7 .4 13.7 .3 1.1 .3 -32.2 .4 20.1 .3 -7.7 .4 -.3 .3 .9 .3 -18.6 .4 14.1 .3 9.8 .4 -10.8 .3 21.8 .3 -6.2 .4 -28.6 .3 32.2 .3 -31.7 .4 44.2 .3 -42.1 .4 22.5 .3 -21.5 .3 4.9 .4 16.9 .3 -37.3 .3 27.6 .4 -6.5 .3 12.6 .4 10.4 .3 -25.3 .3 -.2 .4 27.3 .3 -22.1 .4 12.6 .3 -13.3 .3 35.6 .4 5.2 .3 -22.3 .3 -27.9 .4 4 .3 2.8 .4 -18.9 .3 57.1 .3 -36.7 .4 -7.8 .3 27.5 .3 -12.1 .4 32.8 .3 -31.4 .4 4 .3 -16.9 .3 -.3 .4 42.5 .3 -34.4 .4 -7.4 .3 39.6 .3 -49.9 .4 35.5 .3 -16.2 .3 2.9 .4 2.5 .3 -18.7 .4 24.5 .3 21.8 .3 -30.1 .4 11.2 .3 -18.4 .3 11.4 .4 -13.2 .3 -15 .4 37.9 .3 -35.2 .3 47.6 .4 -27.2 .3 -5.3 .4 32.8 .3 -10.6 .3 -25 .4 16.7 .3 -6.1 .3 10.1 .4 -32.5 .3 39.9 .4 -18.4 .3 24.9 .3 -25.7 .4 18.5 .3 -19.7 .3 22.2 .4 -54.8 .3 37.8 .4 -1.3 .3 -11.5 .3 -5.8 .4 4 .3 11.7 .4 2.5 .3 -6.1 .3 12.9 .4 2.8 .3 -20.8 .3 7 .4 -17.3 .3 26.7 .4 -5.9 .3 7.3 .3 -17.8 .4 8.6 .3 11.2 .4 12.8 .3 2.2 .3 -37.4 .4 18.6 .3 -15.8 .3 -9.3 .4 1.2 .3 48.2 .4 -43.4 .3 -.2 .3 23.3 .4 13.6 .3 -23.2 .3 26.4 .4 -4.2 .3 -2 .4 5.2 .3 -37.8 .3 31.9 .4 -37.5 .3 40.1 .4 -19.7 .3 3.3 .3 -27.2 .4 28.9 .3 -16.4 .3 -4.5 .4 8.1 .3 -5.2 .4 1.7 .3 -16.1 .3 17.8 .4 17.3 .3 -24.1 .3 2.7 .4 4.4 .3 7.8 .4 -4.9 .3 16.5 .3 -12.4 .4 -1.6 .3 -4.1 .4 -3.6 .3 12.9 .3 -8.8 .4 18.1 .3 -2.4 .3 -18.3 .4 4 .3 -3.6 .4 17.8 .3 -4.9 .3 .5 .4 -26.7 .3 35.2 .3 14 .4 -18 .3 -13.9 .4 -21 .3 31.5 .3 -20.9 .4 27.8 .3 2.4 .4 2.6 .3 -8.3 .3 -1.1 .4 11.1 .3 -28 .3 -7 .4 -5.5 .3 29.3 .4 -22.4 .3 14.2 .3 19 .4 -3.5 .3 -8.6 .3 -36.9 .4 28.3 .3 24.1 .4 -21.1 .3 9.7 .3 9.2 .4 -20.1 .3 15.9 .4 -21.4 .3 12.2 .3 15.9 .4 -19.8 .3 -28.9 .3 12.6 .4 -4.9 .3 12 .4 -8.6 .3 34.6 .3 -35.7 .4 14.2 .3 -1.7 .3 -.1 .4 -19.9 .3 50.3 .4 4.8 .3 -32.8 .3 6.3 .4 -7.2 .3 23.3 .4 -25.1 .3 -2.5 .3 .7 .4 -5.4 .3 23.3 .3 -18.8 .4 6 .3 -24.9 .4 24.4 .3 -14.1 .3 8.4 .4 2.9 .3 -22.4 .3 17.4 .4 5.5 .3 21.9 .4 16.1 .3 -57.9 .3 19.3 .4 10 .3 -.2 .4 -9.7 .3 -6.9 .3 14.9 .4 7.9 .3 14.3 .3 -59.6 .4 12.7 .3 -12.9 .4 15.7 .3 29.2 .3 -23.2 .4 19.6 .3 -21 .3 19.2 .4 15.1 .3 -32.9 .4 7.2 .3 -13.8 .3 40.4 .4 -47.9 .3 13.7 .4 40.3 .3 -52.5 .3 2.6 .4 33.1 .3 -27.4 .3 -9.5 .4 33.5 .3 1.7 .4 1.8 .3 2.1 .3 -11.1 .4 -13.6 .3 7.5 .3 21.6 .4 -4.4 .3 -19.6 .4 -4.2 .3 29.4 .3 -43.5 .4 11.3 .3 -7.8 .4 17.4 .3 -20.6 .3 36.2 .4 -10.8 .3 -.5 .3 -8.3 .4 .8 .3 43.7 .4 -25.5 .3 -17 .3 -14.6 .4 22.4 .3 -5.8 .3 8.2 .4 -7.9 .3 12.6 .4 14.3 .3 -23.4 .3 26.9 .4 -36.3 .3 -10.9 .4 25.2 .3 -2.6 .3 -10.9 .4 29.4 .3 -47.9 .3 20.4 .4 -8.9 .3 19.2 .4 -12.8 .3 1.5 .3 .9 .4 -.8 .3 -5.2 .3 -6.1 .4 10.7 .3 13 .4 16.5 .3 -18.3 .3 -25 .4 10.8 .3 9.8 .4 -6.2 .3 -7.4 .3 8.1 .4 26.4 .3 -33.4 .3 -4 .4 1.8 .3 15.5 .4 -5 .3 12.7 .3 -17.7 .4 36 .3 -52.5 .3 36.3 .4 -8.2 .3 8.5 .4 -28.9 .3 24.4 .3 7.7 .4 -14.1 .3 11.5 .4 -24.6 .3 -1.9 .3 38.9 .4 -26.8 .3 16.4 .3 -6.1 .4 22.4 .3 -14.1 .4 -13.9 .3 -15.6 .3 28.3 .4 -4 .3 -8 .3 -9.1 .4 15.1 .3 -23.2 .4 20.3 .3 -2.6 .3 -9.6 .4 23.2 .3 -26.1 .4 22.2 .3 -31.6 .3 5.5 .4 -8.6 .3 21.7 .3 24.4 .4 -21.9 .3 -12.5 .4 24.6 .3 12.5 .3 -11.5 .4 -31.6 .3 24.3 .3 -6.8 .4 -4.7 .3 11.5 .4 -19 .3 7.3 .3 8.4 .4 -15.9 .3 23.2 .4 -6.5 .3 6.8 .3 -10.4 .4 6.5 .3 2.6 .3 -22 .4 -2.4 .3 19.3 .4 -.8 .3 -16.5 .3 -1.2 .4 2.5 .3 -15.9 .3 21.2 .4 -12.7 .3 12.5 .4 -12.4 .3 10.9 .3 -13 .4 7.5 .3 -11.4 .4 -9.6 .3 -1 .3 1 .4 14.7 .3 -3.7 .3 -1.3 .4 -12.3 .3 14.1 .4 -17.1 .3 .3 .3 6.8 .4 -11.9 .3 2 .3 3.1 .4 -14 .3 12.8 .4 -7.9 .3 13.2 .3 -9.3 .4 3.4 .3 .8 .4 5.9 .3 3.7 .3 -.6 .4 -1.4 .3 1.2 .3 -2 .4 -1.1 .3 15.6 .4 -14.2 .3 -9.3 .3 18 .4 .9 .3 -6.2 .3 1.6 .4 13.4 .3 -13.2 .4 11 .3 -.4 .3 -3.2 .4 -.5 .3 17.5 .4 -6.8 .3 -7.2 .3 30.6 .4 -9.5 .3 -2.1 .3 -12.8 .4 9.5 .3 -9.7 .4 43 .3 -25.6 .3 -3.4 .4 -20.6 .3 7.5 .3 2 .4 29 .3 -30.9 .4 22.5 .3 -9.6 .3 8.9 .4 -9 .3 -7.9 .4 -.1 .3 -3.5 .3 41.5 .4 -37.2 .3 -.8 .3 23.2 .4 -17.9 .3 23.5 .4 1.8 .3 -38.8 .3 31.3 .4 8.1 .3 7.9 .3 -13.8 .4 -5.9 .3 -4.2 .4 -14.8 .3 12.5 .3 -.3 .4 3.6 .3 -2.1 .4 20.6 .3 -30 .3 14.5 .4 12.8 .3 -9.1 .3 -31.6 .4 10 .3 6.5 .4 -1.3 .3 5 .3 14.3 .4 -17.6 .3 22.7 .3 -34 .4 19.9 .3 -12.2 .4 9.1 .3 5.7 .3 20.4 .4 -3.8 .3 -30.1 .4 -6.8 .3 17.5 .3 -12.7 .4 6.3 .3 24.2 .3 -22.4 .4 16.6 .3 -.6 .4 -14 .3 28.6 .3 -23.3 .4 13.1 .3 -2.9 .3 -10.3 .4 -7.9 .3 14.9 .4 -7.6 .3 -.8 .3 .7 .4 16.6 .3 -27.8 .4 13.3 .3 16.7 .3 -10.4 .4 -9.8 .3 -27.3 .3 33.3 .4 -8.9 .3 -1.3 .4 24.3 .3 6.8 .3 -46 .4 11.4 .3 18.7 .3 18.7 .4 -34.6 .3 15.6 .4 -22 .3 -2.4 .3 26.7 .4 9.6 .3 -20.5 .4 -35.5 .3 9.7 .3 37.9 .4 -30.8 .3 15.8 .3 -20.6 .4 43.1 .3 -33.6 .4 4.4 .3 2.5 .3 -3.1 .4 -15.1 .3 51.3 .3 -18.1 .4 -37.6 .3 30.4 .4 -5.1 .3 -3 .3 19.1 .4 9.3 .3 -43.9 .4 43.3 .3 -10 .3 -6.5 .4 16.4 .3 -1.9 .3 -12.7 .4 -26.8 .3 9.4 .4 -5.4 .3 19.5 .3 7.2 .4 19.1 .3 -27.6 .3 24.8 .4 -39 .3 14.9 .4 31.8 .3 -28 .3 -11.5 .4 45.6 .3 -25.8 .4 -12.3 .3 -5.3 .3 -22.7 .4 29.8 .3 -19.3 .3 50.6 .4 -14.1 .3 -29.9 .4 6.4 .3 7.3 .3 -5.9 .4 -27 .3 31.5 .3 -18.5 .4 29.4 .3 -13.8 .4 -15.4 .3 -4.6 .3 19.7 .4 -14.2 .3 23.5 .4 -21.8 .3 26.4 .3 3.3 .4 -.9 .3 -11.1 .3 1.4 .4 -12.2 .3 -6.9 .4 17.6 .3 -14.3 .3 2.9 .4 32.6 .3 -41.8 .3 8.5 .4 21 .3 8.5 .4 -23 .3 -18.6 .3 1.6 .4 27.6 .3 -11.1 .4 6.6 .3 1.7 .3 1.2 .4 -35.6 .3 40.7 .3 -37.3 .4 33.6 .3 -6.9 .4 9 .3 11 .3 -41.2 .4 -8 .3 52.3 .3 -41.5 .4 21.3 .3 -17.7 .4 7.7 .3 -16.5 .3 26.8 .4 16.7 .3 -2.7 .4 -18.7 .3 -3.5 .3 -21.2 .4 23.4 .3 -5.1 .3 7.3 .4 -10.6 .3 17.2 .4 -6.8 .3 18.7 .3 -37.6 .4 54.8 .3 -24.5 .3 -10.8 .4 1.3 .3 14.9 .4 -55.1 .3 29.7 .3 21.6 .4 6.2 .3 24.1 .4 -34.6 .3 23.4 .3 -36.7 .4 26 .3 -34.2 .3 40.5 .4 -12.3 .3 -22.2 .4 -8.6 .3 24.3 .3 -38.9 .4 5.7 .3 24.1 .3 13.1 .4 -24.4 .3 -20.3 .4 57.8 .3 -46.7 .3 26.2 .4 -18 .3 22.1 .4 -27.5 .3 23.3 .3 -9.1 .4 -2.7 .3 38.4 .3 -29.5 .4 7.6 .3 -22.1 .4 10.5 .3 -8.6 .3 24.6 .4 -10.1 .3 -33.8 .3 31.5 .4 -20.3 .3 36.7 .4 -15.8 .3 -26.7 .3 36.1 .4 8.3 .3 -1.4 .4 -17.7 .3 -9.4 .3 36.8 .4 -17.4 .3 -17.4 .3 -.4 .4 -21.1 .3 17.3 .4 22.5 .3 -29.4 .3 4.1 .4 20.3 .3 -8.5 .3 3.2 .4 -7.3 .3 39.5 .4 -62.6 .3 33.5 .3 -39.7 .4 24.5 .3 -15.9 .4 4.1 .3 44.3 .3 -11.1 .4 -33.6 .3 28.8 .3 -26.5 .4 38.2 .3 -24.9 .4 -.8 .3 -19.9 .3 35.5 .4 -19.9 .3 18.7 .3 -5.5 .4 -13.3 .3 -7.7 .4 15 .3 21.6 .3 -10 .4 5.4 .3 -14.4 .4 -7.5 .3 -16.2 .3 33.4 .4 -28.3 .3 31.4 .3 -8.2 .4 12.8 .3 -39.1 .4 18.3 .3 -5 .3 -11.5 .4 9.5 .3 7.5 .3 24.4 .4 -18.5 .3 -12.4 .4 -3.4 .3 9.4 .3 22 .4 -.2 .3 16.7 .4 .4 .3 -28.3 .3 -31.6 .4 24.1 .3 28.4 .3 -5.4 .4 1.8 .3 -24.6 .4 -24.5 .3 39.3 .3 -19.1 .4 8.3 .3 8.1 .3 -4.5 .4 13.1 .3 6.1 .4 -12.9 .3 2 .3 .5 .4 -17.8 .3 -10.5 .4 13.3 .3 -12.3 .3 -9.5 .4 53.2 .3 -39.8 .3 -.9 .4 -6.7 .3 5.4 .4 18.4 .3 -44.2 .3 22.7 .4 8 .3 35 .3 -32 .4 -26.6 .3 38.1 .4 -10.4 .3 -17.2 .3 17.3 .4 -10.2 .3 -13.4 .4 30.8 .3 .9 .3 -26.3 .4 19.6 .3 -12.7 .3 -5.8 .4 -3.6 .3 58.6 .4 -67.2 .3 50 .3 -25.3 .4 -13.3 .3 23.7 .3 -14.2 .4 -2.9 .3 3.8 .4 -34.4 .3 40.6 .3 -29.6 .4 24.3 .3 -25.2 .4 12 .3 -18.8 .3 -1.8 .4 7.1 .3 -22.3 .3 1.4 .4 -10.2 .3 -18.4 .4 -5.9 .3 -8.5 .3 -11.4 .4 -10.9 .3 -8.9 .3 -2.8 .4 -7.4 .3 -4.6 .4 -3.7 .3 -.4 .3 .9 .4 3.1 .3 6.4 .4 3.8 .3 8.1 .3 9.6 .4 7.5 .3 7.8 .3 10.3 .4 12.4 .3 7 .4 9.8 .3 -3.2 .3 28.2 .4 -13.2 .3 9.8 .3 11.4 .4 21.3 .3 -10.9 .4 8 .3 -19.2 .3 27.9 .4 -16.4 .3 -15.1 .4 15.7 .3 17.7 .3 10.3 .4 -36.4 .3 21.8 .3 15.6 .4 -2 .3 .4 .4 -29.7 .3 36.7 .3 -35.8 .4 27.7 .3 -38.2 .3 36.7 .4 3.8 .3 -21.6 .4 -12.4 .3 30.2 .3 -33.4 .4 30.6 .3 -10.5 .4 32.4 .3 -24.5 .3 -24.8 .4 14.4 .3 24.8 .3 -2.6 .4 -27.5 .3 40.1 .4 -14.2 .3 -14.5 .3 42.6 .4 -73.4 .3 44.9 .3 12.9 .4 -52.4 .3 42.8 .4 -8.3 .3 -17.6 .3 -7 .4 38.1 .3 -41.5 .4 35.4 .3 -21.2 .3 30.7 .4 -47.5 .3 6.8 .3 22 .4 -5.1 .3 -15.7 .4 -20.5 .3 29.7 .3 28.2 .4 -5 .3 -27.9 .3 -10.6 .4 48.6 .3 11 .4 -21.9 .3 -25.6 .3 7.3 .4 -10.3 .3 12.3 .4 4.1 .3 -29.1 .3 43.2 .4 1.4 .3 15.1 .3 -34.2 .4 15.2 .3 -4.8 .4 11.1 .3 .3 .3 -29.3 .4 15.3 .3 12.3 .3 -34.8 .4 36.3 .3 16.5 .4 -14.7 .3 -36.7 .3 4.3 .4 31.9 .3 -32.2 .4 13.4 .3 28.8 .3 -23.3 .4 -8.3 .3 18.1 .3 -25.5 .4 -4.2 .3 23.7 .4 -15.8 .3 -14.1 .3 14.5 .4 5.9 .3 3.1 .3 -20.7 .4 7.7 .3 10.5 .4 -3.1 .3 64 .3 -39.1 .4 3 .3 -20.2 .4 20.6 .3 -46.7 .3 -9.9 .4 48.7 .3 -26.5 .3 35 .4 -38.7 .3 85.5 .4 -51.2 .3 -3.1 .3 -25.6 .4 36.4 .3 -12.6 .3 -20.5 .4 -1.4 .3 26.4 .4 -50.5 .3 52.7 .3 -28.5 .4 -5.7 .3 36.5 .4 -24 .3 19.2 .3 7.5 .4 -4.9 .3 .1 .3 -29.8 .4 10.5 .3 26.1 .4 -50.3 .3 15.7 .3 -8.9 .4 4 .3 -20.4 .3 16.5 .4 31.2 .3 11.2 .4 -53.9 .3 49.4 .3 -38.8 .4 -3 .3 -1.2 .4 43.2 .3 -7.8 .3 6.9 .4 8.2 .3 -48.1 .3 76.1 .4 -46.9 .3 -9.7 .4 -34.1 .3 36.3 .3 12 .4 -20.4 .3 11.7 .3 -22.7 .4 16.6 .3 7.4 .4 -33.4 .3 28.2 .3 -32.7 .4 61.4 .3 -34.4 .4 -14.6 .3 29.7 .3 -15.7 .4 7.4 .3 -1.7 .3 -6.6 .4 37 .3 -57.9 .4 43 .3 -5.2 .3 -9.1 .4 -11.9 .3 -11.7 .3 28.2 .4 16.6 .3 -7 .4 -27 .3 14.5 .3 -16.7 .4 34.1 .3 -32.5 .4 15.2 .3 -15.1 .3 17.6 .4 11.1 .3 -18.5 .3 7.1 .4 -19.6 .3 -22.8 .4 44.2 .3 -20.5 .3 -12.5 .4 -0 .3 3.6 .3 39.9 .4 -21.8 .3 11.6 .4 14.9 .3 -40.7 .3 -2.3 .4 19.3 .3 -35 .4 30.4 .3 32.5 .3 -21.4 .4 39.3 .3 -72.4 .3 17.4 .4 35.5 .3 -12.3 .4 -28.4 .3 26.5 .3 -21.5 .4 -9.8 .3 40.7 .4 4.7 .3 -20.3 .3 -18.7 .4 38 .3 -6.1 .3 -19.2 .4 -6.4 .3 -3.9 .4 45.5 .3 -43.5 .3 25.7 .4 -38.2 .3 2 .3 1.8 .4 39.1 .3 10 .4 -3.1 .3 -44.4 .3 49.9 .4 -44.6 .3 3 .4 2.3 .3 -7.1 .3 1.1 .4 30.5 .3 -15.1 .3 -39.5 .4 17.1 .3 28 .4 -33.8 .3 -4.1 .3 26.9 .4 -6 .3 -1.4 .3 8.8 .4 -13.4 .3 8.3 .4 41.1 .3 -38.7 .3 -.9 .4 4.1 .3 -7.9 .4 .7 .3 -17.8 .3 13.1 .4 29.9 .3 -6.7 .3 -30.2 .4 45.4 .3 -29.5 .4 -21.3 .3 13.5 .3 -4 .4 33.7 .3 -3.2 .3 -35.1 .4 4.9 .3 6.6 .4 8.5 .3 -3.2 .3 9.9 .4 -2.4 .3 4.4 .4 5.5 .3 16.6 .3 -38.2 .4 38.3 .3 -32.8 .3 42.1 .4 -47.5 .3 .9 .4 56.6 .3 -61.7 .3 -10.7 .4 32.1 .3 -17.7 .3 22.8 .4 8.5 .3 -29.1 .4 7.5 .3 11 .3 -17.1 .4 8.4 .3 -29.8 .4 37.6 .3 2.5 .3 -5 .4 -20.1 .3 46.3 .3 -37.4 .4 -3.5 .3 -12.1 .4 -5.1 .3 23.4 .3 -8.9 .4 .3 .3 37 .3 -29.3 .4 24 .3 5.6 .4 -51.7 .3 26.4 .3 19.1 .4 -12.3 .3 -1.3 .4 -16.6 .3 -20.6 .3 39.1 .4 -31.3 .3 50 .3 -32.8 .4 5.3 .3 -15.2 .4 -4.3 .3 3.4 .3 21.9 .4 -8.4 .3 -6.2 .3 21.1 .4 -16.8 .3 -.2 .4 -24.7 .3 28.8 .3 20.9 .4 -29 .3 22.4 .4 -1.3 .3 -37.9 .3 37.7 .4 .4 .3 9.8 .3 1.2 .4 -24.8 .3 40.2 .4 -62.7 .3 -1 .3 37.6 .4 12.7 .3 -24.6 .3 15.1 .4 -2.1 .3 -23 .4 -10.3 .3 30 .3 13.1 .4 -30 .3 33 .4 -36 .3 5.1 .3 4.7 .4 33.1 .3 -63.4 .3 9.6 .4 16.3 .3 12.2 .4 4.5 .3 5.8 .3 -28.5 .4 -1.2 .3 13.6 .3 -11 .4 4.7 .3 -5.3 .4 5.1 .3 -15.7 .3 12.9 .4 -18.5 .3 22.8 .4 10.6 .3 -28.4 .3 9.1 .4 34.4 .3 -35.7 .3 21.3 .4 22.6 .3 -3.8 .4 -.1 .3 -45 .3 -9.8 .4 37.5 .3 -33 .3 -10.9 .4 36.5 .3 -16 .4 24.6 .3 -3.9 .3 -12.2 .4 -4.2 .3 15.6 .4 -21.2 .3 30.1 .3 -1.9 .4 -1.1 .3 13.4 .3 -1.1 .4 -6.2 .3 -10.5 .4 -6.2 .3 21.7 .3 2.1 .4 -41.5 .3 18.1 .3 -13.1 .4 16.5 .3 -13 .4 44.3 .3 -53.3 .3 13.8 .4 37.2 .3 -21.7 .4 -38.1 .3 16.6 .3 -.4 .4 10.5 .3 53.1 .3 -37.1 .4 -25.8 .3 -19.9 .4 36.7 .3 -2.6 .3 27.1 .4 -39.6 .3 2.7 .3 14.8 .4 -16.7 .3 .7 .4 -11.6 .3 7.8 .3 9 .4 -27.6 .3 13.6 .4 17.1 .3 -22.2 .3 20.7 .4 5.9 .3 -26.5 .3 -4.9 .4 19.7 .3 4.2 .4 -37 .3 40.2 .3 14.3 .4 1.9 .3 -19.5 .3 18.6 .4 25.8 .3 -35.6 .4 -25.5 .3 -13 .3 23.7 .4 18.9 .3 6.7 .4 -25.7 .3 -8.9 .3 42.9 .4 -40.8 .3 39.8 .3 -41.1 .4 -14.2 .3 21.5 .4 11.6 .3 -11.6 .3 -13.9 .4 37.4 .3 .1 .3 -31.2 .4 3.3 .3 8 .4 11.8 .3 -9.5 .3 29.2 .4 -58.9 .3 10.5 .4 14.7 .3 20.6 .3 -10.7 .4 3.4 .3 -35.9 .3 38 .4 -14.5 .3 25 .4 -38.4 .3 26.3 .3 1.6 .4 13.3 .3 -7.4 .3 7.7 .4 -32.9 .3 -9.8 .4 -4.5 .3 11.7 .3 25.2 .4 -23.1 .3 20.2 .4 -9.3 .3 9.7 .3 8.7 .4 -24.1 .3 27.5 .3 -13.9 .4 -24.1 .3 2.6 .4 23.9 .3 -12.3 .3 22.2 .4 -6.9 .3 -12.8 .3 -28.9 .4 12.7 .3 22.9 .4 -.7 .3 -20 .3 -6.2 .4 7.2 .3 17.2 .4 -1.4 .3 -12.2 .3 -19.5 .4 -18 .3 34.2 .3 -14.8 .4 64.3 .3 -52.7 .4 15.3 .3 8.3 .3 -29.5 .4 27.7 .3 -13.3 .3 -8.5 .4 37.3 .3 -18.2 .4 11.6 .3 -29.1 .3 25 .4 2.3 .3 -9.6 .4 -18.1 .3 27.8 .3 -25.6 .4 -14.7 .3 32.5 .3 6.8 .4 3.9 .3 -36.8 .4 -5.5 .3 33.1 .3 -34 .4 14.2 .3 10.9 .3 -.7 .4 -2.2 .3 9.7 .4 -32.6 .3 39.7 .3 -24 .4 18.8 .3 21.8 .4 -48.9 .3 6 .3 15 .4 -13.6 .3 32.3 .3 -33 .4 8.4 .3 -13.1 .4 34.7 .3 -7.6 .3 -12 .4 6.3 .3 -7.6 .3 -12 .4 14.9 .3 -32.6 .4 54.8 .3 -25.8 .3 20.6 .4 -37.6 .3 18.5 .4 55.5 .3 -82 .3 -12.1 .4 48.4 .3 8.7 .3 -21.9 .4 18.6 .3 -47.1 .4 29.6 .3 25 .3 -27.6 .4 29.9 .3 -40.3 .3 -6.5 .4 8.3 .3 8.4 .4 -15.8 .3 35.3 .3 -26.8 .4 -4.1 .3 27.9 .4 1 .3 -13.5 .3 14.6 .4 -49.3 .3 59.8 .3 -18.7 .4 -24.9 .3 12.9 .4 -3.4 .3 10.6 .3 -4 .4 -20.7 .3 47.8 .3 -31 .4 4.4 .3 9.5 .4 -18.7 .3 26.6 .3 -3.3 .4 -14.4 .3 23.3 .4 -8.2 .3 -11.5 .3 -22.4 .4 13.6 .3 21.9 .3 -2.9 .4 4.5 .3 8.4 .4 -22.6 .3 24.7 .3 -11.7 .4 -23 .3 -.3 .3 26.9 .4 -44.4 .3 45.1 .4 -18 .3 -40.2 .3 25.8 .4 21.8 .3 6 .4 -43.9 .3 2.5 .3 44.1 .4 -.1 .3 21.3 .3 -59.1 .4 33.4 .3 -8.9 .4 6 .3 -20.7 .3 8.7 .4 7.1 .3 -27.2 .3 19.9 .4 -22.2 .3 32 .4 -37.3 .3 -.4 .3 17.7 .4 37.4 .3 -15.3 .4 -2.6 .3 -24.7 .3 .3 .4 12.6 .3 6.8 .3 -2.1 .4 -31.1 .3 23.3 .4 -15.8 .3 37.3 .3 -1.4 .4 -10.5 .3 -9.1 .3 17.5 .4 -2.2 .3 .7 .4 -26.7 .3 21.1 .3 -7.3 .4 -.4 .3 21.8 .4 -20.4 .3 6.4 .3 25.8 .4 -43.9 .3 -1.7 .3 43.2 .4 -27.3 .3 1.3 .4 -6.4 .3 25.8 .3 -12.4 .4 8.7 .3 -7.9 .3 .5 .4 -27 .3 14.2 .4 -17.5 .3 13.9 .3 17.3 .4 -1.9 .3 -52.1 .4 38.5 .3 -18.8 .3 45.7 .4 -5 .3 .5 .3 -34.9 .4 42.2 .3 -10.3 .4 29.5 .3 -52.5 .3 11.7 .4 -19.9 .3 39.8 .3 -18.2 .4 -35.7 .3 23.2 .4 7.6 .3 22.1 .3 -45.8 .4 14.7 .3 36.4 .4 -49.2 .3 46.7 .3 -43.6 .4 .3 .3 2.4 .3 1.4 .4 -22.1 .3 103.3 .4 -66 .3 31.1 .3 -15.4 .4 -47.7 .3 65.7 .3 -32.7 .4 11.4 .3 -23.4 .4 36.6 .3 -53.5 .3 14.2 .4 32.7 .3 -14.3 .4 15.1 .3 -43.6 .3 24.7 .4 4.1 .3 .2 .3 -44.7 .4 11 .3 26.9 .4 5.5 .3 5.9 .3 -3 .4 -2.8 .3 10.2 .3 -21.5 .4 20.4 .3 -22.3 .4 .9 .3 6.7 .3 -6 .4 -15.2 .3 38.4 .4 -11.8 .3 4.3 .3 -40.8 .4 39.5 .3 14.5 .3 -29.8 .4 5.6 .3 -18.7 .4 33.5 .3 -16.2 .3 -13.7 .4 36.3 .3 -10.1 .3 -3.6 .4 16.9 .3 -36.5 .4 16.9 .3 14.3 .3 -51.9 .4 21.4 .3 23.1 .4 -.5 .3 10.4 .3 -15.1 .4 -24.2 .3 20.9 .3 22.4 .4 -47.5 .3 -4.5 .4 18.5 .3 -14 .3 8 .4 22.8 .3 -11.2 .3 -2.9 .4 27.5 .3 -57.5 .4 44.8 .3 -10.4 .3 5.3 .4 -5.1 .3 8.1 .4 -19 .3 -22.7 .3 5.6 .4 13.7 .3 -9.7 .3 3.9 .4 11.2 .3 27.5 .4 -26.1 .3 -.3 .3 51.7 .4 -61.8 .3 1.9 .3 26.1 .4 2.5 .3 .8 .4 -29.3 .3 20.4 .3 -16.7 .4 54.3 .3 -33.4 .4 4.5 .3 -23.6 .3 35.9 .4 -60.4 .3 35 .3 -23.2 .4 28.2 .3 -18.8 .4 6.4 .3 2.2 .3 5.6 .4 -22.2 .3 -15.3 .3 1.3 .4 24.2 .3 -4 .4 -12.8 .3 20.7 .3 -14.6 .4 -6.4 .3 -.1 .4 -3.2 .3 12.3 .3 -9.9 .4 10.3 .3 -1.9 .3 -9.1 .4 15.2 .3 7.3 .4 -10.5 .3 -1.7 .3 -11.8 .4 18.5 .3 -4.5 .3 -25.3 .4 24.9 .3 -16.7 .4 17.3 .3 -15.5 .3 -4.7 .4 13.4 .3 -20.8 .4 15.2 .3 1.6 .3 -14.7 .4 19.3 .3 -2.1 .3 -2.6 .4 -5.7 .3 -6.1 .4 9.9 .3 -1.7 .3 -8.5 .4 11 .3 -4.8 .3 -4 .4 -20.4 .3 11.2 .4 5 .3 -7.2 .3 -3.5 .4 -.1 .3 10.7 .4 -7.8 .3 3.3 .3 2.6 .4 -3.2 .3 4.1 .3 -8.3 .4 6 .3 -13.8 .4 4.5 .3 -10.6 .3 17 .4 -8.5 .3 -4.6 .3 15.3 .4 -10.9 .3 17.2 .4 -19.7 .3 -5.9 .3 8.1 .4 -1.3 .3 2.5 .4 1 .3 1.4 .3 -5.4 .4 -4 .3 8.6 .3 -6 .4 16.9 .3 -15.6 .4 4.9 .3 6.6 .3 8.4 .4 -11.8 .3 8.7 .3 -4.2 .4 -2.5 .3 -4.5 .4 5 .3 5.9 .3 1.7 .4 5.3 .3 5.1 .4 -8.1 .3 3.3 .3 -16.1 .4 10.7 .3 -4.3 .3 11.9 .4 -8.3 .3 5.6 .4 4.3 .3 -2 .3 13 .4 -8.4 .3 1.8 .3 5 .4 -17.9 .3 23.1 .4 -8.1 .3 15 .3 1.6 .4 -14.5 .3 10.4 .4 -9 .3 4.8 .3 13.7 .4 -14.4 .3 -16.4 .3 6.9 .4 19 .3 -24.9 .4 18.7 .3 1 .3 -15.5 .4 13.3 .3 -9.2 .3 25.8 .4 -1.3 .3 -4.4 .4 -16 .3 11.1 .3 -.5 .4 8.5 .3 -12.7 .4 -4.4 .3 24.8 .3 -28.7 .4 1.6 .3 14.4 .3 13.9 .4 -5.1 .3 -36.1 .4 31.9 .3 -22.2 .3 -6.4 .4 45.3 .3 -46.7 .3 25.3 .4 3.6 .3 -20 .4 7.9 .3 -6.9 .3 18.9 .4 -15.3 .3 25.2 .4 -.8 .3 -5.1 .3 -30.4 .4 22.3 .3 1.4 .3 -12.1 .4 20.1 .3 .1 .4 1.8 .3 -24 .3 8.5 .4 15.1 .3 -21.1 .3 10.6 .4 13.4 .3 -28.7 .4 18 .3 12.7 .3 1.4 .4 -12.9 .3 -7.6 .4 -7.2 .3 15.4 .3 13.9 .4 -14.2 .3 9.4 .3 -27.1 .4 11.2 .3 14.9 .4 .6 .3 -36.6 .3 3.7 .4 18.2 .3 .4 .3 7 .4 -.3 .3 -22 .4 12.3 .3 10.5 .3 -14.4 .4 17.9 .3 -22.2 .4 -2.8 .3 5.5 .3 -7.1 .4 4.1 .3 8.1 .3 4.9 .4 6.7 .3 -9.7 .4 6.2 .3 15.2 .3 -9.3 .4 -3.4 .3 -31.3 .3 1.6 .4 30.2 .3 -22.9 .4 23.7 .3 -20.3 .3 15.2 .4 5.6 .3 -28.9 .4 34.9 .3 -25.4 .3 -11.1 .4 15.5 .3 .7 .3 5.5 .4 -21.1 .3 6.7 .4 24.7 .3 -21.6 .3 18.9 .4 -9.8 .3 .5 .3 -6 .4 7.7 .3 -4.1 .4 35.8 .3 -31.9 .3 13.6 .4 -15 .3 2.6 .4 -4.3 .3 9.4 .3 8.9 .4 -28.8 .3 44.3 .3 -14.5 .4 -10.2 .3 8.1 .4 -35.2 .3 12.5 .3 6.2 .4 -1 .3 -11.8 .3 16.4 .4 -9.3 .3 -9.2 .4 6.2 .3 22.7 .3 -19.7 .4 11.8 .3 6.4 .4 -3.3 .3 -21.3 .3 19.8 .4 -.3 .3 -9.4 .3 -9.7 .4 19.3 .3 6.2 .4 -14.3 .3 -3.5 .3 -11.6 .4 32.7 .3 -12.3 .3 -20.4 .4 26 .3 -25.8 .4 29 .3 -.7 .3 5.8 .4 -8.5 .3 -28.8 .4 26.3 .3 -21 .3 6.1 .4 13.3 .3 10.5 .3 -16.8 .4 -18.9 .3 33.6 .4 -10.9 .3 4.6 .3 -30 .4 36.7 .3 -32.9 .3 18.7 .4 18.5 .3 -15.5 .4 -1.5 .3 -4.3 .3 29.6 .4 -52.1 .3 10.9 .4 35.2 .3 -20.7 .3 12.8 .4 -19.6 .3 -2 .3 2 .4 1.4 .3 8.5 .4 15.4 .3 -4.6 .3 4.3 .4 -26.1 .3 15.3 .3 -14.1 .4 -21.7 .3 23.4 .4 14 .3 -22.7 .3 25.8 .4 -22.5 .3 29.2 .4 -4 .3 -31.2 .3 3.3 .4 -2.9 .3 2.8 .3 -8 .4 27.6 .3 -4.6 .4 15.9 .3 -29.5 .3 -5.8 .4 41.1 .3 -27.1 .3 11.5 .4 -7.8 .3 -17.2 .4 25.4 .3 10.5 .3 -17 .4 -4.3 .3 19.2 .4 -15.5 .3 -23.8 .3 41.8 .4 18.2 .3 -17.3 .3 .3 .4 2.8 .3 -38.3 .4 .3 .3 9.4 .3 4 .4 24.1 .3 -30.5 .4 16.2 .3 -16.3 .3 -7.5 .4 11.3 .3 -.4 .3 14.8 .4 -10.2 .3 10.2 .4 -24.2 .3 -4.9 .3 12 .4 3.5 .3 2.3 .3 -11.9 .4 39.2 .3 -36.9 .4 42.3 .3 -26.7 .3 -21.5 .4 21.8 .3 -22.2 .4 14.9 .3 -18.9 .3 27.8 .4 12.6 .3 -30.3 .3 15.7 .4 -29 .3 -.1 .4 22.8 .3 -27.8 .3 17.3 .4 -4.2 .3 53.7 .3 -49.2 .4 -7.3 .3 12.3 .4 4.9 .3 -13.3 .3 37.3 .4 -34.7 .3 21.5 .4 -11 .3 9.5 .3 -14.7 .4 -10.2 .3 12.5 .3 2.9 .4 -16.5 .3 22.1 .4 -40.6 .3 23.9 .3 58.3 .4 -59.2 .3 24.9 .3 -36 .4 48.9 .3 -57 .4 11.1 .3 45.5 .3 -20.4 .4 16.1 .3 -24.8 .4 19.3 .3 -32.2 .3 27.8 .4 16.5 .3 -33.4 .3 8.7 .4 -22.8 .3 48.4 .4 -7.7 .3 -21.7 .3 -14.3 .4 19.6 .3 22.1 .3 -6.3 .4 -25 .3 -7.4 .4 -9.3 .3 14.6 .3 7.8 .4 -23 .3 9 .4 8.1 .3 25.5 .3 -21 .4 49.8 .3 -41.2 .3 -28 .4 29.6 .3 11 .4 -59.2 .3 61.5 .3 -37.5 .4 33.9 .3 -1.3 .3 10.7 .4 -53.6 .3 6.2 .4 27.8 .3 20.8 .3 -41.4 .4 2.4 .3 -1.2 .4 33.4 .3 -39.1 .3 -11.1 .4 51.1 .3 -37.4 .3 28.8 .4 -3.7 .3 15.1 .4 -39.6 .3 -13.7 .3 32.7 .4 -19.2 .3 -8.2 .3 25 .4 -25.2 .3 42.4 .4 -12.2 .3 -5.9 .3 -7.4 .4 -4 .3 12.3 .4 5.5 .3 -32.9 .3 30.6 .4 -32.7 .3 30.3 .3 4.8 .4 -32.8 .3 -12.2 .4 29 .3 -1.5 .3 10.6 .4 -21.7 .3 47 .3 -53.1 .4 29.4 .3 -15.2 .4 1.8 .3 16.5 .3 -7.5 .4 -4.1 .3 -28.2 .4 9.3 .3 18.1 .3 10.6 .4 -7.2 .3 -17.1 .3 -10.3 .4 42.5 .3 -47.5 .4 24.2 .3 -8.7 .3 -11.4 .4 19.6 .3 15.6 .3 1.2 .4 2.3 .3 -44.1 .4 39.2 .3 -13.8 .3 -14.3 .4 5.4 .3 -3.4 .4 32.3 .3 -31.4 .3 37.8 .4 -55.7 .3 47.9 .3 4.9 .4 -8.7 .3 -38.9 .4 38.2 .3 -32.2 .3 6.9 .4 19.1 .3 -20.4 .3 26.5 .4 -19.2 .3 -3.8 .4 -6.1 .3 15.1 .3 -20.6 .4 35.3 .3 15.9 .4 -42.3 .3 12.1 .3 10.5 .4 -2.5 .3 -20.4 .3 5.7 .4 -18.8 .3 32.1 .4 -3.1 .3 -11.8 .3 9.2 .4 6.5 .3 -34.6 .3 5.6 .4 27.7 .3 -28 .4 40.1 .3 -49.7 .3 13.8 .4 -5.4 .3 26.1 .4 -3 .3 -22.7 .3 5.6 .4 -3.2 .3 19.6 .3 -28.4 .4 15.6 .3 22.6 .4 -21.2 .3 7.8 .3 -22.3 .4 -1.5 .3 20.6 .3 6.2 .4 -27.5 .3 9.1 .4 -11.7 .3 11.6 .3 3.7 .4 9 .3 -9.6 .4 -14.5 .3 -3.9 .3 22.8 .4 -9.2 .3 16.4 .3 -3.8 .4 -19.1 .3 13.1 .4 -26.8 .3 24.4 .3 -19.7 .4 10.5 .3 -.2 .3 2.9 .4 -12.7 .3 -8.1 .4 10.3 .3 4.4 .3 -.7 .4 1.1 .3 -14.1 .4 -4.6 .3 -9 .3 5.7 .4 -4.3 .3 -2.4 .3 -4.4 .4 -14.7 .3 7.3 .4 -6.5 .3 -10.1 .3 -2 .4 .4 .3 -9.9 .3 -5.4 .4 -5.4 .3 -7.8 .4 -3.7 .3 -4.4 .3 -5.8 .4 -5.1 .3 -3.9 .4 -6.5 .3 -2.3 .3 -4.8 .4 -4 .3 -4.4 .3 -3.5 .4 -2.6 .3 -2.7 .4 -2.4 .3 -1.4 .3 -.5 .4 -1.8 .3 -.5 .3 .3 .4 1.7 .3 .1 .4 1.8 .3 1.5 .3 2.5 .4 3.1 .3 2.5 .4 3.1 .3 5.4 .3 2.9 .4 4.6 .3 5.6 .3 3 .4 6.9 .3 3.2 .4 4.5 .3 4.6 .3 9.4 .4 3.8 .3 8.5 .3 3.8 .4 3 .3 4.7 .4 5.6 .3 3.2 .3 9.7 .4 -7.8 .3 10.9 .4 -7.2 .3 15.9 .3 .9 .4 -7.5 .3 13.1 .3 -12.4 .4 17.5 .3 9.4 .4 -10 .3 -5.2 .3 25.6 .4 4.3 .3 -14 .3 -.9 .4 5.8 .3 -18.5 .4 2.5 .3 23 .3 -2 .4 1.8 .3 1.2 .4 -12.6 .3 4.6 .3 4.2 .4 5.1 .3 -4.2 .3 -11.3 .4 8.6 .3 -9.3 .4 24.9 .3 -5 .3 -9.9 .4 -16.9 .3 33.3 .3 -16.5 .4 16.4 .3 -15.2 .4 -18.2 .3 6.8 .3 .2 .4 27.2 .3 -8 .4 -6.1 .3 3.7 .3 6.6 .4 -27.8 .3 40.8 .3 4.7 .4 -46.2 .3 4.3 .4 7.1 .3 16.1 .3 -14.1 .4 31 .3 -8.4 .3 -9.4 .4 8.4 .3 -6.8 .4 -28.2 .3 20.2 .3 20.9 .4 -18.4 .3 11.6 .4 -25.1 .3 6.9 .3 -27.5 .4 7.9 .3 23.4 .3 17.8 .4 -1 .3 -19.4 .4 -8.7 .3 -10.4 .3 18.1 .4 -7.8 .3 6.5 .3 -14.3 .4 24.2 .3 5.8 .4 -23.1 .3 -7.8 .3 14.6 .4 2 .3 16.3 .4 -4.7 .3 -17.1 .3 28 .4 -37.3 .3 -3.8 .3 24.7 .4 -18 .3 16.8 .4 -14.7 .3 15.1 .3 .1 .4 -4.7 .3 -9.9 .3 4.1 .4 15.6 .3 -22.3 .4 31.2 .3 -5.4 .3 -40.4 .4 38.5 .3 -25.9 .4 -5.8 .3 33 .3 -23.8 .4 9.5 .3 5.3 .3 5.1 .4 27 .3 -30.8 .4 -21.1 .3 16.5 .3 -11.4 .4 4.4 .3 -10.2 .3 7.7 .4 11.4 .3 2.4 .4 -14.1 .3 19.9 .3 -17.8 .4 13.2 .3 -5.7 .4 -26.1 .3 4.4 .3 23.9 .4 -.2 .3 5.8 .3 -35.4 .4 34.7 .3 -10.5 .4 4.3 .3 6 .3 -30.3 .4 4.7 .3 -1.7 .3 11.9 .4 -2 .3 .2 .4 10.2 .3 -11.7 .3 -12.5 .4 24.6 .3 -38.1 .4 6.3 .3 14.6 .3 -1.5 .4 18.3 .3 -1 .3 -20.6 .4 8.6 .3 12.2 .4 -26 .3 22.9 .3 -27.1 .4 11.8 .3 3.4 .3 -8.7 .4 15.2 .3 -3.8 .4 18 .3 -14.2 .3 -1.7 .4 4.4 .3 -3.5 .4 -5.4 .3 9.2 .3 -16 .4 11.3 .3 -5.1 .3 -.2 .4 -7.4 .3 19.8 .4 -27.6 .3 20.1 .3 9 .4 -13.5 .3 5.9 .3 1.5 .4 -1 .3 -7.6 .4 7.9 .3 -4.9"/></g><g stroke-width="8.0" stroke-linecap="round" fill="none"><path d="M287.7 435.8V466.0" stroke="#065c5c"/><path d="M689.3 457.5V488.1" stroke="#065c5c"/><path d="M738.0 511.2V540.0" stroke="#3b3b3b"/><path d="M829.0 26.0V41.0" stroke="#3b3b3b"/><path d="M871.0 393.4V423.1" stroke="#065c5c"/><path d="M889.4 489.5V519.3" stroke="#3b3b3b"/><path d="M926.6 489.5V519.3" stroke="#065c5c"/><path d="M1131.8 510.8V541.2" stroke="#065c5c"/><path d="M1271.0 581.2V610.5" stroke="#065c5c"/><path d="M1484.9 549.6V580.3" stroke="#065c5c"/><path d="M1578.0 550.5V579.4" stroke="#3b3b3b"/><path d="M1604.8 489.0V519.7" stroke="#065c5c"/><path d="M1789.0 481.5V512.0" stroke="#3b3b3b"/><path d="M1795.5 481.5V512.0" stroke="#065c5c"/></g><g font-family="Liberation Sans, Arial, sans-serif" font-weight="bold" font-size="58" style="font-kerning:none"><text transform="translate(307.8 420.0) rotate(-90)" fill="#078383">(111)</text><text transform="translate(708.5 443.3) rotate(-90)" fill="#078383">(220)</text><text transform="translate(757.5 495.2) rotate(-90)" fill="#3c3c3c">(100)</text><text transform="translate(902.5 178.0) rotate(-90)" fill="#3c3c3c">(002)</text><text transform="translate(891.0 378.0) rotate(-90)" fill="#078383">(311)</text><text transform="translate(938.5 473.5) rotate(-90)" fill="#3c3c3c">(101)</text><text transform="translate(990.5 487.2) rotate(-90)" fill="#078383">(222)</text><text transform="translate(1151.2 496.4) rotate(-90)" fill="#078383">(400)</text><text transform="translate(1291.0 453.0) rotate(-90)" fill="#3c3c3c">(102)</text><text transform="translate(1288.0 579.4) rotate(-90)" fill="#078383">(331)</text><text transform="translate(1504.0 535.2) rotate(-90)" fill="#078383">(422)</text><text transform="translate(1569.5 549.3) rotate(-90)" fill="#3c3c3c">(110)</text><text transform="translate(1624.0 473.3) rotate(-90)" fill="#078383">(511)</text><text transform="translate(1818.5 338.2) rotate(-90)" fill="#3c3c3c">(103)</text><text transform="translate(1815.0 467.3) rotate(-90)" fill="#078383">(440)</text></g><path d="M255.5 1387.5v-7.0M255.5 27.0v7.0M340.1 1387.5v-15.0M340.1 27.0v15.0M424.6 1387.5v-7.0M424.6 27.0v7.0M509.1 1387.5v-15.0M509.1 27.0v15.0M593.6 1387.5v-7.0M593.6 27.0v7.0M678.1 1387.5v-15.0M678.1 27.0v15.0M762.7 1387.5v-7.0M762.7 27.0v7.0M847.2 1387.5v-15.0M847.2 27.0v15.0M931.7 1387.5v-7.0M931.7 27.0v7.0M1016.2 1387.5v-15.0M1016.2 27.0v15.0M1100.8 1387.5v-7.0M1100.8 27.0v7.0M1185.3 1387.5v-15.0M1185.3 27.0v15.0M1269.8 1387.5v-7.0M1269.8 27.0v7.0M1354.3 1387.5v-15.0M1354.3 27.0v15.0M1438.9 1387.5v-7.0M1438.9 27.0v7.0M1523.4 1387.5v-15.0M1523.4 27.0v15.0M1607.9 1387.5v-7.0M1607.9 27.0v7.0M1692.5 1387.5v-15.0M1692.5 27.0v15.0M1777.0 1387.5v-7.0M1777.0 27.0v7.0M171.0 203.8h15.0M1861.5 203.8h-15.0M171.0 150.5h7.0M1861.5 150.5h-7.0M171.0 119.4h7.0M1861.5 119.4h-7.0M171.0 97.3h7.0M1861.5 97.3h-7.0M171.0 80.2h7.0M1861.5 80.2h-7.0M171.0 66.2h7.0M1861.5 66.2h-7.0M171.0 54.4h7.0M1861.5 54.4h-7.0M171.0 44.1h7.0M1861.5 44.1h-7.0M171.0 35.1h7.0M1861.5 35.1h-7.0M171.0 380.5h15.0M1861.5 380.5h-15.0M171.0 327.3h7.0M1861.5 327.3h-7.0M171.0 296.2h7.0M1861.5 296.2h-7.0M171.0 274.1h7.0M1861.5 274.1h-7.0M171.0 257.0h7.0M1861.5 257.0h-7.0M171.0 243.0h7.0M1861.5 243.0h-7.0M171.0 231.1h7.0M1861.5 231.1h-7.0M171.0 220.9h7.0M1861.5 220.9h-7.0M171.0 211.8h7.0M1861.5 211.8h-7.0M171.0 557.2h15.0M1861.5 557.2h-15.0M171.0 504.0h7.0M1861.5 504.0h-7.0M171.0 472.9h7.0M1861.5 472.9h-7.0M171.0 450.8h7.0M1861.5 450.8h-7.0M171.0 433.7h7.0M1861.5 433.7h-7.0M171.0 419.7h7.0M1861.5 419.7h-7.0M171.0 407.9h7.0M1861.5 407.9h-7.0M171.0 397.6h7.0M1861.5 397.6h-7.0M171.0 388.6h7.0M1861.5 388.6h-7.0M171.0 734.0h15.0M1861.5 734.0h-15.0M171.0 680.8h7.0M1861.5 680.8h-7.0M171.0 649.7h7.0M1861.5 649.7h-7.0M171.0 627.6h7.0M1861.5 627.6h-7.0M171.0 610.5h7.0M1861.5 610.5h-7.0M171.0 596.5h7.0M1861.5 596.5h-7.0M171.0 584.6h7.0M1861.5 584.6h-7.0M171.0 574.4h7.0M1861.5 574.4h-7.0M171.0 565.3h7.0M1861.5 565.3h-7.0M171.0 910.8h15.0M1861.5 910.8h-15.0M171.0 857.5h7.0M1861.5 857.5h-7.0M171.0 826.4h7.0M1861.5 826.4h-7.0M171.0 804.3h7.0M1861.5 804.3h-7.0M171.0 787.2h7.0M1861.5 787.2h-7.0M171.0 773.2h7.0M1861.5 773.2h-7.0M171.0 761.4h7.0M1861.5 761.4h-7.0M171.0 751.1h7.0M1861.5 751.1h-7.0M171.0 742.1h7.0M1861.5 742.1h-7.0M171.0 1087.5h15.0M1861.5 1087.5h-15.0M171.0 1034.3h7.0M1861.5 1034.3h-7.0M171.0 1003.2h7.0M1861.5 1003.2h-7.0M171.0 981.1h7.0M1861.5 981.1h-7.0M171.0 964.0h7.0M1861.5 964.0h-7.0M171.0 950.0h7.0M1861.5 950.0h-7.0M171.0 938.1h7.0M1861.5 938.1h-7.0M171.0 927.9h7.0M1861.5 927.9h-7.0M171.0 918.8h7.0M1861.5 918.8h-7.0M171.0 1264.2h15.0M1861.5 1264.2h-15.0M171.0 1211.0h7.0M1861.5 1211.0h-7.0M171.0 1179.9h7.0M1861.5 1179.9h-7.0M171.0 1157.8h7.0M1861.5 1157.8h-7.0M171.0 1140.7h7.0M1861.5 1140.7h-7.0M171.0 1126.7h7.0M1861.5 1126.7h-7.0M171.0 1114.9h7.0M1861.5 1114.9h-7.0M171.0 1104.6h7.0M1861.5 1104.6h-7.0M171.0 1095.6h7.0M1861.5 1095.6h-7.0M171.0 1356.7h7.0M1861.5 1356.7h-7.0M171.0 1334.6h7.0M1861.5 1334.6h-7.0M171.0 1317.5h7.0M1861.5 1317.5h-7.0M171.0 1303.5h7.0M1861.5 1303.5h-7.0M171.0 1291.6h7.0M1861.5 1291.6h-7.0M171.0 1281.4h7.0M1861.5 1281.4h-7.0M171.0 1272.3h7.0M1861.5 1272.3h-7.0" stroke="#000" stroke-width="3.3" fill="none"/><g font-family="Liberation Sans, Arial, sans-serif" font-size="48" fill="#000"><rect x="1008" y="24" width="725.4" height="288.2" fill="#fdfdfd" stroke="#3a3a3a" stroke-width="2"/><path d="M1012.0 59.8H1124.0" stroke="#505050" stroke-width="5.2"/><text x="1137.0" y="76.4">pH<tspan font-size="32" dy="12.3">0</tspan><tspan dy="-12.3"> = 8.56</tspan></text><path d="M1376.4 59.8H1487.5" stroke="#f34040" stroke-width="5.2"/><text x="1500.3" y="76.4">pH<tspan font-size="32" dy="12.3">0</tspan><tspan dy="-12.3"> = 8.64</tspan></text><path d="M1012.0 129.6H1124.0" stroke="#176bdf" stroke-width="5.2"/><text x="1137.0" y="146.2">pH<tspan font-size="32" dy="12.3">0</tspan><tspan dy="-12.3"> = 9.00</tspan></text><path d="M1376.4 129.6H1487.5" stroke="#2fac6a" stroke-width="5.2"/><text x="1500.3" y="146.2">pH<tspan font-size="32" dy="12.3">0</tspan><tspan dy="-12.3"> = 9.27</tspan></text><path d="M1012.0 199.5H1124.0" stroke="#b375dd" stroke-width="5.2"/><text x="1137.0" y="216.1">pH<tspan font-size="32" dy="12.3">0</tspan><tspan dy="-12.3"> = 9.65</tspan></text><path d="M1067.7 255.8V283.2" stroke="#3b3b3b" stroke-width="9" stroke-linecap="round"/><path d="M1296 255.8V283.2" stroke="#065c5c" stroke-width="9" stroke-linecap="round"/><text x="1135.8" y="287.0">ZnO</text><text x="1363.1" y="287.0">ZnGa<tspan font-size="32" dy="12.3">2</tspan><tspan dy="-12.3">O</tspan><tspan font-size="32" dy="12.3">4</tspan></text></g><rect x="171.0" y="27.0" width="1690.5" height="1360.5" fill="none" stroke="#000" stroke-width="4.0"/><g font-family="Liberation Sans, Arial, sans-serif" font-size="58" text-anchor="middle" fill="#000"><text x="171.0" y="1451">15</text><text x="340.1" y="1451">20</text><text x="509.1" y="1451">25</text><text x="678.1" y="1451">30</text><text x="847.2" y="1451">35</text><text x="1016.2" y="1451">40</text><text x="1185.3" y="1451">45</text><text x="1354.3" y="1451">50</text><text x="1523.4" y="1451">55</text><text x="1692.5" y="1451">60</text><text x="1861.5" y="1451">65</text></g><text x="1016" y="1555" font-family="Liberation Sans, Arial, sans-serif" font-size="71" text-anchor="middle" fill="#000">2 - theta (°)</text><text transform="translate(79 676) rotate(-90)" font-family="Liberation Sans, Arial, sans-serif" font-size="71" text-anchor="middle" fill="#000">Intensity (arb. unit)</text></svg></body></html>
